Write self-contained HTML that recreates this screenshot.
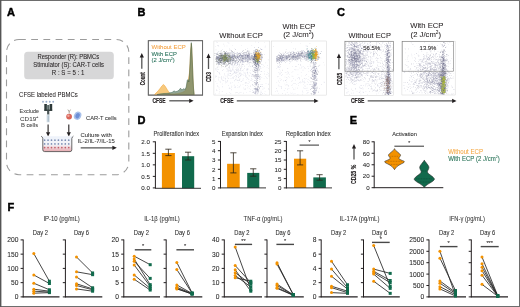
<!DOCTYPE html>
<html><head><meta charset="utf-8"><style>
html,body{margin:0;padding:0;background:#fff;width:520px;height:307px;overflow:hidden}
svg{display:block;filter:blur(0.3px)}
text{font-family:"Liberation Sans", sans-serif}
</style></head><body>
<svg width="520" height="307" viewBox="0 0 520 307" font-family='"Liberation Sans", sans-serif'>
<rect x="0" y="0" width="520" height="307" fill="#fff"/>
<defs><filter id="db" x="-5%" y="-5%" width="110%" height="110%"><feGaussianBlur stdDeviation="0.5"/></filter></defs>
<rect x="0.5" y="0.5" width="519" height="306" fill="none" stroke="#6d6d6d" stroke-width="1"/>
<line x1="0.7" y1="0" x2="0.7" y2="307" stroke="#555" stroke-width="1.4"/>
<text x="7" y="16.2" font-size="11" fill="#000" font-weight="bold" stroke="#000" stroke-width="0.45">A</text>
<text x="137.6" y="16.2" font-size="11" fill="#000" font-weight="bold" stroke="#000" stroke-width="0.45">B</text>
<text x="337" y="16.2" font-size="11" fill="#000" font-weight="bold" stroke="#000" stroke-width="0.45">C</text>
<text x="137.6" y="124.4" font-size="11" fill="#000" font-weight="bold" stroke="#000" stroke-width="0.45">D</text>
<text x="349.8" y="124.4" font-size="11" fill="#000" font-weight="bold" stroke="#000" stroke-width="0.45">E</text>
<text x="7.6" y="210.8" font-size="11" fill="#000" font-weight="bold" stroke="#000" stroke-width="0.45">F</text>
<rect x="6.5" y="39.5" width="122.3" height="135.2" rx="12.5" ry="12.5" fill="none" stroke="#9c9c9c" stroke-width="1.1" stroke-dasharray="6.8 5.4"/>
<rect x="24.2" y="51.8" width="89.6" height="27.4" rx="3.5" fill="#d7d7d8"/>
<text x="68.3" y="59.3" font-size="6.5" text-anchor="middle" fill="#231f20" textLength="61.8" lengthAdjust="spacingAndGlyphs"  stroke="#231f20" stroke-width="0.06">Responder (R): PBMCs</text>
<text x="68.6" y="67.2" font-size="6.5" text-anchor="middle" fill="#231f20" textLength="70.6" lengthAdjust="spacingAndGlyphs"  stroke="#231f20" stroke-width="0.06">Stimulator (S): CAR-T cells</text>
<text x="68.1" y="74.6" font-size="6.5" text-anchor="middle" fill="#231f20" textLength="32.5" lengthAdjust="spacingAndGlyphs"  stroke="#231f20" stroke-width="0.06">R : S = 5 : 1</text>
<text x="19.1" y="96.7" font-size="6.6" fill="#231f20" textLength="58.6" lengthAdjust="spacingAndGlyphs"  stroke="#231f20" stroke-width="0.06">CFSE labeled PBMCs</text>
<text x="29.4" y="113.0" font-size="5.6" text-anchor="middle" fill="#444" textLength="19.6" lengthAdjust="spacingAndGlyphs"  stroke="#444" stroke-width="0.06">Exclude</text>
<text x="29.3" y="120.6" font-size="5.6" text-anchor="middle" fill="#444" textLength="18.4" lengthAdjust="spacingAndGlyphs"  stroke="#444" stroke-width="0.06">CD19<tspan font-size="3.6" dy="-2.3">+</tspan></text>
<text x="29.5" y="127.1" font-size="5.6" text-anchor="middle" fill="#444" textLength="17.2" lengthAdjust="spacingAndGlyphs"  stroke="#444" stroke-width="0.06">B cells</text>
<circle cx="43.0" cy="101.7" r="0.95" fill="#9eb0cc"/>
<circle cx="46.4" cy="101.7" r="0.95" fill="#9eb0cc"/>
<circle cx="49.8" cy="101.7" r="0.95" fill="#9eb0cc"/>
<circle cx="53.2" cy="101.7" r="0.95" fill="#9eb0cc"/>
<rect x="44.3" y="104" width="2.6" height="6.6" fill="#2e3a3a"/>
<rect x="49.6" y="104" width="2.6" height="6.6" fill="#2e3a3a"/>
<rect x="46.9" y="105" width="2.7" height="5.6" fill="#7a8a88"/>
<rect x="47.9" y="105" width="0.6" height="5.6" fill="#3a4646"/>
<rect x="44.3" y="109.6" width="7.9" height="1.3" fill="#2e3a3a"/>
<rect x="47.1" y="110.8" width="2.2" height="3.9" fill="#4a5555"/>
<rect x="46.6" y="114.6" width="3.1" height="7.7" fill="#d3dee6"/>
<rect x="47.8" y="115.5" width="0.7" height="6.2" fill="#8fa4b4"/>
<line x1="48.1" y1="124.6" x2="48.1" y2="132.70000000000002" stroke="#231f20" stroke-width="1.1" />
<path d="M48.1,136.4 L46.0,132.20000000000002 L50.2,132.20000000000002 Z" fill="#231f20"/>
<path d="M69.2,111.8 L69.2,113.5 M69.2,111.8 L67.9,109.6 M69.2,111.8 L70.5,109.6" stroke="#9a8f80" stroke-width="0.8" fill="none"/>
<circle cx="69.1" cy="116.6" r="2.9" fill="#d9655a"/>
<circle cx="68.4" cy="115.8" r="1.2" fill="#f0a79e"/>
<ellipse cx="77.6" cy="115.7" rx="3.6" ry="4.3" fill="#a9c1ea" transform="rotate(25 77.6 115.7)"/>
<ellipse cx="77.6" cy="115.7" rx="2" ry="2.8" fill="#6e8fd6" transform="rotate(25 77.6 115.7)"/>
<line x1="68.8" y1="124.6" x2="68.8" y2="132.70000000000002" stroke="#231f20" stroke-width="1.1" />
<path d="M68.8,136.4 L66.7,132.20000000000002 L70.89999999999999,132.20000000000002 Z" fill="#231f20"/>
<text x="86" y="119.7" font-size="6.1" fill="#333" textLength="30.6" lengthAdjust="spacingAndGlyphs"  stroke="#333" stroke-width="0.06">CAR-T cells</text>
<defs><linearGradient id="wg" x1="0" y1="0" x2="0" y2="1"><stop offset="0" stop-color="#eef3fb"/><stop offset="0.55" stop-color="#f4f4f8"/><stop offset="1" stop-color="#e7a7ad"/></linearGradient></defs>
<path d="M41.2,136.2 Q42.6,137 42.8,138.5 L42.8,149.8 Q42.8,151.6 44.6,151.6 L70.0,151.6 Q71.8,151.6 71.8,149.8 L71.8,138.5 Q72.0,137 73.4,136.2" fill="url(#wg)" stroke="#444" stroke-width="0.8"/>
<circle cx="44.60" cy="140.2" r="0.85" fill="#7d8fb5"/>
<circle cx="48.05" cy="140.2" r="0.85" fill="#7d8fb5"/>
<circle cx="51.50" cy="140.2" r="0.85" fill="#7d8fb5"/>
<circle cx="54.95" cy="140.2" r="0.85" fill="#7d8fb5"/>
<circle cx="58.40" cy="140.2" r="0.85" fill="#7d8fb5"/>
<circle cx="61.85" cy="140.2" r="0.85" fill="#7d8fb5"/>
<circle cx="65.30" cy="140.2" r="0.85" fill="#7d8fb5"/>
<circle cx="68.75" cy="140.2" r="0.85" fill="#7d8fb5"/>
<circle cx="44.60" cy="143.9" r="0.85" fill="#7d8fb5"/>
<circle cx="48.05" cy="143.9" r="0.85" fill="#7d8fb5"/>
<circle cx="51.50" cy="143.9" r="0.85" fill="#7d8fb5"/>
<circle cx="54.95" cy="143.9" r="0.85" fill="#7d8fb5"/>
<circle cx="58.40" cy="143.9" r="0.85" fill="#7d8fb5"/>
<circle cx="61.85" cy="143.9" r="0.85" fill="#7d8fb5"/>
<circle cx="65.30" cy="143.9" r="0.85" fill="#7d8fb5"/>
<circle cx="68.75" cy="143.9" r="0.85" fill="#7d8fb5"/>
<circle cx="44.60" cy="147.6" r="0.85" fill="#c0606a"/>
<circle cx="48.05" cy="147.6" r="0.85" fill="#c0606a"/>
<circle cx="51.50" cy="147.6" r="0.85" fill="#c0606a"/>
<circle cx="54.95" cy="147.6" r="0.85" fill="#c0606a"/>
<circle cx="58.40" cy="147.6" r="0.85" fill="#c0606a"/>
<circle cx="61.85" cy="147.6" r="0.85" fill="#c0606a"/>
<circle cx="65.30" cy="147.6" r="0.85" fill="#c0606a"/>
<circle cx="68.75" cy="147.6" r="0.85" fill="#c0606a"/>
<text x="96.2" y="136.8" font-size="6.1" text-anchor="middle" fill="#333" textLength="31.4" lengthAdjust="spacingAndGlyphs"  stroke="#333" stroke-width="0.06">Culture with</text>
<text x="96.2" y="143.3" font-size="6.1" text-anchor="middle" fill="#333" textLength="37" lengthAdjust="spacingAndGlyphs"  stroke="#333" stroke-width="0.06">IL-2/IL-7/IL-15</text>
<line x1="80.7" y1="147.8" x2="112.89999999999999" y2="147.8" stroke="#555" stroke-width="1.3" />
<path d="M116.8,147.8 L112.39999999999999,145.70000000000002 L112.39999999999999,149.9 Z" fill="#231f20"/>
<rect x="148.3" y="40.7" width="54.3" height="54.4" fill="none" stroke="#666" stroke-width="0.85"/>
<text x="151.5" y="48.7" font-size="6.1" fill="#f4a040" textLength="34.2" lengthAdjust="spacingAndGlyphs"  stroke="#f4a040" stroke-width="0.06">Without ECP</text>
<text x="151.5" y="56.4" font-size="6.1" fill="#1c6a52" textLength="25.4" lengthAdjust="spacingAndGlyphs"  stroke="#1c6a52" stroke-width="0.06">With ECP</text>
<text x="151.5" y="62.4" font-size="6.1" fill="#1c6a52" textLength="23.3" lengthAdjust="spacingAndGlyphs"  stroke="#1c6a52" stroke-width="0.06">(2 J/cm<tspan font-size="3.7" dy="-2.2">2</tspan><tspan dy="2.2">)</tspan></text>
<text x="0" y="0" font-size="6.8" text-anchor="middle" font-weight="bold" fill="#231f20" stroke="#231f20" stroke-width="0.2" textLength="13.2" lengthAdjust="spacingAndGlyphs" transform="translate(144.7,78.7) rotate(-90)">Count</text>
<line x1="141.8" y1="68.8" x2="141.8" y2="56.9" stroke="#555" stroke-width="1.3" />
<path d="M141.8,53 L139.70000000000002,57.4 L143.9,57.4 Z" fill="#231f20"/>
<text x="152.4" y="103.2" font-size="7.4" fill="#231f20" font-weight="bold" textLength="13.2" lengthAdjust="spacingAndGlyphs" stroke="#231f20" stroke-width="0.2">CFSE</text>
<line x1="169.3" y1="100.8" x2="189.7" y2="100.8" stroke="#555" stroke-width="1.3" />
<path d="M193.6,100.8 L189.2,98.7 L189.2,102.89999999999999 Z" fill="#231f20"/>
<text x="241" y="38.1" font-size="7.8" text-anchor="middle" fill="#231f20" textLength="43.6" lengthAdjust="spacingAndGlyphs"  stroke="#231f20" stroke-width="0.06">Without ECP</text>
<text x="298.9" y="28.6" font-size="7.6" text-anchor="middle" fill="#231f20" textLength="32.6" lengthAdjust="spacingAndGlyphs"  stroke="#231f20" stroke-width="0.06">With ECP</text>
<text x="298.6" y="37.2" font-size="7.6" text-anchor="middle" fill="#231f20" textLength="30.6" lengthAdjust="spacingAndGlyphs"  stroke="#231f20" stroke-width="0.06">(2 J/cm<tspan font-size="4.7" dy="-2.9">2</tspan><tspan dy="2.9">)</tspan></text>
<text x="0" y="0" font-size="7.2" text-anchor="middle" font-weight="bold" fill="#231f20" stroke="#231f20" stroke-width="0.2" textLength="10" lengthAdjust="spacingAndGlyphs" transform="translate(211,77) rotate(-90)">CD3</text>
<line x1="208.5" y1="69" x2="208.5" y2="57.5" stroke="#555" stroke-width="1.3" />
<path d="M208.5,53.6 L206.4,58.0 L210.6,58.0 Z" fill="#231f20"/>
<text x="220.2" y="103.2" font-size="7.4" fill="#231f20" font-weight="bold" textLength="13.4" lengthAdjust="spacingAndGlyphs" stroke="#231f20" stroke-width="0.2">CFSE</text>
<line x1="236.8" y1="100.9" x2="314.6" y2="100.9" stroke="#555" stroke-width="1.3" />
<path d="M318.5,100.9 L314.1,98.80000000000001 L314.1,103.0 Z" fill="#231f20"/>
<text x="369.7" y="38.0" font-size="7.8" text-anchor="middle" fill="#231f20" textLength="42.4" lengthAdjust="spacingAndGlyphs"  stroke="#231f20" stroke-width="0.06">Without ECP</text>
<text x="426.8" y="28.0" font-size="7.6" text-anchor="middle" fill="#231f20" textLength="33.2" lengthAdjust="spacingAndGlyphs"  stroke="#231f20" stroke-width="0.06">With ECP</text>
<text x="425.8" y="37.2" font-size="7.6" text-anchor="middle" fill="#231f20" textLength="30.4" lengthAdjust="spacingAndGlyphs"  stroke="#231f20" stroke-width="0.06">(2 J/cm<tspan font-size="4.7" dy="-2.9">2</tspan><tspan dy="2.9">)</tspan></text>
<text x="0" y="0" font-size="7.2" text-anchor="middle" font-weight="bold" fill="#231f20" stroke="#231f20" stroke-width="0.2" textLength="12" lengthAdjust="spacingAndGlyphs" transform="translate(341.5,78.9) rotate(-90)">CD25</text>
<line x1="338.9" y1="69.2" x2="338.9" y2="57.5" stroke="#555" stroke-width="1.3" />
<path d="M338.9,53.6 L336.79999999999995,58.0 L341.0,58.0 Z" fill="#231f20"/>
<text x="350.9" y="103.2" font-size="7.4" fill="#231f20" font-weight="bold" textLength="13.6" lengthAdjust="spacingAndGlyphs" stroke="#231f20" stroke-width="0.2">CFSE</text>
<line x1="367.7" y1="100.9" x2="452.6" y2="100.9" stroke="#555" stroke-width="1.3" />
<path d="M456.5,100.9 L452.1,98.80000000000001 L452.1,103.0 Z" fill="#231f20"/>
<g filter="url(#db)">
<path fill="#a2a4c6" fill-opacity="0.45" d="M231.8 67.0h0.6v0.6h-0.6zM216.1 76.3h0.6v0.6h-0.6zM227.2 80.2h0.6v0.6h-0.6zM248.7 81.2h0.6v0.6h-0.6zM234.5 80.1h0.6v0.6h-0.6zM265.3 75.9h0.6v0.6h-0.6zM245.9 77.1h0.6v0.6h-0.6zM266.0 77.6h0.6v0.6h-0.6zM222.3 83.7h0.6v0.6h-0.6zM235.6 75.2h0.6v0.6h-0.6zM220.0 81.8h0.6v0.6h-0.6zM219.6 74.0h0.6v0.6h-0.6zM247.1 77.6h0.6v0.6h-0.6zM239.6 78.0h0.6v0.6h-0.6zM233.9 84.8h0.6v0.6h-0.6zM255.7 71.8h0.6v0.6h-0.6zM225.0 78.3h0.6v0.6h-0.6zM258.0 64.8h0.6v0.6h-0.6zM239.5 86.5h0.6v0.6h-0.6zM222.6 80.1h0.6v0.6h-0.6zM214.8 94.0h0.6v0.6h-0.6zM243.9 89.5h0.6v0.6h-0.6zM223.5 77.6h0.6v0.6h-0.6zM243.2 77.9h0.6v0.6h-0.6zM238.9 62.9h0.6v0.6h-0.6zM260.2 66.5h0.6v0.6h-0.6zM231.5 85.8h0.6v0.6h-0.6zM232.6 77.1h0.6v0.6h-0.6zM245.4 85.1h0.6v0.6h-0.6zM237.4 64.4h0.6v0.6h-0.6zM248.9 88.5h0.6v0.6h-0.6zM236.3 73.5h0.6v0.6h-0.6zM246.9 84.9h0.6v0.6h-0.6zM250.1 70.2h0.6v0.6h-0.6zM236.0 63.4h0.6v0.6h-0.6zM230.5 82.8h0.6v0.6h-0.6zM245.3 88.8h0.6v0.6h-0.6zM251.4 78.1h0.6v0.6h-0.6zM264.1 71.5h0.6v0.6h-0.6zM247.9 83.2h0.6v0.6h-0.6zM217.3 70.9h0.6v0.6h-0.6zM259.1 78.8h0.6v0.6h-0.6zM236.9 74.4h0.6v0.6h-0.6zM261.0 71.3h0.6v0.6h-0.6zM219.0 73.3h0.6v0.6h-0.6zM234.7 73.2h0.6v0.6h-0.6zM260.7 90.8h0.6v0.6h-0.6zM267.3 78.2h0.6v0.6h-0.6zM218.7 87.6h0.6v0.6h-0.6zM257.0 69.7h0.6v0.6h-0.6zM252.4 65.7h0.6v0.6h-0.6zM264.9 45.8h0.6v0.6h-0.6zM229.4 48.4h0.6v0.6h-0.6zM216.2 41.7h0.6v0.6h-0.6zM264.4 54.3h0.6v0.6h-0.6zM221.3 51.4h0.6v0.6h-0.6zM227.6 42.4h0.6v0.6h-0.6zM267.9 59.6h0.6v0.6h-0.6zM228.6 42.8h0.6v0.6h-0.6zM260.6 55.0h0.6v0.6h-0.6zM247.7 68.4h0.6v0.6h-0.6zM223.6 62.7h0.6v0.6h-0.6zM232.9 69.2h0.6v0.6h-0.6zM231.4 63.7h0.6v0.6h-0.6zM223.5 58.1h0.6v0.6h-0.6zM215.7 67.9h0.6v0.6h-0.6zM230.5 82.6h0.6v0.6h-0.6zM246.2 68.8h0.6v0.6h-0.6zM226.0 63.8h0.6v0.6h-0.6zM247.2 72.3h0.6v0.6h-0.6zM230.4 69.9h0.6v0.6h-0.6zM227.0 60.0h0.6v0.6h-0.6zM254.7 51.8h0.6v0.6h-0.6zM224.8 66.9h0.6v0.6h-0.6zM242.6 80.3h0.6v0.6h-0.6zM253.2 63.5h0.6v0.6h-0.6zM237.9 80.1h0.6v0.6h-0.6zM233.4 62.6h0.6v0.6h-0.6zM230.2 73.2h0.6v0.6h-0.6zM236.1 70.2h0.6v0.6h-0.6zM246.7 83.0h0.6v0.6h-0.6zM219.1 72.6h0.6v0.6h-0.6zM240.3 67.9h0.6v0.6h-0.6zM233.2 73.2h0.6v0.6h-0.6zM240.8 70.7h0.6v0.6h-0.6zM231.2 59.2h0.6v0.6h-0.6zM242.9 58.2h0.6v0.6h-0.6zM240.8 73.0h0.6v0.6h-0.6zM257.5 73.6h0.6v0.6h-0.6zM243.4 62.2h0.6v0.6h-0.6zM237.2 63.6h0.6v0.6h-0.6zM229.9 68.8h0.6v0.6h-0.6zM242.0 70.0h0.6v0.6h-0.6zM231.7 70.0h0.6v0.6h-0.6zM236.4 58.3h0.6v0.6h-0.6zM234.8 87.4h0.6v0.6h-0.6zM238.4 76.7h0.6v0.6h-0.6zM244.1 61.6h0.6v0.6h-0.6zM228.5 71.7h0.6v0.6h-0.6zM242.0 63.5h0.6v0.6h-0.6zM242.3 66.2h0.6v0.6h-0.6zM228.0 75.2h0.6v0.6h-0.6zM233.6 71.7h0.6v0.6h-0.6zM230.8 71.0h0.6v0.6h-0.6zM226.6 70.9h0.6v0.6h-0.6zM237.4 70.1h0.6v0.6h-0.6zM232.2 65.6h0.6v0.6h-0.6zM229.8 70.2h0.6v0.6h-0.6zM235.5 62.5h0.6v0.6h-0.6zM218.6 66.6h0.6v0.6h-0.6zM229.4 75.2h0.6v0.6h-0.6zM239.6 76.0h0.6v0.6h-0.6zM216.9 71.4h0.6v0.6h-0.6zM232.3 74.5h0.6v0.6h-0.6z"/>
<path fill="#9698be" fill-opacity="0.45" d="M218.0 79.7h0.6v0.6h-0.6zM216.6 90.3h0.6v0.6h-0.6zM251.4 76.1h0.6v0.6h-0.6zM239.6 92.5h0.6v0.6h-0.6zM262.1 86.1h0.6v0.6h-0.6zM256.1 80.9h0.6v0.6h-0.6zM268.6 89.1h0.6v0.6h-0.6zM253.4 91.3h0.6v0.6h-0.6zM240.7 81.4h0.6v0.6h-0.6zM222.2 70.3h0.6v0.6h-0.6zM221.9 86.7h0.6v0.6h-0.6zM252.3 70.6h0.6v0.6h-0.6zM243.3 87.7h0.6v0.6h-0.6zM228.3 84.9h0.6v0.6h-0.6zM238.6 92.9h0.6v0.6h-0.6zM219.6 77.5h0.6v0.6h-0.6zM260.2 77.8h0.6v0.6h-0.6zM240.3 67.9h0.6v0.6h-0.6zM267.9 83.7h0.6v0.6h-0.6zM227.2 81.4h0.6v0.6h-0.6zM247.3 68.6h0.6v0.6h-0.6zM262.2 93.1h0.6v0.6h-0.6zM237.6 69.0h0.6v0.6h-0.6zM265.7 83.2h0.6v0.6h-0.6zM236.2 75.9h0.6v0.6h-0.6zM235.1 79.1h0.6v0.6h-0.6zM267.4 65.5h0.6v0.6h-0.6zM260.7 84.3h0.6v0.6h-0.6zM247.4 69.3h0.6v0.6h-0.6zM261.5 77.0h0.6v0.6h-0.6zM268.7 75.8h0.6v0.6h-0.6zM265.6 94.0h0.6v0.6h-0.6zM216.8 68.7h0.6v0.6h-0.6zM228.9 88.5h0.6v0.6h-0.6zM260.0 62.5h0.6v0.6h-0.6zM261.9 84.1h0.6v0.6h-0.6zM231.8 63.1h0.6v0.6h-0.6zM226.0 68.0h0.6v0.6h-0.6zM218.7 63.4h0.6v0.6h-0.6zM217.6 86.3h0.6v0.6h-0.6zM247.0 72.9h0.6v0.6h-0.6zM252.1 84.3h0.6v0.6h-0.6zM260.2 62.1h0.6v0.6h-0.6zM253.2 91.8h0.6v0.6h-0.6zM233.8 76.1h0.6v0.6h-0.6zM238.8 86.8h0.6v0.6h-0.6zM221.0 77.6h0.6v0.6h-0.6zM229.5 70.4h0.6v0.6h-0.6zM241.4 81.0h0.6v0.6h-0.6zM236.0 76.7h0.6v0.6h-0.6zM215.6 75.6h0.6v0.6h-0.6zM252.3 56.1h0.6v0.6h-0.6zM251.5 45.2h0.6v0.6h-0.6zM226.7 45.7h0.6v0.6h-0.6zM238.7 56.0h0.6v0.6h-0.6zM255.1 59.9h0.6v0.6h-0.6zM216.4 56.7h0.6v0.6h-0.6zM247.4 47.9h0.6v0.6h-0.6zM237.4 64.3h0.6v0.6h-0.6zM228.1 67.2h0.6v0.6h-0.6zM237.2 72.4h0.6v0.6h-0.6zM238.2 69.0h0.6v0.6h-0.6zM234.5 71.6h0.6v0.6h-0.6zM239.8 73.7h0.6v0.6h-0.6zM233.5 66.0h0.6v0.6h-0.6zM230.3 73.3h0.6v0.6h-0.6zM231.6 78.4h0.6v0.6h-0.6zM234.5 70.7h0.6v0.6h-0.6zM240.9 68.5h0.6v0.6h-0.6zM226.8 64.8h0.6v0.6h-0.6zM243.7 72.6h0.6v0.6h-0.6zM246.4 82.5h0.6v0.6h-0.6zM244.2 65.7h0.6v0.6h-0.6zM225.5 75.7h0.6v0.6h-0.6zM247.8 69.5h0.6v0.6h-0.6zM232.9 78.1h0.6v0.6h-0.6zM235.9 65.0h0.6v0.6h-0.6zM247.0 73.0h0.6v0.6h-0.6zM224.2 59.2h0.6v0.6h-0.6zM251.7 74.5h0.6v0.6h-0.6zM238.2 66.0h0.6v0.6h-0.6zM249.7 91.1h0.6v0.6h-0.6zM236.3 72.0h0.6v0.6h-0.6zM251.9 59.9h0.6v0.6h-0.6zM250.0 66.1h0.6v0.6h-0.6zM241.8 61.2h0.6v0.6h-0.6zM233.8 76.1h0.6v0.6h-0.6zM242.9 70.7h0.6v0.6h-0.6zM250.5 73.5h0.6v0.6h-0.6zM234.6 86.8h0.6v0.6h-0.6zM232.1 68.8h0.6v0.6h-0.6zM233.9 60.6h0.6v0.6h-0.6zM216.7 83.4h0.6v0.6h-0.6zM251.3 79.8h0.6v0.6h-0.6zM232.3 62.3h0.6v0.6h-0.6zM233.1 60.4h0.6v0.6h-0.6zM223.2 69.2h0.6v0.6h-0.6zM234.1 71.9h0.6v0.6h-0.6zM227.8 73.6h0.6v0.6h-0.6zM232.2 68.4h0.6v0.6h-0.6zM225.3 80.8h0.6v0.6h-0.6zM231.5 62.8h0.6v0.6h-0.6zM227.8 77.9h0.6v0.6h-0.6zM231.4 64.4h0.6v0.6h-0.6zM238.7 70.3h0.6v0.6h-0.6zM226.5 81.8h0.6v0.6h-0.6zM227.2 74.7h0.6v0.6h-0.6z"/>
<path fill="#b0b2d0" fill-opacity="0.45" d="M246.1 92.0h0.6v0.6h-0.6zM259.5 66.1h0.6v0.6h-0.6zM245.7 75.1h0.6v0.6h-0.6zM231.0 88.9h0.6v0.6h-0.6zM219.7 80.8h0.6v0.6h-0.6zM230.5 88.2h0.6v0.6h-0.6zM237.0 87.0h0.6v0.6h-0.6zM215.2 77.2h0.6v0.6h-0.6zM247.6 78.3h0.6v0.6h-0.6zM256.3 66.3h0.6v0.6h-0.6zM266.7 67.0h0.6v0.6h-0.6zM234.3 80.7h0.6v0.6h-0.6zM240.5 75.2h0.6v0.6h-0.6zM217.7 68.9h0.6v0.6h-0.6zM264.0 73.7h0.6v0.6h-0.6zM249.0 82.2h0.6v0.6h-0.6zM258.3 89.0h0.6v0.6h-0.6zM266.5 74.0h0.6v0.6h-0.6zM264.0 87.8h0.6v0.6h-0.6zM253.9 67.6h0.6v0.6h-0.6zM268.3 68.4h0.6v0.6h-0.6zM215.0 76.5h0.6v0.6h-0.6zM247.5 87.6h0.6v0.6h-0.6zM262.6 63.9h0.6v0.6h-0.6zM264.8 91.5h0.6v0.6h-0.6zM235.6 72.4h0.6v0.6h-0.6zM257.1 91.6h0.6v0.6h-0.6zM262.7 67.4h0.6v0.6h-0.6zM242.2 64.1h0.6v0.6h-0.6zM229.0 91.9h0.6v0.6h-0.6zM229.3 88.4h0.6v0.6h-0.6zM248.2 63.4h0.6v0.6h-0.6zM248.6 79.5h0.6v0.6h-0.6zM229.9 78.5h0.6v0.6h-0.6zM267.4 72.2h0.6v0.6h-0.6zM268.0 73.3h0.6v0.6h-0.6zM219.0 89.0h0.6v0.6h-0.6zM246.2 79.5h0.6v0.6h-0.6zM222.2 85.9h0.6v0.6h-0.6zM259.5 81.3h0.6v0.6h-0.6zM258.5 89.9h0.6v0.6h-0.6zM268.7 74.8h0.6v0.6h-0.6zM251.5 75.4h0.6v0.6h-0.6zM260.2 66.0h0.6v0.6h-0.6zM259.9 71.4h0.6v0.6h-0.6zM244.7 75.0h0.6v0.6h-0.6zM263.8 78.4h0.6v0.6h-0.6zM237.5 80.1h0.6v0.6h-0.6zM235.1 86.6h0.6v0.6h-0.6zM220.9 78.6h0.6v0.6h-0.6zM261.1 94.1h0.6v0.6h-0.6zM257.1 69.4h0.6v0.6h-0.6zM249.5 72.0h0.6v0.6h-0.6zM230.5 93.1h0.6v0.6h-0.6zM231.4 89.7h0.6v0.6h-0.6zM240.1 69.7h0.6v0.6h-0.6zM254.7 51.6h0.6v0.6h-0.6zM241.3 45.2h0.6v0.6h-0.6zM222.1 49.3h0.6v0.6h-0.6zM254.3 61.9h0.6v0.6h-0.6zM218.8 55.8h0.6v0.6h-0.6zM234.5 60.3h0.6v0.6h-0.6zM258.2 42.3h0.6v0.6h-0.6zM258.1 56.5h0.6v0.6h-0.6zM218.3 45.1h0.6v0.6h-0.6zM240.5 52.4h0.6v0.6h-0.6zM238.1 75.0h0.6v0.6h-0.6zM246.7 69.6h0.6v0.6h-0.6zM250.2 72.7h0.6v0.6h-0.6zM239.8 60.1h0.6v0.6h-0.6zM233.5 67.7h0.6v0.6h-0.6zM236.3 70.7h0.6v0.6h-0.6zM228.4 66.9h0.6v0.6h-0.6zM238.0 71.7h0.6v0.6h-0.6zM239.9 75.7h0.6v0.6h-0.6zM224.8 77.8h0.6v0.6h-0.6zM246.3 64.5h0.6v0.6h-0.6zM240.9 73.7h0.6v0.6h-0.6zM231.4 65.2h0.6v0.6h-0.6zM228.3 64.5h0.6v0.6h-0.6zM233.4 69.9h0.6v0.6h-0.6zM232.1 82.4h0.6v0.6h-0.6zM230.4 59.7h0.6v0.6h-0.6zM215.8 69.8h0.6v0.6h-0.6zM225.6 64.7h0.6v0.6h-0.6zM235.0 71.7h0.6v0.6h-0.6zM227.8 56.6h0.6v0.6h-0.6zM234.2 72.5h0.6v0.6h-0.6zM242.6 74.1h0.6v0.6h-0.6zM229.5 73.1h0.6v0.6h-0.6zM236.8 71.0h0.6v0.6h-0.6zM249.5 65.6h0.6v0.6h-0.6zM227.0 68.6h0.6v0.6h-0.6zM247.4 70.7h0.6v0.6h-0.6zM243.4 69.0h0.6v0.6h-0.6zM245.2 74.3h0.6v0.6h-0.6zM235.6 75.1h0.6v0.6h-0.6zM242.0 64.1h0.6v0.6h-0.6zM229.0 67.4h0.6v0.6h-0.6zM245.6 76.3h0.6v0.6h-0.6zM245.5 60.7h0.6v0.6h-0.6zM231.2 70.5h0.6v0.6h-0.6zM244.5 54.8h0.6v0.6h-0.6zM237.6 69.0h0.6v0.6h-0.6zM227.2 69.9h0.6v0.6h-0.6zM231.4 75.1h0.6v0.6h-0.6zM233.4 65.0h0.6v0.6h-0.6zM243.0 75.5h0.6v0.6h-0.6zM239.0 73.4h0.6v0.6h-0.6zM240.3 75.3h0.6v0.6h-0.6zM242.7 78.8h0.6v0.6h-0.6zM235.0 62.6h0.6v0.6h-0.6zM235.9 69.3h0.6v0.6h-0.6zM224.9 64.7h0.6v0.6h-0.6zM229.3 65.0h0.6v0.6h-0.6zM246.9 72.1h0.6v0.6h-0.6zM231.3 53.2h0.6v0.6h-0.6zM227.0 61.3h0.6v0.6h-0.6zM249.1 63.2h0.6v0.6h-0.6zM220.4 63.5h0.6v0.6h-0.6zM237.4 63.6h0.6v0.6h-0.6zM240.1 57.0h0.6v0.6h-0.6zM229.4 68.1h0.6v0.6h-0.6zM245.4 72.8h0.6v0.6h-0.6zM233.9 65.0h0.6v0.6h-0.6zM238.1 77.1h0.6v0.6h-0.6z"/>
<path fill="#b8b8c8" fill-opacity="0.45" d="M237.1 79.8h0.6v0.6h-0.6zM247.5 64.4h0.6v0.6h-0.6zM217.3 85.1h0.6v0.6h-0.6zM218.4 76.8h0.6v0.6h-0.6zM229.5 66.8h0.6v0.6h-0.6zM252.0 79.0h0.6v0.6h-0.6zM263.5 87.7h0.6v0.6h-0.6zM240.3 84.8h0.6v0.6h-0.6zM215.3 93.4h0.6v0.6h-0.6zM225.2 82.6h0.6v0.6h-0.6zM258.4 66.8h0.6v0.6h-0.6zM215.5 69.0h0.6v0.6h-0.6zM250.4 88.9h0.6v0.6h-0.6zM237.1 92.3h0.6v0.6h-0.6zM221.2 67.0h0.6v0.6h-0.6zM244.6 72.8h0.6v0.6h-0.6zM229.2 87.5h0.6v0.6h-0.6zM238.4 82.2h0.6v0.6h-0.6zM241.9 70.2h0.6v0.6h-0.6zM222.9 76.2h0.6v0.6h-0.6zM236.3 79.7h0.6v0.6h-0.6zM216.0 62.6h0.6v0.6h-0.6zM235.0 77.7h0.6v0.6h-0.6zM250.2 85.6h0.6v0.6h-0.6zM216.4 89.6h0.6v0.6h-0.6zM248.5 86.2h0.6v0.6h-0.6zM221.7 79.3h0.6v0.6h-0.6zM244.7 82.7h0.6v0.6h-0.6zM239.1 64.3h0.6v0.6h-0.6zM263.4 65.0h0.6v0.6h-0.6zM239.6 65.9h0.6v0.6h-0.6zM218.1 65.0h0.6v0.6h-0.6zM228.4 73.9h0.6v0.6h-0.6zM227.7 70.8h0.6v0.6h-0.6zM264.2 93.0h0.6v0.6h-0.6zM240.7 92.1h0.6v0.6h-0.6zM249.4 64.5h0.6v0.6h-0.6zM231.6 74.2h0.6v0.6h-0.6zM235.5 92.6h0.6v0.6h-0.6zM235.3 69.4h0.6v0.6h-0.6zM220.0 54.1h0.6v0.6h-0.6zM264.1 42.2h0.6v0.6h-0.6zM232.1 44.9h0.6v0.6h-0.6zM234.0 48.0h0.6v0.6h-0.6zM264.8 47.2h0.6v0.6h-0.6zM239.3 57.5h0.6v0.6h-0.6zM248.1 55.2h0.6v0.6h-0.6zM236.7 75.7h0.6v0.6h-0.6zM236.3 72.2h0.6v0.6h-0.6zM245.5 75.8h0.6v0.6h-0.6zM217.5 62.9h0.6v0.6h-0.6zM224.7 59.4h0.6v0.6h-0.6zM225.3 79.4h0.6v0.6h-0.6zM248.7 75.6h0.6v0.6h-0.6zM237.8 64.7h0.6v0.6h-0.6zM219.4 54.5h0.6v0.6h-0.6zM228.9 65.0h0.6v0.6h-0.6zM226.2 64.8h0.6v0.6h-0.6zM239.8 73.6h0.6v0.6h-0.6zM234.3 64.7h0.6v0.6h-0.6zM230.1 60.4h0.6v0.6h-0.6zM239.2 76.5h0.6v0.6h-0.6zM237.3 85.2h0.6v0.6h-0.6zM226.7 75.8h0.6v0.6h-0.6zM236.6 68.3h0.6v0.6h-0.6zM217.1 60.3h0.6v0.6h-0.6zM232.9 77.0h0.6v0.6h-0.6zM240.4 68.7h0.6v0.6h-0.6zM242.6 64.4h0.6v0.6h-0.6zM228.9 69.7h0.6v0.6h-0.6zM231.2 70.9h0.6v0.6h-0.6zM244.0 65.9h0.6v0.6h-0.6zM229.5 61.1h0.6v0.6h-0.6zM231.9 69.6h0.6v0.6h-0.6zM215.2 68.6h0.6v0.6h-0.6zM234.9 53.4h0.6v0.6h-0.6zM228.6 71.2h0.6v0.6h-0.6zM237.9 68.1h0.6v0.6h-0.6zM227.9 68.8h0.6v0.6h-0.6zM238.4 76.9h0.6v0.6h-0.6zM245.3 82.8h0.6v0.6h-0.6zM239.9 69.6h0.6v0.6h-0.6zM240.7 63.0h0.6v0.6h-0.6zM240.2 75.2h0.6v0.6h-0.6zM227.5 80.2h0.6v0.6h-0.6z"/>
<path fill="#a9a9bb" fill-opacity="0.45" d="M245.0 82.4h0.6v0.6h-0.6zM218.5 71.9h0.6v0.6h-0.6zM232.7 73.6h0.6v0.6h-0.6zM235.9 92.3h0.6v0.6h-0.6zM229.3 66.5h0.6v0.6h-0.6zM261.5 71.2h0.6v0.6h-0.6zM268.3 84.5h0.6v0.6h-0.6zM250.0 86.4h0.6v0.6h-0.6zM217.9 68.9h0.6v0.6h-0.6zM268.4 88.1h0.6v0.6h-0.6zM218.8 93.2h0.6v0.6h-0.6zM215.5 81.5h0.6v0.6h-0.6zM243.0 92.8h0.6v0.6h-0.6zM264.1 73.7h0.6v0.6h-0.6zM238.9 79.6h0.6v0.6h-0.6zM221.9 91.1h0.6v0.6h-0.6zM226.1 93.4h0.6v0.6h-0.6zM228.9 66.3h0.6v0.6h-0.6zM244.3 68.3h0.6v0.6h-0.6zM227.5 76.8h0.6v0.6h-0.6zM250.1 80.0h0.6v0.6h-0.6zM237.7 63.8h0.6v0.6h-0.6zM239.3 67.2h0.6v0.6h-0.6zM235.4 72.8h0.6v0.6h-0.6zM266.8 74.4h0.6v0.6h-0.6zM254.1 68.8h0.6v0.6h-0.6zM241.2 74.6h0.6v0.6h-0.6zM248.2 66.4h0.6v0.6h-0.6zM253.0 71.4h0.6v0.6h-0.6zM265.5 62.6h0.6v0.6h-0.6zM218.2 78.7h0.6v0.6h-0.6zM252.7 69.6h0.6v0.6h-0.6zM235.7 67.2h0.6v0.6h-0.6zM227.9 64.1h0.6v0.6h-0.6zM231.4 87.5h0.6v0.6h-0.6zM262.6 88.8h0.6v0.6h-0.6zM225.2 64.7h0.6v0.6h-0.6zM236.3 69.9h0.6v0.6h-0.6zM238.9 73.0h0.6v0.6h-0.6zM225.1 62.7h0.6v0.6h-0.6zM219.1 91.6h0.6v0.6h-0.6zM221.0 76.0h0.6v0.6h-0.6zM242.7 84.5h0.6v0.6h-0.6zM248.5 79.4h0.6v0.6h-0.6zM217.0 45.1h0.6v0.6h-0.6zM218.5 45.8h0.6v0.6h-0.6zM224.3 45.7h0.6v0.6h-0.6zM215.3 53.5h0.6v0.6h-0.6zM216.9 42.3h0.6v0.6h-0.6zM255.0 41.7h0.6v0.6h-0.6zM260.2 61.7h0.6v0.6h-0.6zM244.9 56.9h0.6v0.6h-0.6zM233.6 58.3h0.6v0.6h-0.6zM231.8 56.5h0.6v0.6h-0.6zM215.7 49.6h0.6v0.6h-0.6zM215.3 45.9h0.6v0.6h-0.6zM253.4 50.8h0.6v0.6h-0.6zM257.4 60.2h0.6v0.6h-0.6zM237.2 61.8h0.6v0.6h-0.6zM223.5 43.8h0.6v0.6h-0.6zM233.6 67.4h0.6v0.6h-0.6zM240.2 69.8h0.6v0.6h-0.6zM240.8 66.6h0.6v0.6h-0.6zM223.5 80.1h0.6v0.6h-0.6zM242.6 58.1h0.6v0.6h-0.6zM238.0 70.8h0.6v0.6h-0.6zM230.5 64.5h0.6v0.6h-0.6zM221.2 76.0h0.6v0.6h-0.6zM221.6 77.7h0.6v0.6h-0.6zM238.6 74.5h0.6v0.6h-0.6zM232.1 64.6h0.6v0.6h-0.6zM224.2 74.6h0.6v0.6h-0.6zM224.2 73.2h0.6v0.6h-0.6zM244.5 59.1h0.6v0.6h-0.6zM239.7 72.3h0.6v0.6h-0.6zM249.2 75.6h0.6v0.6h-0.6zM244.8 88.6h0.6v0.6h-0.6zM253.0 74.2h0.6v0.6h-0.6zM235.9 78.7h0.6v0.6h-0.6zM235.3 63.3h0.6v0.6h-0.6zM234.1 71.7h0.6v0.6h-0.6zM239.6 79.4h0.6v0.6h-0.6zM227.9 62.1h0.6v0.6h-0.6zM247.6 73.8h0.6v0.6h-0.6zM235.8 69.2h0.6v0.6h-0.6zM235.7 62.2h0.6v0.6h-0.6zM247.0 61.9h0.6v0.6h-0.6zM237.5 60.6h0.6v0.6h-0.6zM229.4 67.4h0.6v0.6h-0.6zM246.5 70.2h0.6v0.6h-0.6zM230.3 57.7h0.6v0.6h-0.6zM230.4 75.6h0.6v0.6h-0.6zM247.6 62.7h0.6v0.6h-0.6zM235.7 65.7h0.6v0.6h-0.6zM253.6 71.1h0.6v0.6h-0.6zM241.3 66.8h0.6v0.6h-0.6zM230.1 71.3h0.6v0.6h-0.6zM226.8 69.0h0.6v0.6h-0.6zM239.4 80.3h0.6v0.6h-0.6zM264.4 66.0h0.6v0.6h-0.6zM240.7 60.8h0.6v0.6h-0.6zM228.2 78.0h0.6v0.6h-0.6zM226.8 60.2h0.6v0.6h-0.6zM232.1 59.8h0.6v0.6h-0.6zM228.4 70.1h0.6v0.6h-0.6zM237.4 67.1h0.6v0.6h-0.6zM236.8 65.2h0.6v0.6h-0.6zM239.5 64.8h0.6v0.6h-0.6z"/>
<path fill="#8a8cae" fill-opacity="0.6" d="M256.2 55.7h0.6v0.6h-0.6zM221.0 63.3h0.6v0.6h-0.6zM218.8 54.9h0.6v0.6h-0.6zM248.0 60.6h0.6v0.6h-0.6zM219.8 58.8h0.6v0.6h-0.6zM223.5 59.2h0.6v0.6h-0.6zM242.9 59.4h0.6v0.6h-0.6zM240.8 56.1h0.6v0.6h-0.6zM233.1 57.7h0.6v0.6h-0.6zM256.1 56.9h0.6v0.6h-0.6zM233.1 55.7h0.6v0.6h-0.6zM253.1 62.0h0.6v0.6h-0.6zM258.6 59.0h0.6v0.6h-0.6zM228.3 57.5h0.6v0.6h-0.6zM228.0 60.4h0.6v0.6h-0.6zM221.5 58.5h0.6v0.6h-0.6zM261.0 59.0h0.6v0.6h-0.6zM231.4 60.9h0.6v0.6h-0.6zM220.2 53.6h0.6v0.6h-0.6zM245.3 55.2h0.6v0.6h-0.6zM249.0 58.4h0.6v0.6h-0.6zM240.2 59.3h0.6v0.6h-0.6zM260.6 59.1h0.6v0.6h-0.6zM227.5 57.2h0.6v0.6h-0.6zM219.2 58.5h0.6v0.6h-0.6zM225.2 57.1h0.6v0.6h-0.6zM260.6 54.8h0.6v0.6h-0.6zM244.6 57.2h0.6v0.6h-0.6zM245.9 58.5h0.6v0.6h-0.6zM255.6 57.0h0.6v0.6h-0.6zM236.2 60.2h0.6v0.6h-0.6zM220.4 62.2h0.6v0.6h-0.6zM256.1 54.6h0.6v0.6h-0.6zM230.8 59.1h0.6v0.6h-0.6zM240.8 57.5h0.6v0.6h-0.6zM239.8 53.2h0.6v0.6h-0.6zM256.5 59.9h0.6v0.6h-0.6zM247.7 60.8h0.6v0.6h-0.6zM259.6 57.4h0.6v0.6h-0.6zM236.7 56.9h0.6v0.6h-0.6zM255.3 54.4h0.6v0.6h-0.6zM227.2 52.9h0.6v0.6h-0.6zM247.0 54.7h0.6v0.6h-0.6zM256.3 55.3h0.6v0.6h-0.6zM223.3 55.5h0.6v0.6h-0.6zM222.0 57.7h0.6v0.6h-0.6zM251.5 59.9h0.6v0.6h-0.6zM247.8 59.5h0.6v0.6h-0.6zM217.2 57.6h0.6v0.6h-0.6zM247.2 54.0h0.6v0.6h-0.6zM227.7 61.2h0.6v0.6h-0.6zM240.3 53.5h0.6v0.6h-0.6zM247.1 61.5h0.6v0.6h-0.6zM223.4 59.7h0.6v0.6h-0.6zM218.1 59.7h0.6v0.6h-0.6zM241.9 59.9h0.6v0.6h-0.6zM260.6 57.2h0.6v0.6h-0.6zM255.8 58.6h0.6v0.6h-0.6zM242.0 56.4h0.6v0.6h-0.6zM249.8 60.1h0.6v0.6h-0.6zM247.3 55.2h0.6v0.6h-0.6zM239.6 54.9h0.6v0.6h-0.6zM217.1 61.7h0.6v0.6h-0.6zM234.1 54.9h0.6v0.6h-0.6zM235.7 58.4h0.6v0.6h-0.6zM247.2 56.6h0.6v0.6h-0.6zM234.4 60.5h0.6v0.6h-0.6zM253.4 55.9h0.6v0.6h-0.6zM216.4 58.1h0.6v0.6h-0.6zM251.8 57.3h0.6v0.6h-0.6zM226.5 53.7h0.6v0.6h-0.6zM229.7 60.5h0.6v0.6h-0.6zM253.9 56.3h0.6v0.6h-0.6zM223.4 56.6h0.6v0.6h-0.6zM218.1 64.0h0.6v0.6h-0.6zM232.2 57.8h0.6v0.6h-0.6zM239.4 64.7h0.6v0.6h-0.6zM236.9 57.1h0.6v0.6h-0.6zM249.0 55.1h0.6v0.6h-0.6zM248.8 51.6h0.6v0.6h-0.6zM257.8 54.5h0.6v0.6h-0.6zM227.0 60.5h0.6v0.6h-0.6zM255.9 59.4h0.6v0.6h-0.6zM260.6 57.1h0.6v0.6h-0.6zM245.8 58.2h0.6v0.6h-0.6zM246.6 56.7h0.6v0.6h-0.6zM237.3 52.4h0.6v0.6h-0.6zM230.0 55.1h0.6v0.6h-0.6zM240.7 55.2h0.6v0.6h-0.6zM239.7 62.4h0.6v0.6h-0.6zM220.4 59.8h0.6v0.6h-0.6zM223.0 60.6h0.6v0.6h-0.6zM219.4 57.8h0.6v0.6h-0.6zM246.2 59.6h0.6v0.6h-0.6zM243.4 59.3h0.6v0.6h-0.6zM217.7 62.0h0.6v0.6h-0.6zM254.7 55.8h0.6v0.6h-0.6zM221.4 59.6h0.6v0.6h-0.6zM261.9 57.4h0.6v0.6h-0.6zM253.3 59.0h0.6v0.6h-0.6zM243.2 58.3h0.6v0.6h-0.6zM261.9 57.3h0.6v0.6h-0.6zM227.0 55.0h0.6v0.6h-0.6zM256.9 60.7h0.6v0.6h-0.6zM254.5 54.8h0.6v0.6h-0.6zM229.8 52.4h0.6v0.6h-0.6zM232.3 60.6h0.6v0.6h-0.6zM224.6 59.3h0.6v0.6h-0.6zM223.7 55.1h0.6v0.6h-0.6zM259.5 56.9h0.6v0.6h-0.6zM246.7 60.6h0.6v0.6h-0.6zM232.6 55.7h0.6v0.6h-0.6zM256.3 57.8h0.6v0.6h-0.6zM259.6 52.0h0.6v0.6h-0.6zM235.4 62.5h0.6v0.6h-0.6zM245.8 58.6h0.6v0.6h-0.6zM257.0 52.9h0.6v0.6h-0.6zM228.0 55.8h0.6v0.6h-0.6zM258.6 54.3h0.6v0.6h-0.6zM253.3 57.7h0.6v0.6h-0.6zM260.5 53.7h0.6v0.6h-0.6zM248.8 59.9h0.6v0.6h-0.6zM222.1 57.7h0.6v0.6h-0.6zM255.2 55.0h0.6v0.6h-0.6z"/>
<path fill="#62648a" fill-opacity="0.6" d="M252.4 58.5h0.6v0.6h-0.6zM218.3 57.4h0.6v0.6h-0.6zM252.2 54.9h0.6v0.6h-0.6zM258.9 55.5h0.6v0.6h-0.6zM247.6 55.1h0.6v0.6h-0.6zM260.1 58.5h0.6v0.6h-0.6zM243.7 52.5h0.6v0.6h-0.6zM216.1 61.5h0.6v0.6h-0.6zM253.3 59.3h0.6v0.6h-0.6zM247.2 55.3h0.6v0.6h-0.6zM252.4 55.8h0.6v0.6h-0.6zM253.1 58.6h0.6v0.6h-0.6zM252.2 59.0h0.6v0.6h-0.6zM233.4 58.5h0.6v0.6h-0.6zM239.3 59.7h0.6v0.6h-0.6zM226.2 60.1h0.6v0.6h-0.6zM251.0 55.7h0.6v0.6h-0.6zM220.8 61.9h0.6v0.6h-0.6zM259.0 61.0h0.6v0.6h-0.6zM254.7 54.7h0.6v0.6h-0.6zM227.4 61.6h0.6v0.6h-0.6zM241.8 54.8h0.6v0.6h-0.6zM253.1 60.0h0.6v0.6h-0.6zM229.2 59.7h0.6v0.6h-0.6zM246.8 55.9h0.6v0.6h-0.6zM239.8 56.8h0.6v0.6h-0.6zM257.9 51.1h0.6v0.6h-0.6zM254.3 55.7h0.6v0.6h-0.6zM216.9 62.6h0.6v0.6h-0.6zM243.0 57.7h0.6v0.6h-0.6zM227.1 58.9h0.6v0.6h-0.6zM248.9 59.1h0.6v0.6h-0.6zM218.5 51.4h0.6v0.6h-0.6zM222.0 57.5h0.6v0.6h-0.6zM257.0 60.9h0.6v0.6h-0.6zM243.9 55.7h0.6v0.6h-0.6zM232.2 56.0h0.6v0.6h-0.6zM222.9 58.3h0.6v0.6h-0.6zM247.9 55.4h0.6v0.6h-0.6zM233.5 52.4h0.6v0.6h-0.6zM254.6 55.6h0.6v0.6h-0.6zM217.2 61.2h0.6v0.6h-0.6zM242.0 51.1h0.6v0.6h-0.6zM232.7 56.8h0.6v0.6h-0.6zM246.2 54.2h0.6v0.6h-0.6zM251.4 55.0h0.6v0.6h-0.6zM216.4 60.6h0.6v0.6h-0.6zM235.4 61.1h0.6v0.6h-0.6zM241.5 55.0h0.6v0.6h-0.6zM243.0 55.2h0.6v0.6h-0.6zM219.1 62.7h0.6v0.6h-0.6zM234.4 59.1h0.6v0.6h-0.6zM225.1 60.3h0.6v0.6h-0.6zM247.3 59.5h0.6v0.6h-0.6zM254.1 46.9h0.6v0.6h-0.6zM218.0 56.9h0.6v0.6h-0.6zM232.5 56.2h0.6v0.6h-0.6zM236.5 60.0h0.6v0.6h-0.6zM218.8 58.6h0.6v0.6h-0.6zM230.8 57.1h0.6v0.6h-0.6zM244.4 54.3h0.6v0.6h-0.6zM230.7 60.6h0.6v0.6h-0.6zM222.3 62.9h0.6v0.6h-0.6zM235.6 57.7h0.6v0.6h-0.6zM219.3 62.5h0.6v0.6h-0.6zM249.2 53.6h0.6v0.6h-0.6zM244.0 56.2h0.6v0.6h-0.6zM246.4 52.9h0.6v0.6h-0.6zM240.4 54.0h0.6v0.6h-0.6zM232.9 55.0h0.6v0.6h-0.6zM253.0 56.9h0.6v0.6h-0.6zM221.6 57.8h0.6v0.6h-0.6zM243.1 57.3h0.6v0.6h-0.6zM239.8 55.3h0.6v0.6h-0.6zM237.5 59.8h0.6v0.6h-0.6zM242.6 56.4h0.6v0.6h-0.6zM239.0 59.7h0.6v0.6h-0.6zM227.3 61.1h0.6v0.6h-0.6zM218.8 55.2h0.6v0.6h-0.6zM236.8 54.2h0.6v0.6h-0.6zM224.2 50.9h0.6v0.6h-0.6zM257.1 59.5h0.6v0.6h-0.6zM225.7 52.8h0.6v0.6h-0.6zM236.8 62.1h0.6v0.6h-0.6zM232.6 55.6h0.6v0.6h-0.6zM241.0 58.8h0.6v0.6h-0.6zM259.2 61.3h0.6v0.6h-0.6zM240.3 54.2h0.6v0.6h-0.6zM225.8 66.0h0.6v0.6h-0.6zM232.3 56.4h0.6v0.6h-0.6zM226.0 56.6h0.6v0.6h-0.6zM256.6 58.2h0.6v0.6h-0.6zM224.4 64.1h0.6v0.6h-0.6zM223.0 59.5h0.6v0.6h-0.6zM220.2 55.2h0.6v0.6h-0.6zM245.5 55.8h0.6v0.6h-0.6zM216.9 56.5h0.6v0.6h-0.6zM252.3 59.0h0.6v0.6h-0.6zM216.2 53.5h0.6v0.6h-0.6zM253.9 58.3h0.6v0.6h-0.6zM260.9 56.1h0.6v0.6h-0.6zM246.6 61.4h0.6v0.6h-0.6zM240.3 54.8h0.6v0.6h-0.6zM229.9 56.7h0.6v0.6h-0.6zM226.9 60.4h0.6v0.6h-0.6zM228.6 56.7h0.6v0.6h-0.6zM249.0 56.5h0.6v0.6h-0.6zM258.6 53.8h0.6v0.6h-0.6zM261.5 63.9h0.6v0.6h-0.6zM234.2 60.9h0.6v0.6h-0.6zM238.9 55.6h0.6v0.6h-0.6zM226.3 51.3h0.6v0.6h-0.6zM256.2 54.7h0.6v0.6h-0.6zM248.5 56.6h0.6v0.6h-0.6zM260.8 49.1h0.6v0.6h-0.6zM242.6 58.2h0.6v0.6h-0.6zM217.5 52.5h0.6v0.6h-0.6zM238.1 58.3h0.6v0.6h-0.6zM250.1 59.1h0.6v0.6h-0.6zM217.9 58.1h0.6v0.6h-0.6zM250.2 58.5h0.6v0.6h-0.6zM223.7 62.7h0.6v0.6h-0.6zM240.2 54.4h0.6v0.6h-0.6zM238.8 56.6h0.6v0.6h-0.6zM240.5 58.7h0.6v0.6h-0.6zM244.5 56.9h0.6v0.6h-0.6zM233.3 60.0h0.6v0.6h-0.6zM260.1 54.9h0.6v0.6h-0.6zM230.2 62.0h0.6v0.6h-0.6zM258.7 52.5h0.6v0.6h-0.6zM228.3 59.8h0.6v0.6h-0.6zM245.5 57.2h0.6v0.6h-0.6zM223.5 58.1h0.6v0.6h-0.6zM224.6 63.0h0.6v0.6h-0.6zM245.3 54.9h0.6v0.6h-0.6zM259.2 54.4h0.6v0.6h-0.6zM254.1 59.1h0.6v0.6h-0.6zM254.6 54.2h0.6v0.6h-0.6zM246.8 60.7h0.6v0.6h-0.6z"/>
<path fill="#6a6a80" fill-opacity="0.6" d="M224.8 57.8h0.6v0.6h-0.6zM244.0 58.8h0.6v0.6h-0.6zM244.4 57.2h0.6v0.6h-0.6zM225.8 52.8h0.6v0.6h-0.6zM245.1 56.0h0.6v0.6h-0.6zM261.7 56.8h0.6v0.6h-0.6zM216.4 58.9h0.6v0.6h-0.6zM228.7 55.2h0.6v0.6h-0.6zM229.5 54.8h0.6v0.6h-0.6zM216.7 58.7h0.6v0.6h-0.6zM232.7 58.1h0.6v0.6h-0.6zM231.4 57.1h0.6v0.6h-0.6zM251.5 57.3h0.6v0.6h-0.6zM245.5 58.5h0.6v0.6h-0.6zM260.4 61.5h0.6v0.6h-0.6zM248.6 56.3h0.6v0.6h-0.6zM247.1 56.0h0.6v0.6h-0.6zM218.6 59.7h0.6v0.6h-0.6zM221.6 55.2h0.6v0.6h-0.6zM227.3 61.0h0.6v0.6h-0.6zM250.6 62.3h0.6v0.6h-0.6zM217.6 53.0h0.6v0.6h-0.6zM244.6 60.7h0.6v0.6h-0.6zM228.6 60.7h0.6v0.6h-0.6zM235.2 57.4h0.6v0.6h-0.6zM228.4 53.0h0.6v0.6h-0.6zM243.4 60.0h0.6v0.6h-0.6zM243.4 53.3h0.6v0.6h-0.6zM245.0 55.2h0.6v0.6h-0.6zM247.8 57.3h0.6v0.6h-0.6zM224.1 58.6h0.6v0.6h-0.6zM245.9 53.9h0.6v0.6h-0.6zM255.5 55.8h0.6v0.6h-0.6zM247.2 61.7h0.6v0.6h-0.6zM224.9 55.5h0.6v0.6h-0.6zM230.3 58.1h0.6v0.6h-0.6zM234.6 61.8h0.6v0.6h-0.6zM259.1 57.8h0.6v0.6h-0.6zM232.2 54.8h0.6v0.6h-0.6zM249.8 59.2h0.6v0.6h-0.6zM223.2 57.9h0.6v0.6h-0.6zM254.4 53.8h0.6v0.6h-0.6zM258.8 62.2h0.6v0.6h-0.6zM239.1 55.5h0.6v0.6h-0.6zM222.3 59.2h0.6v0.6h-0.6zM216.3 56.7h0.6v0.6h-0.6zM222.1 57.2h0.6v0.6h-0.6zM261.6 56.5h0.6v0.6h-0.6zM231.3 56.7h0.6v0.6h-0.6zM244.9 58.2h0.6v0.6h-0.6zM254.9 58.3h0.6v0.6h-0.6zM254.2 56.1h0.6v0.6h-0.6zM220.9 60.3h0.6v0.6h-0.6zM222.4 60.3h0.6v0.6h-0.6zM230.9 50.6h0.6v0.6h-0.6zM238.1 61.0h0.6v0.6h-0.6zM222.3 60.5h0.6v0.6h-0.6zM244.8 57.2h0.6v0.6h-0.6zM221.2 60.2h0.6v0.6h-0.6zM222.9 63.4h0.6v0.6h-0.6zM244.7 58.5h0.6v0.6h-0.6zM251.6 56.2h0.6v0.6h-0.6zM247.3 55.6h0.6v0.6h-0.6zM232.7 62.3h0.6v0.6h-0.6zM216.3 58.5h0.6v0.6h-0.6zM219.1 57.6h0.6v0.6h-0.6zM242.3 59.6h0.6v0.6h-0.6zM260.6 52.5h0.6v0.6h-0.6zM255.7 55.7h0.6v0.6h-0.6zM225.8 55.9h0.6v0.6h-0.6zM256.2 59.2h0.6v0.6h-0.6zM242.4 57.8h0.6v0.6h-0.6zM251.7 55.2h0.6v0.6h-0.6zM221.0 59.5h0.6v0.6h-0.6zM216.7 60.6h0.6v0.6h-0.6zM259.5 60.9h0.6v0.6h-0.6zM255.6 57.3h0.6v0.6h-0.6zM222.9 57.4h0.6v0.6h-0.6zM243.4 53.4h0.6v0.6h-0.6zM224.2 57.5h0.6v0.6h-0.6zM247.7 56.5h0.6v0.6h-0.6zM261.2 59.0h0.6v0.6h-0.6zM257.3 58.6h0.6v0.6h-0.6zM247.9 53.1h0.6v0.6h-0.6zM252.1 57.7h0.6v0.6h-0.6zM241.7 56.9h0.6v0.6h-0.6zM216.0 57.8h0.6v0.6h-0.6zM224.2 62.7h0.6v0.6h-0.6zM248.3 55.2h0.6v0.6h-0.6zM261.9 54.6h0.6v0.6h-0.6zM216.3 60.7h0.6v0.6h-0.6zM258.5 59.3h0.6v0.6h-0.6zM241.3 59.8h0.6v0.6h-0.6zM239.9 59.8h0.6v0.6h-0.6zM232.8 58.4h0.6v0.6h-0.6zM228.6 58.6h0.6v0.6h-0.6zM253.5 56.4h0.6v0.6h-0.6zM237.4 57.2h0.6v0.6h-0.6zM254.1 61.4h0.6v0.6h-0.6zM253.2 61.3h0.6v0.6h-0.6zM235.1 58.3h0.6v0.6h-0.6zM216.7 61.5h0.6v0.6h-0.6zM242.2 56.2h0.6v0.6h-0.6zM220.1 58.5h0.6v0.6h-0.6zM251.4 58.8h0.6v0.6h-0.6zM254.9 57.1h0.6v0.6h-0.6zM223.5 62.3h0.6v0.6h-0.6zM254.1 62.4h0.6v0.6h-0.6zM237.4 55.2h0.6v0.6h-0.6zM242.5 55.5h0.6v0.6h-0.6zM252.5 58.2h0.6v0.6h-0.6zM226.5 60.3h0.6v0.6h-0.6zM242.0 54.9h0.6v0.6h-0.6zM259.1 53.3h0.6v0.6h-0.6zM218.7 56.5h0.6v0.6h-0.6zM238.7 53.6h0.6v0.6h-0.6zM229.7 52.5h0.6v0.6h-0.6zM234.5 58.3h0.6v0.6h-0.6zM218.0 57.8h0.6v0.6h-0.6zM241.7 60.8h0.6v0.6h-0.6zM234.9 60.2h0.6v0.6h-0.6zM250.7 53.2h0.6v0.6h-0.6zM234.1 54.5h0.6v0.6h-0.6zM225.8 54.9h0.6v0.6h-0.6z"/>
<path fill="#707290" fill-opacity="0.6" d="M220.0 56.9h0.6v0.6h-0.6zM247.0 55.0h0.6v0.6h-0.6zM224.3 56.9h0.6v0.6h-0.6zM235.4 62.9h0.6v0.6h-0.6zM224.5 57.3h0.6v0.6h-0.6zM230.6 54.2h0.6v0.6h-0.6zM261.1 53.7h0.6v0.6h-0.6zM225.8 58.4h0.6v0.6h-0.6zM221.6 59.4h0.6v0.6h-0.6zM221.9 58.0h0.6v0.6h-0.6zM224.6 56.8h0.6v0.6h-0.6zM249.6 52.7h0.6v0.6h-0.6zM258.0 57.3h0.6v0.6h-0.6zM249.5 55.4h0.6v0.6h-0.6zM228.3 61.4h0.6v0.6h-0.6zM247.5 59.3h0.6v0.6h-0.6zM230.2 62.3h0.6v0.6h-0.6zM243.0 57.7h0.6v0.6h-0.6zM218.1 61.1h0.6v0.6h-0.6zM225.8 60.1h0.6v0.6h-0.6zM253.7 58.9h0.6v0.6h-0.6zM245.4 52.3h0.6v0.6h-0.6zM252.7 59.8h0.6v0.6h-0.6zM256.9 58.7h0.6v0.6h-0.6zM219.6 60.1h0.6v0.6h-0.6zM225.3 56.8h0.6v0.6h-0.6zM247.8 51.8h0.6v0.6h-0.6zM242.4 58.6h0.6v0.6h-0.6zM232.4 64.5h0.6v0.6h-0.6zM253.6 59.0h0.6v0.6h-0.6zM220.7 58.8h0.6v0.6h-0.6zM259.6 54.6h0.6v0.6h-0.6zM245.1 59.3h0.6v0.6h-0.6zM240.9 55.5h0.6v0.6h-0.6zM226.9 61.4h0.6v0.6h-0.6zM229.2 56.5h0.6v0.6h-0.6zM239.6 54.7h0.6v0.6h-0.6zM229.6 58.1h0.6v0.6h-0.6zM232.3 58.8h0.6v0.6h-0.6zM248.6 58.3h0.6v0.6h-0.6zM225.4 52.6h0.6v0.6h-0.6zM237.4 57.1h0.6v0.6h-0.6zM261.0 58.1h0.6v0.6h-0.6zM235.0 57.4h0.6v0.6h-0.6zM245.3 55.6h0.6v0.6h-0.6zM247.8 57.1h0.6v0.6h-0.6zM258.2 55.6h0.6v0.6h-0.6zM261.9 53.9h0.6v0.6h-0.6zM253.9 53.0h0.6v0.6h-0.6zM228.7 61.9h0.6v0.6h-0.6zM242.8 58.0h0.6v0.6h-0.6zM236.2 56.1h0.6v0.6h-0.6zM227.6 63.9h0.6v0.6h-0.6zM256.1 54.7h0.6v0.6h-0.6zM226.9 60.1h0.6v0.6h-0.6zM248.5 57.9h0.6v0.6h-0.6zM256.1 58.7h0.6v0.6h-0.6zM217.3 58.1h0.6v0.6h-0.6zM233.9 56.2h0.6v0.6h-0.6zM246.5 55.2h0.6v0.6h-0.6zM246.8 51.3h0.6v0.6h-0.6zM250.5 57.6h0.6v0.6h-0.6zM236.8 52.6h0.6v0.6h-0.6zM222.5 55.9h0.6v0.6h-0.6zM254.2 63.3h0.6v0.6h-0.6zM247.7 60.3h0.6v0.6h-0.6zM230.0 59.7h0.6v0.6h-0.6zM237.6 56.5h0.6v0.6h-0.6zM250.4 59.1h0.6v0.6h-0.6zM227.0 55.4h0.6v0.6h-0.6zM234.5 51.7h0.6v0.6h-0.6zM218.9 59.9h0.6v0.6h-0.6zM233.4 52.4h0.6v0.6h-0.6zM260.2 52.8h0.6v0.6h-0.6zM241.2 64.7h0.6v0.6h-0.6zM242.3 60.4h0.6v0.6h-0.6zM222.2 54.9h0.6v0.6h-0.6zM237.1 58.7h0.6v0.6h-0.6zM227.2 55.4h0.6v0.6h-0.6zM236.2 58.4h0.6v0.6h-0.6zM259.6 66.2h0.6v0.6h-0.6zM256.2 56.6h0.6v0.6h-0.6zM249.4 58.8h0.6v0.6h-0.6zM261.6 54.9h0.6v0.6h-0.6zM216.2 58.0h0.6v0.6h-0.6zM245.4 61.2h0.6v0.6h-0.6zM252.6 57.7h0.6v0.6h-0.6zM261.4 56.9h0.6v0.6h-0.6zM238.0 61.4h0.6v0.6h-0.6zM222.2 57.4h0.6v0.6h-0.6zM257.4 55.2h0.6v0.6h-0.6zM255.7 51.0h0.6v0.6h-0.6zM225.8 54.6h0.6v0.6h-0.6zM247.5 50.3h0.6v0.6h-0.6zM261.1 54.1h0.6v0.6h-0.6zM242.9 58.5h0.6v0.6h-0.6zM240.2 61.9h0.6v0.6h-0.6zM241.1 56.0h0.6v0.6h-0.6zM240.4 61.2h0.6v0.6h-0.6zM255.2 58.8h0.6v0.6h-0.6zM233.3 57.9h0.6v0.6h-0.6zM245.3 60.2h0.6v0.6h-0.6zM251.9 59.2h0.6v0.6h-0.6zM242.7 64.3h0.6v0.6h-0.6zM235.1 61.4h0.6v0.6h-0.6zM250.6 58.2h0.6v0.6h-0.6zM246.8 57.0h0.6v0.6h-0.6zM241.5 58.0h0.6v0.6h-0.6zM220.1 53.6h0.6v0.6h-0.6zM242.0 57.7h0.6v0.6h-0.6zM253.9 57.6h0.6v0.6h-0.6zM235.2 49.1h0.6v0.6h-0.6zM241.6 55.6h0.6v0.6h-0.6zM253.9 56.9h0.6v0.6h-0.6zM256.4 59.3h0.6v0.6h-0.6zM255.7 55.7h0.6v0.6h-0.6zM248.5 54.3h0.6v0.6h-0.6zM234.5 54.8h0.6v0.6h-0.6zM256.9 56.8h0.6v0.6h-0.6zM240.9 59.8h0.6v0.6h-0.6zM232.5 57.1h0.6v0.6h-0.6zM239.1 55.0h0.6v0.6h-0.6zM234.1 55.4h0.6v0.6h-0.6zM248.7 61.9h0.6v0.6h-0.6zM253.8 59.1h0.6v0.6h-0.6zM251.6 58.0h0.6v0.6h-0.6zM252.2 59.2h0.6v0.6h-0.6zM231.2 63.9h0.6v0.6h-0.6zM255.9 52.8h0.6v0.6h-0.6zM251.6 55.4h0.6v0.6h-0.6zM252.5 60.1h0.6v0.6h-0.6zM229.8 60.0h0.6v0.6h-0.6zM247.4 56.6h0.6v0.6h-0.6zM234.0 63.2h0.6v0.6h-0.6zM260.9 53.9h0.6v0.6h-0.6zM257.0 56.1h0.6v0.6h-0.6zM244.9 57.5h0.6v0.6h-0.6zM238.8 56.1h0.6v0.6h-0.6zM253.1 58.1h0.6v0.6h-0.6zM251.5 55.8h0.6v0.6h-0.6zM261.1 60.8h0.6v0.6h-0.6zM219.1 59.2h0.6v0.6h-0.6z"/>
<path fill="#76768c" fill-opacity="0.6" d="M234.3 55.0h0.6v0.6h-0.6zM238.9 59.2h0.6v0.6h-0.6zM217.8 62.2h0.6v0.6h-0.6zM236.5 60.4h0.6v0.6h-0.6zM232.9 54.5h0.6v0.6h-0.6zM259.5 53.6h0.6v0.6h-0.6zM248.4 60.9h0.6v0.6h-0.6zM247.5 56.8h0.6v0.6h-0.6zM260.9 53.8h0.6v0.6h-0.6zM234.3 55.6h0.6v0.6h-0.6zM230.8 57.6h0.6v0.6h-0.6zM232.7 55.2h0.6v0.6h-0.6zM228.9 61.1h0.6v0.6h-0.6zM216.9 66.8h0.6v0.6h-0.6zM238.4 59.3h0.6v0.6h-0.6zM259.5 55.6h0.6v0.6h-0.6zM238.4 60.9h0.6v0.6h-0.6zM218.7 58.9h0.6v0.6h-0.6zM257.6 57.1h0.6v0.6h-0.6zM221.3 60.2h0.6v0.6h-0.6zM239.5 52.8h0.6v0.6h-0.6zM236.0 59.3h0.6v0.6h-0.6zM240.0 57.7h0.6v0.6h-0.6zM225.5 53.4h0.6v0.6h-0.6zM227.4 58.8h0.6v0.6h-0.6zM255.9 51.3h0.6v0.6h-0.6zM238.8 59.6h0.6v0.6h-0.6zM244.5 58.5h0.6v0.6h-0.6zM216.8 56.4h0.6v0.6h-0.6zM221.1 62.5h0.6v0.6h-0.6zM259.1 54.4h0.6v0.6h-0.6zM253.5 53.9h0.6v0.6h-0.6zM218.8 62.2h0.6v0.6h-0.6zM236.2 59.5h0.6v0.6h-0.6zM220.0 53.2h0.6v0.6h-0.6zM253.8 53.4h0.6v0.6h-0.6zM216.2 57.7h0.6v0.6h-0.6zM242.9 50.1h0.6v0.6h-0.6zM249.3 56.3h0.6v0.6h-0.6zM224.5 57.6h0.6v0.6h-0.6zM220.0 60.5h0.6v0.6h-0.6zM220.6 56.3h0.6v0.6h-0.6zM251.3 56.2h0.6v0.6h-0.6zM245.0 49.5h0.6v0.6h-0.6zM257.2 53.1h0.6v0.6h-0.6zM222.7 56.9h0.6v0.6h-0.6zM228.3 62.9h0.6v0.6h-0.6zM223.3 56.7h0.6v0.6h-0.6zM230.0 63.4h0.6v0.6h-0.6zM221.3 56.4h0.6v0.6h-0.6zM225.0 53.4h0.6v0.6h-0.6zM244.9 60.8h0.6v0.6h-0.6zM220.5 57.7h0.6v0.6h-0.6zM242.0 57.8h0.6v0.6h-0.6zM229.2 63.2h0.6v0.6h-0.6zM235.2 57.3h0.6v0.6h-0.6zM238.5 59.6h0.6v0.6h-0.6zM260.3 54.6h0.6v0.6h-0.6zM261.8 56.6h0.6v0.6h-0.6zM249.3 62.4h0.6v0.6h-0.6zM237.6 56.6h0.6v0.6h-0.6zM248.6 57.5h0.6v0.6h-0.6zM239.7 53.3h0.6v0.6h-0.6zM241.9 57.6h0.6v0.6h-0.6zM248.5 51.8h0.6v0.6h-0.6zM218.0 58.0h0.6v0.6h-0.6zM232.3 56.3h0.6v0.6h-0.6zM254.6 60.2h0.6v0.6h-0.6zM219.4 55.4h0.6v0.6h-0.6zM256.2 53.9h0.6v0.6h-0.6zM257.1 59.3h0.6v0.6h-0.6zM237.5 62.6h0.6v0.6h-0.6zM226.4 58.1h0.6v0.6h-0.6zM246.9 60.8h0.6v0.6h-0.6zM258.8 57.9h0.6v0.6h-0.6zM259.1 53.2h0.6v0.6h-0.6zM258.5 62.0h0.6v0.6h-0.6zM243.6 61.8h0.6v0.6h-0.6zM238.4 61.7h0.6v0.6h-0.6zM244.8 55.6h0.6v0.6h-0.6zM246.2 52.1h0.6v0.6h-0.6zM234.4 64.2h0.6v0.6h-0.6zM217.7 62.2h0.6v0.6h-0.6zM220.0 60.2h0.6v0.6h-0.6zM245.7 54.9h0.6v0.6h-0.6zM245.8 54.7h0.6v0.6h-0.6zM219.3 62.4h0.6v0.6h-0.6zM255.5 54.6h0.6v0.6h-0.6zM252.9 58.8h0.6v0.6h-0.6zM240.1 58.1h0.6v0.6h-0.6zM225.2 56.1h0.6v0.6h-0.6zM227.9 56.0h0.6v0.6h-0.6zM227.8 57.7h0.6v0.6h-0.6zM225.3 53.7h0.6v0.6h-0.6zM233.5 58.7h0.6v0.6h-0.6zM221.0 56.7h0.6v0.6h-0.6zM257.0 53.7h0.6v0.6h-0.6zM255.5 58.2h0.6v0.6h-0.6zM249.5 58.1h0.6v0.6h-0.6zM225.6 55.9h0.6v0.6h-0.6zM252.9 53.2h0.6v0.6h-0.6zM233.5 56.5h0.6v0.6h-0.6zM259.2 61.0h0.6v0.6h-0.6zM225.2 57.7h0.6v0.6h-0.6zM223.5 57.5h0.6v0.6h-0.6zM261.4 60.3h0.6v0.6h-0.6zM219.9 58.1h0.6v0.6h-0.6zM226.0 58.3h0.6v0.6h-0.6zM217.9 59.5h0.6v0.6h-0.6zM260.7 55.4h0.6v0.6h-0.6zM243.2 52.5h0.6v0.6h-0.6zM229.8 60.0h0.6v0.6h-0.6zM235.3 53.5h0.6v0.6h-0.6zM220.6 54.5h0.6v0.6h-0.6zM236.6 56.7h0.6v0.6h-0.6zM224.6 56.4h0.6v0.6h-0.6zM239.4 59.2h0.6v0.6h-0.6zM232.6 59.8h0.6v0.6h-0.6zM252.5 56.0h0.6v0.6h-0.6zM257.7 55.0h0.6v0.6h-0.6zM258.2 58.0h0.6v0.6h-0.6zM240.5 56.7h0.6v0.6h-0.6z"/>
<path fill="#7c7ea6" fill-opacity="0.6" d="M233.0 61.6h0.6v0.6h-0.6zM232.8 57.7h0.6v0.6h-0.6zM249.6 55.2h0.6v0.6h-0.6zM231.3 51.8h0.6v0.6h-0.6zM229.3 63.2h0.6v0.6h-0.6zM252.7 58.3h0.6v0.6h-0.6zM251.5 57.3h0.6v0.6h-0.6zM243.1 58.0h0.6v0.6h-0.6zM255.4 55.7h0.6v0.6h-0.6zM231.6 57.3h0.6v0.6h-0.6zM248.5 59.2h0.6v0.6h-0.6zM250.7 57.1h0.6v0.6h-0.6zM223.8 59.9h0.6v0.6h-0.6zM249.0 54.0h0.6v0.6h-0.6zM230.8 55.6h0.6v0.6h-0.6zM238.0 56.5h0.6v0.6h-0.6zM249.9 55.9h0.6v0.6h-0.6zM248.8 55.6h0.6v0.6h-0.6zM231.4 58.4h0.6v0.6h-0.6zM218.6 61.7h0.6v0.6h-0.6zM261.6 49.1h0.6v0.6h-0.6zM258.6 58.5h0.6v0.6h-0.6zM224.3 57.1h0.6v0.6h-0.6zM256.9 56.2h0.6v0.6h-0.6zM217.2 59.0h0.6v0.6h-0.6zM260.5 55.1h0.6v0.6h-0.6zM243.2 61.3h0.6v0.6h-0.6zM222.8 54.0h0.6v0.6h-0.6zM246.5 58.5h0.6v0.6h-0.6zM257.5 59.9h0.6v0.6h-0.6zM248.0 55.6h0.6v0.6h-0.6zM244.2 54.9h0.6v0.6h-0.6zM231.3 58.3h0.6v0.6h-0.6zM258.5 59.1h0.6v0.6h-0.6zM228.4 61.5h0.6v0.6h-0.6zM240.0 61.7h0.6v0.6h-0.6zM233.3 59.2h0.6v0.6h-0.6zM219.1 63.8h0.6v0.6h-0.6zM258.7 58.7h0.6v0.6h-0.6zM231.8 52.8h0.6v0.6h-0.6zM229.3 54.6h0.6v0.6h-0.6zM246.7 57.9h0.6v0.6h-0.6zM250.9 58.0h0.6v0.6h-0.6zM218.9 61.9h0.6v0.6h-0.6zM217.0 59.3h0.6v0.6h-0.6zM232.5 56.9h0.6v0.6h-0.6zM228.8 62.9h0.6v0.6h-0.6zM236.4 56.2h0.6v0.6h-0.6zM225.6 61.2h0.6v0.6h-0.6zM240.6 54.7h0.6v0.6h-0.6zM248.0 57.4h0.6v0.6h-0.6zM255.6 54.2h0.6v0.6h-0.6zM245.4 53.7h0.6v0.6h-0.6zM248.0 58.6h0.6v0.6h-0.6zM247.1 58.3h0.6v0.6h-0.6zM238.5 61.5h0.6v0.6h-0.6zM224.0 53.3h0.6v0.6h-0.6zM260.6 54.3h0.6v0.6h-0.6zM260.3 53.9h0.6v0.6h-0.6zM248.5 56.1h0.6v0.6h-0.6zM241.2 56.4h0.6v0.6h-0.6zM246.0 57.2h0.6v0.6h-0.6zM251.6 58.2h0.6v0.6h-0.6zM259.5 53.3h0.6v0.6h-0.6zM242.7 61.1h0.6v0.6h-0.6zM238.1 58.0h0.6v0.6h-0.6zM246.6 60.0h0.6v0.6h-0.6zM236.4 55.2h0.6v0.6h-0.6zM217.3 55.9h0.6v0.6h-0.6zM226.2 57.8h0.6v0.6h-0.6zM241.5 59.9h0.6v0.6h-0.6zM228.0 59.0h0.6v0.6h-0.6zM226.2 60.2h0.6v0.6h-0.6zM223.9 59.2h0.6v0.6h-0.6zM218.6 56.9h0.6v0.6h-0.6zM218.2 62.6h0.6v0.6h-0.6zM261.5 59.2h0.6v0.6h-0.6zM241.9 62.3h0.6v0.6h-0.6zM252.8 53.8h0.6v0.6h-0.6zM233.5 55.3h0.6v0.6h-0.6zM260.5 55.5h0.6v0.6h-0.6zM218.1 64.1h0.6v0.6h-0.6zM232.4 54.5h0.6v0.6h-0.6zM258.1 57.7h0.6v0.6h-0.6zM242.3 61.4h0.6v0.6h-0.6zM256.1 59.6h0.6v0.6h-0.6zM232.9 54.5h0.6v0.6h-0.6zM253.2 58.5h0.6v0.6h-0.6zM230.7 57.1h0.6v0.6h-0.6zM228.7 57.9h0.6v0.6h-0.6zM244.8 57.9h0.6v0.6h-0.6zM248.4 57.7h0.6v0.6h-0.6zM218.6 56.9h0.6v0.6h-0.6zM231.7 60.3h0.6v0.6h-0.6zM235.1 56.4h0.6v0.6h-0.6zM220.3 53.2h0.6v0.6h-0.6zM231.8 55.4h0.6v0.6h-0.6zM220.6 61.1h0.6v0.6h-0.6zM261.5 49.4h0.6v0.6h-0.6zM249.9 61.7h0.6v0.6h-0.6zM236.0 57.7h0.6v0.6h-0.6zM259.9 55.9h0.6v0.6h-0.6zM256.1 59.2h0.6v0.6h-0.6zM219.0 63.8h0.6v0.6h-0.6zM232.1 51.9h0.6v0.6h-0.6zM228.6 57.6h0.6v0.6h-0.6zM216.7 57.6h0.6v0.6h-0.6zM233.6 59.2h0.6v0.6h-0.6zM233.8 55.6h0.6v0.6h-0.6zM261.8 57.0h0.6v0.6h-0.6zM226.2 61.1h0.6v0.6h-0.6zM219.0 58.5h0.6v0.6h-0.6zM221.7 59.0h0.6v0.6h-0.6zM221.1 55.3h0.6v0.6h-0.6zM250.9 53.6h0.6v0.6h-0.6zM255.1 54.4h0.6v0.6h-0.6zM261.8 57.8h0.6v0.6h-0.6zM242.3 60.6h0.6v0.6h-0.6zM256.1 51.8h0.6v0.6h-0.6zM230.7 60.8h0.6v0.6h-0.6zM252.9 58.2h0.6v0.6h-0.6zM222.1 56.5h0.6v0.6h-0.6zM248.7 59.3h0.6v0.6h-0.6zM244.1 53.5h0.6v0.6h-0.6zM224.3 59.0h0.6v0.6h-0.6zM241.8 57.4h0.6v0.6h-0.6zM254.6 60.6h0.6v0.6h-0.6zM258.5 57.7h0.6v0.6h-0.6zM217.9 59.6h0.6v0.6h-0.6zM230.9 55.5h0.6v0.6h-0.6zM247.9 55.6h0.6v0.6h-0.6zM225.3 53.4h0.6v0.6h-0.6zM224.9 53.9h0.6v0.6h-0.6zM241.7 60.3h0.6v0.6h-0.6zM245.8 58.1h0.6v0.6h-0.6zM246.5 56.2h0.6v0.6h-0.6zM230.0 57.8h0.6v0.6h-0.6zM228.4 55.6h0.6v0.6h-0.6zM234.6 64.5h0.6v0.6h-0.6zM257.8 56.7h0.6v0.6h-0.6zM250.5 56.5h0.6v0.6h-0.6zM234.7 55.7h0.6v0.6h-0.6zM260.0 48.2h0.6v0.6h-0.6zM255.4 56.4h0.6v0.6h-0.6zM249.8 57.1h0.6v0.6h-0.6zM222.3 63.9h0.6v0.6h-0.6zM228.3 59.7h0.6v0.6h-0.6zM223.6 54.4h0.6v0.6h-0.6zM232.1 59.7h0.6v0.6h-0.6z"/>
<path fill="#7c7ea6" fill-opacity="0.55" d="M225.3 58.2h0.6v0.6h-0.6zM236.6 53.2h0.6v0.6h-0.6zM231.6 54.5h0.6v0.6h-0.6zM217.3 56.9h0.6v0.6h-0.6zM243.0 55.4h0.6v0.6h-0.6zM217.0 56.0h0.6v0.6h-0.6zM249.0 57.6h0.6v0.6h-0.6zM227.6 54.3h0.6v0.6h-0.6zM232.2 56.9h0.6v0.6h-0.6zM219.3 55.3h0.6v0.6h-0.6zM218.1 58.0h0.6v0.6h-0.6zM242.8 55.6h0.6v0.6h-0.6zM246.9 55.0h0.6v0.6h-0.6zM243.3 56.3h0.6v0.6h-0.6zM248.0 55.7h0.6v0.6h-0.6zM249.3 57.8h0.6v0.6h-0.6zM242.1 56.2h0.6v0.6h-0.6zM235.5 56.5h0.6v0.6h-0.6zM244.8 57.6h0.6v0.6h-0.6zM225.3 56.7h0.6v0.6h-0.6zM218.2 58.0h0.6v0.6h-0.6zM236.9 55.8h0.6v0.6h-0.6zM239.5 55.7h0.6v0.6h-0.6zM228.3 53.7h0.6v0.6h-0.6zM227.6 56.4h0.6v0.6h-0.6zM219.6 56.0h0.6v0.6h-0.6zM216.5 56.1h0.6v0.6h-0.6zM247.8 54.0h0.6v0.6h-0.6zM245.7 57.4h0.6v0.6h-0.6zM225.7 53.7h0.6v0.6h-0.6zM238.1 58.2h0.6v0.6h-0.6zM217.7 54.5h0.6v0.6h-0.6zM220.0 55.2h0.6v0.6h-0.6zM234.3 53.6h0.6v0.6h-0.6zM222.2 54.8h0.6v0.6h-0.6zM222.8 56.7h0.6v0.6h-0.6zM232.7 56.4h0.6v0.6h-0.6zM237.1 56.7h0.6v0.6h-0.6zM230.0 55.4h0.6v0.6h-0.6zM255.2 70.1h0.6v0.6h-0.6zM254.2 82.0h0.6v0.6h-0.6zM255.7 84.4h0.6v0.6h-0.6zM254.0 92.5h0.6v0.6h-0.6zM257.5 89.1h0.6v0.6h-0.6zM254.7 66.8h0.6v0.6h-0.6zM257.2 88.9h0.6v0.6h-0.6zM255.9 68.3h0.6v0.6h-0.6zM258.4 75.2h0.6v0.6h-0.6zM255.4 68.2h0.6v0.6h-0.6zM256.2 78.6h0.6v0.6h-0.6zM256.3 65.4h0.6v0.6h-0.6zM254.9 67.5h0.6v0.6h-0.6zM258.4 92.0h0.6v0.6h-0.6zM256.8 79.5h0.6v0.6h-0.6zM255.0 74.5h0.6v0.6h-0.6zM258.5 88.9h0.6v0.6h-0.6zM255.0 73.8h0.6v0.6h-0.6zM258.0 64.6h0.6v0.6h-0.6zM255.4 78.1h0.6v0.6h-0.6zM252.7 75.2h0.6v0.6h-0.6zM255.3 90.6h0.6v0.6h-0.6zM253.8 67.0h0.6v0.6h-0.6zM256.5 68.9h0.6v0.6h-0.6zM255.3 65.1h0.6v0.6h-0.6zM254.0 93.3h0.6v0.6h-0.6zM258.0 67.8h0.6v0.6h-0.6zM258.7 64.7h0.6v0.6h-0.6zM255.2 74.7h0.6v0.6h-0.6zM257.9 76.2h0.6v0.6h-0.6zM253.7 64.8h0.6v0.6h-0.6zM255.4 63.7h0.6v0.6h-0.6zM255.9 85.4h0.6v0.6h-0.6z"/>
<path fill="#6a6a80" fill-opacity="0.55" d="M221.1 53.4h0.6v0.6h-0.6zM246.6 56.6h0.6v0.6h-0.6zM220.5 55.5h0.6v0.6h-0.6zM245.8 52.4h0.6v0.6h-0.6zM225.6 58.8h0.6v0.6h-0.6zM216.6 57.1h0.6v0.6h-0.6zM216.4 58.6h0.6v0.6h-0.6zM227.5 54.1h0.6v0.6h-0.6zM248.1 53.1h0.6v0.6h-0.6zM221.7 55.0h0.6v0.6h-0.6zM238.9 55.5h0.6v0.6h-0.6zM241.8 56.2h0.6v0.6h-0.6zM231.5 56.9h0.6v0.6h-0.6zM223.1 55.4h0.6v0.6h-0.6zM236.8 58.0h0.6v0.6h-0.6zM219.2 57.7h0.6v0.6h-0.6zM216.2 57.4h0.6v0.6h-0.6zM244.5 52.1h0.6v0.6h-0.6zM222.1 58.3h0.6v0.6h-0.6zM231.1 56.4h0.6v0.6h-0.6zM234.1 57.5h0.6v0.6h-0.6zM239.5 60.3h0.6v0.6h-0.6zM248.8 53.4h0.6v0.6h-0.6zM229.0 56.8h0.6v0.6h-0.6zM220.7 58.3h0.6v0.6h-0.6zM230.9 57.7h0.6v0.6h-0.6zM234.9 57.2h0.6v0.6h-0.6zM232.2 51.3h0.6v0.6h-0.6zM218.3 57.4h0.6v0.6h-0.6zM241.2 57.0h0.6v0.6h-0.6zM223.9 53.9h0.6v0.6h-0.6zM255.6 87.2h0.6v0.6h-0.6zM256.9 90.5h0.6v0.6h-0.6zM256.4 79.6h0.6v0.6h-0.6zM255.9 73.9h0.6v0.6h-0.6zM257.5 85.9h0.6v0.6h-0.6zM253.0 62.4h0.6v0.6h-0.6zM255.8 68.5h0.6v0.6h-0.6zM258.6 64.9h0.6v0.6h-0.6zM260.3 62.8h0.6v0.6h-0.6zM258.3 91.3h0.6v0.6h-0.6zM255.6 77.4h0.6v0.6h-0.6zM256.9 78.1h0.6v0.6h-0.6zM254.4 68.9h0.6v0.6h-0.6zM257.5 89.6h0.6v0.6h-0.6zM258.1 67.6h0.6v0.6h-0.6zM255.7 65.1h0.6v0.6h-0.6zM260.1 74.5h0.6v0.6h-0.6zM256.7 89.0h0.6v0.6h-0.6zM254.8 75.4h0.6v0.6h-0.6zM254.1 87.9h0.6v0.6h-0.6zM257.2 87.2h0.6v0.6h-0.6zM257.1 72.7h0.6v0.6h-0.6zM257.2 91.4h0.6v0.6h-0.6zM254.1 69.9h0.6v0.6h-0.6zM254.3 83.7h0.6v0.6h-0.6zM258.5 87.4h0.6v0.6h-0.6zM257.1 90.3h0.6v0.6h-0.6zM257.4 74.6h0.6v0.6h-0.6zM255.3 65.3h0.6v0.6h-0.6zM259.0 77.3h0.6v0.6h-0.6zM252.3 84.7h0.6v0.6h-0.6zM259.5 63.0h0.6v0.6h-0.6zM256.6 69.2h0.6v0.6h-0.6zM257.9 83.9h0.6v0.6h-0.6zM255.8 66.6h0.6v0.6h-0.6zM258.9 69.8h0.6v0.6h-0.6zM259.7 79.0h0.6v0.6h-0.6zM253.5 71.0h0.6v0.6h-0.6zM257.8 89.6h0.6v0.6h-0.6zM256.1 73.9h0.6v0.6h-0.6zM255.6 94.0h0.6v0.6h-0.6zM256.9 83.4h0.6v0.6h-0.6z"/>
<path fill="#62648a" fill-opacity="0.55" d="M244.9 55.7h0.6v0.6h-0.6zM249.0 57.3h0.6v0.6h-0.6zM226.5 56.0h0.6v0.6h-0.6zM239.0 59.4h0.6v0.6h-0.6zM226.0 55.3h0.6v0.6h-0.6zM248.5 55.5h0.6v0.6h-0.6zM223.7 60.7h0.6v0.6h-0.6zM248.7 50.7h0.6v0.6h-0.6zM222.7 52.8h0.6v0.6h-0.6zM222.8 56.4h0.6v0.6h-0.6zM228.1 57.6h0.6v0.6h-0.6zM242.3 53.5h0.6v0.6h-0.6zM232.5 57.6h0.6v0.6h-0.6zM223.1 56.0h0.6v0.6h-0.6zM238.3 57.1h0.6v0.6h-0.6zM247.1 56.7h0.6v0.6h-0.6zM247.3 56.3h0.6v0.6h-0.6zM218.6 58.8h0.6v0.6h-0.6zM228.5 52.2h0.6v0.6h-0.6zM220.6 55.6h0.6v0.6h-0.6zM238.3 53.1h0.6v0.6h-0.6zM246.1 55.2h0.6v0.6h-0.6zM216.1 56.7h0.6v0.6h-0.6zM237.3 56.7h0.6v0.6h-0.6zM239.6 56.4h0.6v0.6h-0.6zM239.4 53.0h0.6v0.6h-0.6zM247.3 51.5h0.6v0.6h-0.6zM226.6 58.6h0.6v0.6h-0.6zM219.0 55.8h0.6v0.6h-0.6zM224.1 57.0h0.6v0.6h-0.6zM233.8 56.1h0.6v0.6h-0.6zM237.5 57.2h0.6v0.6h-0.6zM242.3 55.2h0.6v0.6h-0.6zM220.9 55.4h0.6v0.6h-0.6zM225.7 60.0h0.6v0.6h-0.6zM229.8 55.6h0.6v0.6h-0.6zM256.4 65.9h0.6v0.6h-0.6zM257.4 87.8h0.6v0.6h-0.6zM254.5 69.0h0.6v0.6h-0.6zM256.8 82.7h0.6v0.6h-0.6zM257.5 71.8h0.6v0.6h-0.6zM256.3 76.1h0.6v0.6h-0.6zM256.0 83.5h0.6v0.6h-0.6zM257.3 63.4h0.6v0.6h-0.6zM260.6 86.4h0.6v0.6h-0.6zM256.7 76.2h0.6v0.6h-0.6zM254.2 64.3h0.6v0.6h-0.6zM255.3 76.0h0.6v0.6h-0.6zM256.5 76.6h0.6v0.6h-0.6zM256.5 88.6h0.6v0.6h-0.6zM260.8 92.2h0.6v0.6h-0.6zM257.9 84.5h0.6v0.6h-0.6zM253.7 75.6h0.6v0.6h-0.6zM255.3 93.2h0.6v0.6h-0.6zM257.6 92.9h0.6v0.6h-0.6zM255.6 88.7h0.6v0.6h-0.6zM257.2 68.8h0.6v0.6h-0.6zM254.9 69.2h0.6v0.6h-0.6zM256.6 76.8h0.6v0.6h-0.6zM254.8 91.5h0.6v0.6h-0.6zM254.7 80.1h0.6v0.6h-0.6zM256.3 70.3h0.6v0.6h-0.6zM254.6 86.3h0.6v0.6h-0.6zM257.2 77.8h0.6v0.6h-0.6zM257.2 68.0h0.6v0.6h-0.6zM256.3 68.5h0.6v0.6h-0.6zM252.1 74.1h0.6v0.6h-0.6zM255.3 62.4h0.6v0.6h-0.6zM257.7 67.3h0.6v0.6h-0.6zM257.0 62.0h0.6v0.6h-0.6zM256.9 88.6h0.6v0.6h-0.6zM257.0 62.2h0.6v0.6h-0.6zM258.0 65.1h0.6v0.6h-0.6zM254.7 88.9h0.6v0.6h-0.6zM255.5 83.1h0.6v0.6h-0.6zM251.9 66.4h0.6v0.6h-0.6zM259.4 88.2h0.6v0.6h-0.6zM256.0 63.8h0.6v0.6h-0.6zM257.3 69.6h0.6v0.6h-0.6z"/>
<path fill="#76768c" fill-opacity="0.55" d="M218.3 59.3h0.6v0.6h-0.6zM216.8 55.9h0.6v0.6h-0.6zM231.2 50.6h0.6v0.6h-0.6zM248.8 54.1h0.6v0.6h-0.6zM240.6 54.0h0.6v0.6h-0.6zM238.4 55.8h0.6v0.6h-0.6zM241.0 58.7h0.6v0.6h-0.6zM234.3 53.5h0.6v0.6h-0.6zM248.1 55.1h0.6v0.6h-0.6zM231.8 60.1h0.6v0.6h-0.6zM243.2 55.9h0.6v0.6h-0.6zM242.4 58.2h0.6v0.6h-0.6zM219.3 57.9h0.6v0.6h-0.6zM234.9 57.0h0.6v0.6h-0.6zM236.8 53.8h0.6v0.6h-0.6zM216.3 56.5h0.6v0.6h-0.6zM226.5 55.5h0.6v0.6h-0.6zM233.7 54.0h0.6v0.6h-0.6zM216.4 54.7h0.6v0.6h-0.6zM243.0 54.2h0.6v0.6h-0.6zM238.6 56.0h0.6v0.6h-0.6zM219.1 58.3h0.6v0.6h-0.6zM234.9 55.4h0.6v0.6h-0.6zM246.8 57.2h0.6v0.6h-0.6zM223.3 56.9h0.6v0.6h-0.6zM237.3 56.0h0.6v0.6h-0.6zM241.5 55.2h0.6v0.6h-0.6zM258.2 74.1h0.6v0.6h-0.6zM255.7 67.9h0.6v0.6h-0.6zM254.3 76.1h0.6v0.6h-0.6zM255.5 82.2h0.6v0.6h-0.6zM256.5 75.2h0.6v0.6h-0.6zM255.3 64.3h0.6v0.6h-0.6zM260.2 93.8h0.6v0.6h-0.6zM254.2 88.7h0.6v0.6h-0.6zM256.7 64.6h0.6v0.6h-0.6zM257.9 65.0h0.6v0.6h-0.6zM255.2 65.7h0.6v0.6h-0.6zM256.2 75.2h0.6v0.6h-0.6zM254.8 70.8h0.6v0.6h-0.6zM253.1 92.3h0.6v0.6h-0.6zM255.6 87.9h0.6v0.6h-0.6zM256.6 70.3h0.6v0.6h-0.6zM256.9 82.5h0.6v0.6h-0.6zM254.5 74.9h0.6v0.6h-0.6zM256.8 90.5h0.6v0.6h-0.6zM257.9 66.6h0.6v0.6h-0.6zM255.3 63.9h0.6v0.6h-0.6zM256.7 82.1h0.6v0.6h-0.6zM255.5 74.8h0.6v0.6h-0.6zM255.6 84.7h0.6v0.6h-0.6zM252.2 92.0h0.6v0.6h-0.6zM258.8 87.0h0.6v0.6h-0.6zM255.0 88.8h0.6v0.6h-0.6zM258.3 70.4h0.6v0.6h-0.6zM258.1 86.4h0.6v0.6h-0.6zM258.0 69.5h0.6v0.6h-0.6zM257.0 74.8h0.6v0.6h-0.6zM257.3 75.8h0.6v0.6h-0.6zM254.0 82.3h0.6v0.6h-0.6zM258.3 85.0h0.6v0.6h-0.6zM254.0 69.9h0.6v0.6h-0.6zM253.6 67.6h0.6v0.6h-0.6zM257.9 73.9h0.6v0.6h-0.6zM256.8 74.7h0.6v0.6h-0.6zM255.2 70.1h0.6v0.6h-0.6zM255.9 67.9h0.6v0.6h-0.6zM258.9 87.8h0.6v0.6h-0.6zM256.8 82.5h0.6v0.6h-0.6zM257.0 71.2h0.6v0.6h-0.6zM251.8 62.8h0.6v0.6h-0.6zM255.5 83.2h0.6v0.6h-0.6zM255.5 92.1h0.6v0.6h-0.6zM252.8 76.1h0.6v0.6h-0.6z"/>
<path fill="#707290" fill-opacity="0.55" d="M218.5 57.4h0.6v0.6h-0.6zM234.9 55.8h0.6v0.6h-0.6zM217.0 54.4h0.6v0.6h-0.6zM219.8 58.1h0.6v0.6h-0.6zM241.4 51.9h0.6v0.6h-0.6zM247.3 55.0h0.6v0.6h-0.6zM226.4 58.6h0.6v0.6h-0.6zM241.1 55.0h0.6v0.6h-0.6zM220.6 54.4h0.6v0.6h-0.6zM219.8 56.0h0.6v0.6h-0.6zM216.3 54.1h0.6v0.6h-0.6zM246.7 54.8h0.6v0.6h-0.6zM224.3 57.9h0.6v0.6h-0.6zM237.6 55.8h0.6v0.6h-0.6zM217.4 54.2h0.6v0.6h-0.6zM233.4 57.9h0.6v0.6h-0.6zM233.3 57.9h0.6v0.6h-0.6zM218.5 55.9h0.6v0.6h-0.6zM230.6 52.9h0.6v0.6h-0.6zM224.1 60.5h0.6v0.6h-0.6zM247.2 55.2h0.6v0.6h-0.6zM243.2 54.8h0.6v0.6h-0.6zM219.0 56.8h0.6v0.6h-0.6zM227.6 52.8h0.6v0.6h-0.6zM241.2 56.2h0.6v0.6h-0.6zM218.7 56.1h0.6v0.6h-0.6zM239.7 58.6h0.6v0.6h-0.6zM243.3 54.9h0.6v0.6h-0.6zM244.8 54.2h0.6v0.6h-0.6zM222.1 56.9h0.6v0.6h-0.6zM224.6 54.6h0.6v0.6h-0.6zM224.9 55.1h0.6v0.6h-0.6zM230.5 56.2h0.6v0.6h-0.6zM245.6 59.5h0.6v0.6h-0.6zM223.2 57.5h0.6v0.6h-0.6zM249.5 54.3h0.6v0.6h-0.6zM246.7 53.7h0.6v0.6h-0.6zM223.4 57.1h0.6v0.6h-0.6zM225.2 59.5h0.6v0.6h-0.6zM224.1 53.8h0.6v0.6h-0.6zM256.8 77.6h0.6v0.6h-0.6zM260.6 68.4h0.6v0.6h-0.6zM258.8 65.3h0.6v0.6h-0.6zM256.7 80.3h0.6v0.6h-0.6zM257.2 67.8h0.6v0.6h-0.6zM255.8 84.3h0.6v0.6h-0.6zM259.3 68.8h0.6v0.6h-0.6zM255.4 89.7h0.6v0.6h-0.6zM255.0 75.8h0.6v0.6h-0.6zM253.7 74.6h0.6v0.6h-0.6zM255.7 87.9h0.6v0.6h-0.6zM258.1 90.6h0.6v0.6h-0.6zM258.1 86.4h0.6v0.6h-0.6zM255.5 91.6h0.6v0.6h-0.6zM256.7 64.6h0.6v0.6h-0.6zM254.3 72.0h0.6v0.6h-0.6zM257.4 80.0h0.6v0.6h-0.6zM254.0 71.8h0.6v0.6h-0.6zM255.8 89.6h0.6v0.6h-0.6zM256.1 82.6h0.6v0.6h-0.6zM255.4 84.0h0.6v0.6h-0.6zM256.4 83.9h0.6v0.6h-0.6zM256.2 74.6h0.6v0.6h-0.6zM255.7 70.1h0.6v0.6h-0.6zM256.9 93.7h0.6v0.6h-0.6zM258.5 78.2h0.6v0.6h-0.6zM256.5 88.8h0.6v0.6h-0.6zM256.8 76.5h0.6v0.6h-0.6zM256.1 81.1h0.6v0.6h-0.6zM260.1 86.3h0.6v0.6h-0.6zM256.0 90.9h0.6v0.6h-0.6zM256.8 66.5h0.6v0.6h-0.6zM257.4 88.8h0.6v0.6h-0.6zM255.3 72.4h0.6v0.6h-0.6zM258.5 63.3h0.6v0.6h-0.6zM255.5 88.3h0.6v0.6h-0.6zM253.6 62.7h0.6v0.6h-0.6zM255.2 67.1h0.6v0.6h-0.6zM257.5 64.3h0.6v0.6h-0.6zM258.0 76.5h0.6v0.6h-0.6zM257.8 76.4h0.6v0.6h-0.6zM256.9 81.9h0.6v0.6h-0.6zM257.2 70.3h0.6v0.6h-0.6zM259.3 75.8h0.6v0.6h-0.6zM256.7 74.0h0.6v0.6h-0.6zM257.1 82.5h0.6v0.6h-0.6zM259.1 75.7h0.6v0.6h-0.6zM256.1 83.8h0.6v0.6h-0.6zM255.4 65.4h0.6v0.6h-0.6zM255.2 71.9h0.6v0.6h-0.6z"/>
<path fill="#8a8cae" fill-opacity="0.55" d="M248.5 54.5h0.6v0.6h-0.6zM220.5 59.2h0.6v0.6h-0.6zM228.0 53.0h0.6v0.6h-0.6zM243.4 53.7h0.6v0.6h-0.6zM242.4 59.0h0.6v0.6h-0.6zM244.9 54.2h0.6v0.6h-0.6zM230.8 55.8h0.6v0.6h-0.6zM239.3 56.8h0.6v0.6h-0.6zM241.9 52.9h0.6v0.6h-0.6zM232.0 54.6h0.6v0.6h-0.6zM236.6 57.6h0.6v0.6h-0.6zM243.6 55.2h0.6v0.6h-0.6zM240.8 55.3h0.6v0.6h-0.6zM221.5 60.1h0.6v0.6h-0.6zM240.3 57.4h0.6v0.6h-0.6zM240.3 57.0h0.6v0.6h-0.6zM226.3 57.5h0.6v0.6h-0.6zM245.3 61.0h0.6v0.6h-0.6zM241.9 56.6h0.6v0.6h-0.6zM225.6 53.0h0.6v0.6h-0.6zM232.7 57.5h0.6v0.6h-0.6zM220.0 58.1h0.6v0.6h-0.6zM218.0 55.5h0.6v0.6h-0.6zM220.5 57.3h0.6v0.6h-0.6zM216.5 53.4h0.6v0.6h-0.6zM216.4 56.7h0.6v0.6h-0.6zM226.5 59.9h0.6v0.6h-0.6zM260.0 75.9h0.6v0.6h-0.6zM257.6 82.6h0.6v0.6h-0.6zM257.7 64.8h0.6v0.6h-0.6zM257.1 86.0h0.6v0.6h-0.6zM257.7 63.2h0.6v0.6h-0.6zM253.7 88.6h0.6v0.6h-0.6zM257.7 70.8h0.6v0.6h-0.6zM254.6 79.9h0.6v0.6h-0.6zM256.6 90.0h0.6v0.6h-0.6zM257.3 78.0h0.6v0.6h-0.6zM255.0 93.0h0.6v0.6h-0.6zM257.3 88.6h0.6v0.6h-0.6zM256.2 63.4h0.6v0.6h-0.6zM256.2 66.9h0.6v0.6h-0.6zM254.7 88.2h0.6v0.6h-0.6zM257.7 73.7h0.6v0.6h-0.6zM255.7 88.3h0.6v0.6h-0.6zM252.4 90.5h0.6v0.6h-0.6zM257.7 76.9h0.6v0.6h-0.6zM256.1 89.6h0.6v0.6h-0.6zM256.7 92.3h0.6v0.6h-0.6zM255.1 82.2h0.6v0.6h-0.6zM256.7 63.2h0.6v0.6h-0.6zM256.9 89.0h0.6v0.6h-0.6zM256.5 89.5h0.6v0.6h-0.6zM256.6 92.7h0.6v0.6h-0.6zM254.8 77.7h0.6v0.6h-0.6zM256.0 83.1h0.6v0.6h-0.6zM253.3 85.4h0.6v0.6h-0.6zM252.7 81.4h0.6v0.6h-0.6zM255.8 91.4h0.6v0.6h-0.6zM259.8 66.9h0.6v0.6h-0.6zM256.1 70.7h0.6v0.6h-0.6zM255.6 89.3h0.6v0.6h-0.6zM256.7 84.9h0.6v0.6h-0.6zM258.7 64.1h0.6v0.6h-0.6zM255.0 92.1h0.6v0.6h-0.6zM258.3 75.7h0.6v0.6h-0.6zM253.8 64.7h0.6v0.6h-0.6zM255.7 72.4h0.6v0.6h-0.6zM253.9 77.0h0.6v0.6h-0.6zM257.6 90.5h0.6v0.6h-0.6zM254.8 93.4h0.6v0.6h-0.6zM257.0 78.2h0.6v0.6h-0.6zM258.1 76.3h0.6v0.6h-0.6z"/>
<path fill="#666a70" fill-opacity="0.7" d="M228.3 62.5h0.6v0.6h-0.6zM224.8 55.8h0.6v0.6h-0.6zM226.1 53.9h0.6v0.6h-0.6zM221.3 55.6h0.6v0.6h-0.6zM225.5 57.0h0.6v0.6h-0.6zM229.0 53.0h0.6v0.6h-0.6zM232.6 59.8h0.6v0.6h-0.6zM225.0 59.1h0.6v0.6h-0.6zM221.7 58.0h0.6v0.6h-0.6zM225.8 59.5h0.6v0.6h-0.6zM235.5 60.0h0.6v0.6h-0.6zM227.2 60.4h0.6v0.6h-0.6zM224.3 57.3h0.6v0.6h-0.6zM227.6 52.6h0.6v0.6h-0.6zM227.4 57.2h0.6v0.6h-0.6zM224.3 52.9h0.6v0.6h-0.6zM225.7 56.9h0.6v0.6h-0.6zM223.2 57.2h0.6v0.6h-0.6zM221.8 61.9h0.6v0.6h-0.6zM222.3 58.6h0.6v0.6h-0.6zM230.0 61.2h0.6v0.6h-0.6zM227.8 64.0h0.6v0.6h-0.6zM225.5 57.0h0.6v0.6h-0.6zM225.5 55.0h0.6v0.6h-0.6zM222.9 63.7h0.6v0.6h-0.6zM229.8 53.6h0.6v0.6h-0.6zM225.4 59.8h0.6v0.6h-0.6zM227.8 53.7h0.6v0.6h-0.6zM221.3 58.4h0.6v0.6h-0.6zM221.1 55.3h0.6v0.6h-0.6zM224.8 56.3h0.6v0.6h-0.6zM223.8 62.1h0.6v0.6h-0.6zM224.5 56.9h0.6v0.6h-0.6zM225.1 54.3h0.6v0.6h-0.6zM223.9 57.7h0.6v0.6h-0.6zM218.6 60.3h0.6v0.6h-0.6zM234.1 56.1h0.6v0.6h-0.6zM222.9 64.4h0.6v0.6h-0.6zM225.2 55.4h0.6v0.6h-0.6zM223.9 57.7h0.6v0.6h-0.6zM224.6 56.0h0.6v0.6h-0.6zM235.8 61.0h0.6v0.6h-0.6zM223.5 55.3h0.6v0.6h-0.6zM224.5 61.3h0.6v0.6h-0.6zM222.2 62.5h0.6v0.6h-0.6zM224.5 58.2h0.6v0.6h-0.6zM227.6 57.5h0.6v0.6h-0.6zM227.0 57.0h0.6v0.6h-0.6zM226.7 61.0h0.6v0.6h-0.6zM225.2 52.4h0.6v0.6h-0.6zM225.7 57.3h0.6v0.6h-0.6zM227.1 59.3h0.6v0.6h-0.6zM220.2 64.0h0.6v0.6h-0.6zM227.7 55.0h0.6v0.6h-0.6zM219.6 57.9h0.6v0.6h-0.6zM221.6 52.2h0.6v0.6h-0.6z"/>
<path fill="#707a66" fill-opacity="0.7" d="M218.8 59.1h0.6v0.6h-0.6zM222.5 58.6h0.6v0.6h-0.6zM220.0 56.4h0.6v0.6h-0.6zM224.2 57.6h0.6v0.6h-0.6zM226.8 60.3h0.6v0.6h-0.6zM221.1 55.3h0.6v0.6h-0.6zM220.7 53.3h0.6v0.6h-0.6zM224.8 58.9h0.6v0.6h-0.6zM224.1 52.3h0.6v0.6h-0.6zM223.4 59.1h0.6v0.6h-0.6zM225.3 54.8h0.6v0.6h-0.6zM226.2 55.0h0.6v0.6h-0.6zM225.7 63.6h0.6v0.6h-0.6zM224.2 60.3h0.6v0.6h-0.6zM221.1 57.8h0.6v0.6h-0.6zM225.0 58.8h0.6v0.6h-0.6zM216.2 59.8h0.6v0.6h-0.6zM224.5 55.1h0.6v0.6h-0.6zM222.5 57.0h0.6v0.6h-0.6zM222.4 58.5h0.6v0.6h-0.6zM226.7 61.2h0.6v0.6h-0.6zM225.3 59.6h0.6v0.6h-0.6zM223.6 62.9h0.6v0.6h-0.6zM221.2 56.5h0.6v0.6h-0.6zM223.9 51.3h0.6v0.6h-0.6zM224.6 57.8h0.6v0.6h-0.6zM234.1 57.1h0.6v0.6h-0.6zM225.5 61.2h0.6v0.6h-0.6zM222.2 61.2h0.6v0.6h-0.6zM225.3 57.3h0.6v0.6h-0.6zM220.9 54.8h0.6v0.6h-0.6zM224.9 56.0h0.6v0.6h-0.6zM222.9 56.5h0.6v0.6h-0.6zM221.8 57.4h0.6v0.6h-0.6zM219.6 59.7h0.6v0.6h-0.6zM233.5 60.3h0.6v0.6h-0.6zM223.0 56.5h0.6v0.6h-0.6zM227.0 58.0h0.6v0.6h-0.6zM221.3 57.9h0.6v0.6h-0.6zM220.8 59.6h0.6v0.6h-0.6zM220.6 62.0h0.6v0.6h-0.6zM222.8 57.7h0.6v0.6h-0.6zM220.4 61.4h0.6v0.6h-0.6zM218.3 54.4h0.6v0.6h-0.6zM225.1 56.4h0.6v0.6h-0.6zM228.8 58.9h0.6v0.6h-0.6zM216.5 64.4h0.6v0.6h-0.6zM222.0 60.7h0.6v0.6h-0.6zM219.7 54.9h0.6v0.6h-0.6zM220.9 56.4h0.6v0.6h-0.6zM231.9 51.0h0.6v0.6h-0.6zM222.4 58.5h0.6v0.6h-0.6zM228.7 55.8h0.6v0.6h-0.6zM228.1 55.1h0.6v0.6h-0.6zM237.8 54.3h0.6v0.6h-0.6zM215.9 59.6h0.6v0.6h-0.6zM223.7 61.6h0.6v0.6h-0.6zM220.5 55.3h0.6v0.6h-0.6zM225.0 61.0h0.6v0.6h-0.6zM226.2 53.7h0.6v0.6h-0.6zM222.2 57.5h0.6v0.6h-0.6zM223.0 59.1h0.6v0.6h-0.6zM224.5 55.4h0.6v0.6h-0.6zM230.1 56.8h0.6v0.6h-0.6zM218.7 55.4h0.6v0.6h-0.6zM236.9 55.2h0.6v0.6h-0.6zM228.1 60.0h0.6v0.6h-0.6zM230.5 60.3h0.6v0.6h-0.6zM223.0 56.8h0.6v0.6h-0.6zM224.7 61.0h0.6v0.6h-0.6zM221.6 54.9h0.6v0.6h-0.6zM221.4 64.8h0.6v0.6h-0.6zM225.1 58.8h0.6v0.6h-0.6zM227.6 60.8h0.6v0.6h-0.6zM228.3 60.9h0.6v0.6h-0.6zM221.5 59.8h0.6v0.6h-0.6z"/>
<path fill="#5d6470" fill-opacity="0.7" d="M226.0 59.7h0.6v0.6h-0.6zM230.5 57.0h0.6v0.6h-0.6zM232.8 60.1h0.6v0.6h-0.6zM232.9 56.7h0.6v0.6h-0.6zM223.6 63.6h0.6v0.6h-0.6zM226.2 61.1h0.6v0.6h-0.6zM226.1 58.2h0.6v0.6h-0.6zM228.9 56.3h0.6v0.6h-0.6zM224.8 55.9h0.6v0.6h-0.6zM220.3 57.6h0.6v0.6h-0.6zM229.4 59.4h0.6v0.6h-0.6zM221.3 58.5h0.6v0.6h-0.6zM224.3 56.6h0.6v0.6h-0.6zM220.8 55.7h0.6v0.6h-0.6zM221.8 53.5h0.6v0.6h-0.6zM218.9 59.0h0.6v0.6h-0.6zM221.5 54.0h0.6v0.6h-0.6zM221.5 60.3h0.6v0.6h-0.6zM224.1 55.8h0.6v0.6h-0.6zM224.4 62.7h0.6v0.6h-0.6zM223.5 55.2h0.6v0.6h-0.6zM227.0 59.6h0.6v0.6h-0.6zM225.4 58.5h0.6v0.6h-0.6zM223.7 55.2h0.6v0.6h-0.6zM229.5 56.1h0.6v0.6h-0.6zM227.3 61.6h0.6v0.6h-0.6zM217.0 58.3h0.6v0.6h-0.6zM230.6 57.3h0.6v0.6h-0.6zM225.6 59.8h0.6v0.6h-0.6zM227.5 61.1h0.6v0.6h-0.6zM229.8 60.1h0.6v0.6h-0.6zM218.2 56.5h0.6v0.6h-0.6zM221.8 59.1h0.6v0.6h-0.6zM230.0 62.9h0.6v0.6h-0.6zM220.0 58.1h0.6v0.6h-0.6zM226.7 58.3h0.6v0.6h-0.6zM232.1 63.5h0.6v0.6h-0.6zM229.0 56.8h0.6v0.6h-0.6zM214.6 53.3h0.6v0.6h-0.6zM226.1 58.9h0.6v0.6h-0.6zM217.8 57.1h0.6v0.6h-0.6zM228.5 58.3h0.6v0.6h-0.6zM221.6 57.9h0.6v0.6h-0.6zM221.4 53.8h0.6v0.6h-0.6zM222.2 58.2h0.6v0.6h-0.6zM225.2 62.0h0.6v0.6h-0.6zM224.9 59.5h0.6v0.6h-0.6zM228.8 55.7h0.6v0.6h-0.6zM228.6 59.6h0.6v0.6h-0.6zM224.1 55.8h0.6v0.6h-0.6zM221.1 53.7h0.6v0.6h-0.6zM222.8 66.1h0.6v0.6h-0.6zM218.6 60.6h0.6v0.6h-0.6zM219.6 57.7h0.6v0.6h-0.6zM227.3 61.2h0.6v0.6h-0.6zM223.3 57.9h0.6v0.6h-0.6zM224.2 59.6h0.6v0.6h-0.6zM221.1 59.8h0.6v0.6h-0.6zM225.1 62.4h0.6v0.6h-0.6zM219.3 59.0h0.6v0.6h-0.6zM221.9 56.8h0.6v0.6h-0.6zM223.6 63.2h0.6v0.6h-0.6zM215.1 60.9h0.6v0.6h-0.6zM220.2 57.9h0.6v0.6h-0.6zM218.4 59.8h0.6v0.6h-0.6zM225.6 58.5h0.6v0.6h-0.6zM222.6 55.9h0.6v0.6h-0.6zM230.4 59.3h0.6v0.6h-0.6zM226.8 59.7h0.6v0.6h-0.6zM228.5 57.6h0.6v0.6h-0.6zM222.2 56.0h0.6v0.6h-0.6z"/>
<path fill="#6a7068" fill-opacity="0.7" d="M223.3 61.1h0.6v0.6h-0.6zM225.1 57.3h0.6v0.6h-0.6zM221.3 65.6h0.6v0.6h-0.6zM232.7 53.4h0.6v0.6h-0.6zM220.2 62.3h0.6v0.6h-0.6zM220.4 58.6h0.6v0.6h-0.6zM225.8 57.8h0.6v0.6h-0.6zM219.9 57.2h0.6v0.6h-0.6zM226.1 59.5h0.6v0.6h-0.6zM227.1 54.3h0.6v0.6h-0.6zM220.9 50.5h0.6v0.6h-0.6zM231.4 59.0h0.6v0.6h-0.6zM226.7 59.2h0.6v0.6h-0.6zM224.4 60.3h0.6v0.6h-0.6zM234.7 60.6h0.6v0.6h-0.6zM219.0 61.1h0.6v0.6h-0.6zM228.6 60.2h0.6v0.6h-0.6zM230.6 58.9h0.6v0.6h-0.6zM217.2 53.7h0.6v0.6h-0.6zM223.0 60.6h0.6v0.6h-0.6zM229.7 63.7h0.6v0.6h-0.6zM223.9 62.5h0.6v0.6h-0.6zM232.1 61.6h0.6v0.6h-0.6zM233.0 59.3h0.6v0.6h-0.6zM223.0 55.3h0.6v0.6h-0.6zM221.8 59.3h0.6v0.6h-0.6zM230.8 57.7h0.6v0.6h-0.6zM218.1 61.9h0.6v0.6h-0.6zM225.5 52.9h0.6v0.6h-0.6zM216.5 61.1h0.6v0.6h-0.6zM220.2 56.3h0.6v0.6h-0.6zM229.0 57.8h0.6v0.6h-0.6zM229.4 58.0h0.6v0.6h-0.6zM217.8 63.2h0.6v0.6h-0.6zM215.0 57.8h0.6v0.6h-0.6zM221.8 54.2h0.6v0.6h-0.6zM226.1 57.0h0.6v0.6h-0.6zM221.0 57.5h0.6v0.6h-0.6zM224.3 59.8h0.6v0.6h-0.6zM224.0 53.3h0.6v0.6h-0.6zM220.3 62.4h0.6v0.6h-0.6zM219.1 57.8h0.6v0.6h-0.6zM229.6 56.8h0.6v0.6h-0.6zM224.3 56.3h0.6v0.6h-0.6zM218.8 60.0h0.6v0.6h-0.6zM230.5 58.6h0.6v0.6h-0.6zM225.9 59.2h0.6v0.6h-0.6zM225.3 60.7h0.6v0.6h-0.6zM225.2 66.1h0.6v0.6h-0.6zM228.6 56.0h0.6v0.6h-0.6zM217.6 58.1h0.6v0.6h-0.6zM228.7 63.4h0.6v0.6h-0.6zM230.4 55.9h0.6v0.6h-0.6zM221.3 55.8h0.6v0.6h-0.6zM222.7 59.5h0.6v0.6h-0.6zM223.9 59.1h0.6v0.6h-0.6zM233.2 56.4h0.6v0.6h-0.6zM221.9 59.0h0.6v0.6h-0.6zM224.4 54.0h0.6v0.6h-0.6zM235.5 55.9h0.6v0.6h-0.6zM227.4 65.2h0.6v0.6h-0.6zM220.1 51.7h0.6v0.6h-0.6zM228.6 55.7h0.6v0.6h-0.6zM226.8 58.2h0.6v0.6h-0.6zM226.5 56.8h0.6v0.6h-0.6zM219.6 54.9h0.6v0.6h-0.6zM221.2 60.1h0.6v0.6h-0.6zM221.6 57.5h0.6v0.6h-0.6zM224.4 63.6h0.6v0.6h-0.6zM222.8 54.9h0.6v0.6h-0.6zM219.8 56.2h0.6v0.6h-0.6zM217.1 57.3h0.6v0.6h-0.6zM221.5 57.9h0.6v0.6h-0.6zM224.3 61.4h0.6v0.6h-0.6zM228.5 61.3h0.6v0.6h-0.6zM217.4 61.1h0.6v0.6h-0.6zM227.9 54.8h0.6v0.6h-0.6zM227.1 59.9h0.6v0.6h-0.6zM220.5 57.5h0.6v0.6h-0.6zM220.7 61.0h0.6v0.6h-0.6zM219.5 55.0h0.6v0.6h-0.6zM225.0 54.4h0.6v0.6h-0.6z"/>
<path fill="#58606e" fill-opacity="0.7" d="M226.3 58.0h0.6v0.6h-0.6zM219.6 52.9h0.6v0.6h-0.6zM219.5 59.8h0.6v0.6h-0.6zM221.0 54.7h0.6v0.6h-0.6zM218.8 59.6h0.6v0.6h-0.6zM221.6 57.2h0.6v0.6h-0.6zM220.6 55.6h0.6v0.6h-0.6zM226.5 56.7h0.6v0.6h-0.6zM220.4 60.4h0.6v0.6h-0.6zM229.2 56.6h0.6v0.6h-0.6zM220.0 62.2h0.6v0.6h-0.6zM216.6 63.6h0.6v0.6h-0.6zM218.4 62.3h0.6v0.6h-0.6zM217.4 57.0h0.6v0.6h-0.6zM226.3 57.7h0.6v0.6h-0.6zM227.5 59.2h0.6v0.6h-0.6zM219.8 59.7h0.6v0.6h-0.6zM219.2 64.0h0.6v0.6h-0.6zM225.8 53.3h0.6v0.6h-0.6zM237.7 57.2h0.6v0.6h-0.6zM225.1 52.4h0.6v0.6h-0.6zM219.9 60.2h0.6v0.6h-0.6zM225.5 53.3h0.6v0.6h-0.6zM222.1 54.9h0.6v0.6h-0.6zM225.3 53.3h0.6v0.6h-0.6zM230.0 59.0h0.6v0.6h-0.6zM217.6 57.1h0.6v0.6h-0.6zM230.0 61.4h0.6v0.6h-0.6zM228.9 62.7h0.6v0.6h-0.6zM221.4 62.5h0.6v0.6h-0.6zM219.9 62.4h0.6v0.6h-0.6zM216.9 54.0h0.6v0.6h-0.6zM224.5 60.6h0.6v0.6h-0.6zM225.2 55.9h0.6v0.6h-0.6zM219.4 62.8h0.6v0.6h-0.6zM224.8 57.6h0.6v0.6h-0.6zM215.1 59.2h0.6v0.6h-0.6zM225.0 60.7h0.6v0.6h-0.6zM222.7 61.5h0.6v0.6h-0.6zM226.5 57.1h0.6v0.6h-0.6zM230.8 59.7h0.6v0.6h-0.6zM221.2 60.5h0.6v0.6h-0.6zM226.2 57.5h0.6v0.6h-0.6zM222.1 55.3h0.6v0.6h-0.6zM218.7 55.6h0.6v0.6h-0.6zM221.0 61.0h0.6v0.6h-0.6zM220.9 55.4h0.6v0.6h-0.6zM224.7 55.7h0.6v0.6h-0.6zM232.8 58.5h0.6v0.6h-0.6zM223.8 56.4h0.6v0.6h-0.6zM224.2 59.0h0.6v0.6h-0.6zM228.5 63.5h0.6v0.6h-0.6zM231.5 55.8h0.6v0.6h-0.6zM219.5 61.0h0.6v0.6h-0.6zM229.6 49.7h0.6v0.6h-0.6zM221.1 62.6h0.6v0.6h-0.6zM227.0 55.3h0.6v0.6h-0.6zM224.3 56.6h0.6v0.6h-0.6zM217.7 59.7h0.6v0.6h-0.6zM228.0 59.6h0.6v0.6h-0.6zM228.0 60.0h0.6v0.6h-0.6zM225.4 62.3h0.6v0.6h-0.6zM224.8 53.4h0.6v0.6h-0.6zM231.7 59.6h0.6v0.6h-0.6zM223.2 51.0h0.6v0.6h-0.6zM219.1 53.5h0.6v0.6h-0.6zM216.7 58.9h0.6v0.6h-0.6zM221.9 57.8h0.6v0.6h-0.6zM227.8 56.0h0.6v0.6h-0.6zM220.6 58.0h0.6v0.6h-0.6zM220.0 60.5h0.6v0.6h-0.6zM226.4 59.7h0.6v0.6h-0.6zM214.6 55.2h0.6v0.6h-0.6zM220.3 61.1h0.6v0.6h-0.6zM222.2 54.6h0.6v0.6h-0.6zM229.3 61.2h0.6v0.6h-0.6zM218.3 63.0h0.6v0.6h-0.6zM223.1 59.0h0.6v0.6h-0.6zM224.1 59.7h0.6v0.6h-0.6zM227.1 53.2h0.6v0.6h-0.6zM229.5 60.4h0.6v0.6h-0.6zM222.3 60.0h0.6v0.6h-0.6zM225.9 65.2h0.6v0.6h-0.6zM220.3 61.8h0.6v0.6h-0.6zM225.2 58.0h0.6v0.6h-0.6zM220.2 58.3h0.6v0.6h-0.6zM226.0 61.4h0.6v0.6h-0.6z"/>
<path fill="#8a9450" fill-opacity="0.8" d="M225.2 57.1h0.6v0.6h-0.6zM224.5 54.3h0.6v0.6h-0.6zM224.2 57.7h0.6v0.6h-0.6zM227.1 57.3h0.6v0.6h-0.6zM223.0 55.7h0.6v0.6h-0.6zM230.0 58.3h0.6v0.6h-0.6zM225.5 56.4h0.6v0.6h-0.6zM223.1 57.6h0.6v0.6h-0.6zM223.8 58.0h0.6v0.6h-0.6zM224.0 57.5h0.6v0.6h-0.6zM223.1 58.1h0.6v0.6h-0.6zM224.8 57.7h0.6v0.6h-0.6zM225.3 59.6h0.6v0.6h-0.6zM219.1 59.3h0.6v0.6h-0.6zM226.4 57.6h0.6v0.6h-0.6zM223.4 56.1h0.6v0.6h-0.6zM227.7 60.9h0.6v0.6h-0.6zM224.2 59.9h0.6v0.6h-0.6zM225.4 59.1h0.6v0.6h-0.6zM222.9 56.3h0.6v0.6h-0.6zM224.8 58.2h0.6v0.6h-0.6zM226.1 56.2h0.6v0.6h-0.6zM223.9 58.9h0.6v0.6h-0.6zM226.4 57.7h0.6v0.6h-0.6zM224.0 54.9h0.6v0.6h-0.6zM224.9 56.7h0.6v0.6h-0.6zM223.4 55.2h0.6v0.6h-0.6zM221.9 56.4h0.6v0.6h-0.6zM225.9 58.6h0.6v0.6h-0.6zM226.3 57.1h0.6v0.6h-0.6zM225.2 58.6h0.6v0.6h-0.6zM228.3 57.9h0.6v0.6h-0.6z"/>
<path fill="#6c8058" fill-opacity="0.8" d="M221.8 57.8h0.6v0.6h-0.6zM224.9 56.4h0.6v0.6h-0.6zM221.9 57.9h0.6v0.6h-0.6zM225.5 57.2h0.6v0.6h-0.6zM224.7 58.4h0.6v0.6h-0.6zM226.3 57.3h0.6v0.6h-0.6zM224.6 58.0h0.6v0.6h-0.6zM227.0 57.4h0.6v0.6h-0.6zM226.3 58.4h0.6v0.6h-0.6zM223.8 55.5h0.6v0.6h-0.6zM225.7 59.5h0.6v0.6h-0.6zM224.6 58.5h0.6v0.6h-0.6zM224.0 57.4h0.6v0.6h-0.6zM222.4 58.0h0.6v0.6h-0.6zM229.0 58.9h0.6v0.6h-0.6zM226.2 58.4h0.6v0.6h-0.6zM225.0 57.6h0.6v0.6h-0.6zM221.6 56.7h0.6v0.6h-0.6zM226.1 57.9h0.6v0.6h-0.6zM224.8 59.8h0.6v0.6h-0.6zM223.9 59.7h0.6v0.6h-0.6zM222.5 57.6h0.6v0.6h-0.6zM227.4 58.6h0.6v0.6h-0.6zM224.6 60.6h0.6v0.6h-0.6zM221.1 56.8h0.6v0.6h-0.6zM226.2 55.1h0.6v0.6h-0.6zM222.0 55.4h0.6v0.6h-0.6zM225.5 55.8h0.6v0.6h-0.6zM224.9 54.5h0.6v0.6h-0.6zM227.0 56.6h0.6v0.6h-0.6zM225.3 56.5h0.6v0.6h-0.6z"/>
<path fill="#8a9a48" fill-opacity="0.8" d="M223.3 57.1h0.6v0.6h-0.6zM228.1 55.6h0.6v0.6h-0.6zM226.5 57.4h0.6v0.6h-0.6zM225.1 59.6h0.6v0.6h-0.6zM224.6 60.2h0.6v0.6h-0.6zM224.7 57.6h0.6v0.6h-0.6zM225.7 54.5h0.6v0.6h-0.6zM223.6 58.7h0.6v0.6h-0.6zM226.2 57.4h0.6v0.6h-0.6zM223.9 56.0h0.6v0.6h-0.6zM224.9 58.5h0.6v0.6h-0.6zM223.8 55.3h0.6v0.6h-0.6zM224.4 59.4h0.6v0.6h-0.6zM229.2 57.8h0.6v0.6h-0.6zM228.2 59.1h0.6v0.6h-0.6zM229.1 54.0h0.6v0.6h-0.6zM223.3 61.1h0.6v0.6h-0.6zM223.2 58.9h0.6v0.6h-0.6zM223.2 57.9h0.6v0.6h-0.6zM224.0 58.0h0.6v0.6h-0.6zM224.7 55.2h0.6v0.6h-0.6zM226.9 59.8h0.6v0.6h-0.6z"/>
<path fill="#7a8a58" fill-opacity="0.8" d="M223.1 60.2h0.6v0.6h-0.6zM226.9 58.9h0.6v0.6h-0.6zM225.2 54.8h0.6v0.6h-0.6zM223.5 60.5h0.6v0.6h-0.6zM226.9 59.3h0.6v0.6h-0.6zM227.3 60.6h0.6v0.6h-0.6zM226.3 55.4h0.6v0.6h-0.6zM229.1 55.3h0.6v0.6h-0.6zM223.9 59.6h0.6v0.6h-0.6zM226.3 58.6h0.6v0.6h-0.6zM228.2 57.9h0.6v0.6h-0.6zM224.0 60.0h0.6v0.6h-0.6zM220.8 54.9h0.6v0.6h-0.6zM226.1 58.5h0.6v0.6h-0.6zM222.8 59.8h0.6v0.6h-0.6z"/>
<path fill="#5a5a6a" fill-opacity="0.8" d="M257.1 58.2h0.6v0.6h-0.6zM255.6 58.6h0.6v0.6h-0.6zM256.3 55.6h0.6v0.6h-0.6zM255.7 55.7h0.6v0.6h-0.6zM254.3 60.5h0.6v0.6h-0.6zM256.8 51.1h0.6v0.6h-0.6zM255.3 62.8h0.6v0.6h-0.6zM254.3 55.4h0.6v0.6h-0.6zM253.9 53.9h0.6v0.6h-0.6zM254.8 62.8h0.6v0.6h-0.6zM256.0 54.5h0.6v0.6h-0.6zM255.9 57.5h0.6v0.6h-0.6zM255.7 64.8h0.6v0.6h-0.6zM256.5 51.3h0.6v0.6h-0.6zM256.6 54.2h0.6v0.6h-0.6zM259.6 58.1h0.6v0.6h-0.6zM255.8 61.5h0.6v0.6h-0.6zM257.3 59.8h0.6v0.6h-0.6zM254.0 64.1h0.6v0.6h-0.6zM254.3 55.4h0.6v0.6h-0.6zM257.3 55.5h0.6v0.6h-0.6zM256.1 55.9h0.6v0.6h-0.6zM258.7 61.0h0.6v0.6h-0.6zM256.9 53.0h0.6v0.6h-0.6zM254.0 58.9h0.6v0.6h-0.6zM256.1 57.9h0.6v0.6h-0.6zM256.2 57.9h0.6v0.6h-0.6zM256.4 54.7h0.6v0.6h-0.6zM255.0 56.1h0.6v0.6h-0.6zM255.4 57.7h0.6v0.6h-0.6zM258.5 54.4h0.6v0.6h-0.6zM257.0 59.4h0.6v0.6h-0.6zM253.9 58.6h0.6v0.6h-0.6zM259.2 50.6h0.6v0.6h-0.6zM257.3 49.8h0.6v0.6h-0.6zM253.5 52.3h0.6v0.6h-0.6zM258.0 54.3h0.6v0.6h-0.6zM256.4 54.8h0.6v0.6h-0.6zM256.0 54.7h0.6v0.6h-0.6zM252.6 60.9h0.6v0.6h-0.6zM258.0 64.6h0.6v0.6h-0.6zM255.5 53.6h0.6v0.6h-0.6zM256.6 55.2h0.6v0.6h-0.6zM257.9 61.2h0.6v0.6h-0.6zM255.6 59.5h0.6v0.6h-0.6zM255.9 56.6h0.6v0.6h-0.6zM256.9 61.1h0.6v0.6h-0.6zM252.8 59.1h0.6v0.6h-0.6zM253.7 61.0h0.6v0.6h-0.6zM255.4 50.9h0.6v0.6h-0.6zM255.3 54.1h0.6v0.6h-0.6zM256.2 59.3h0.6v0.6h-0.6zM255.8 56.7h0.6v0.6h-0.6zM255.7 58.2h0.6v0.6h-0.6zM256.4 55.0h0.6v0.6h-0.6zM254.9 53.2h0.6v0.6h-0.6zM255.1 57.8h0.6v0.6h-0.6zM255.3 50.5h0.6v0.6h-0.6zM255.8 58.9h0.6v0.6h-0.6zM255.6 53.6h0.6v0.6h-0.6zM253.0 58.7h0.6v0.6h-0.6zM256.1 49.1h0.6v0.6h-0.6zM255.7 52.5h0.6v0.6h-0.6zM256.3 52.2h0.6v0.6h-0.6zM259.4 58.7h0.6v0.6h-0.6zM259.2 55.4h0.6v0.6h-0.6zM257.9 60.7h0.6v0.6h-0.6zM254.3 54.7h0.6v0.6h-0.6z"/>
<path fill="#505a78" fill-opacity="0.8" d="M255.5 54.8h0.6v0.6h-0.6zM259.3 60.8h0.6v0.6h-0.6zM257.6 62.5h0.6v0.6h-0.6zM254.5 60.6h0.6v0.6h-0.6zM256.1 66.3h0.6v0.6h-0.6zM254.5 57.0h0.6v0.6h-0.6zM255.0 60.6h0.6v0.6h-0.6zM254.2 56.5h0.6v0.6h-0.6zM254.8 55.3h0.6v0.6h-0.6zM257.0 63.3h0.6v0.6h-0.6zM256.9 61.3h0.6v0.6h-0.6zM255.7 58.2h0.6v0.6h-0.6zM256.8 54.0h0.6v0.6h-0.6zM257.3 62.7h0.6v0.6h-0.6zM256.9 56.6h0.6v0.6h-0.6zM257.5 59.9h0.6v0.6h-0.6zM253.6 59.3h0.6v0.6h-0.6zM253.8 57.1h0.6v0.6h-0.6zM256.1 58.6h0.6v0.6h-0.6zM253.7 58.4h0.6v0.6h-0.6zM257.5 56.8h0.6v0.6h-0.6zM257.5 59.8h0.6v0.6h-0.6zM257.0 56.7h0.6v0.6h-0.6zM258.0 52.9h0.6v0.6h-0.6zM254.4 59.4h0.6v0.6h-0.6zM259.0 55.7h0.6v0.6h-0.6zM255.1 61.6h0.6v0.6h-0.6zM255.1 54.3h0.6v0.6h-0.6zM257.2 60.0h0.6v0.6h-0.6zM258.0 66.0h0.6v0.6h-0.6zM257.6 51.0h0.6v0.6h-0.6zM255.0 49.5h0.6v0.6h-0.6zM256.1 64.4h0.6v0.6h-0.6zM255.9 60.0h0.6v0.6h-0.6zM256.5 63.6h0.6v0.6h-0.6zM257.8 64.0h0.6v0.6h-0.6zM257.8 54.4h0.6v0.6h-0.6zM256.4 56.3h0.6v0.6h-0.6zM257.7 50.1h0.6v0.6h-0.6zM253.5 60.9h0.6v0.6h-0.6zM258.9 50.6h0.6v0.6h-0.6zM255.3 62.6h0.6v0.6h-0.6zM255.3 57.6h0.6v0.6h-0.6zM256.7 53.9h0.6v0.6h-0.6zM258.1 55.8h0.6v0.6h-0.6zM256.7 56.5h0.6v0.6h-0.6zM259.4 55.6h0.6v0.6h-0.6zM254.0 55.5h0.6v0.6h-0.6zM257.1 57.5h0.6v0.6h-0.6zM256.1 61.1h0.6v0.6h-0.6zM256.5 55.7h0.6v0.6h-0.6z"/>
<path fill="#4a5070" fill-opacity="0.8" d="M257.6 58.6h0.6v0.6h-0.6zM255.2 54.8h0.6v0.6h-0.6zM257.6 56.7h0.6v0.6h-0.6zM257.6 63.3h0.6v0.6h-0.6zM254.0 53.9h0.6v0.6h-0.6zM258.1 57.3h0.6v0.6h-0.6zM258.3 46.9h0.6v0.6h-0.6zM255.2 63.1h0.6v0.6h-0.6zM255.0 60.8h0.6v0.6h-0.6zM256.2 62.0h0.6v0.6h-0.6zM258.1 61.2h0.6v0.6h-0.6zM257.1 62.0h0.6v0.6h-0.6zM257.7 55.6h0.6v0.6h-0.6zM256.2 55.9h0.6v0.6h-0.6zM257.9 52.6h0.6v0.6h-0.6zM255.9 56.6h0.6v0.6h-0.6zM254.8 56.5h0.6v0.6h-0.6zM255.4 58.2h0.6v0.6h-0.6zM257.6 62.9h0.6v0.6h-0.6zM256.5 55.1h0.6v0.6h-0.6zM257.9 61.5h0.6v0.6h-0.6zM254.4 54.7h0.6v0.6h-0.6zM255.4 56.1h0.6v0.6h-0.6zM254.6 55.7h0.6v0.6h-0.6zM255.8 58.7h0.6v0.6h-0.6zM253.0 59.3h0.6v0.6h-0.6zM258.0 60.4h0.6v0.6h-0.6zM260.3 51.9h0.6v0.6h-0.6zM256.1 55.6h0.6v0.6h-0.6zM258.1 60.0h0.6v0.6h-0.6zM254.8 55.5h0.6v0.6h-0.6zM258.5 54.0h0.6v0.6h-0.6zM254.5 59.5h0.6v0.6h-0.6zM259.0 57.1h0.6v0.6h-0.6zM257.0 63.9h0.6v0.6h-0.6zM256.7 55.9h0.6v0.6h-0.6zM254.2 56.6h0.6v0.6h-0.6zM255.1 56.9h0.6v0.6h-0.6zM253.8 56.1h0.6v0.6h-0.6zM257.3 54.6h0.6v0.6h-0.6zM253.8 50.0h0.6v0.6h-0.6zM255.3 51.8h0.6v0.6h-0.6zM254.1 55.4h0.6v0.6h-0.6zM257.4 60.9h0.6v0.6h-0.6zM255.2 62.8h0.6v0.6h-0.6zM256.6 56.5h0.6v0.6h-0.6zM258.2 53.1h0.6v0.6h-0.6zM256.4 56.9h0.6v0.6h-0.6zM254.7 62.1h0.6v0.6h-0.6zM252.2 65.7h0.6v0.6h-0.6zM254.1 58.6h0.6v0.6h-0.6zM253.4 56.6h0.6v0.6h-0.6z"/>
<path fill="#5e6270" fill-opacity="0.8" d="M259.8 54.3h0.6v0.6h-0.6zM258.9 56.1h0.6v0.6h-0.6zM253.9 57.0h0.6v0.6h-0.6zM254.3 57.1h0.6v0.6h-0.6zM255.7 57.1h0.6v0.6h-0.6zM255.5 62.6h0.6v0.6h-0.6zM254.9 53.9h0.6v0.6h-0.6zM255.7 61.3h0.6v0.6h-0.6zM254.5 62.0h0.6v0.6h-0.6zM256.4 59.7h0.6v0.6h-0.6zM255.6 55.9h0.6v0.6h-0.6zM256.6 56.4h0.6v0.6h-0.6zM255.0 60.6h0.6v0.6h-0.6zM258.6 55.5h0.6v0.6h-0.6zM256.8 55.5h0.6v0.6h-0.6zM259.9 55.3h0.6v0.6h-0.6zM255.5 53.1h0.6v0.6h-0.6zM255.5 56.0h0.6v0.6h-0.6zM256.6 59.2h0.6v0.6h-0.6zM259.2 56.8h0.6v0.6h-0.6zM257.9 54.1h0.6v0.6h-0.6zM257.3 58.5h0.6v0.6h-0.6zM257.9 59.4h0.6v0.6h-0.6zM256.3 53.8h0.6v0.6h-0.6zM257.1 56.7h0.6v0.6h-0.6zM254.3 51.7h0.6v0.6h-0.6zM255.7 56.0h0.6v0.6h-0.6zM258.5 58.1h0.6v0.6h-0.6zM257.3 55.5h0.6v0.6h-0.6zM255.4 57.6h0.6v0.6h-0.6zM255.2 53.3h0.6v0.6h-0.6zM254.5 54.9h0.6v0.6h-0.6zM256.2 65.9h0.6v0.6h-0.6zM254.7 58.1h0.6v0.6h-0.6zM256.9 59.9h0.6v0.6h-0.6zM255.8 54.5h0.6v0.6h-0.6zM254.5 54.8h0.6v0.6h-0.6zM259.5 56.9h0.6v0.6h-0.6zM254.9 54.7h0.6v0.6h-0.6zM255.8 58.8h0.6v0.6h-0.6zM254.5 60.2h0.6v0.6h-0.6zM253.9 54.9h0.6v0.6h-0.6zM257.0 57.2h0.6v0.6h-0.6zM258.1 54.6h0.6v0.6h-0.6zM256.9 56.1h0.6v0.6h-0.6zM255.7 50.7h0.6v0.6h-0.6zM253.5 62.4h0.6v0.6h-0.6zM257.7 59.0h0.6v0.6h-0.6zM252.7 57.6h0.6v0.6h-0.6z"/>
<path fill="#d89018" fill-opacity="1" d="M259.2 54.4h0.6v0.6h-0.6zM258.6 55.6h0.6v0.6h-0.6zM257.0 56.5h0.6v0.6h-0.6zM256.7 54.0h0.6v0.6h-0.6zM256.4 55.3h0.6v0.6h-0.6zM258.4 53.5h0.6v0.6h-0.6zM257.7 60.0h0.6v0.6h-0.6zM258.6 56.6h0.6v0.6h-0.6zM255.2 52.8h0.6v0.6h-0.6zM259.2 54.7h0.6v0.6h-0.6zM257.3 58.3h0.6v0.6h-0.6zM258.1 53.6h0.6v0.6h-0.6zM256.9 59.5h0.6v0.6h-0.6zM256.6 56.4h0.6v0.6h-0.6zM256.9 54.5h0.6v0.6h-0.6zM256.6 53.4h0.6v0.6h-0.6zM256.5 52.4h0.6v0.6h-0.6zM258.5 60.5h0.6v0.6h-0.6zM258.4 53.7h0.6v0.6h-0.6zM259.4 57.8h0.6v0.6h-0.6zM258.1 58.3h0.6v0.6h-0.6zM258.1 56.1h0.6v0.6h-0.6zM258.5 53.3h0.6v0.6h-0.6zM257.0 54.4h0.6v0.6h-0.6zM256.1 52.2h0.6v0.6h-0.6zM259.6 55.8h0.6v0.6h-0.6z"/>
<path fill="#c89030" fill-opacity="1" d="M257.2 57.9h0.6v0.6h-0.6zM259.1 56.9h0.6v0.6h-0.6zM258.3 54.8h0.6v0.6h-0.6zM257.1 58.6h0.6v0.6h-0.6zM256.4 58.4h0.6v0.6h-0.6zM257.0 59.1h0.6v0.6h-0.6zM254.7 57.5h0.6v0.6h-0.6zM255.1 54.8h0.6v0.6h-0.6zM257.7 58.8h0.6v0.6h-0.6zM257.7 56.4h0.6v0.6h-0.6zM257.5 55.2h0.6v0.6h-0.6zM259.3 57.5h0.6v0.6h-0.6zM259.0 54.8h0.6v0.6h-0.6zM258.4 52.1h0.6v0.6h-0.6zM258.5 56.7h0.6v0.6h-0.6zM258.1 60.1h0.6v0.6h-0.6zM258.3 55.6h0.6v0.6h-0.6zM255.4 58.9h0.6v0.6h-0.6zM257.4 54.8h0.6v0.6h-0.6zM258.7 52.9h0.6v0.6h-0.6zM256.9 56.4h0.6v0.6h-0.6zM257.2 56.9h0.6v0.6h-0.6zM257.7 57.2h0.6v0.6h-0.6z"/>
<path fill="#eaa828" fill-opacity="1" d="M259.5 54.1h0.6v0.6h-0.6zM257.2 52.8h0.6v0.6h-0.6zM255.7 57.2h0.6v0.6h-0.6zM259.4 53.0h0.6v0.6h-0.6zM258.6 56.0h0.6v0.6h-0.6zM259.1 57.2h0.6v0.6h-0.6zM260.1 59.2h0.6v0.6h-0.6zM258.7 55.2h0.6v0.6h-0.6zM256.8 52.3h0.6v0.6h-0.6zM258.4 57.0h0.6v0.6h-0.6zM257.3 55.5h0.6v0.6h-0.6zM258.1 55.3h0.6v0.6h-0.6zM255.9 57.4h0.6v0.6h-0.6zM258.7 56.7h0.6v0.6h-0.6zM258.3 58.2h0.6v0.6h-0.6zM258.9 59.5h0.6v0.6h-0.6zM255.7 55.3h0.6v0.6h-0.6zM259.6 62.8h0.6v0.6h-0.6zM258.2 55.9h0.6v0.6h-0.6zM257.1 53.8h0.6v0.6h-0.6zM257.9 54.0h0.6v0.6h-0.6zM257.0 60.0h0.6v0.6h-0.6zM255.1 57.8h0.6v0.6h-0.6z"/>
<path fill="#f0a818" fill-opacity="1" d="M257.0 54.9h0.6v0.6h-0.6zM259.0 56.6h0.6v0.6h-0.6zM257.1 58.8h0.6v0.6h-0.6zM257.4 55.8h0.6v0.6h-0.6zM257.8 58.1h0.6v0.6h-0.6zM259.1 57.0h0.6v0.6h-0.6zM260.4 59.1h0.6v0.6h-0.6zM258.2 58.1h0.6v0.6h-0.6zM260.6 51.7h0.6v0.6h-0.6zM258.4 57.8h0.6v0.6h-0.6zM256.5 55.9h0.6v0.6h-0.6zM257.1 55.8h0.6v0.6h-0.6zM259.5 55.0h0.6v0.6h-0.6zM260.6 56.9h0.6v0.6h-0.6zM260.3 55.7h0.6v0.6h-0.6zM257.5 57.6h0.6v0.6h-0.6zM257.7 58.2h0.6v0.6h-0.6zM256.5 53.9h0.6v0.6h-0.6zM256.2 57.9h0.6v0.6h-0.6zM256.8 55.0h0.6v0.6h-0.6zM258.1 55.3h0.6v0.6h-0.6zM258.7 56.7h0.6v0.6h-0.6zM257.9 57.8h0.6v0.6h-0.6zM257.1 53.5h0.6v0.6h-0.6zM257.8 56.1h0.6v0.6h-0.6z"/>
<path fill="#e0a020" fill-opacity="1" d="M257.6 49.7h0.6v0.6h-0.6zM259.0 59.0h0.6v0.6h-0.6zM256.1 53.8h0.6v0.6h-0.6zM260.4 55.5h0.6v0.6h-0.6zM258.4 54.8h0.6v0.6h-0.6zM257.6 57.4h0.6v0.6h-0.6zM257.1 49.8h0.6v0.6h-0.6zM256.9 54.8h0.6v0.6h-0.6zM256.2 55.3h0.6v0.6h-0.6zM255.4 57.4h0.6v0.6h-0.6zM258.6 55.2h0.6v0.6h-0.6zM258.2 56.0h0.6v0.6h-0.6zM259.3 57.2h0.6v0.6h-0.6zM256.3 53.5h0.6v0.6h-0.6zM257.6 54.8h0.6v0.6h-0.6zM259.7 56.4h0.6v0.6h-0.6zM259.5 53.7h0.6v0.6h-0.6zM258.5 52.4h0.6v0.6h-0.6zM255.0 52.8h0.6v0.6h-0.6zM258.1 57.8h0.6v0.6h-0.6zM257.4 56.6h0.6v0.6h-0.6zM257.6 57.0h0.6v0.6h-0.6zM258.0 54.9h0.6v0.6h-0.6z"/>
<path fill="#6a8a50" fill-opacity="0.9" d="M257.5 59.7h0.6v0.6h-0.6zM256.4 57.6h0.6v0.6h-0.6zM257.1 58.6h0.6v0.6h-0.6zM257.7 62.3h0.6v0.6h-0.6zM255.8 60.1h0.6v0.6h-0.6zM258.7 61.8h0.6v0.6h-0.6zM255.9 59.4h0.6v0.6h-0.6zM257.4 59.5h0.6v0.6h-0.6zM257.6 59.8h0.6v0.6h-0.6zM255.3 60.0h0.6v0.6h-0.6zM254.7 60.7h0.6v0.6h-0.6zM257.2 61.4h0.6v0.6h-0.6z"/>
<path fill="#8a9a40" fill-opacity="0.9" d="M258.0 60.5h0.6v0.6h-0.6zM257.7 58.8h0.6v0.6h-0.6zM256.4 61.3h0.6v0.6h-0.6zM257.9 62.0h0.6v0.6h-0.6zM257.0 60.0h0.6v0.6h-0.6zM256.5 60.8h0.6v0.6h-0.6zM257.6 60.0h0.6v0.6h-0.6zM256.7 60.2h0.6v0.6h-0.6zM256.2 58.9h0.6v0.6h-0.6zM258.2 57.8h0.6v0.6h-0.6zM256.7 60.8h0.6v0.6h-0.6zM257.1 61.5h0.6v0.6h-0.6zM257.2 62.1h0.6v0.6h-0.6z"/>
</g>
<g filter="url(#db)">
<path fill="#9698be" fill-opacity="0.45" d="M297.3 78.5h0.6v0.6h-0.6zM294.7 93.0h0.6v0.6h-0.6zM298.4 64.1h0.6v0.6h-0.6zM280.8 86.0h0.6v0.6h-0.6zM319.6 64.7h0.6v0.6h-0.6zM297.8 56.0h0.6v0.6h-0.6zM305.8 45.6h0.6v0.6h-0.6zM287.2 60.0h0.6v0.6h-0.6zM279.2 52.1h0.6v0.6h-0.6zM304.1 85.7h0.6v0.6h-0.6zM299.3 78.3h0.6v0.6h-0.6zM276.2 88.3h0.6v0.6h-0.6zM302.7 69.8h0.6v0.6h-0.6zM304.4 66.9h0.6v0.6h-0.6zM297.6 94.0h0.6v0.6h-0.6zM278.7 67.3h0.6v0.6h-0.6zM302.0 79.5h0.6v0.6h-0.6zM287.2 68.2h0.6v0.6h-0.6zM276.8 90.5h0.6v0.6h-0.6zM287.5 77.7h0.6v0.6h-0.6zM291.9 80.0h0.6v0.6h-0.6zM295.6 69.6h0.6v0.6h-0.6zM285.1 87.9h0.6v0.6h-0.6zM309.5 84.3h0.6v0.6h-0.6zM284.7 76.7h0.6v0.6h-0.6zM307.9 92.0h0.6v0.6h-0.6zM288.6 88.4h0.6v0.6h-0.6zM278.5 66.4h0.6v0.6h-0.6zM281.4 87.6h0.6v0.6h-0.6zM304.1 88.5h0.6v0.6h-0.6zM282.1 74.5h0.6v0.6h-0.6zM278.0 65.9h0.6v0.6h-0.6zM287.1 88.8h0.6v0.6h-0.6zM300.5 65.2h0.6v0.6h-0.6zM286.1 78.9h0.6v0.6h-0.6zM282.3 69.7h0.6v0.6h-0.6zM304.9 78.7h0.6v0.6h-0.6zM302.3 90.8h0.6v0.6h-0.6z"/>
<path fill="#b0b2d0" fill-opacity="0.45" d="M307.4 45.7h0.6v0.6h-0.6zM324.4 82.0h0.6v0.6h-0.6zM280.9 62.5h0.6v0.6h-0.6zM284.1 58.9h0.6v0.6h-0.6zM309.3 79.9h0.6v0.6h-0.6zM291.9 55.9h0.6v0.6h-0.6zM312.1 70.6h0.6v0.6h-0.6zM278.8 85.8h0.6v0.6h-0.6zM303.0 87.6h0.6v0.6h-0.6zM279.7 72.2h0.6v0.6h-0.6zM284.5 83.7h0.6v0.6h-0.6zM280.7 79.7h0.6v0.6h-0.6zM290.4 92.7h0.6v0.6h-0.6zM301.2 67.2h0.6v0.6h-0.6zM280.0 70.7h0.6v0.6h-0.6zM308.6 66.4h0.6v0.6h-0.6zM279.2 74.4h0.6v0.6h-0.6zM306.7 93.1h0.6v0.6h-0.6zM289.4 74.0h0.6v0.6h-0.6zM292.2 92.7h0.6v0.6h-0.6zM306.5 90.3h0.6v0.6h-0.6zM287.1 84.5h0.6v0.6h-0.6zM286.4 80.7h0.6v0.6h-0.6zM279.6 66.9h0.6v0.6h-0.6zM306.9 84.3h0.6v0.6h-0.6zM304.4 80.8h0.6v0.6h-0.6zM278.1 84.8h0.6v0.6h-0.6zM293.1 93.7h0.6v0.6h-0.6zM300.5 82.6h0.6v0.6h-0.6zM278.3 93.5h0.6v0.6h-0.6zM276.5 81.9h0.6v0.6h-0.6zM292.4 87.0h0.6v0.6h-0.6zM300.8 81.9h0.6v0.6h-0.6zM277.5 76.6h0.6v0.6h-0.6zM278.1 79.9h0.6v0.6h-0.6zM302.6 92.6h0.6v0.6h-0.6zM297.6 74.2h0.6v0.6h-0.6zM283.9 90.1h0.6v0.6h-0.6zM309.7 64.6h0.6v0.6h-0.6z"/>
<path fill="#a2a4c6" fill-opacity="0.45" d="M275.4 91.2h0.6v0.6h-0.6zM323.8 81.8h0.6v0.6h-0.6zM321.1 84.3h0.6v0.6h-0.6zM295.3 66.3h0.6v0.6h-0.6zM277.7 67.1h0.6v0.6h-0.6zM293.0 48.2h0.6v0.6h-0.6zM300.9 72.4h0.6v0.6h-0.6zM314.8 47.3h0.6v0.6h-0.6zM284.1 55.4h0.6v0.6h-0.6zM293.3 82.9h0.6v0.6h-0.6zM308.4 82.4h0.6v0.6h-0.6zM308.4 68.1h0.6v0.6h-0.6zM287.7 72.8h0.6v0.6h-0.6zM281.3 88.2h0.6v0.6h-0.6zM306.2 78.0h0.6v0.6h-0.6zM292.4 66.0h0.6v0.6h-0.6zM277.6 66.7h0.6v0.6h-0.6zM288.1 86.2h0.6v0.6h-0.6zM299.5 67.7h0.6v0.6h-0.6zM276.2 68.2h0.6v0.6h-0.6zM284.9 72.2h0.6v0.6h-0.6zM295.1 82.9h0.6v0.6h-0.6zM302.2 80.0h0.6v0.6h-0.6zM279.4 69.5h0.6v0.6h-0.6zM304.6 82.1h0.6v0.6h-0.6zM303.9 78.5h0.6v0.6h-0.6zM281.4 75.3h0.6v0.6h-0.6zM299.1 82.1h0.6v0.6h-0.6zM280.0 80.0h0.6v0.6h-0.6zM304.4 82.7h0.6v0.6h-0.6zM287.7 85.0h0.6v0.6h-0.6zM294.5 69.1h0.6v0.6h-0.6zM300.0 64.2h0.6v0.6h-0.6zM307.1 91.9h0.6v0.6h-0.6zM306.8 87.8h0.6v0.6h-0.6zM307.8 79.3h0.6v0.6h-0.6zM278.3 72.4h0.6v0.6h-0.6zM305.6 88.1h0.6v0.6h-0.6zM280.4 73.6h0.6v0.6h-0.6zM293.4 77.9h0.6v0.6h-0.6zM303.3 65.9h0.6v0.6h-0.6zM285.4 79.9h0.6v0.6h-0.6zM288.4 72.6h0.6v0.6h-0.6zM306.4 74.1h0.6v0.6h-0.6zM288.2 76.0h0.6v0.6h-0.6zM283.3 80.6h0.6v0.6h-0.6zM298.2 77.3h0.6v0.6h-0.6zM301.7 66.6h0.6v0.6h-0.6zM302.0 80.9h0.6v0.6h-0.6z"/>
<path fill="#b8b8c8" fill-opacity="0.45" d="M273.4 46.1h0.6v0.6h-0.6zM313.7 54.0h0.6v0.6h-0.6zM309.4 49.8h0.6v0.6h-0.6zM289.3 63.3h0.6v0.6h-0.6zM324.1 64.7h0.6v0.6h-0.6zM300.0 43.2h0.6v0.6h-0.6zM306.7 56.3h0.6v0.6h-0.6zM297.9 83.1h0.6v0.6h-0.6zM280.8 86.3h0.6v0.6h-0.6zM308.5 76.5h0.6v0.6h-0.6zM302.3 93.9h0.6v0.6h-0.6zM303.9 67.9h0.6v0.6h-0.6zM287.5 71.3h0.6v0.6h-0.6zM288.1 93.9h0.6v0.6h-0.6zM291.8 75.8h0.6v0.6h-0.6zM297.7 69.6h0.6v0.6h-0.6zM300.2 64.6h0.6v0.6h-0.6zM285.8 71.9h0.6v0.6h-0.6zM286.5 82.2h0.6v0.6h-0.6zM278.9 64.6h0.6v0.6h-0.6zM296.3 84.2h0.6v0.6h-0.6zM277.5 75.9h0.6v0.6h-0.6zM287.6 68.5h0.6v0.6h-0.6zM307.8 90.2h0.6v0.6h-0.6zM291.0 93.2h0.6v0.6h-0.6zM286.9 92.1h0.6v0.6h-0.6zM300.8 68.4h0.6v0.6h-0.6zM292.4 84.6h0.6v0.6h-0.6zM292.7 75.9h0.6v0.6h-0.6zM303.4 84.2h0.6v0.6h-0.6zM294.9 87.7h0.6v0.6h-0.6zM299.3 79.2h0.6v0.6h-0.6zM288.2 85.3h0.6v0.6h-0.6zM279.4 73.0h0.6v0.6h-0.6zM289.2 77.2h0.6v0.6h-0.6zM302.8 81.3h0.6v0.6h-0.6zM278.1 81.4h0.6v0.6h-0.6zM300.4 81.0h0.6v0.6h-0.6zM294.6 89.4h0.6v0.6h-0.6zM310.0 70.4h0.6v0.6h-0.6zM305.1 85.8h0.6v0.6h-0.6zM291.5 81.3h0.6v0.6h-0.6zM304.4 78.4h0.6v0.6h-0.6zM299.0 77.3h0.6v0.6h-0.6z"/>
<path fill="#a9a9bb" fill-opacity="0.45" d="M323.1 62.4h0.6v0.6h-0.6zM286.2 77.1h0.6v0.6h-0.6zM309.6 43.3h0.6v0.6h-0.6zM291.3 42.4h0.6v0.6h-0.6zM320.6 57.7h0.6v0.6h-0.6zM284.0 55.6h0.6v0.6h-0.6zM297.3 87.8h0.6v0.6h-0.6zM291.3 85.0h0.6v0.6h-0.6zM285.9 49.1h0.6v0.6h-0.6zM278.3 76.0h0.6v0.6h-0.6zM286.7 74.0h0.6v0.6h-0.6zM279.3 82.0h0.6v0.6h-0.6zM305.4 67.9h0.6v0.6h-0.6zM308.5 71.5h0.6v0.6h-0.6zM282.2 70.1h0.6v0.6h-0.6zM300.9 75.7h0.6v0.6h-0.6zM307.0 66.2h0.6v0.6h-0.6zM305.1 75.4h0.6v0.6h-0.6zM284.9 80.5h0.6v0.6h-0.6zM277.0 90.9h0.6v0.6h-0.6zM286.3 84.0h0.6v0.6h-0.6zM307.4 81.2h0.6v0.6h-0.6zM277.1 65.7h0.6v0.6h-0.6zM279.0 64.9h0.6v0.6h-0.6zM285.1 93.8h0.6v0.6h-0.6zM302.7 82.0h0.6v0.6h-0.6zM291.6 72.5h0.6v0.6h-0.6zM281.4 79.0h0.6v0.6h-0.6zM310.0 93.5h0.6v0.6h-0.6zM295.9 66.3h0.6v0.6h-0.6zM295.3 79.8h0.6v0.6h-0.6zM298.3 84.9h0.6v0.6h-0.6zM292.6 71.5h0.6v0.6h-0.6zM294.1 83.5h0.6v0.6h-0.6zM285.4 80.3h0.6v0.6h-0.6zM293.2 88.8h0.6v0.6h-0.6zM281.0 72.1h0.6v0.6h-0.6zM279.7 78.4h0.6v0.6h-0.6zM282.2 93.1h0.6v0.6h-0.6zM285.6 84.8h0.6v0.6h-0.6zM280.0 66.3h0.6v0.6h-0.6z"/>
<path fill="#62648a" fill-opacity="0.6" d="M278.1 59.5h0.6v0.6h-0.6zM282.3 57.3h0.6v0.6h-0.6zM292.9 59.3h0.6v0.6h-0.6zM294.2 53.6h0.6v0.6h-0.6zM307.3 59.7h0.6v0.6h-0.6zM306.5 54.9h0.6v0.6h-0.6zM293.9 57.5h0.6v0.6h-0.6zM290.8 52.6h0.6v0.6h-0.6zM283.1 55.3h0.6v0.6h-0.6zM301.2 55.1h0.6v0.6h-0.6zM282.4 58.6h0.6v0.6h-0.6zM283.2 60.3h0.6v0.6h-0.6zM296.3 58.6h0.6v0.6h-0.6zM278.2 54.6h0.6v0.6h-0.6zM278.9 62.1h0.6v0.6h-0.6zM299.8 54.5h0.6v0.6h-0.6zM305.5 55.0h0.6v0.6h-0.6zM300.7 61.5h0.6v0.6h-0.6zM281.6 56.6h0.6v0.6h-0.6zM298.7 50.9h0.6v0.6h-0.6zM307.4 53.3h0.6v0.6h-0.6zM278.6 59.0h0.6v0.6h-0.6zM302.0 52.3h0.6v0.6h-0.6zM283.5 55.9h0.6v0.6h-0.6zM280.2 58.0h0.6v0.6h-0.6zM284.6 55.9h0.6v0.6h-0.6zM285.5 54.7h0.6v0.6h-0.6zM279.5 54.7h0.6v0.6h-0.6zM304.0 56.1h0.6v0.6h-0.6zM290.0 57.8h0.6v0.6h-0.6zM292.2 56.6h0.6v0.6h-0.6zM292.2 57.5h0.6v0.6h-0.6zM299.1 57.7h0.6v0.6h-0.6zM289.7 58.0h0.6v0.6h-0.6zM306.2 52.5h0.6v0.6h-0.6zM300.9 55.6h0.6v0.6h-0.6zM281.3 59.3h0.6v0.6h-0.6zM276.8 58.3h0.6v0.6h-0.6zM277.0 59.5h0.6v0.6h-0.6zM281.8 58.7h0.6v0.6h-0.6zM289.4 59.1h0.6v0.6h-0.6zM279.7 56.0h0.6v0.6h-0.6zM279.3 57.6h0.6v0.6h-0.6zM277.1 59.0h0.6v0.6h-0.6zM287.5 57.4h0.6v0.6h-0.6zM289.2 56.1h0.6v0.6h-0.6zM287.0 57.2h0.6v0.6h-0.6zM294.4 59.5h0.6v0.6h-0.6zM296.3 58.3h0.6v0.6h-0.6zM280.6 57.5h0.6v0.6h-0.6zM295.8 60.2h0.6v0.6h-0.6zM276.6 58.6h0.6v0.6h-0.6zM281.9 58.6h0.6v0.6h-0.6zM306.9 46.4h0.6v0.6h-0.6zM287.4 57.5h0.6v0.6h-0.6zM290.4 54.4h0.6v0.6h-0.6zM299.7 53.6h0.6v0.6h-0.6zM293.4 53.7h0.6v0.6h-0.6zM297.1 53.0h0.6v0.6h-0.6zM303.0 55.6h0.6v0.6h-0.6zM286.6 56.7h0.6v0.6h-0.6zM289.8 56.1h0.6v0.6h-0.6zM306.9 52.0h0.6v0.6h-0.6zM290.7 54.1h0.6v0.6h-0.6zM298.8 55.2h0.6v0.6h-0.6zM285.3 56.6h0.6v0.6h-0.6zM292.6 57.7h0.6v0.6h-0.6zM291.6 56.9h0.6v0.6h-0.6zM300.4 55.5h0.6v0.6h-0.6zM276.8 58.1h0.6v0.6h-0.6zM286.5 53.2h0.6v0.6h-0.6zM300.2 58.8h0.6v0.6h-0.6zM302.5 56.3h0.6v0.6h-0.6zM286.1 57.6h0.6v0.6h-0.6zM283.1 57.1h0.6v0.6h-0.6zM285.5 56.7h0.6v0.6h-0.6zM295.0 57.3h0.6v0.6h-0.6zM286.0 57.9h0.6v0.6h-0.6zM293.5 57.7h0.6v0.6h-0.6zM286.6 56.0h0.6v0.6h-0.6zM308.7 57.0h0.6v0.6h-0.6zM305.4 52.3h0.6v0.6h-0.6zM286.0 55.0h0.6v0.6h-0.6zM292.5 54.8h0.6v0.6h-0.6zM284.2 61.2h0.6v0.6h-0.6zM279.3 62.0h0.6v0.6h-0.6zM292.7 58.9h0.6v0.6h-0.6zM280.6 59.7h0.6v0.6h-0.6zM298.8 54.7h0.6v0.6h-0.6zM296.8 55.7h0.6v0.6h-0.6zM278.5 58.9h0.6v0.6h-0.6zM282.0 55.0h0.6v0.6h-0.6zM305.4 56.3h0.6v0.6h-0.6zM291.8 56.8h0.6v0.6h-0.6zM297.5 58.3h0.6v0.6h-0.6zM308.4 53.7h0.6v0.6h-0.6zM284.6 59.4h0.6v0.6h-0.6zM293.2 56.5h0.6v0.6h-0.6zM300.3 55.6h0.6v0.6h-0.6zM298.9 56.8h0.6v0.6h-0.6zM281.8 60.1h0.6v0.6h-0.6zM308.0 57.8h0.6v0.6h-0.6zM281.0 60.7h0.6v0.6h-0.6zM314.4 88.3h0.6v0.6h-0.6zM316.5 67.8h0.6v0.6h-0.6zM313.6 84.9h0.6v0.6h-0.6zM311.7 74.6h0.6v0.6h-0.6zM314.0 73.2h0.6v0.6h-0.6zM310.3 77.2h0.6v0.6h-0.6zM315.6 88.3h0.6v0.6h-0.6zM316.5 73.7h0.6v0.6h-0.6zM313.1 77.6h0.6v0.6h-0.6zM315.7 90.4h0.6v0.6h-0.6zM315.8 83.2h0.6v0.6h-0.6zM315.4 73.1h0.6v0.6h-0.6zM313.6 85.7h0.6v0.6h-0.6zM315.3 93.0h0.6v0.6h-0.6zM313.5 92.1h0.6v0.6h-0.6zM315.4 90.7h0.6v0.6h-0.6zM314.4 73.4h0.6v0.6h-0.6zM314.3 70.2h0.6v0.6h-0.6zM314.0 88.2h0.6v0.6h-0.6zM316.8 86.8h0.6v0.6h-0.6zM315.6 75.8h0.6v0.6h-0.6zM317.3 74.1h0.6v0.6h-0.6zM315.3 70.2h0.6v0.6h-0.6zM313.9 78.7h0.6v0.6h-0.6zM315.5 62.1h0.6v0.6h-0.6zM312.3 68.3h0.6v0.6h-0.6zM314.2 65.9h0.6v0.6h-0.6zM315.8 66.7h0.6v0.6h-0.6zM314.0 72.4h0.6v0.6h-0.6zM316.7 78.2h0.6v0.6h-0.6zM313.7 93.7h0.6v0.6h-0.6zM313.1 90.1h0.6v0.6h-0.6zM315.9 73.6h0.6v0.6h-0.6zM313.9 83.5h0.6v0.6h-0.6zM314.6 85.7h0.6v0.6h-0.6zM312.7 86.7h0.6v0.6h-0.6zM314.1 80.5h0.6v0.6h-0.6zM315.2 75.4h0.6v0.6h-0.6zM315.5 81.7h0.6v0.6h-0.6zM313.8 76.3h0.6v0.6h-0.6zM314.0 75.4h0.6v0.6h-0.6zM313.6 82.2h0.6v0.6h-0.6zM314.9 69.1h0.6v0.6h-0.6zM312.8 85.5h0.6v0.6h-0.6zM314.5 92.3h0.6v0.6h-0.6zM314.2 67.2h0.6v0.6h-0.6zM314.3 87.2h0.6v0.6h-0.6z"/>
<path fill="#8a8cae" fill-opacity="0.6" d="M307.8 53.5h0.6v0.6h-0.6zM304.8 52.6h0.6v0.6h-0.6zM285.3 56.8h0.6v0.6h-0.6zM279.7 57.7h0.6v0.6h-0.6zM289.5 54.5h0.6v0.6h-0.6zM304.7 56.6h0.6v0.6h-0.6zM277.4 59.7h0.6v0.6h-0.6zM302.5 55.5h0.6v0.6h-0.6zM303.4 54.8h0.6v0.6h-0.6zM283.4 57.6h0.6v0.6h-0.6zM286.1 56.3h0.6v0.6h-0.6zM282.0 58.3h0.6v0.6h-0.6zM285.3 59.7h0.6v0.6h-0.6zM286.9 55.5h0.6v0.6h-0.6zM299.1 54.3h0.6v0.6h-0.6zM293.1 52.1h0.6v0.6h-0.6zM299.5 55.7h0.6v0.6h-0.6zM276.2 57.4h0.6v0.6h-0.6zM284.5 59.5h0.6v0.6h-0.6zM283.9 58.1h0.6v0.6h-0.6zM292.6 58.2h0.6v0.6h-0.6zM292.8 53.8h0.6v0.6h-0.6zM281.3 53.9h0.6v0.6h-0.6zM288.0 57.2h0.6v0.6h-0.6zM276.7 58.5h0.6v0.6h-0.6zM280.3 55.2h0.6v0.6h-0.6zM306.5 53.2h0.6v0.6h-0.6zM294.1 54.5h0.6v0.6h-0.6zM278.8 58.4h0.6v0.6h-0.6zM284.4 53.6h0.6v0.6h-0.6zM307.7 56.1h0.6v0.6h-0.6zM276.4 56.2h0.6v0.6h-0.6zM294.8 57.3h0.6v0.6h-0.6zM288.0 51.9h0.6v0.6h-0.6zM304.6 52.1h0.6v0.6h-0.6zM307.4 54.2h0.6v0.6h-0.6zM282.0 56.0h0.6v0.6h-0.6zM306.7 57.0h0.6v0.6h-0.6zM301.1 53.7h0.6v0.6h-0.6zM280.3 57.8h0.6v0.6h-0.6zM286.0 59.0h0.6v0.6h-0.6zM279.7 58.4h0.6v0.6h-0.6zM297.4 54.9h0.6v0.6h-0.6zM306.1 49.2h0.6v0.6h-0.6zM279.1 55.2h0.6v0.6h-0.6zM302.0 51.1h0.6v0.6h-0.6zM279.8 58.9h0.6v0.6h-0.6zM287.1 56.3h0.6v0.6h-0.6zM279.7 58.8h0.6v0.6h-0.6zM281.0 58.6h0.6v0.6h-0.6zM293.5 52.2h0.6v0.6h-0.6zM301.1 52.5h0.6v0.6h-0.6zM292.3 56.9h0.6v0.6h-0.6zM294.8 54.1h0.6v0.6h-0.6zM299.9 54.9h0.6v0.6h-0.6zM296.0 53.5h0.6v0.6h-0.6zM293.0 54.7h0.6v0.6h-0.6zM290.2 58.8h0.6v0.6h-0.6zM298.4 53.0h0.6v0.6h-0.6zM283.4 58.0h0.6v0.6h-0.6zM308.6 51.2h0.6v0.6h-0.6zM290.7 58.3h0.6v0.6h-0.6zM304.8 53.1h0.6v0.6h-0.6zM298.3 53.3h0.6v0.6h-0.6zM296.3 57.3h0.6v0.6h-0.6zM285.6 60.1h0.6v0.6h-0.6zM291.0 55.6h0.6v0.6h-0.6zM287.4 56.0h0.6v0.6h-0.6zM282.2 57.2h0.6v0.6h-0.6zM279.8 60.0h0.6v0.6h-0.6zM289.0 61.2h0.6v0.6h-0.6zM299.8 55.2h0.6v0.6h-0.6zM279.0 54.9h0.6v0.6h-0.6zM307.8 58.3h0.6v0.6h-0.6zM291.0 51.7h0.6v0.6h-0.6zM276.2 61.7h0.6v0.6h-0.6zM305.9 58.4h0.6v0.6h-0.6zM277.1 55.7h0.6v0.6h-0.6zM288.0 54.0h0.6v0.6h-0.6zM306.7 56.5h0.6v0.6h-0.6zM303.9 56.8h0.6v0.6h-0.6zM285.2 56.6h0.6v0.6h-0.6zM303.2 57.3h0.6v0.6h-0.6zM300.2 55.1h0.6v0.6h-0.6zM294.1 55.2h0.6v0.6h-0.6zM296.4 56.1h0.6v0.6h-0.6zM299.5 53.5h0.6v0.6h-0.6zM278.7 59.7h0.6v0.6h-0.6zM302.2 52.3h0.6v0.6h-0.6zM286.0 58.2h0.6v0.6h-0.6zM298.8 54.0h0.6v0.6h-0.6zM290.1 53.6h0.6v0.6h-0.6zM288.2 53.7h0.6v0.6h-0.6zM304.0 57.1h0.6v0.6h-0.6zM287.4 59.5h0.6v0.6h-0.6zM289.2 51.7h0.6v0.6h-0.6zM312.6 88.4h0.6v0.6h-0.6zM317.3 80.4h0.6v0.6h-0.6zM313.3 91.1h0.6v0.6h-0.6zM314.1 91.4h0.6v0.6h-0.6zM314.1 93.4h0.6v0.6h-0.6zM315.8 75.9h0.6v0.6h-0.6zM314.9 70.2h0.6v0.6h-0.6zM315.1 75.4h0.6v0.6h-0.6zM312.1 76.0h0.6v0.6h-0.6zM314.1 71.0h0.6v0.6h-0.6zM313.6 63.6h0.6v0.6h-0.6zM310.6 84.1h0.6v0.6h-0.6zM316.3 68.5h0.6v0.6h-0.6zM315.8 71.8h0.6v0.6h-0.6zM314.6 78.7h0.6v0.6h-0.6zM314.8 64.9h0.6v0.6h-0.6zM316.1 89.1h0.6v0.6h-0.6zM315.3 63.1h0.6v0.6h-0.6zM319.1 88.5h0.6v0.6h-0.6zM315.2 87.8h0.6v0.6h-0.6zM312.9 62.3h0.6v0.6h-0.6zM315.8 80.2h0.6v0.6h-0.6zM316.5 67.9h0.6v0.6h-0.6zM315.4 69.7h0.6v0.6h-0.6zM314.5 93.4h0.6v0.6h-0.6zM313.5 68.2h0.6v0.6h-0.6zM313.7 84.0h0.6v0.6h-0.6zM315.2 83.7h0.6v0.6h-0.6zM312.5 71.4h0.6v0.6h-0.6zM316.7 71.2h0.6v0.6h-0.6zM314.0 66.9h0.6v0.6h-0.6zM313.6 64.5h0.6v0.6h-0.6zM316.6 70.7h0.6v0.6h-0.6zM316.3 84.7h0.6v0.6h-0.6zM314.3 92.2h0.6v0.6h-0.6zM314.6 73.2h0.6v0.6h-0.6zM312.1 87.6h0.6v0.6h-0.6zM314.9 77.9h0.6v0.6h-0.6zM314.2 72.7h0.6v0.6h-0.6zM315.5 74.7h0.6v0.6h-0.6zM315.6 77.1h0.6v0.6h-0.6zM315.3 71.1h0.6v0.6h-0.6zM314.9 84.8h0.6v0.6h-0.6zM314.7 68.0h0.6v0.6h-0.6zM313.8 82.7h0.6v0.6h-0.6zM313.1 82.1h0.6v0.6h-0.6zM313.9 62.4h0.6v0.6h-0.6zM312.8 93.7h0.6v0.6h-0.6zM313.6 69.4h0.6v0.6h-0.6zM316.5 87.4h0.6v0.6h-0.6zM315.7 82.3h0.6v0.6h-0.6zM315.1 84.2h0.6v0.6h-0.6z"/>
<path fill="#7c7ea6" fill-opacity="0.6" d="M307.2 55.0h0.6v0.6h-0.6zM282.7 57.9h0.6v0.6h-0.6zM292.9 56.7h0.6v0.6h-0.6zM277.5 60.7h0.6v0.6h-0.6zM282.6 61.4h0.6v0.6h-0.6zM289.4 59.6h0.6v0.6h-0.6zM296.5 58.4h0.6v0.6h-0.6zM293.5 56.6h0.6v0.6h-0.6zM278.9 59.4h0.6v0.6h-0.6zM279.7 56.8h0.6v0.6h-0.6zM304.6 53.2h0.6v0.6h-0.6zM288.0 55.5h0.6v0.6h-0.6zM304.3 55.4h0.6v0.6h-0.6zM282.8 52.8h0.6v0.6h-0.6zM307.6 58.0h0.6v0.6h-0.6zM302.6 59.5h0.6v0.6h-0.6zM282.6 61.5h0.6v0.6h-0.6zM292.7 58.0h0.6v0.6h-0.6zM303.8 52.5h0.6v0.6h-0.6zM293.4 57.1h0.6v0.6h-0.6zM305.1 58.9h0.6v0.6h-0.6zM292.8 55.8h0.6v0.6h-0.6zM302.3 56.9h0.6v0.6h-0.6zM298.4 53.0h0.6v0.6h-0.6zM294.9 58.2h0.6v0.6h-0.6zM298.6 54.0h0.6v0.6h-0.6zM303.9 55.0h0.6v0.6h-0.6zM294.6 56.4h0.6v0.6h-0.6zM303.2 50.0h0.6v0.6h-0.6zM302.5 53.3h0.6v0.6h-0.6zM298.2 52.1h0.6v0.6h-0.6zM283.2 54.8h0.6v0.6h-0.6zM300.6 53.9h0.6v0.6h-0.6zM281.8 57.6h0.6v0.6h-0.6zM286.4 57.4h0.6v0.6h-0.6zM289.6 57.0h0.6v0.6h-0.6zM286.5 59.1h0.6v0.6h-0.6zM280.8 57.1h0.6v0.6h-0.6zM299.9 56.5h0.6v0.6h-0.6zM299.9 51.7h0.6v0.6h-0.6zM283.0 59.8h0.6v0.6h-0.6zM307.8 52.4h0.6v0.6h-0.6zM302.3 56.1h0.6v0.6h-0.6zM303.9 58.5h0.6v0.6h-0.6zM277.0 56.6h0.6v0.6h-0.6zM282.9 54.8h0.6v0.6h-0.6zM282.3 57.6h0.6v0.6h-0.6zM282.4 59.4h0.6v0.6h-0.6zM307.5 51.8h0.6v0.6h-0.6zM303.9 59.5h0.6v0.6h-0.6zM293.1 58.0h0.6v0.6h-0.6zM291.7 55.6h0.6v0.6h-0.6zM276.8 59.2h0.6v0.6h-0.6zM308.3 55.1h0.6v0.6h-0.6zM296.0 56.0h0.6v0.6h-0.6zM305.2 53.9h0.6v0.6h-0.6zM282.6 61.2h0.6v0.6h-0.6zM308.3 52.6h0.6v0.6h-0.6zM284.9 57.7h0.6v0.6h-0.6zM287.0 58.6h0.6v0.6h-0.6zM279.1 63.4h0.6v0.6h-0.6zM276.2 58.8h0.6v0.6h-0.6zM295.4 59.1h0.6v0.6h-0.6zM308.4 55.7h0.6v0.6h-0.6zM290.4 55.5h0.6v0.6h-0.6zM297.2 55.1h0.6v0.6h-0.6zM280.6 58.3h0.6v0.6h-0.6zM295.4 56.1h0.6v0.6h-0.6zM302.8 57.4h0.6v0.6h-0.6zM287.0 52.8h0.6v0.6h-0.6zM296.4 52.3h0.6v0.6h-0.6zM304.2 57.7h0.6v0.6h-0.6zM296.7 61.0h0.6v0.6h-0.6zM281.1 58.8h0.6v0.6h-0.6zM292.8 51.3h0.6v0.6h-0.6zM297.2 58.8h0.6v0.6h-0.6zM287.6 57.3h0.6v0.6h-0.6zM281.3 61.9h0.6v0.6h-0.6zM291.8 56.5h0.6v0.6h-0.6zM297.1 53.9h0.6v0.6h-0.6zM278.2 61.4h0.6v0.6h-0.6zM283.3 60.0h0.6v0.6h-0.6zM297.2 56.1h0.6v0.6h-0.6zM304.1 55.3h0.6v0.6h-0.6zM280.6 59.7h0.6v0.6h-0.6zM297.7 55.0h0.6v0.6h-0.6zM285.4 57.8h0.6v0.6h-0.6zM297.4 55.6h0.6v0.6h-0.6zM298.7 53.6h0.6v0.6h-0.6zM288.3 56.4h0.6v0.6h-0.6zM297.7 53.8h0.6v0.6h-0.6zM279.5 55.8h0.6v0.6h-0.6zM296.1 56.2h0.6v0.6h-0.6zM300.9 55.0h0.6v0.6h-0.6zM286.9 56.8h0.6v0.6h-0.6zM305.7 60.0h0.6v0.6h-0.6zM289.9 61.6h0.6v0.6h-0.6zM304.8 57.9h0.6v0.6h-0.6zM314.1 92.6h0.6v0.6h-0.6zM313.1 76.4h0.6v0.6h-0.6zM315.1 84.3h0.6v0.6h-0.6zM315.2 86.6h0.6v0.6h-0.6zM315.6 70.3h0.6v0.6h-0.6zM314.4 91.4h0.6v0.6h-0.6zM315.6 70.7h0.6v0.6h-0.6zM312.5 75.0h0.6v0.6h-0.6zM312.4 74.8h0.6v0.6h-0.6zM311.5 86.3h0.6v0.6h-0.6zM314.3 77.0h0.6v0.6h-0.6zM312.3 81.4h0.6v0.6h-0.6zM311.5 68.8h0.6v0.6h-0.6zM313.5 93.9h0.6v0.6h-0.6zM314.5 75.4h0.6v0.6h-0.6zM315.2 76.1h0.6v0.6h-0.6zM314.3 75.4h0.6v0.6h-0.6zM314.3 71.9h0.6v0.6h-0.6zM314.0 67.0h0.6v0.6h-0.6zM313.9 81.7h0.6v0.6h-0.6zM312.6 76.3h0.6v0.6h-0.6zM314.8 70.0h0.6v0.6h-0.6zM314.2 90.4h0.6v0.6h-0.6zM314.8 84.6h0.6v0.6h-0.6zM312.8 79.4h0.6v0.6h-0.6zM314.5 84.0h0.6v0.6h-0.6zM313.9 71.9h0.6v0.6h-0.6zM313.0 91.9h0.6v0.6h-0.6zM314.6 64.1h0.6v0.6h-0.6zM311.8 71.6h0.6v0.6h-0.6zM314.7 64.2h0.6v0.6h-0.6zM314.7 78.0h0.6v0.6h-0.6zM314.5 75.7h0.6v0.6h-0.6zM315.9 90.3h0.6v0.6h-0.6zM314.7 90.1h0.6v0.6h-0.6zM312.1 74.8h0.6v0.6h-0.6zM316.5 83.2h0.6v0.6h-0.6zM313.1 87.9h0.6v0.6h-0.6zM313.0 87.5h0.6v0.6h-0.6zM314.6 92.6h0.6v0.6h-0.6zM318.4 66.0h0.6v0.6h-0.6zM313.0 70.4h0.6v0.6h-0.6zM313.1 64.9h0.6v0.6h-0.6zM314.3 85.8h0.6v0.6h-0.6zM311.2 69.3h0.6v0.6h-0.6zM315.1 83.4h0.6v0.6h-0.6zM313.6 76.6h0.6v0.6h-0.6zM315.7 90.9h0.6v0.6h-0.6zM316.2 78.9h0.6v0.6h-0.6zM312.3 86.6h0.6v0.6h-0.6zM316.6 79.4h0.6v0.6h-0.6zM315.7 68.8h0.6v0.6h-0.6z"/>
<path fill="#76768c" fill-opacity="0.6" d="M280.5 55.8h0.6v0.6h-0.6zM295.0 57.6h0.6v0.6h-0.6zM303.4 56.0h0.6v0.6h-0.6zM289.9 56.4h0.6v0.6h-0.6zM301.5 53.3h0.6v0.6h-0.6zM308.6 55.3h0.6v0.6h-0.6zM290.1 53.8h0.6v0.6h-0.6zM285.7 56.4h0.6v0.6h-0.6zM303.2 53.1h0.6v0.6h-0.6zM293.5 59.0h0.6v0.6h-0.6zM306.7 54.1h0.6v0.6h-0.6zM307.3 54.2h0.6v0.6h-0.6zM295.8 56.9h0.6v0.6h-0.6zM300.6 53.2h0.6v0.6h-0.6zM287.4 56.9h0.6v0.6h-0.6zM307.0 53.5h0.6v0.6h-0.6zM293.0 52.7h0.6v0.6h-0.6zM281.1 56.5h0.6v0.6h-0.6zM291.5 56.8h0.6v0.6h-0.6zM277.0 60.2h0.6v0.6h-0.6zM293.4 59.5h0.6v0.6h-0.6zM278.6 57.3h0.6v0.6h-0.6zM291.0 57.8h0.6v0.6h-0.6zM297.9 54.9h0.6v0.6h-0.6zM300.8 51.4h0.6v0.6h-0.6zM308.7 52.8h0.6v0.6h-0.6zM293.8 55.8h0.6v0.6h-0.6zM297.0 56.6h0.6v0.6h-0.6zM276.5 57.9h0.6v0.6h-0.6zM304.8 57.4h0.6v0.6h-0.6zM297.5 55.4h0.6v0.6h-0.6zM281.7 56.2h0.6v0.6h-0.6zM282.9 60.4h0.6v0.6h-0.6zM281.0 60.0h0.6v0.6h-0.6zM291.3 56.7h0.6v0.6h-0.6zM302.5 54.7h0.6v0.6h-0.6zM281.2 57.9h0.6v0.6h-0.6zM277.2 56.4h0.6v0.6h-0.6zM295.5 56.0h0.6v0.6h-0.6zM281.4 58.7h0.6v0.6h-0.6zM289.4 59.5h0.6v0.6h-0.6zM294.8 54.1h0.6v0.6h-0.6zM280.4 61.0h0.6v0.6h-0.6zM284.8 58.1h0.6v0.6h-0.6zM298.0 56.4h0.6v0.6h-0.6zM297.0 56.0h0.6v0.6h-0.6zM306.9 53.8h0.6v0.6h-0.6zM308.7 57.6h0.6v0.6h-0.6zM295.9 58.8h0.6v0.6h-0.6zM299.3 55.1h0.6v0.6h-0.6zM291.5 56.1h0.6v0.6h-0.6zM288.5 55.1h0.6v0.6h-0.6zM289.2 55.8h0.6v0.6h-0.6zM300.1 55.6h0.6v0.6h-0.6zM307.3 51.4h0.6v0.6h-0.6zM281.9 59.5h0.6v0.6h-0.6zM305.7 60.2h0.6v0.6h-0.6zM284.6 57.3h0.6v0.6h-0.6zM287.8 55.8h0.6v0.6h-0.6zM298.9 53.3h0.6v0.6h-0.6zM299.6 57.0h0.6v0.6h-0.6zM284.5 55.7h0.6v0.6h-0.6zM294.0 52.3h0.6v0.6h-0.6zM287.6 55.0h0.6v0.6h-0.6zM298.4 58.2h0.6v0.6h-0.6zM304.0 56.3h0.6v0.6h-0.6zM295.6 52.2h0.6v0.6h-0.6zM307.7 54.8h0.6v0.6h-0.6zM297.8 57.9h0.6v0.6h-0.6zM281.0 54.8h0.6v0.6h-0.6zM300.5 54.4h0.6v0.6h-0.6zM300.9 53.2h0.6v0.6h-0.6zM276.6 58.7h0.6v0.6h-0.6zM292.0 56.5h0.6v0.6h-0.6zM305.2 58.0h0.6v0.6h-0.6zM277.9 60.0h0.6v0.6h-0.6zM300.0 60.1h0.6v0.6h-0.6zM288.2 60.4h0.6v0.6h-0.6zM289.0 59.6h0.6v0.6h-0.6zM297.5 59.5h0.6v0.6h-0.6zM289.6 59.1h0.6v0.6h-0.6zM280.5 56.8h0.6v0.6h-0.6zM297.2 58.6h0.6v0.6h-0.6zM288.9 56.4h0.6v0.6h-0.6zM281.1 55.5h0.6v0.6h-0.6zM288.6 55.5h0.6v0.6h-0.6zM294.8 58.2h0.6v0.6h-0.6zM285.4 52.1h0.6v0.6h-0.6zM286.8 55.5h0.6v0.6h-0.6zM308.6 57.8h0.6v0.6h-0.6zM299.8 58.3h0.6v0.6h-0.6zM277.0 60.0h0.6v0.6h-0.6zM289.7 54.4h0.6v0.6h-0.6zM276.3 60.8h0.6v0.6h-0.6zM292.0 59.8h0.6v0.6h-0.6zM293.4 56.7h0.6v0.6h-0.6zM304.8 53.8h0.6v0.6h-0.6zM293.9 54.2h0.6v0.6h-0.6zM294.4 56.0h0.6v0.6h-0.6zM299.6 51.9h0.6v0.6h-0.6zM295.8 53.1h0.6v0.6h-0.6zM284.4 58.7h0.6v0.6h-0.6zM286.4 57.9h0.6v0.6h-0.6zM297.5 51.0h0.6v0.6h-0.6zM301.2 53.0h0.6v0.6h-0.6zM289.1 55.9h0.6v0.6h-0.6zM295.5 54.0h0.6v0.6h-0.6zM308.9 51.8h0.6v0.6h-0.6zM294.3 54.4h0.6v0.6h-0.6zM280.0 63.9h0.6v0.6h-0.6zM298.2 53.3h0.6v0.6h-0.6zM302.3 53.0h0.6v0.6h-0.6zM301.6 53.5h0.6v0.6h-0.6zM312.9 70.2h0.6v0.6h-0.6zM314.2 88.7h0.6v0.6h-0.6zM315.4 71.1h0.6v0.6h-0.6zM313.1 83.0h0.6v0.6h-0.6zM313.2 91.2h0.6v0.6h-0.6zM314.3 66.5h0.6v0.6h-0.6zM316.7 88.3h0.6v0.6h-0.6zM312.0 69.9h0.6v0.6h-0.6zM312.9 79.4h0.6v0.6h-0.6zM313.7 68.6h0.6v0.6h-0.6zM313.9 87.5h0.6v0.6h-0.6zM313.9 68.3h0.6v0.6h-0.6zM313.9 77.6h0.6v0.6h-0.6zM312.4 91.3h0.6v0.6h-0.6zM316.1 63.2h0.6v0.6h-0.6zM313.7 82.2h0.6v0.6h-0.6zM312.7 83.9h0.6v0.6h-0.6zM314.7 90.7h0.6v0.6h-0.6zM313.5 92.0h0.6v0.6h-0.6zM312.8 84.7h0.6v0.6h-0.6zM314.9 71.5h0.6v0.6h-0.6zM313.5 83.0h0.6v0.6h-0.6zM311.1 77.0h0.6v0.6h-0.6zM314.6 93.9h0.6v0.6h-0.6zM313.8 63.3h0.6v0.6h-0.6zM312.3 73.9h0.6v0.6h-0.6zM314.2 76.4h0.6v0.6h-0.6zM316.2 80.3h0.6v0.6h-0.6zM313.4 86.0h0.6v0.6h-0.6zM314.5 73.6h0.6v0.6h-0.6zM311.3 78.3h0.6v0.6h-0.6zM315.5 64.5h0.6v0.6h-0.6zM313.5 81.1h0.6v0.6h-0.6zM313.8 72.5h0.6v0.6h-0.6zM314.5 85.3h0.6v0.6h-0.6zM312.8 63.1h0.6v0.6h-0.6zM315.3 80.3h0.6v0.6h-0.6zM313.8 63.6h0.6v0.6h-0.6zM310.0 70.2h0.6v0.6h-0.6zM316.5 74.3h0.6v0.6h-0.6zM312.7 65.8h0.6v0.6h-0.6zM315.7 82.8h0.6v0.6h-0.6zM313.0 93.8h0.6v0.6h-0.6zM313.9 77.8h0.6v0.6h-0.6zM314.2 75.2h0.6v0.6h-0.6z"/>
<path fill="#707290" fill-opacity="0.6" d="M280.8 56.2h0.6v0.6h-0.6zM297.5 54.5h0.6v0.6h-0.6zM301.4 58.6h0.6v0.6h-0.6zM296.9 56.6h0.6v0.6h-0.6zM286.6 60.8h0.6v0.6h-0.6zM307.9 54.8h0.6v0.6h-0.6zM308.7 53.0h0.6v0.6h-0.6zM278.7 58.0h0.6v0.6h-0.6zM295.8 55.7h0.6v0.6h-0.6zM277.0 60.9h0.6v0.6h-0.6zM298.8 56.5h0.6v0.6h-0.6zM301.7 52.4h0.6v0.6h-0.6zM292.3 57.4h0.6v0.6h-0.6zM306.7 56.6h0.6v0.6h-0.6zM293.1 57.6h0.6v0.6h-0.6zM300.5 57.2h0.6v0.6h-0.6zM301.2 50.6h0.6v0.6h-0.6zM278.3 58.9h0.6v0.6h-0.6zM281.0 53.8h0.6v0.6h-0.6zM308.5 50.8h0.6v0.6h-0.6zM276.2 60.0h0.6v0.6h-0.6zM302.9 54.6h0.6v0.6h-0.6zM280.9 58.6h0.6v0.6h-0.6zM294.3 56.4h0.6v0.6h-0.6zM296.5 53.3h0.6v0.6h-0.6zM285.8 55.3h0.6v0.6h-0.6zM284.7 57.5h0.6v0.6h-0.6zM300.9 54.4h0.6v0.6h-0.6zM300.0 51.4h0.6v0.6h-0.6zM302.6 53.9h0.6v0.6h-0.6zM308.7 54.1h0.6v0.6h-0.6zM301.9 55.9h0.6v0.6h-0.6zM308.3 56.5h0.6v0.6h-0.6zM280.0 57.7h0.6v0.6h-0.6zM297.5 54.6h0.6v0.6h-0.6zM291.6 60.7h0.6v0.6h-0.6zM277.5 63.3h0.6v0.6h-0.6zM291.1 57.0h0.6v0.6h-0.6zM298.4 55.8h0.6v0.6h-0.6zM293.2 52.2h0.6v0.6h-0.6zM305.7 54.9h0.6v0.6h-0.6zM282.2 60.1h0.6v0.6h-0.6zM285.4 62.0h0.6v0.6h-0.6zM279.3 59.8h0.6v0.6h-0.6zM294.0 56.9h0.6v0.6h-0.6zM280.1 55.1h0.6v0.6h-0.6zM298.9 58.3h0.6v0.6h-0.6zM296.1 54.9h0.6v0.6h-0.6zM280.4 57.9h0.6v0.6h-0.6zM309.0 53.7h0.6v0.6h-0.6zM285.8 59.5h0.6v0.6h-0.6zM276.4 56.4h0.6v0.6h-0.6zM295.5 55.5h0.6v0.6h-0.6zM282.0 55.0h0.6v0.6h-0.6zM278.6 60.7h0.6v0.6h-0.6zM276.8 61.2h0.6v0.6h-0.6zM293.4 55.8h0.6v0.6h-0.6zM302.3 56.7h0.6v0.6h-0.6zM289.0 57.5h0.6v0.6h-0.6zM295.0 55.8h0.6v0.6h-0.6zM286.2 58.3h0.6v0.6h-0.6zM290.8 53.8h0.6v0.6h-0.6zM280.9 54.6h0.6v0.6h-0.6zM280.1 56.2h0.6v0.6h-0.6zM284.0 55.7h0.6v0.6h-0.6zM283.0 54.8h0.6v0.6h-0.6zM283.2 54.2h0.6v0.6h-0.6zM302.2 52.6h0.6v0.6h-0.6zM289.8 57.0h0.6v0.6h-0.6zM294.9 56.4h0.6v0.6h-0.6zM307.2 59.5h0.6v0.6h-0.6zM306.4 59.6h0.6v0.6h-0.6zM287.1 57.9h0.6v0.6h-0.6zM298.6 56.1h0.6v0.6h-0.6zM283.5 57.4h0.6v0.6h-0.6zM286.5 56.1h0.6v0.6h-0.6zM308.3 52.4h0.6v0.6h-0.6zM296.6 57.2h0.6v0.6h-0.6zM276.9 57.1h0.6v0.6h-0.6zM281.0 58.6h0.6v0.6h-0.6zM282.0 56.7h0.6v0.6h-0.6zM281.1 59.5h0.6v0.6h-0.6zM302.1 55.2h0.6v0.6h-0.6zM298.2 54.6h0.6v0.6h-0.6zM307.0 52.8h0.6v0.6h-0.6zM283.9 56.8h0.6v0.6h-0.6zM308.9 54.5h0.6v0.6h-0.6zM305.8 55.8h0.6v0.6h-0.6zM292.5 56.1h0.6v0.6h-0.6zM286.2 57.3h0.6v0.6h-0.6zM278.1 57.7h0.6v0.6h-0.6zM295.1 56.0h0.6v0.6h-0.6zM277.8 60.1h0.6v0.6h-0.6zM292.1 53.0h0.6v0.6h-0.6zM306.2 59.3h0.6v0.6h-0.6zM279.9 56.5h0.6v0.6h-0.6zM289.6 55.8h0.6v0.6h-0.6zM279.4 56.7h0.6v0.6h-0.6zM279.0 59.6h0.6v0.6h-0.6zM288.6 58.2h0.6v0.6h-0.6zM279.0 55.2h0.6v0.6h-0.6zM302.6 50.6h0.6v0.6h-0.6zM300.3 57.0h0.6v0.6h-0.6zM306.5 53.4h0.6v0.6h-0.6zM304.0 53.8h0.6v0.6h-0.6zM289.9 58.6h0.6v0.6h-0.6zM279.9 57.2h0.6v0.6h-0.6zM294.3 58.1h0.6v0.6h-0.6zM301.1 55.8h0.6v0.6h-0.6zM286.1 58.2h0.6v0.6h-0.6zM304.5 56.1h0.6v0.6h-0.6zM277.5 60.2h0.6v0.6h-0.6zM298.0 54.8h0.6v0.6h-0.6zM305.2 55.0h0.6v0.6h-0.6zM306.4 51.9h0.6v0.6h-0.6zM281.2 60.1h0.6v0.6h-0.6zM292.7 53.3h0.6v0.6h-0.6zM308.5 57.4h0.6v0.6h-0.6zM294.6 54.8h0.6v0.6h-0.6zM294.1 54.3h0.6v0.6h-0.6zM298.4 56.6h0.6v0.6h-0.6zM292.9 56.3h0.6v0.6h-0.6zM301.1 56.1h0.6v0.6h-0.6zM280.3 56.1h0.6v0.6h-0.6zM298.5 57.5h0.6v0.6h-0.6zM285.6 51.4h0.6v0.6h-0.6zM298.6 57.5h0.6v0.6h-0.6zM317.0 69.8h0.6v0.6h-0.6zM310.1 89.1h0.6v0.6h-0.6zM315.3 70.0h0.6v0.6h-0.6zM313.7 75.0h0.6v0.6h-0.6zM315.7 76.2h0.6v0.6h-0.6zM315.6 76.9h0.6v0.6h-0.6zM310.8 78.3h0.6v0.6h-0.6zM315.0 77.8h0.6v0.6h-0.6zM312.1 90.9h0.6v0.6h-0.6zM312.0 76.1h0.6v0.6h-0.6zM313.2 87.4h0.6v0.6h-0.6zM314.3 83.6h0.6v0.6h-0.6zM315.1 71.3h0.6v0.6h-0.6zM315.9 84.7h0.6v0.6h-0.6zM314.5 74.9h0.6v0.6h-0.6zM315.0 70.3h0.6v0.6h-0.6zM313.8 66.6h0.6v0.6h-0.6zM314.6 85.5h0.6v0.6h-0.6zM310.5 65.8h0.6v0.6h-0.6zM313.2 71.8h0.6v0.6h-0.6zM316.7 73.3h0.6v0.6h-0.6zM312.8 72.9h0.6v0.6h-0.6zM314.3 64.9h0.6v0.6h-0.6zM318.0 91.8h0.6v0.6h-0.6zM314.1 93.6h0.6v0.6h-0.6zM313.2 66.8h0.6v0.6h-0.6zM312.0 72.6h0.6v0.6h-0.6zM314.1 84.6h0.6v0.6h-0.6zM315.1 72.2h0.6v0.6h-0.6zM314.2 72.0h0.6v0.6h-0.6zM313.5 87.9h0.6v0.6h-0.6zM313.0 70.5h0.6v0.6h-0.6zM315.0 77.4h0.6v0.6h-0.6zM313.0 70.1h0.6v0.6h-0.6zM315.7 90.2h0.6v0.6h-0.6zM316.1 82.8h0.6v0.6h-0.6zM314.3 75.0h0.6v0.6h-0.6zM314.4 84.2h0.6v0.6h-0.6zM314.0 70.2h0.6v0.6h-0.6zM313.7 90.4h0.6v0.6h-0.6zM312.4 71.9h0.6v0.6h-0.6zM313.6 92.5h0.6v0.6h-0.6zM314.9 71.1h0.6v0.6h-0.6zM314.4 69.5h0.6v0.6h-0.6zM313.9 77.5h0.6v0.6h-0.6zM311.4 93.7h0.6v0.6h-0.6zM313.0 67.1h0.6v0.6h-0.6zM315.8 72.1h0.6v0.6h-0.6zM315.3 66.3h0.6v0.6h-0.6zM316.4 84.2h0.6v0.6h-0.6zM314.2 78.6h0.6v0.6h-0.6z"/>
<path fill="#6a6a80" fill-opacity="0.6" d="M278.6 55.4h0.6v0.6h-0.6zM277.8 55.0h0.6v0.6h-0.6zM276.6 59.8h0.6v0.6h-0.6zM281.7 56.6h0.6v0.6h-0.6zM288.3 55.9h0.6v0.6h-0.6zM288.3 54.8h0.6v0.6h-0.6zM290.4 52.3h0.6v0.6h-0.6zM298.0 57.6h0.6v0.6h-0.6zM294.4 56.8h0.6v0.6h-0.6zM293.2 55.5h0.6v0.6h-0.6zM282.1 55.0h0.6v0.6h-0.6zM293.5 54.7h0.6v0.6h-0.6zM286.3 57.8h0.6v0.6h-0.6zM292.3 58.1h0.6v0.6h-0.6zM292.8 55.3h0.6v0.6h-0.6zM308.0 54.1h0.6v0.6h-0.6zM294.9 57.3h0.6v0.6h-0.6zM299.0 55.7h0.6v0.6h-0.6zM287.4 58.1h0.6v0.6h-0.6zM278.6 59.2h0.6v0.6h-0.6zM278.6 57.1h0.6v0.6h-0.6zM280.4 57.6h0.6v0.6h-0.6zM297.7 59.6h0.6v0.6h-0.6zM280.0 53.1h0.6v0.6h-0.6zM307.5 55.6h0.6v0.6h-0.6zM289.2 59.1h0.6v0.6h-0.6zM291.1 54.0h0.6v0.6h-0.6zM305.9 53.4h0.6v0.6h-0.6zM298.0 52.2h0.6v0.6h-0.6zM307.9 57.0h0.6v0.6h-0.6zM296.9 56.9h0.6v0.6h-0.6zM300.7 55.0h0.6v0.6h-0.6zM288.4 56.8h0.6v0.6h-0.6zM299.7 54.3h0.6v0.6h-0.6zM290.9 57.7h0.6v0.6h-0.6zM285.3 55.4h0.6v0.6h-0.6zM288.6 59.2h0.6v0.6h-0.6zM307.7 56.1h0.6v0.6h-0.6zM294.6 60.2h0.6v0.6h-0.6zM279.5 58.2h0.6v0.6h-0.6zM292.2 58.2h0.6v0.6h-0.6zM279.4 60.1h0.6v0.6h-0.6zM283.2 58.9h0.6v0.6h-0.6zM277.7 57.8h0.6v0.6h-0.6zM280.6 58.1h0.6v0.6h-0.6zM284.7 59.7h0.6v0.6h-0.6zM279.4 58.3h0.6v0.6h-0.6zM303.7 51.7h0.6v0.6h-0.6zM302.1 53.5h0.6v0.6h-0.6zM300.9 53.3h0.6v0.6h-0.6zM296.0 57.0h0.6v0.6h-0.6zM278.3 56.9h0.6v0.6h-0.6zM295.3 48.7h0.6v0.6h-0.6zM288.0 57.2h0.6v0.6h-0.6zM299.4 55.3h0.6v0.6h-0.6zM282.6 57.3h0.6v0.6h-0.6zM290.1 54.9h0.6v0.6h-0.6zM283.3 59.1h0.6v0.6h-0.6zM300.9 54.3h0.6v0.6h-0.6zM288.4 56.0h0.6v0.6h-0.6zM288.6 54.6h0.6v0.6h-0.6zM295.3 59.1h0.6v0.6h-0.6zM293.3 56.6h0.6v0.6h-0.6zM304.1 51.3h0.6v0.6h-0.6zM301.0 52.1h0.6v0.6h-0.6zM300.4 53.1h0.6v0.6h-0.6zM289.3 55.3h0.6v0.6h-0.6zM306.0 56.0h0.6v0.6h-0.6zM304.7 55.8h0.6v0.6h-0.6zM282.2 56.2h0.6v0.6h-0.6zM292.4 55.7h0.6v0.6h-0.6zM278.9 60.7h0.6v0.6h-0.6zM277.8 57.6h0.6v0.6h-0.6zM286.4 56.1h0.6v0.6h-0.6zM296.6 56.5h0.6v0.6h-0.6zM295.6 55.4h0.6v0.6h-0.6zM280.6 61.2h0.6v0.6h-0.6zM291.6 59.1h0.6v0.6h-0.6zM283.0 57.1h0.6v0.6h-0.6zM301.2 53.1h0.6v0.6h-0.6zM284.1 60.2h0.6v0.6h-0.6zM278.8 57.9h0.6v0.6h-0.6zM302.5 56.7h0.6v0.6h-0.6zM314.4 73.2h0.6v0.6h-0.6zM313.4 86.8h0.6v0.6h-0.6zM314.1 89.1h0.6v0.6h-0.6zM310.7 63.0h0.6v0.6h-0.6zM315.5 62.1h0.6v0.6h-0.6zM315.2 66.3h0.6v0.6h-0.6zM312.6 78.7h0.6v0.6h-0.6zM315.9 72.3h0.6v0.6h-0.6zM312.5 79.4h0.6v0.6h-0.6zM314.1 73.6h0.6v0.6h-0.6zM314.1 75.4h0.6v0.6h-0.6zM311.8 86.2h0.6v0.6h-0.6zM310.7 81.6h0.6v0.6h-0.6zM312.8 78.6h0.6v0.6h-0.6zM317.4 73.8h0.6v0.6h-0.6zM311.2 88.3h0.6v0.6h-0.6zM315.2 85.3h0.6v0.6h-0.6zM313.4 74.2h0.6v0.6h-0.6zM310.9 71.5h0.6v0.6h-0.6zM311.2 93.6h0.6v0.6h-0.6zM315.0 92.6h0.6v0.6h-0.6zM312.0 70.9h0.6v0.6h-0.6zM312.8 74.9h0.6v0.6h-0.6zM314.9 70.0h0.6v0.6h-0.6zM315.4 66.2h0.6v0.6h-0.6zM313.0 72.6h0.6v0.6h-0.6zM315.7 79.7h0.6v0.6h-0.6zM314.8 89.4h0.6v0.6h-0.6zM315.0 74.4h0.6v0.6h-0.6zM311.6 62.1h0.6v0.6h-0.6zM314.0 79.2h0.6v0.6h-0.6zM314.3 86.2h0.6v0.6h-0.6zM313.3 79.0h0.6v0.6h-0.6zM312.6 67.3h0.6v0.6h-0.6zM312.7 67.1h0.6v0.6h-0.6zM318.8 65.2h0.6v0.6h-0.6zM316.5 66.4h0.6v0.6h-0.6zM313.2 73.0h0.6v0.6h-0.6zM315.6 92.2h0.6v0.6h-0.6zM314.7 82.5h0.6v0.6h-0.6zM318.1 71.6h0.6v0.6h-0.6zM313.4 88.2h0.6v0.6h-0.6zM313.7 64.2h0.6v0.6h-0.6z"/>
<path fill="#5a5a6a" fill-opacity="0.75" d="M313.0 52.6h0.6v0.6h-0.6zM316.4 54.2h0.6v0.6h-0.6zM315.4 54.2h0.6v0.6h-0.6zM316.5 51.6h0.6v0.6h-0.6zM309.3 57.3h0.6v0.6h-0.6zM315.7 52.2h0.6v0.6h-0.6zM314.3 54.1h0.6v0.6h-0.6zM309.5 54.8h0.6v0.6h-0.6zM315.8 55.5h0.6v0.6h-0.6zM309.1 53.1h0.6v0.6h-0.6zM311.1 57.9h0.6v0.6h-0.6zM309.9 56.4h0.6v0.6h-0.6zM311.1 59.8h0.6v0.6h-0.6zM311.3 52.2h0.6v0.6h-0.6zM318.8 56.8h0.6v0.6h-0.6zM315.8 55.4h0.6v0.6h-0.6zM309.0 56.7h0.6v0.6h-0.6zM314.1 54.9h0.6v0.6h-0.6zM313.0 55.7h0.6v0.6h-0.6zM314.8 58.5h0.6v0.6h-0.6zM317.8 56.5h0.6v0.6h-0.6zM314.8 54.6h0.6v0.6h-0.6zM309.1 57.0h0.6v0.6h-0.6zM307.8 61.2h0.6v0.6h-0.6zM316.0 48.6h0.6v0.6h-0.6zM311.2 52.8h0.6v0.6h-0.6zM309.6 56.8h0.6v0.6h-0.6zM313.0 52.8h0.6v0.6h-0.6zM315.4 60.1h0.6v0.6h-0.6zM308.6 57.9h0.6v0.6h-0.6zM311.6 49.8h0.6v0.6h-0.6zM306.5 57.8h0.6v0.6h-0.6zM313.7 56.1h0.6v0.6h-0.6zM317.7 57.3h0.6v0.6h-0.6zM310.6 51.9h0.6v0.6h-0.6zM310.1 53.9h0.6v0.6h-0.6zM314.0 53.6h0.6v0.6h-0.6zM313.4 57.3h0.6v0.6h-0.6zM315.3 59.7h0.6v0.6h-0.6zM311.4 55.8h0.6v0.6h-0.6zM312.1 51.6h0.6v0.6h-0.6zM311.6 49.8h0.6v0.6h-0.6zM312.0 53.3h0.6v0.6h-0.6zM312.2 52.3h0.6v0.6h-0.6zM310.4 51.8h0.6v0.6h-0.6zM311.8 59.5h0.6v0.6h-0.6zM311.4 61.5h0.6v0.6h-0.6zM311.4 50.6h0.6v0.6h-0.6zM311.9 54.0h0.6v0.6h-0.6zM314.9 56.8h0.6v0.6h-0.6zM311.6 48.5h0.6v0.6h-0.6z"/>
<path fill="#505a78" fill-opacity="0.75" d="M317.9 58.7h0.6v0.6h-0.6zM308.4 56.7h0.6v0.6h-0.6zM309.1 56.8h0.6v0.6h-0.6zM315.4 56.0h0.6v0.6h-0.6zM313.1 58.0h0.6v0.6h-0.6zM318.8 57.6h0.6v0.6h-0.6zM313.7 52.5h0.6v0.6h-0.6zM316.8 51.3h0.6v0.6h-0.6zM314.9 58.9h0.6v0.6h-0.6zM315.0 53.4h0.6v0.6h-0.6zM311.5 52.7h0.6v0.6h-0.6zM316.4 59.4h0.6v0.6h-0.6zM310.4 57.6h0.6v0.6h-0.6zM311.0 61.6h0.6v0.6h-0.6zM313.0 54.4h0.6v0.6h-0.6zM313.8 55.8h0.6v0.6h-0.6zM307.5 51.3h0.6v0.6h-0.6zM315.0 51.2h0.6v0.6h-0.6zM312.6 53.6h0.6v0.6h-0.6zM315.2 50.3h0.6v0.6h-0.6zM311.4 50.6h0.6v0.6h-0.6zM313.4 55.7h0.6v0.6h-0.6zM312.5 56.0h0.6v0.6h-0.6zM316.2 54.9h0.6v0.6h-0.6zM314.2 54.8h0.6v0.6h-0.6zM309.4 54.5h0.6v0.6h-0.6zM314.2 55.6h0.6v0.6h-0.6zM313.2 51.7h0.6v0.6h-0.6zM320.9 51.5h0.6v0.6h-0.6zM312.1 58.6h0.6v0.6h-0.6zM312.7 53.1h0.6v0.6h-0.6zM313.1 52.8h0.6v0.6h-0.6zM311.4 58.0h0.6v0.6h-0.6zM310.0 56.5h0.6v0.6h-0.6zM312.4 58.5h0.6v0.6h-0.6zM320.0 53.1h0.6v0.6h-0.6zM311.4 58.8h0.6v0.6h-0.6zM313.6 51.0h0.6v0.6h-0.6zM312.7 54.0h0.6v0.6h-0.6zM310.5 52.5h0.6v0.6h-0.6zM310.1 62.0h0.6v0.6h-0.6zM312.8 59.0h0.6v0.6h-0.6z"/>
<path fill="#4a5070" fill-opacity="0.75" d="M310.2 53.3h0.6v0.6h-0.6zM307.1 49.8h0.6v0.6h-0.6zM314.7 60.2h0.6v0.6h-0.6zM310.5 50.7h0.6v0.6h-0.6zM311.7 55.2h0.6v0.6h-0.6zM313.7 57.2h0.6v0.6h-0.6zM311.2 48.6h0.6v0.6h-0.6zM312.6 59.8h0.6v0.6h-0.6zM311.5 58.6h0.6v0.6h-0.6zM317.8 58.8h0.6v0.6h-0.6zM312.7 49.2h0.6v0.6h-0.6zM313.1 55.0h0.6v0.6h-0.6zM311.7 54.7h0.6v0.6h-0.6zM316.7 51.6h0.6v0.6h-0.6zM314.1 52.1h0.6v0.6h-0.6zM312.2 53.7h0.6v0.6h-0.6zM310.1 54.5h0.6v0.6h-0.6zM310.7 56.7h0.6v0.6h-0.6zM311.0 54.9h0.6v0.6h-0.6zM315.3 51.1h0.6v0.6h-0.6zM312.5 55.5h0.6v0.6h-0.6zM307.8 51.0h0.6v0.6h-0.6zM314.4 55.0h0.6v0.6h-0.6zM314.5 52.1h0.6v0.6h-0.6zM307.8 55.6h0.6v0.6h-0.6zM315.3 51.6h0.6v0.6h-0.6zM310.7 57.8h0.6v0.6h-0.6zM314.2 57.8h0.6v0.6h-0.6zM315.2 57.6h0.6v0.6h-0.6zM311.4 50.6h0.6v0.6h-0.6zM313.7 56.2h0.6v0.6h-0.6zM314.3 56.8h0.6v0.6h-0.6zM306.3 56.9h0.6v0.6h-0.6zM311.7 53.5h0.6v0.6h-0.6zM315.1 54.1h0.6v0.6h-0.6zM312.4 52.6h0.6v0.6h-0.6zM313.2 55.6h0.6v0.6h-0.6zM311.8 52.9h0.6v0.6h-0.6zM313.3 61.8h0.6v0.6h-0.6zM314.0 52.1h0.6v0.6h-0.6zM312.9 53.4h0.6v0.6h-0.6zM307.8 57.7h0.6v0.6h-0.6zM312.2 51.1h0.6v0.6h-0.6zM313.7 57.4h0.6v0.6h-0.6zM312.6 55.5h0.6v0.6h-0.6zM312.4 51.8h0.6v0.6h-0.6zM318.6 53.8h0.6v0.6h-0.6zM312.8 51.4h0.6v0.6h-0.6zM314.9 54.3h0.6v0.6h-0.6zM312.1 53.2h0.6v0.6h-0.6zM316.5 54.3h0.6v0.6h-0.6zM313.9 59.8h0.6v0.6h-0.6zM317.4 55.8h0.6v0.6h-0.6zM310.5 53.0h0.6v0.6h-0.6zM311.1 56.9h0.6v0.6h-0.6zM313.6 57.0h0.6v0.6h-0.6zM312.9 55.7h0.6v0.6h-0.6zM315.0 59.9h0.6v0.6h-0.6zM311.5 55.8h0.6v0.6h-0.6zM311.5 56.9h0.6v0.6h-0.6zM312.9 54.3h0.6v0.6h-0.6zM312.4 53.8h0.6v0.6h-0.6zM312.5 57.2h0.6v0.6h-0.6zM315.9 52.3h0.6v0.6h-0.6zM317.4 59.0h0.6v0.6h-0.6zM314.6 51.7h0.6v0.6h-0.6zM312.4 55.4h0.6v0.6h-0.6zM315.1 52.9h0.6v0.6h-0.6zM315.2 58.2h0.6v0.6h-0.6zM312.1 55.1h0.6v0.6h-0.6zM313.1 54.8h0.6v0.6h-0.6z"/>
<path fill="#5e6270" fill-opacity="0.75" d="M317.6 57.7h0.6v0.6h-0.6zM315.1 58.2h0.6v0.6h-0.6zM311.0 55.4h0.6v0.6h-0.6zM312.2 57.7h0.6v0.6h-0.6zM313.0 52.7h0.6v0.6h-0.6zM311.5 56.4h0.6v0.6h-0.6zM315.4 48.0h0.6v0.6h-0.6zM310.8 56.7h0.6v0.6h-0.6zM311.6 52.5h0.6v0.6h-0.6zM307.2 57.1h0.6v0.6h-0.6zM318.5 57.0h0.6v0.6h-0.6zM315.9 55.3h0.6v0.6h-0.6zM312.6 57.0h0.6v0.6h-0.6zM312.6 53.6h0.6v0.6h-0.6zM308.0 54.3h0.6v0.6h-0.6zM310.7 58.2h0.6v0.6h-0.6zM314.5 51.5h0.6v0.6h-0.6zM310.0 53.1h0.6v0.6h-0.6zM311.3 58.1h0.6v0.6h-0.6zM312.7 52.5h0.6v0.6h-0.6zM312.7 51.8h0.6v0.6h-0.6zM312.0 59.9h0.6v0.6h-0.6zM312.5 55.5h0.6v0.6h-0.6zM312.7 48.9h0.6v0.6h-0.6zM315.2 52.1h0.6v0.6h-0.6zM308.1 56.0h0.6v0.6h-0.6zM312.5 52.2h0.6v0.6h-0.6zM313.0 58.2h0.6v0.6h-0.6zM317.8 52.7h0.6v0.6h-0.6zM316.0 54.7h0.6v0.6h-0.6zM305.7 53.9h0.6v0.6h-0.6zM312.8 52.4h0.6v0.6h-0.6zM310.9 53.6h0.6v0.6h-0.6zM312.1 50.5h0.6v0.6h-0.6zM315.0 55.3h0.6v0.6h-0.6zM310.7 60.2h0.6v0.6h-0.6zM309.5 52.3h0.6v0.6h-0.6zM317.6 58.7h0.6v0.6h-0.6zM309.1 55.2h0.6v0.6h-0.6zM311.1 55.1h0.6v0.6h-0.6zM312.6 58.4h0.6v0.6h-0.6zM310.2 57.7h0.6v0.6h-0.6zM315.6 48.9h0.6v0.6h-0.6zM311.4 55.8h0.6v0.6h-0.6zM313.7 54.5h0.6v0.6h-0.6zM311.2 55.7h0.6v0.6h-0.6zM314.9 58.7h0.6v0.6h-0.6zM311.4 61.3h0.6v0.6h-0.6zM315.2 53.6h0.6v0.6h-0.6zM315.7 54.7h0.6v0.6h-0.6zM310.5 52.9h0.6v0.6h-0.6zM309.6 54.9h0.6v0.6h-0.6zM315.2 57.7h0.6v0.6h-0.6zM307.4 50.9h0.6v0.6h-0.6zM313.7 54.1h0.6v0.6h-0.6zM312.0 60.1h0.6v0.6h-0.6z"/>
<path fill="#5a8aa0" fill-opacity="0.85" d="M312.6 54.8h0.6v0.6h-0.6zM310.4 57.2h0.6v0.6h-0.6zM315.1 53.5h0.6v0.6h-0.6zM307.4 52.7h0.6v0.6h-0.6zM309.9 53.3h0.6v0.6h-0.6zM310.1 56.5h0.6v0.6h-0.6zM310.8 53.4h0.6v0.6h-0.6zM312.9 54.5h0.6v0.6h-0.6zM311.1 53.1h0.6v0.6h-0.6zM312.3 56.0h0.6v0.6h-0.6zM311.3 56.6h0.6v0.6h-0.6zM312.7 55.2h0.6v0.6h-0.6zM310.7 57.7h0.6v0.6h-0.6zM309.2 53.3h0.6v0.6h-0.6zM310.2 53.9h0.6v0.6h-0.6zM310.8 57.0h0.6v0.6h-0.6zM310.5 55.5h0.6v0.6h-0.6zM310.8 56.0h0.6v0.6h-0.6zM312.7 58.2h0.6v0.6h-0.6zM310.1 52.6h0.6v0.6h-0.6zM312.6 53.7h0.6v0.6h-0.6zM312.4 52.4h0.6v0.6h-0.6zM311.6 56.3h0.6v0.6h-0.6zM313.7 58.1h0.6v0.6h-0.6zM308.4 55.1h0.6v0.6h-0.6zM310.7 57.1h0.6v0.6h-0.6zM310.4 56.5h0.6v0.6h-0.6zM313.1 51.1h0.6v0.6h-0.6zM309.7 56.9h0.6v0.6h-0.6zM310.4 51.5h0.6v0.6h-0.6zM309.9 52.6h0.6v0.6h-0.6zM308.0 51.4h0.6v0.6h-0.6zM308.9 53.7h0.6v0.6h-0.6zM308.5 52.8h0.6v0.6h-0.6zM309.6 52.9h0.6v0.6h-0.6zM312.4 56.9h0.6v0.6h-0.6zM309.1 57.1h0.6v0.6h-0.6zM312.1 56.7h0.6v0.6h-0.6z"/>
<path fill="#4a8a90" fill-opacity="0.85" d="M312.3 53.8h0.6v0.6h-0.6zM308.2 54.3h0.6v0.6h-0.6zM312.9 57.1h0.6v0.6h-0.6zM308.1 55.6h0.6v0.6h-0.6zM312.2 50.1h0.6v0.6h-0.6zM309.1 57.1h0.6v0.6h-0.6zM309.5 51.9h0.6v0.6h-0.6zM312.6 56.1h0.6v0.6h-0.6zM308.4 54.5h0.6v0.6h-0.6zM308.8 57.6h0.6v0.6h-0.6zM311.6 56.2h0.6v0.6h-0.6zM312.4 55.7h0.6v0.6h-0.6zM311.8 56.1h0.6v0.6h-0.6zM310.4 51.5h0.6v0.6h-0.6zM308.3 53.3h0.6v0.6h-0.6zM312.1 55.0h0.6v0.6h-0.6zM309.3 55.7h0.6v0.6h-0.6zM307.9 55.6h0.6v0.6h-0.6zM309.4 57.4h0.6v0.6h-0.6zM309.8 51.2h0.6v0.6h-0.6zM311.9 56.0h0.6v0.6h-0.6zM311.2 56.5h0.6v0.6h-0.6zM309.9 56.9h0.6v0.6h-0.6zM316.3 53.6h0.6v0.6h-0.6zM308.5 54.9h0.6v0.6h-0.6zM307.6 54.9h0.6v0.6h-0.6zM311.0 53.4h0.6v0.6h-0.6zM308.5 56.8h0.6v0.6h-0.6zM310.7 55.6h0.6v0.6h-0.6zM311.1 54.9h0.6v0.6h-0.6zM310.8 51.8h0.6v0.6h-0.6zM313.3 54.2h0.6v0.6h-0.6zM313.4 53.7h0.6v0.6h-0.6zM310.1 58.7h0.6v0.6h-0.6zM309.5 54.0h0.6v0.6h-0.6zM313.3 57.6h0.6v0.6h-0.6zM306.8 48.1h0.6v0.6h-0.6zM312.7 52.2h0.6v0.6h-0.6zM309.1 53.7h0.6v0.6h-0.6zM312.4 54.8h0.6v0.6h-0.6zM310.1 54.2h0.6v0.6h-0.6zM310.6 56.0h0.6v0.6h-0.6zM309.4 57.8h0.6v0.6h-0.6zM309.1 53.7h0.6v0.6h-0.6zM308.4 50.0h0.6v0.6h-0.6zM308.7 55.2h0.6v0.6h-0.6zM309.9 54.6h0.6v0.6h-0.6zM311.0 58.6h0.6v0.6h-0.6z"/>
<path fill="#3a8a9a" fill-opacity="0.85" d="M310.3 59.9h0.6v0.6h-0.6zM309.2 54.2h0.6v0.6h-0.6zM307.5 53.9h0.6v0.6h-0.6zM312.2 54.9h0.6v0.6h-0.6zM313.7 54.2h0.6v0.6h-0.6zM310.7 56.0h0.6v0.6h-0.6zM311.8 56.0h0.6v0.6h-0.6zM309.9 54.7h0.6v0.6h-0.6zM312.2 54.7h0.6v0.6h-0.6zM310.0 55.5h0.6v0.6h-0.6zM310.0 50.8h0.6v0.6h-0.6zM311.5 52.1h0.6v0.6h-0.6zM306.6 56.3h0.6v0.6h-0.6zM311.3 55.1h0.6v0.6h-0.6zM311.9 53.7h0.6v0.6h-0.6zM311.1 56.5h0.6v0.6h-0.6zM311.5 55.1h0.6v0.6h-0.6zM311.3 58.9h0.6v0.6h-0.6zM310.9 59.7h0.6v0.6h-0.6zM311.3 59.4h0.6v0.6h-0.6zM312.8 53.8h0.6v0.6h-0.6zM311.2 52.3h0.6v0.6h-0.6zM312.5 57.9h0.6v0.6h-0.6zM309.0 56.0h0.6v0.6h-0.6zM306.5 54.0h0.6v0.6h-0.6zM308.2 59.0h0.6v0.6h-0.6zM310.0 53.1h0.6v0.6h-0.6zM310.7 59.1h0.6v0.6h-0.6z"/>
<path fill="#4a9aa0" fill-opacity="0.85" d="M310.4 56.1h0.6v0.6h-0.6zM311.4 57.2h0.6v0.6h-0.6zM311.3 59.3h0.6v0.6h-0.6zM310.6 54.0h0.6v0.6h-0.6zM308.9 59.8h0.6v0.6h-0.6zM309.5 57.8h0.6v0.6h-0.6zM312.9 57.0h0.6v0.6h-0.6zM311.7 56.7h0.6v0.6h-0.6zM309.5 58.2h0.6v0.6h-0.6zM309.9 54.1h0.6v0.6h-0.6zM314.1 54.9h0.6v0.6h-0.6zM308.7 51.5h0.6v0.6h-0.6zM309.2 54.3h0.6v0.6h-0.6zM308.1 50.8h0.6v0.6h-0.6zM309.9 54.6h0.6v0.6h-0.6zM310.7 54.2h0.6v0.6h-0.6zM309.8 56.8h0.6v0.6h-0.6zM310.7 56.8h0.6v0.6h-0.6zM311.8 55.2h0.6v0.6h-0.6zM309.4 53.5h0.6v0.6h-0.6zM310.5 58.5h0.6v0.6h-0.6zM312.3 54.3h0.6v0.6h-0.6zM306.4 54.6h0.6v0.6h-0.6zM311.7 53.6h0.6v0.6h-0.6zM313.4 53.3h0.6v0.6h-0.6zM310.1 50.2h0.6v0.6h-0.6zM310.9 52.6h0.6v0.6h-0.6zM311.9 51.9h0.6v0.6h-0.6zM309.7 58.6h0.6v0.6h-0.6zM308.4 57.2h0.6v0.6h-0.6zM309.2 57.8h0.6v0.6h-0.6zM308.8 55.6h0.6v0.6h-0.6zM309.7 52.7h0.6v0.6h-0.6zM311.2 58.1h0.6v0.6h-0.6zM308.1 55.5h0.6v0.6h-0.6zM309.3 57.0h0.6v0.6h-0.6z"/>
<path fill="#90b040" fill-opacity="0.95" d="M313.3 57.6h0.6v0.6h-0.6zM315.0 53.8h0.6v0.6h-0.6zM314.8 56.1h0.6v0.6h-0.6zM311.7 48.4h0.6v0.6h-0.6zM310.8 51.7h0.6v0.6h-0.6zM314.2 56.1h0.6v0.6h-0.6zM312.3 50.6h0.6v0.6h-0.6zM312.9 55.8h0.6v0.6h-0.6zM311.1 54.2h0.6v0.6h-0.6zM314.0 54.5h0.6v0.6h-0.6zM314.4 55.5h0.6v0.6h-0.6zM312.4 58.3h0.6v0.6h-0.6zM313.9 54.0h0.6v0.6h-0.6zM314.6 56.1h0.6v0.6h-0.6zM314.4 57.3h0.6v0.6h-0.6zM313.6 58.3h0.6v0.6h-0.6zM314.4 55.6h0.6v0.6h-0.6zM313.2 57.5h0.6v0.6h-0.6zM313.4 54.6h0.6v0.6h-0.6zM315.1 58.1h0.6v0.6h-0.6zM314.1 56.3h0.6v0.6h-0.6zM315.8 56.6h0.6v0.6h-0.6zM314.8 56.0h0.6v0.6h-0.6zM313.1 53.9h0.6v0.6h-0.6zM314.7 57.4h0.6v0.6h-0.6zM315.1 56.5h0.6v0.6h-0.6zM312.2 53.9h0.6v0.6h-0.6zM314.0 54.0h0.6v0.6h-0.6z"/>
<path fill="#c8c030" fill-opacity="0.95" d="M315.1 54.8h0.6v0.6h-0.6zM316.2 54.3h0.6v0.6h-0.6zM315.3 48.8h0.6v0.6h-0.6zM314.6 54.8h0.6v0.6h-0.6zM314.5 55.5h0.6v0.6h-0.6zM313.1 53.0h0.6v0.6h-0.6zM312.1 55.4h0.6v0.6h-0.6zM312.9 57.5h0.6v0.6h-0.6zM313.5 53.7h0.6v0.6h-0.6zM313.2 54.0h0.6v0.6h-0.6zM312.2 51.9h0.6v0.6h-0.6zM312.9 51.5h0.6v0.6h-0.6zM312.8 54.9h0.6v0.6h-0.6zM312.7 57.5h0.6v0.6h-0.6zM313.8 56.0h0.6v0.6h-0.6zM312.9 56.9h0.6v0.6h-0.6zM315.3 54.6h0.6v0.6h-0.6zM313.2 56.9h0.6v0.6h-0.6zM312.7 58.2h0.6v0.6h-0.6zM314.0 55.1h0.6v0.6h-0.6zM314.2 58.0h0.6v0.6h-0.6z"/>
<path fill="#80b040" fill-opacity="0.95" d="M313.0 56.4h0.6v0.6h-0.6zM312.8 55.9h0.6v0.6h-0.6zM314.0 55.5h0.6v0.6h-0.6zM313.3 56.5h0.6v0.6h-0.6zM312.5 58.6h0.6v0.6h-0.6zM310.8 53.0h0.6v0.6h-0.6zM312.3 56.9h0.6v0.6h-0.6zM312.8 57.3h0.6v0.6h-0.6zM314.0 50.0h0.6v0.6h-0.6zM313.7 58.1h0.6v0.6h-0.6zM314.0 56.2h0.6v0.6h-0.6zM314.1 55.0h0.6v0.6h-0.6zM313.5 56.0h0.6v0.6h-0.6zM314.4 58.1h0.6v0.6h-0.6zM314.7 54.1h0.6v0.6h-0.6zM314.0 57.2h0.6v0.6h-0.6zM313.3 52.9h0.6v0.6h-0.6zM312.8 56.9h0.6v0.6h-0.6zM314.2 55.3h0.6v0.6h-0.6zM313.6 55.5h0.6v0.6h-0.6zM314.4 51.3h0.6v0.6h-0.6zM311.7 50.1h0.6v0.6h-0.6zM313.6 54.6h0.6v0.6h-0.6zM313.3 54.0h0.6v0.6h-0.6zM312.9 49.6h0.6v0.6h-0.6zM313.6 51.2h0.6v0.6h-0.6z"/>
<path fill="#a0b838" fill-opacity="0.95" d="M315.0 56.9h0.6v0.6h-0.6zM314.4 55.8h0.6v0.6h-0.6zM310.5 56.6h0.6v0.6h-0.6zM312.6 55.1h0.6v0.6h-0.6zM312.8 56.2h0.6v0.6h-0.6zM314.3 51.2h0.6v0.6h-0.6zM315.3 54.7h0.6v0.6h-0.6zM312.8 57.3h0.6v0.6h-0.6zM313.8 52.9h0.6v0.6h-0.6zM313.8 55.1h0.6v0.6h-0.6zM313.4 56.0h0.6v0.6h-0.6zM315.8 51.3h0.6v0.6h-0.6zM316.3 54.8h0.6v0.6h-0.6zM314.0 54.3h0.6v0.6h-0.6zM314.1 50.8h0.6v0.6h-0.6zM313.6 53.8h0.6v0.6h-0.6zM313.8 53.7h0.6v0.6h-0.6zM313.8 54.2h0.6v0.6h-0.6zM313.0 58.8h0.6v0.6h-0.6zM313.7 57.1h0.6v0.6h-0.6zM313.0 55.9h0.6v0.6h-0.6zM313.9 55.1h0.6v0.6h-0.6zM312.2 53.0h0.6v0.6h-0.6zM314.1 54.3h0.6v0.6h-0.6zM316.2 53.9h0.6v0.6h-0.6zM311.1 53.5h0.6v0.6h-0.6zM314.3 52.0h0.6v0.6h-0.6zM312.4 54.8h0.6v0.6h-0.6zM315.4 53.8h0.6v0.6h-0.6zM312.2 55.3h0.6v0.6h-0.6zM312.8 57.3h0.6v0.6h-0.6zM313.5 55.8h0.6v0.6h-0.6zM312.0 53.5h0.6v0.6h-0.6zM313.4 50.3h0.6v0.6h-0.6zM314.0 47.9h0.6v0.6h-0.6z"/>
<path fill="#e0a020" fill-opacity="1" d="M317.8 55.8h0.6v0.6h-0.6zM316.4 50.8h0.6v0.6h-0.6zM315.6 52.4h0.6v0.6h-0.6zM317.2 54.5h0.6v0.6h-0.6zM315.5 49.5h0.6v0.6h-0.6zM313.7 50.4h0.6v0.6h-0.6zM314.7 56.2h0.6v0.6h-0.6zM315.1 52.6h0.6v0.6h-0.6zM316.3 54.7h0.6v0.6h-0.6zM315.0 53.9h0.6v0.6h-0.6zM315.8 58.1h0.6v0.6h-0.6zM315.7 52.2h0.6v0.6h-0.6zM315.7 52.6h0.6v0.6h-0.6zM316.0 58.3h0.6v0.6h-0.6zM316.8 52.6h0.6v0.6h-0.6zM315.1 54.4h0.6v0.6h-0.6zM315.3 53.5h0.6v0.6h-0.6zM315.4 54.6h0.6v0.6h-0.6zM315.9 55.1h0.6v0.6h-0.6zM314.7 52.5h0.6v0.6h-0.6zM316.0 57.2h0.6v0.6h-0.6zM314.9 54.6h0.6v0.6h-0.6zM315.8 54.4h0.6v0.6h-0.6zM315.7 55.2h0.6v0.6h-0.6zM315.7 60.0h0.6v0.6h-0.6zM315.3 55.2h0.6v0.6h-0.6zM314.6 55.0h0.6v0.6h-0.6zM314.4 56.4h0.6v0.6h-0.6z"/>
<path fill="#f0b030" fill-opacity="1" d="M316.7 55.9h0.6v0.6h-0.6zM315.1 55.0h0.6v0.6h-0.6zM316.5 54.6h0.6v0.6h-0.6zM317.4 53.9h0.6v0.6h-0.6zM315.5 52.6h0.6v0.6h-0.6zM316.1 58.0h0.6v0.6h-0.6zM315.3 55.8h0.6v0.6h-0.6zM315.2 49.3h0.6v0.6h-0.6zM315.7 52.6h0.6v0.6h-0.6zM315.0 53.3h0.6v0.6h-0.6zM316.8 55.7h0.6v0.6h-0.6zM315.0 51.8h0.6v0.6h-0.6zM314.0 56.6h0.6v0.6h-0.6zM315.1 53.7h0.6v0.6h-0.6zM316.1 56.6h0.6v0.6h-0.6zM315.2 53.6h0.6v0.6h-0.6zM316.2 53.9h0.6v0.6h-0.6zM314.9 57.1h0.6v0.6h-0.6zM316.1 54.4h0.6v0.6h-0.6zM315.8 53.4h0.6v0.6h-0.6zM315.0 53.1h0.6v0.6h-0.6zM316.3 55.7h0.6v0.6h-0.6zM316.6 54.1h0.6v0.6h-0.6zM315.4 59.3h0.6v0.6h-0.6zM315.8 57.1h0.6v0.6h-0.6zM316.4 54.8h0.6v0.6h-0.6zM315.6 55.4h0.6v0.6h-0.6zM315.6 53.5h0.6v0.6h-0.6zM316.2 46.2h0.6v0.6h-0.6zM316.7 53.8h0.6v0.6h-0.6z"/>
<path fill="#e89a20" fill-opacity="1" d="M314.8 55.2h0.6v0.6h-0.6zM313.8 55.8h0.6v0.6h-0.6zM316.5 51.2h0.6v0.6h-0.6zM316.1 56.2h0.6v0.6h-0.6zM316.3 53.2h0.6v0.6h-0.6zM315.1 49.8h0.6v0.6h-0.6zM316.5 50.7h0.6v0.6h-0.6zM315.7 52.0h0.6v0.6h-0.6zM317.5 52.0h0.6v0.6h-0.6zM315.5 53.7h0.6v0.6h-0.6zM314.3 50.2h0.6v0.6h-0.6zM315.2 55.3h0.6v0.6h-0.6zM316.2 54.2h0.6v0.6h-0.6zM316.1 54.6h0.6v0.6h-0.6zM315.3 58.4h0.6v0.6h-0.6zM316.7 57.7h0.6v0.6h-0.6zM315.3 56.0h0.6v0.6h-0.6zM317.0 53.9h0.6v0.6h-0.6zM314.8 55.4h0.6v0.6h-0.6zM315.5 53.7h0.6v0.6h-0.6zM314.8 53.5h0.6v0.6h-0.6zM315.8 53.8h0.6v0.6h-0.6zM318.2 56.7h0.6v0.6h-0.6zM315.1 49.1h0.6v0.6h-0.6zM315.7 50.6h0.6v0.6h-0.6zM315.5 50.3h0.6v0.6h-0.6zM315.8 56.7h0.6v0.6h-0.6zM316.8 54.3h0.6v0.6h-0.6zM314.8 49.9h0.6v0.6h-0.6zM316.3 54.0h0.6v0.6h-0.6zM315.0 57.1h0.6v0.6h-0.6zM315.0 51.9h0.6v0.6h-0.6zM316.2 49.7h0.6v0.6h-0.6zM315.0 55.8h0.6v0.6h-0.6zM315.9 55.2h0.6v0.6h-0.6zM316.7 60.3h0.6v0.6h-0.6zM314.0 53.2h0.6v0.6h-0.6zM316.5 52.5h0.6v0.6h-0.6zM316.3 51.4h0.6v0.6h-0.6zM316.0 52.8h0.6v0.6h-0.6zM316.9 52.8h0.6v0.6h-0.6zM315.4 53.1h0.6v0.6h-0.6z"/>
</g>
<rect x="213.9" y="41" width="55.9" height="54.1" fill="none" stroke="#d4d4d4" stroke-width="0.5"/>
<rect x="271.7" y="41" width="54.7" height="54.1" fill="none" stroke="#d4d4d4" stroke-width="0.5"/>
<g filter="url(#db)">
<path fill="#b8b8c8" fill-opacity="0.5" d="M389.1 76.5h0.6v0.6h-0.6zM351.6 79.5h0.6v0.6h-0.6zM354.2 54.2h0.6v0.6h-0.6zM388.9 47.2h0.6v0.6h-0.6zM389.2 56.7h0.6v0.6h-0.6zM371.6 80.6h0.6v0.6h-0.6zM351.3 43.8h0.6v0.6h-0.6zM377.7 76.7h0.6v0.6h-0.6zM376.4 59.9h0.6v0.6h-0.6zM350.8 44.4h0.6v0.6h-0.6zM387.7 46.1h0.6v0.6h-0.6zM387.4 59.0h0.6v0.6h-0.6zM379.3 91.4h0.6v0.6h-0.6zM346.6 93.0h0.6v0.6h-0.6zM388.4 80.2h0.6v0.6h-0.6zM370.7 88.9h0.6v0.6h-0.6zM375.1 45.7h0.6v0.6h-0.6zM360.8 88.0h0.6v0.6h-0.6zM372.0 82.8h0.6v0.6h-0.6zM370.0 64.9h0.6v0.6h-0.6zM352.1 82.5h0.6v0.6h-0.6zM381.1 52.6h0.6v0.6h-0.6zM371.0 62.6h0.6v0.6h-0.6zM383.2 64.3h0.6v0.6h-0.6zM390.1 62.9h0.6v0.6h-0.6zM389.6 43.8h0.6v0.6h-0.6zM374.2 48.9h0.6v0.6h-0.6zM380.7 58.5h0.6v0.6h-0.6zM362.0 63.4h0.6v0.6h-0.6zM360.5 79.5h0.6v0.6h-0.6zM390.7 53.4h0.6v0.6h-0.6zM347.6 88.9h0.6v0.6h-0.6zM357.8 45.3h0.6v0.6h-0.6zM374.8 45.4h0.6v0.6h-0.6zM367.4 49.5h0.6v0.6h-0.6zM369.9 64.3h0.6v0.6h-0.6zM372.4 44.5h0.6v0.6h-0.6zM354.1 64.3h0.6v0.6h-0.6zM375.1 73.2h0.6v0.6h-0.6zM381.6 79.6h0.6v0.6h-0.6zM369.6 51.1h0.6v0.6h-0.6zM373.7 89.0h0.6v0.6h-0.6zM389.4 51.0h0.6v0.6h-0.6zM359.5 52.7h0.6v0.6h-0.6zM354.7 44.7h0.6v0.6h-0.6zM367.8 64.1h0.6v0.6h-0.6zM354.2 53.2h0.6v0.6h-0.6zM351.4 61.2h0.6v0.6h-0.6zM385.2 51.3h0.6v0.6h-0.6zM366.8 70.3h0.6v0.6h-0.6zM376.5 75.6h0.6v0.6h-0.6zM377.4 80.7h0.6v0.6h-0.6zM374.4 72.6h0.6v0.6h-0.6zM347.2 76.4h0.6v0.6h-0.6zM359.8 90.8h0.6v0.6h-0.6zM357.8 76.5h0.6v0.6h-0.6zM361.8 74.1h0.6v0.6h-0.6zM381.2 77.0h0.6v0.6h-0.6zM351.2 77.9h0.6v0.6h-0.6zM349.0 94.1h0.6v0.6h-0.6zM367.1 74.7h0.6v0.6h-0.6zM347.1 77.8h0.6v0.6h-0.6zM347.3 81.7h0.6v0.6h-0.6zM346.3 79.5h0.6v0.6h-0.6z"/>
<path fill="#b0b2d0" fill-opacity="0.5" d="M365.1 55.9h0.6v0.6h-0.6zM381.0 75.4h0.6v0.6h-0.6zM378.5 85.9h0.6v0.6h-0.6zM350.8 78.5h0.6v0.6h-0.6zM390.9 52.7h0.6v0.6h-0.6zM350.4 51.8h0.6v0.6h-0.6zM385.6 60.8h0.6v0.6h-0.6zM367.3 83.0h0.6v0.6h-0.6zM371.1 87.5h0.6v0.6h-0.6zM352.5 58.2h0.6v0.6h-0.6zM356.4 83.2h0.6v0.6h-0.6zM380.7 50.2h0.6v0.6h-0.6zM360.0 46.1h0.6v0.6h-0.6zM390.0 77.3h0.6v0.6h-0.6zM360.4 50.8h0.6v0.6h-0.6zM345.7 85.1h0.6v0.6h-0.6zM349.4 75.1h0.6v0.6h-0.6zM388.1 94.3h0.6v0.6h-0.6zM376.5 68.3h0.6v0.6h-0.6zM380.4 70.7h0.6v0.6h-0.6zM347.6 50.1h0.6v0.6h-0.6zM383.8 80.9h0.6v0.6h-0.6zM379.6 66.4h0.6v0.6h-0.6zM379.7 50.1h0.6v0.6h-0.6zM362.7 91.7h0.6v0.6h-0.6zM352.2 67.5h0.6v0.6h-0.6zM346.9 64.0h0.6v0.6h-0.6zM357.1 75.9h0.6v0.6h-0.6zM373.0 54.7h0.6v0.6h-0.6zM380.9 45.2h0.6v0.6h-0.6zM362.4 65.0h0.6v0.6h-0.6zM346.6 81.7h0.6v0.6h-0.6zM353.9 73.9h0.6v0.6h-0.6zM347.5 92.5h0.6v0.6h-0.6zM351.9 76.3h0.6v0.6h-0.6zM389.1 83.1h0.6v0.6h-0.6zM366.8 48.6h0.6v0.6h-0.6zM350.1 44.3h0.6v0.6h-0.6zM388.9 90.3h0.6v0.6h-0.6zM391.2 91.6h0.6v0.6h-0.6zM354.1 61.7h0.6v0.6h-0.6zM382.2 43.3h0.6v0.6h-0.6zM361.4 74.7h0.6v0.6h-0.6zM385.8 53.2h0.6v0.6h-0.6zM392.7 47.1h0.6v0.6h-0.6zM369.2 43.0h0.6v0.6h-0.6zM358.9 92.1h0.6v0.6h-0.6zM373.7 61.7h0.6v0.6h-0.6zM374.4 68.9h0.6v0.6h-0.6zM356.7 91.4h0.6v0.6h-0.6zM345.1 75.6h0.6v0.6h-0.6zM349.5 83.4h0.6v0.6h-0.6zM357.5 72.6h0.6v0.6h-0.6zM378.4 92.7h0.6v0.6h-0.6zM373.5 80.0h0.6v0.6h-0.6zM363.0 85.1h0.6v0.6h-0.6zM351.5 92.8h0.6v0.6h-0.6zM377.5 85.2h0.6v0.6h-0.6zM370.6 86.4h0.6v0.6h-0.6zM346.2 88.2h0.6v0.6h-0.6zM373.5 80.6h0.6v0.6h-0.6z"/>
<path fill="#a9a9bb" fill-opacity="0.5" d="M371.8 75.5h0.6v0.6h-0.6zM370.2 41.7h0.6v0.6h-0.6zM376.4 59.9h0.6v0.6h-0.6zM383.2 90.1h0.6v0.6h-0.6zM359.3 69.9h0.6v0.6h-0.6zM365.5 85.7h0.6v0.6h-0.6zM374.6 69.1h0.6v0.6h-0.6zM375.6 76.8h0.6v0.6h-0.6zM351.2 88.8h0.6v0.6h-0.6zM361.3 53.5h0.6v0.6h-0.6zM353.9 55.5h0.6v0.6h-0.6zM360.6 76.9h0.6v0.6h-0.6zM367.0 68.7h0.6v0.6h-0.6zM391.9 62.5h0.6v0.6h-0.6zM371.7 58.6h0.6v0.6h-0.6zM367.5 70.6h0.6v0.6h-0.6zM364.9 60.8h0.6v0.6h-0.6zM354.9 65.9h0.6v0.6h-0.6zM369.2 91.3h0.6v0.6h-0.6zM352.3 79.6h0.6v0.6h-0.6zM371.0 88.6h0.6v0.6h-0.6zM383.8 54.5h0.6v0.6h-0.6zM381.7 82.4h0.6v0.6h-0.6zM384.4 88.0h0.6v0.6h-0.6zM365.5 53.2h0.6v0.6h-0.6zM386.6 76.0h0.6v0.6h-0.6zM367.4 85.7h0.6v0.6h-0.6zM390.3 93.2h0.6v0.6h-0.6zM371.8 77.0h0.6v0.6h-0.6zM380.8 60.3h0.6v0.6h-0.6zM371.2 52.3h0.6v0.6h-0.6zM392.4 83.3h0.6v0.6h-0.6zM356.9 74.8h0.6v0.6h-0.6zM379.1 73.2h0.6v0.6h-0.6zM371.3 82.8h0.6v0.6h-0.6zM368.9 45.3h0.6v0.6h-0.6zM350.6 77.1h0.6v0.6h-0.6zM346.0 72.4h0.6v0.6h-0.6zM363.2 44.4h0.6v0.6h-0.6zM350.0 62.9h0.6v0.6h-0.6zM346.2 78.9h0.6v0.6h-0.6zM380.7 44.3h0.6v0.6h-0.6zM389.4 51.9h0.6v0.6h-0.6zM387.9 74.3h0.6v0.6h-0.6zM377.8 66.1h0.6v0.6h-0.6zM348.0 49.8h0.6v0.6h-0.6zM360.9 61.6h0.6v0.6h-0.6zM386.6 48.0h0.6v0.6h-0.6zM356.3 66.1h0.6v0.6h-0.6zM368.3 66.1h0.6v0.6h-0.6zM368.5 83.6h0.6v0.6h-0.6zM362.5 51.2h0.6v0.6h-0.6zM351.1 74.4h0.6v0.6h-0.6zM371.8 79.2h0.6v0.6h-0.6zM380.8 90.0h0.6v0.6h-0.6zM345.5 88.0h0.6v0.6h-0.6zM383.2 85.8h0.6v0.6h-0.6zM370.2 86.5h0.6v0.6h-0.6zM352.6 90.1h0.6v0.6h-0.6zM362.2 87.2h0.6v0.6h-0.6zM381.5 89.7h0.6v0.6h-0.6zM347.3 77.4h0.6v0.6h-0.6zM367.1 93.9h0.6v0.6h-0.6zM356.7 78.9h0.6v0.6h-0.6z"/>
<path fill="#a2a4c6" fill-opacity="0.5" d="M357.8 69.5h0.6v0.6h-0.6zM345.7 87.2h0.6v0.6h-0.6zM389.0 71.6h0.6v0.6h-0.6zM367.9 65.1h0.6v0.6h-0.6zM345.6 64.7h0.6v0.6h-0.6zM372.2 91.4h0.6v0.6h-0.6zM354.4 68.5h0.6v0.6h-0.6zM377.8 42.3h0.6v0.6h-0.6zM360.2 85.4h0.6v0.6h-0.6zM378.8 69.5h0.6v0.6h-0.6zM359.9 87.8h0.6v0.6h-0.6zM349.4 61.9h0.6v0.6h-0.6zM392.5 48.7h0.6v0.6h-0.6zM377.3 58.7h0.6v0.6h-0.6zM369.5 67.7h0.6v0.6h-0.6zM383.3 71.8h0.6v0.6h-0.6zM379.9 85.5h0.6v0.6h-0.6zM378.1 58.2h0.6v0.6h-0.6zM368.9 68.0h0.6v0.6h-0.6zM392.7 44.5h0.6v0.6h-0.6zM353.4 84.4h0.6v0.6h-0.6zM345.7 88.0h0.6v0.6h-0.6zM390.0 42.0h0.6v0.6h-0.6zM365.2 75.0h0.6v0.6h-0.6zM365.3 66.0h0.6v0.6h-0.6zM392.5 88.7h0.6v0.6h-0.6zM379.3 46.3h0.6v0.6h-0.6zM384.0 83.0h0.6v0.6h-0.6zM383.8 74.3h0.6v0.6h-0.6zM376.9 76.4h0.6v0.6h-0.6zM365.3 84.7h0.6v0.6h-0.6zM386.8 67.4h0.6v0.6h-0.6zM361.7 67.3h0.6v0.6h-0.6zM359.5 92.4h0.6v0.6h-0.6zM390.6 85.1h0.6v0.6h-0.6zM368.2 70.7h0.6v0.6h-0.6zM383.2 83.4h0.6v0.6h-0.6zM386.9 80.8h0.6v0.6h-0.6zM382.3 69.1h0.6v0.6h-0.6zM388.8 54.3h0.6v0.6h-0.6zM347.5 69.4h0.6v0.6h-0.6zM379.9 46.8h0.6v0.6h-0.6zM380.1 90.0h0.6v0.6h-0.6zM357.8 65.4h0.6v0.6h-0.6zM373.0 61.8h0.6v0.6h-0.6zM378.9 77.9h0.6v0.6h-0.6zM352.2 46.8h0.6v0.6h-0.6zM375.6 58.1h0.6v0.6h-0.6zM373.1 63.5h0.6v0.6h-0.6zM383.5 69.5h0.6v0.6h-0.6zM385.1 77.1h0.6v0.6h-0.6zM365.6 91.5h0.6v0.6h-0.6zM388.1 91.6h0.6v0.6h-0.6zM357.9 79.9h0.6v0.6h-0.6zM352.9 82.4h0.6v0.6h-0.6zM377.5 85.8h0.6v0.6h-0.6zM345.7 76.4h0.6v0.6h-0.6zM368.4 73.5h0.6v0.6h-0.6zM380.1 78.9h0.6v0.6h-0.6zM355.0 88.5h0.6v0.6h-0.6zM363.8 81.1h0.6v0.6h-0.6zM361.1 85.3h0.6v0.6h-0.6zM373.1 80.4h0.6v0.6h-0.6zM374.3 89.0h0.6v0.6h-0.6zM383.2 81.1h0.6v0.6h-0.6zM376.1 93.7h0.6v0.6h-0.6zM378.0 82.9h0.6v0.6h-0.6zM360.6 93.7h0.6v0.6h-0.6zM354.4 83.7h0.6v0.6h-0.6zM346.2 92.5h0.6v0.6h-0.6zM373.8 85.7h0.6v0.6h-0.6zM382.5 74.1h0.6v0.6h-0.6zM372.0 76.7h0.6v0.6h-0.6z"/>
<path fill="#9698be" fill-opacity="0.5" d="M386.0 53.8h0.6v0.6h-0.6zM359.3 73.3h0.6v0.6h-0.6zM387.6 80.9h0.6v0.6h-0.6zM389.7 92.7h0.6v0.6h-0.6zM366.2 61.5h0.6v0.6h-0.6zM350.9 60.9h0.6v0.6h-0.6zM345.4 67.7h0.6v0.6h-0.6zM370.4 56.8h0.6v0.6h-0.6zM365.8 50.1h0.6v0.6h-0.6zM390.2 71.4h0.6v0.6h-0.6zM348.5 45.7h0.6v0.6h-0.6zM367.2 52.0h0.6v0.6h-0.6zM356.6 77.6h0.6v0.6h-0.6zM370.7 57.2h0.6v0.6h-0.6zM391.2 54.8h0.6v0.6h-0.6zM388.9 83.1h0.6v0.6h-0.6zM361.1 47.5h0.6v0.6h-0.6zM347.8 91.2h0.6v0.6h-0.6zM381.6 67.8h0.6v0.6h-0.6zM375.2 72.2h0.6v0.6h-0.6zM348.0 79.2h0.6v0.6h-0.6zM387.8 51.7h0.6v0.6h-0.6zM368.9 85.0h0.6v0.6h-0.6zM361.4 67.5h0.6v0.6h-0.6zM349.3 60.3h0.6v0.6h-0.6zM368.2 50.6h0.6v0.6h-0.6zM353.1 92.7h0.6v0.6h-0.6zM362.7 88.6h0.6v0.6h-0.6zM389.9 46.9h0.6v0.6h-0.6zM353.6 49.1h0.6v0.6h-0.6zM357.3 79.6h0.6v0.6h-0.6zM364.1 61.4h0.6v0.6h-0.6zM379.1 42.9h0.6v0.6h-0.6zM373.3 54.3h0.6v0.6h-0.6zM381.7 58.4h0.6v0.6h-0.6zM381.2 49.7h0.6v0.6h-0.6zM384.1 46.6h0.6v0.6h-0.6zM359.3 86.8h0.6v0.6h-0.6zM351.7 71.4h0.6v0.6h-0.6zM381.9 72.9h0.6v0.6h-0.6zM372.5 68.3h0.6v0.6h-0.6zM359.6 44.8h0.6v0.6h-0.6zM367.3 63.5h0.6v0.6h-0.6zM359.3 60.1h0.6v0.6h-0.6zM370.2 62.6h0.6v0.6h-0.6zM354.3 46.0h0.6v0.6h-0.6zM377.7 76.5h0.6v0.6h-0.6zM382.6 42.3h0.6v0.6h-0.6zM352.7 75.8h0.6v0.6h-0.6zM374.4 90.4h0.6v0.6h-0.6zM369.8 75.4h0.6v0.6h-0.6zM361.4 88.0h0.6v0.6h-0.6zM356.2 72.6h0.6v0.6h-0.6zM357.6 79.4h0.6v0.6h-0.6zM380.0 82.9h0.6v0.6h-0.6zM349.5 75.1h0.6v0.6h-0.6zM368.2 88.3h0.6v0.6h-0.6zM363.2 92.1h0.6v0.6h-0.6zM376.2 82.7h0.6v0.6h-0.6zM374.0 75.7h0.6v0.6h-0.6z"/>
<path fill="#8a8aa8" fill-opacity="0.55" d="M383.3 78.0h0.6v0.6h-0.6zM346.7 67.8h0.6v0.6h-0.6zM384.9 48.0h0.6v0.6h-0.6zM376.3 43.8h0.6v0.6h-0.6zM373.9 50.7h0.6v0.6h-0.6zM361.1 48.4h0.6v0.6h-0.6zM367.2 43.0h0.6v0.6h-0.6zM367.5 62.3h0.6v0.6h-0.6zM360.2 72.5h0.6v0.6h-0.6zM363.2 50.5h0.6v0.6h-0.6zM349.1 72.6h0.6v0.6h-0.6zM372.4 47.5h0.6v0.6h-0.6zM357.4 45.0h0.6v0.6h-0.6zM364.1 43.0h0.6v0.6h-0.6zM385.8 55.7h0.6v0.6h-0.6zM358.9 72.3h0.6v0.6h-0.6zM370.1 56.0h0.6v0.6h-0.6zM354.6 63.5h0.6v0.6h-0.6zM348.7 61.7h0.6v0.6h-0.6zM349.0 57.0h0.6v0.6h-0.6zM356.0 76.8h0.6v0.6h-0.6zM373.1 53.7h0.6v0.6h-0.6zM346.6 47.5h0.6v0.6h-0.6zM365.6 59.8h0.6v0.6h-0.6zM348.1 53.4h0.6v0.6h-0.6zM364.5 77.6h0.6v0.6h-0.6zM369.3 79.2h0.6v0.6h-0.6zM371.1 63.1h0.6v0.6h-0.6zM381.7 71.3h0.6v0.6h-0.6zM361.5 70.5h0.6v0.6h-0.6zM353.4 64.5h0.6v0.6h-0.6zM361.7 53.8h0.6v0.6h-0.6zM353.9 53.5h0.6v0.6h-0.6zM355.8 74.0h0.6v0.6h-0.6zM356.7 58.5h0.6v0.6h-0.6zM358.9 48.3h0.6v0.6h-0.6zM390.3 54.5h0.6v0.6h-0.6zM363.9 77.2h0.6v0.6h-0.6zM358.4 74.0h0.6v0.6h-0.6zM359.1 53.7h0.6v0.6h-0.6zM373.0 71.3h0.6v0.6h-0.6zM365.9 57.8h0.6v0.6h-0.6zM365.0 64.1h0.6v0.6h-0.6zM377.1 64.8h0.6v0.6h-0.6zM356.4 68.7h0.6v0.6h-0.6zM348.0 53.9h0.6v0.6h-0.6zM368.8 77.9h0.6v0.6h-0.6zM356.2 66.9h0.6v0.6h-0.6zM348.5 64.6h0.6v0.6h-0.6zM384.0 75.3h0.6v0.6h-0.6zM349.7 63.4h0.6v0.6h-0.6zM364.6 60.5h0.6v0.6h-0.6zM346.1 72.8h0.6v0.6h-0.6zM375.7 77.3h0.6v0.6h-0.6zM358.5 46.8h0.6v0.6h-0.6zM366.4 63.7h0.6v0.6h-0.6zM382.0 63.3h0.6v0.6h-0.6zM365.6 68.5h0.6v0.6h-0.6zM382.0 66.2h0.6v0.6h-0.6zM387.5 45.8h0.6v0.6h-0.6zM360.3 76.2h0.6v0.6h-0.6zM374.1 53.2h0.6v0.6h-0.6zM353.6 57.2h0.6v0.6h-0.6zM356.8 66.7h0.6v0.6h-0.6zM353.6 44.3h0.6v0.6h-0.6zM346.1 70.5h0.6v0.6h-0.6zM348.6 75.4h0.6v0.6h-0.6zM361.9 75.8h0.6v0.6h-0.6zM372.2 79.6h0.6v0.6h-0.6zM369.9 52.5h0.6v0.6h-0.6zM368.7 65.7h0.6v0.6h-0.6zM376.0 45.5h0.6v0.6h-0.6zM373.5 75.2h0.6v0.6h-0.6zM369.9 42.3h0.6v0.6h-0.6zM358.6 48.8h0.6v0.6h-0.6zM349.7 70.5h0.6v0.6h-0.6zM352.3 67.4h0.6v0.6h-0.6zM366.6 64.5h0.6v0.6h-0.6zM352.9 73.7h0.6v0.6h-0.6zM377.3 55.0h0.6v0.6h-0.6zM351.3 51.6h0.6v0.6h-0.6zM372.9 69.3h0.6v0.6h-0.6zM373.4 45.4h0.6v0.6h-0.6zM363.3 51.1h0.6v0.6h-0.6zM348.9 71.1h0.6v0.6h-0.6zM350.5 55.4h0.6v0.6h-0.6zM345.5 62.2h0.6v0.6h-0.6zM350.5 56.7h0.6v0.6h-0.6zM370.0 44.2h0.6v0.6h-0.6zM384.3 59.9h0.6v0.6h-0.6zM358.7 74.0h0.6v0.6h-0.6zM350.7 47.8h0.6v0.6h-0.6zM373.5 47.6h0.6v0.6h-0.6zM386.3 50.9h0.6v0.6h-0.6zM346.6 64.5h0.6v0.6h-0.6zM353.1 79.8h0.6v0.6h-0.6zM354.0 53.2h0.6v0.6h-0.6zM389.9 80.3h0.6v0.6h-0.6zM387.1 88.8h0.6v0.6h-0.6zM385.0 51.7h0.6v0.6h-0.6zM387.5 84.8h0.6v0.6h-0.6zM389.8 74.7h0.6v0.6h-0.6zM383.5 67.3h0.6v0.6h-0.6zM386.3 69.6h0.6v0.6h-0.6zM386.0 62.3h0.6v0.6h-0.6zM390.1 75.8h0.6v0.6h-0.6zM384.0 68.1h0.6v0.6h-0.6zM387.3 57.5h0.6v0.6h-0.6zM385.0 69.9h0.6v0.6h-0.6zM388.8 61.1h0.6v0.6h-0.6zM391.9 81.0h0.6v0.6h-0.6zM390.9 78.5h0.6v0.6h-0.6zM389.8 89.1h0.6v0.6h-0.6zM386.0 88.8h0.6v0.6h-0.6zM388.6 48.5h0.6v0.6h-0.6zM389.4 68.5h0.6v0.6h-0.6zM388.3 56.2h0.6v0.6h-0.6zM386.8 53.2h0.6v0.6h-0.6zM383.6 92.3h0.6v0.6h-0.6zM386.6 77.3h0.6v0.6h-0.6zM383.2 63.9h0.6v0.6h-0.6zM388.3 58.7h0.6v0.6h-0.6zM387.7 56.8h0.6v0.6h-0.6zM387.4 79.5h0.6v0.6h-0.6zM385.6 80.1h0.6v0.6h-0.6zM388.1 85.4h0.6v0.6h-0.6zM391.5 88.4h0.6v0.6h-0.6zM389.6 69.7h0.6v0.6h-0.6z"/>
<path fill="#6c6c88" fill-opacity="0.55" d="M376.3 53.3h0.6v0.6h-0.6zM354.2 42.5h0.6v0.6h-0.6zM368.5 56.3h0.6v0.6h-0.6zM363.9 64.7h0.6v0.6h-0.6zM351.7 57.7h0.6v0.6h-0.6zM352.0 50.8h0.6v0.6h-0.6zM363.4 72.5h0.6v0.6h-0.6zM370.9 65.9h0.6v0.6h-0.6zM352.8 73.2h0.6v0.6h-0.6zM345.7 76.7h0.6v0.6h-0.6zM380.5 65.9h0.6v0.6h-0.6zM354.8 43.6h0.6v0.6h-0.6zM367.8 65.4h0.6v0.6h-0.6zM347.6 67.4h0.6v0.6h-0.6zM388.2 50.3h0.6v0.6h-0.6zM349.6 54.1h0.6v0.6h-0.6zM360.3 72.8h0.6v0.6h-0.6zM364.9 65.4h0.6v0.6h-0.6zM354.8 58.2h0.6v0.6h-0.6zM384.7 78.1h0.6v0.6h-0.6zM364.1 64.6h0.6v0.6h-0.6zM372.2 72.5h0.6v0.6h-0.6zM384.2 44.4h0.6v0.6h-0.6zM377.2 50.7h0.6v0.6h-0.6zM346.3 42.7h0.6v0.6h-0.6zM357.1 69.9h0.6v0.6h-0.6zM354.3 45.0h0.6v0.6h-0.6zM346.9 50.3h0.6v0.6h-0.6zM345.0 44.5h0.6v0.6h-0.6zM373.6 79.9h0.6v0.6h-0.6zM357.4 55.5h0.6v0.6h-0.6zM347.0 47.3h0.6v0.6h-0.6zM359.9 74.7h0.6v0.6h-0.6zM376.4 49.0h0.6v0.6h-0.6zM379.1 43.0h0.6v0.6h-0.6zM353.9 70.5h0.6v0.6h-0.6zM351.4 79.7h0.6v0.6h-0.6zM358.5 75.5h0.6v0.6h-0.6zM370.5 45.6h0.6v0.6h-0.6zM377.4 49.9h0.6v0.6h-0.6zM362.9 46.2h0.6v0.6h-0.6zM362.4 42.6h0.6v0.6h-0.6zM348.2 55.7h0.6v0.6h-0.6zM368.1 49.6h0.6v0.6h-0.6zM363.2 54.5h0.6v0.6h-0.6zM356.7 47.5h0.6v0.6h-0.6zM348.6 42.1h0.6v0.6h-0.6zM350.3 53.0h0.6v0.6h-0.6zM367.0 46.8h0.6v0.6h-0.6zM353.7 65.2h0.6v0.6h-0.6zM347.4 72.7h0.6v0.6h-0.6zM358.6 67.1h0.6v0.6h-0.6zM364.6 70.8h0.6v0.6h-0.6zM370.1 76.3h0.6v0.6h-0.6zM349.1 66.6h0.6v0.6h-0.6zM384.3 60.9h0.6v0.6h-0.6zM358.8 61.4h0.6v0.6h-0.6zM364.4 51.5h0.6v0.6h-0.6zM366.1 60.9h0.6v0.6h-0.6zM351.0 59.8h0.6v0.6h-0.6zM373.6 73.2h0.6v0.6h-0.6zM387.6 66.4h0.6v0.6h-0.6zM369.1 47.3h0.6v0.6h-0.6zM380.2 49.1h0.6v0.6h-0.6zM366.0 48.3h0.6v0.6h-0.6zM354.7 57.4h0.6v0.6h-0.6zM367.2 50.0h0.6v0.6h-0.6zM348.3 44.8h0.6v0.6h-0.6zM353.2 55.5h0.6v0.6h-0.6zM374.9 69.7h0.6v0.6h-0.6zM389.3 94.2h0.6v0.6h-0.6zM385.3 57.9h0.6v0.6h-0.6zM389.6 82.7h0.6v0.6h-0.6zM385.2 77.8h0.6v0.6h-0.6zM390.2 88.8h0.6v0.6h-0.6zM388.2 78.0h0.6v0.6h-0.6zM386.8 72.9h0.6v0.6h-0.6zM386.5 79.8h0.6v0.6h-0.6zM387.1 66.5h0.6v0.6h-0.6zM387.7 55.8h0.6v0.6h-0.6zM387.3 90.0h0.6v0.6h-0.6zM384.7 93.6h0.6v0.6h-0.6zM386.0 51.2h0.6v0.6h-0.6zM387.0 77.8h0.6v0.6h-0.6zM388.8 59.7h0.6v0.6h-0.6zM383.9 76.4h0.6v0.6h-0.6zM387.6 56.6h0.6v0.6h-0.6zM387.1 54.7h0.6v0.6h-0.6zM391.9 69.1h0.6v0.6h-0.6zM386.6 67.4h0.6v0.6h-0.6zM386.2 84.2h0.6v0.6h-0.6zM389.7 91.8h0.6v0.6h-0.6zM390.2 65.3h0.6v0.6h-0.6zM388.3 92.8h0.6v0.6h-0.6zM390.6 68.0h0.6v0.6h-0.6zM390.6 82.7h0.6v0.6h-0.6zM387.8 69.7h0.6v0.6h-0.6zM389.3 62.3h0.6v0.6h-0.6zM387.1 66.3h0.6v0.6h-0.6zM390.8 80.8h0.6v0.6h-0.6zM385.3 91.7h0.6v0.6h-0.6zM388.0 70.6h0.6v0.6h-0.6zM384.4 73.0h0.6v0.6h-0.6zM386.1 79.1h0.6v0.6h-0.6z"/>
<path fill="#80809a" fill-opacity="0.55" d="M364.9 45.5h0.6v0.6h-0.6zM385.9 52.6h0.6v0.6h-0.6zM354.3 64.9h0.6v0.6h-0.6zM377.7 62.1h0.6v0.6h-0.6zM363.4 55.4h0.6v0.6h-0.6zM364.6 42.6h0.6v0.6h-0.6zM364.9 50.1h0.6v0.6h-0.6zM387.5 61.6h0.6v0.6h-0.6zM349.5 49.1h0.6v0.6h-0.6zM347.9 67.2h0.6v0.6h-0.6zM358.2 52.5h0.6v0.6h-0.6zM355.2 49.0h0.6v0.6h-0.6zM356.5 76.8h0.6v0.6h-0.6zM376.5 75.8h0.6v0.6h-0.6zM379.8 50.0h0.6v0.6h-0.6zM360.3 49.7h0.6v0.6h-0.6zM345.1 46.2h0.6v0.6h-0.6zM379.4 47.3h0.6v0.6h-0.6zM358.4 54.3h0.6v0.6h-0.6zM353.1 46.9h0.6v0.6h-0.6zM358.9 64.7h0.6v0.6h-0.6zM347.0 73.9h0.6v0.6h-0.6zM373.2 52.6h0.6v0.6h-0.6zM353.7 43.0h0.6v0.6h-0.6zM376.3 57.4h0.6v0.6h-0.6zM348.8 76.9h0.6v0.6h-0.6zM372.8 76.9h0.6v0.6h-0.6zM386.1 46.7h0.6v0.6h-0.6zM349.0 62.0h0.6v0.6h-0.6zM375.6 76.0h0.6v0.6h-0.6zM392.1 61.9h0.6v0.6h-0.6zM368.6 47.5h0.6v0.6h-0.6zM354.4 59.7h0.6v0.6h-0.6zM374.1 49.2h0.6v0.6h-0.6zM350.2 79.6h0.6v0.6h-0.6zM366.0 72.9h0.6v0.6h-0.6zM366.8 59.6h0.6v0.6h-0.6zM375.8 67.5h0.6v0.6h-0.6zM366.0 50.8h0.6v0.6h-0.6zM346.0 75.0h0.6v0.6h-0.6zM380.4 63.4h0.6v0.6h-0.6zM373.0 77.3h0.6v0.6h-0.6zM356.0 60.5h0.6v0.6h-0.6zM350.3 56.4h0.6v0.6h-0.6zM358.0 48.9h0.6v0.6h-0.6zM381.7 46.6h0.6v0.6h-0.6zM357.8 61.5h0.6v0.6h-0.6zM360.2 50.1h0.6v0.6h-0.6zM370.1 53.2h0.6v0.6h-0.6zM353.3 61.4h0.6v0.6h-0.6zM387.5 59.5h0.6v0.6h-0.6zM358.5 60.9h0.6v0.6h-0.6zM377.2 60.7h0.6v0.6h-0.6zM352.9 49.7h0.6v0.6h-0.6zM367.6 44.1h0.6v0.6h-0.6zM358.8 56.2h0.6v0.6h-0.6zM374.0 67.9h0.6v0.6h-0.6zM389.0 45.5h0.6v0.6h-0.6zM351.4 69.2h0.6v0.6h-0.6zM360.3 70.8h0.6v0.6h-0.6zM385.9 73.1h0.6v0.6h-0.6zM360.6 79.3h0.6v0.6h-0.6zM373.6 53.1h0.6v0.6h-0.6zM349.9 47.2h0.6v0.6h-0.6zM362.0 48.1h0.6v0.6h-0.6zM382.4 61.7h0.6v0.6h-0.6zM379.2 55.5h0.6v0.6h-0.6zM353.1 72.3h0.6v0.6h-0.6zM376.0 42.6h0.6v0.6h-0.6zM379.6 74.9h0.6v0.6h-0.6zM363.9 58.9h0.6v0.6h-0.6zM371.6 49.1h0.6v0.6h-0.6zM373.5 55.5h0.6v0.6h-0.6zM368.7 71.5h0.6v0.6h-0.6zM369.5 78.6h0.6v0.6h-0.6zM354.1 47.6h0.6v0.6h-0.6zM364.2 55.6h0.6v0.6h-0.6zM365.4 54.8h0.6v0.6h-0.6zM371.9 65.2h0.6v0.6h-0.6zM385.1 74.2h0.6v0.6h-0.6zM386.6 70.9h0.6v0.6h-0.6zM382.7 51.3h0.6v0.6h-0.6zM389.6 70.8h0.6v0.6h-0.6zM390.3 88.6h0.6v0.6h-0.6zM391.9 92.5h0.6v0.6h-0.6zM386.5 82.1h0.6v0.6h-0.6zM385.0 93.8h0.6v0.6h-0.6zM390.7 79.7h0.6v0.6h-0.6zM388.6 60.5h0.6v0.6h-0.6zM390.5 59.7h0.6v0.6h-0.6zM386.4 79.2h0.6v0.6h-0.6zM387.1 76.8h0.6v0.6h-0.6zM390.3 73.1h0.6v0.6h-0.6zM390.2 78.8h0.6v0.6h-0.6zM385.5 64.3h0.6v0.6h-0.6zM385.2 90.6h0.6v0.6h-0.6zM383.0 50.0h0.6v0.6h-0.6zM386.4 88.0h0.6v0.6h-0.6zM390.8 49.4h0.6v0.6h-0.6zM386.2 84.4h0.6v0.6h-0.6zM389.2 69.4h0.6v0.6h-0.6zM390.1 91.2h0.6v0.6h-0.6zM392.5 82.7h0.6v0.6h-0.6zM387.3 55.6h0.6v0.6h-0.6zM390.3 91.3h0.6v0.6h-0.6zM391.5 91.4h0.6v0.6h-0.6zM381.3 76.0h0.6v0.6h-0.6zM390.8 49.2h0.6v0.6h-0.6zM387.0 72.6h0.6v0.6h-0.6zM385.9 80.9h0.6v0.6h-0.6zM387.0 51.3h0.6v0.6h-0.6zM387.0 90.5h0.6v0.6h-0.6zM387.9 63.5h0.6v0.6h-0.6zM386.9 73.6h0.6v0.6h-0.6zM389.5 88.1h0.6v0.6h-0.6zM385.7 54.5h0.6v0.6h-0.6zM389.0 83.8h0.6v0.6h-0.6zM388.2 69.1h0.6v0.6h-0.6zM389.0 65.5h0.6v0.6h-0.6zM388.6 66.3h0.6v0.6h-0.6zM387.5 90.2h0.6v0.6h-0.6zM389.8 87.7h0.6v0.6h-0.6zM388.5 71.0h0.6v0.6h-0.6z"/>
<path fill="#9494b0" fill-opacity="0.55" d="M376.6 67.6h0.6v0.6h-0.6zM390.6 76.5h0.6v0.6h-0.6zM367.5 51.1h0.6v0.6h-0.6zM351.8 79.3h0.6v0.6h-0.6zM367.7 59.0h0.6v0.6h-0.6zM352.6 69.0h0.6v0.6h-0.6zM354.6 71.8h0.6v0.6h-0.6zM352.6 76.9h0.6v0.6h-0.6zM362.9 50.3h0.6v0.6h-0.6zM382.9 49.2h0.6v0.6h-0.6zM390.0 78.6h0.6v0.6h-0.6zM370.0 42.2h0.6v0.6h-0.6zM351.7 68.7h0.6v0.6h-0.6zM352.4 58.6h0.6v0.6h-0.6zM347.5 54.9h0.6v0.6h-0.6zM357.2 65.6h0.6v0.6h-0.6zM381.7 78.1h0.6v0.6h-0.6zM357.8 53.3h0.6v0.6h-0.6zM350.4 71.5h0.6v0.6h-0.6zM366.4 56.9h0.6v0.6h-0.6zM373.1 73.3h0.6v0.6h-0.6zM350.0 69.4h0.6v0.6h-0.6zM367.3 73.3h0.6v0.6h-0.6zM362.8 69.3h0.6v0.6h-0.6zM357.1 56.1h0.6v0.6h-0.6zM346.0 51.3h0.6v0.6h-0.6zM386.9 66.6h0.6v0.6h-0.6zM353.8 79.3h0.6v0.6h-0.6zM375.6 79.6h0.6v0.6h-0.6zM363.2 78.9h0.6v0.6h-0.6zM346.8 47.9h0.6v0.6h-0.6zM366.4 55.1h0.6v0.6h-0.6zM347.6 47.3h0.6v0.6h-0.6zM354.9 53.1h0.6v0.6h-0.6zM354.4 73.0h0.6v0.6h-0.6zM351.2 56.1h0.6v0.6h-0.6zM357.0 59.1h0.6v0.6h-0.6zM384.8 52.3h0.6v0.6h-0.6zM351.5 44.3h0.6v0.6h-0.6zM357.2 51.8h0.6v0.6h-0.6zM348.2 77.0h0.6v0.6h-0.6zM370.2 58.8h0.6v0.6h-0.6zM370.3 70.6h0.6v0.6h-0.6zM355.8 49.4h0.6v0.6h-0.6zM387.5 73.5h0.6v0.6h-0.6zM355.9 64.4h0.6v0.6h-0.6zM354.6 61.8h0.6v0.6h-0.6zM351.0 58.7h0.6v0.6h-0.6zM362.2 59.5h0.6v0.6h-0.6zM370.4 45.2h0.6v0.6h-0.6zM358.7 62.4h0.6v0.6h-0.6zM345.1 71.1h0.6v0.6h-0.6zM349.7 54.2h0.6v0.6h-0.6zM358.0 46.9h0.6v0.6h-0.6zM365.4 45.7h0.6v0.6h-0.6zM365.3 50.7h0.6v0.6h-0.6zM360.3 44.7h0.6v0.6h-0.6zM367.1 55.3h0.6v0.6h-0.6zM364.8 56.0h0.6v0.6h-0.6zM390.4 43.3h0.6v0.6h-0.6zM359.0 42.5h0.6v0.6h-0.6zM362.2 75.4h0.6v0.6h-0.6zM363.7 73.1h0.6v0.6h-0.6zM371.9 77.2h0.6v0.6h-0.6zM350.5 54.4h0.6v0.6h-0.6zM354.9 72.2h0.6v0.6h-0.6zM373.6 56.5h0.6v0.6h-0.6zM357.3 75.7h0.6v0.6h-0.6zM356.1 77.0h0.6v0.6h-0.6zM352.3 62.7h0.6v0.6h-0.6zM371.7 71.9h0.6v0.6h-0.6zM366.4 66.2h0.6v0.6h-0.6zM353.9 74.9h0.6v0.6h-0.6zM366.1 48.4h0.6v0.6h-0.6zM373.4 51.1h0.6v0.6h-0.6zM379.2 77.8h0.6v0.6h-0.6zM359.3 79.9h0.6v0.6h-0.6zM358.8 51.5h0.6v0.6h-0.6zM351.1 50.5h0.6v0.6h-0.6zM384.8 79.8h0.6v0.6h-0.6zM363.7 71.2h0.6v0.6h-0.6zM378.3 68.6h0.6v0.6h-0.6zM345.6 72.7h0.6v0.6h-0.6zM388.4 70.9h0.6v0.6h-0.6zM382.6 82.4h0.6v0.6h-0.6zM390.5 62.2h0.6v0.6h-0.6zM390.0 60.3h0.6v0.6h-0.6zM386.5 58.2h0.6v0.6h-0.6zM389.9 52.7h0.6v0.6h-0.6zM384.6 88.5h0.6v0.6h-0.6zM385.3 92.7h0.6v0.6h-0.6zM386.9 80.3h0.6v0.6h-0.6zM388.4 71.9h0.6v0.6h-0.6zM385.4 59.8h0.6v0.6h-0.6zM389.1 90.5h0.6v0.6h-0.6zM388.3 78.7h0.6v0.6h-0.6zM390.4 59.1h0.6v0.6h-0.6zM390.3 75.0h0.6v0.6h-0.6zM386.3 71.1h0.6v0.6h-0.6zM391.2 79.9h0.6v0.6h-0.6zM389.1 70.4h0.6v0.6h-0.6zM385.3 54.3h0.6v0.6h-0.6zM387.9 81.3h0.6v0.6h-0.6zM387.6 51.6h0.6v0.6h-0.6zM388.9 79.6h0.6v0.6h-0.6zM387.9 76.8h0.6v0.6h-0.6zM388.7 56.7h0.6v0.6h-0.6zM390.0 90.3h0.6v0.6h-0.6zM386.2 56.6h0.6v0.6h-0.6zM388.6 52.2h0.6v0.6h-0.6zM387.2 59.9h0.6v0.6h-0.6zM385.4 62.9h0.6v0.6h-0.6zM389.8 62.8h0.6v0.6h-0.6zM385.6 60.0h0.6v0.6h-0.6zM384.8 60.8h0.6v0.6h-0.6zM382.6 84.8h0.6v0.6h-0.6zM384.6 54.2h0.6v0.6h-0.6zM386.7 55.4h0.6v0.6h-0.6zM390.4 93.3h0.6v0.6h-0.6zM388.0 75.9h0.6v0.6h-0.6zM391.6 84.4h0.6v0.6h-0.6zM385.6 50.2h0.6v0.6h-0.6zM386.1 53.0h0.6v0.6h-0.6zM388.9 82.8h0.6v0.6h-0.6zM388.6 71.0h0.6v0.6h-0.6zM387.6 49.9h0.6v0.6h-0.6z"/>
<path fill="#7a7a98" fill-opacity="0.55" d="M356.5 45.9h0.6v0.6h-0.6zM377.3 54.4h0.6v0.6h-0.6zM372.5 56.4h0.6v0.6h-0.6zM378.4 73.6h0.6v0.6h-0.6zM355.4 55.8h0.6v0.6h-0.6zM347.6 60.1h0.6v0.6h-0.6zM391.9 70.4h0.6v0.6h-0.6zM382.2 71.3h0.6v0.6h-0.6zM369.1 66.7h0.6v0.6h-0.6zM351.4 58.4h0.6v0.6h-0.6zM353.2 48.7h0.6v0.6h-0.6zM366.4 45.2h0.6v0.6h-0.6zM361.2 47.9h0.6v0.6h-0.6zM351.2 54.1h0.6v0.6h-0.6zM346.8 56.0h0.6v0.6h-0.6zM388.0 73.9h0.6v0.6h-0.6zM348.5 75.3h0.6v0.6h-0.6zM387.3 63.1h0.6v0.6h-0.6zM359.4 44.7h0.6v0.6h-0.6zM366.9 51.9h0.6v0.6h-0.6zM388.4 53.4h0.6v0.6h-0.6zM362.1 58.1h0.6v0.6h-0.6zM375.5 51.8h0.6v0.6h-0.6zM349.1 42.5h0.6v0.6h-0.6zM345.2 68.6h0.6v0.6h-0.6zM368.5 71.0h0.6v0.6h-0.6zM359.1 52.0h0.6v0.6h-0.6zM351.9 56.1h0.6v0.6h-0.6zM352.3 42.4h0.6v0.6h-0.6zM365.3 57.7h0.6v0.6h-0.6zM377.8 68.9h0.6v0.6h-0.6zM354.1 45.8h0.6v0.6h-0.6zM390.4 79.6h0.6v0.6h-0.6zM365.8 53.8h0.6v0.6h-0.6zM348.3 74.4h0.6v0.6h-0.6zM345.6 44.8h0.6v0.6h-0.6zM390.1 59.0h0.6v0.6h-0.6zM367.9 57.0h0.6v0.6h-0.6zM356.7 62.9h0.6v0.6h-0.6zM381.0 78.3h0.6v0.6h-0.6zM370.9 75.1h0.6v0.6h-0.6zM345.3 50.6h0.6v0.6h-0.6zM345.7 73.2h0.6v0.6h-0.6zM346.8 49.9h0.6v0.6h-0.6zM367.2 53.8h0.6v0.6h-0.6zM360.8 59.5h0.6v0.6h-0.6zM390.4 55.9h0.6v0.6h-0.6zM348.1 69.8h0.6v0.6h-0.6zM359.2 73.5h0.6v0.6h-0.6zM386.5 56.7h0.6v0.6h-0.6zM348.0 79.0h0.6v0.6h-0.6zM346.8 70.2h0.6v0.6h-0.6zM357.1 76.8h0.6v0.6h-0.6zM357.4 59.4h0.6v0.6h-0.6zM356.1 77.9h0.6v0.6h-0.6zM345.6 55.3h0.6v0.6h-0.6zM351.1 62.4h0.6v0.6h-0.6zM372.8 61.6h0.6v0.6h-0.6zM365.1 73.3h0.6v0.6h-0.6zM345.9 61.4h0.6v0.6h-0.6zM366.9 68.0h0.6v0.6h-0.6zM368.7 68.3h0.6v0.6h-0.6zM350.2 48.8h0.6v0.6h-0.6zM361.6 72.0h0.6v0.6h-0.6zM361.4 73.7h0.6v0.6h-0.6zM345.7 72.4h0.6v0.6h-0.6zM360.8 43.4h0.6v0.6h-0.6zM346.1 62.6h0.6v0.6h-0.6zM370.8 61.2h0.6v0.6h-0.6zM378.5 68.6h0.6v0.6h-0.6zM373.3 70.4h0.6v0.6h-0.6zM373.7 53.8h0.6v0.6h-0.6zM367.5 75.3h0.6v0.6h-0.6zM360.9 72.5h0.6v0.6h-0.6zM359.4 66.4h0.6v0.6h-0.6zM350.3 44.7h0.6v0.6h-0.6zM354.4 70.9h0.6v0.6h-0.6zM354.7 45.2h0.6v0.6h-0.6zM374.1 45.2h0.6v0.6h-0.6zM361.1 60.8h0.6v0.6h-0.6zM385.3 65.5h0.6v0.6h-0.6zM388.8 76.3h0.6v0.6h-0.6zM385.6 72.2h0.6v0.6h-0.6zM385.3 62.5h0.6v0.6h-0.6zM385.5 66.1h0.6v0.6h-0.6zM383.1 92.0h0.6v0.6h-0.6zM389.1 53.5h0.6v0.6h-0.6zM389.1 63.9h0.6v0.6h-0.6zM384.1 93.9h0.6v0.6h-0.6zM386.9 86.8h0.6v0.6h-0.6zM384.3 87.3h0.6v0.6h-0.6zM384.8 56.3h0.6v0.6h-0.6zM388.4 57.2h0.6v0.6h-0.6zM391.6 87.2h0.6v0.6h-0.6zM388.1 67.8h0.6v0.6h-0.6zM386.9 52.2h0.6v0.6h-0.6zM389.7 87.5h0.6v0.6h-0.6zM386.7 80.8h0.6v0.6h-0.6zM389.5 56.8h0.6v0.6h-0.6zM385.7 67.7h0.6v0.6h-0.6zM389.3 93.5h0.6v0.6h-0.6zM387.5 85.3h0.6v0.6h-0.6zM389.2 85.7h0.6v0.6h-0.6zM389.7 93.0h0.6v0.6h-0.6zM386.5 92.2h0.6v0.6h-0.6zM386.0 59.8h0.6v0.6h-0.6zM385.3 51.3h0.6v0.6h-0.6zM386.1 57.0h0.6v0.6h-0.6zM387.2 61.2h0.6v0.6h-0.6zM382.2 93.7h0.6v0.6h-0.6zM389.7 53.6h0.6v0.6h-0.6zM390.3 55.6h0.6v0.6h-0.6zM386.5 75.5h0.6v0.6h-0.6zM387.1 73.9h0.6v0.6h-0.6zM387.7 74.2h0.6v0.6h-0.6zM384.6 90.0h0.6v0.6h-0.6zM387.9 85.8h0.6v0.6h-0.6zM384.4 84.3h0.6v0.6h-0.6zM388.6 61.5h0.6v0.6h-0.6z"/>
<path fill="#7a7a98" fill-opacity="0.6" d="M357.9 63.7h0.6v0.6h-0.6zM350.4 78.5h0.6v0.6h-0.6zM353.9 64.9h0.6v0.6h-0.6zM357.4 50.6h0.6v0.6h-0.6zM349.5 61.7h0.6v0.6h-0.6zM350.8 69.0h0.6v0.6h-0.6zM353.0 66.0h0.6v0.6h-0.6zM352.8 60.9h0.6v0.6h-0.6zM354.1 50.0h0.6v0.6h-0.6zM361.0 74.5h0.6v0.6h-0.6zM357.3 58.0h0.6v0.6h-0.6zM362.3 62.6h0.6v0.6h-0.6zM357.8 71.6h0.6v0.6h-0.6zM352.6 57.8h0.6v0.6h-0.6zM353.0 67.7h0.6v0.6h-0.6zM351.7 74.0h0.6v0.6h-0.6zM354.2 56.8h0.6v0.6h-0.6zM348.1 59.5h0.6v0.6h-0.6zM352.2 63.2h0.6v0.6h-0.6zM350.3 71.7h0.6v0.6h-0.6zM363.0 64.9h0.6v0.6h-0.6zM360.0 51.1h0.6v0.6h-0.6zM356.7 63.6h0.6v0.6h-0.6zM364.4 65.1h0.6v0.6h-0.6zM350.3 73.5h0.6v0.6h-0.6zM354.0 62.3h0.6v0.6h-0.6zM349.1 54.4h0.6v0.6h-0.6zM358.8 58.2h0.6v0.6h-0.6zM355.4 58.3h0.6v0.6h-0.6zM352.4 80.3h0.6v0.6h-0.6zM352.5 55.6h0.6v0.6h-0.6zM359.0 57.7h0.6v0.6h-0.6zM356.6 63.8h0.6v0.6h-0.6zM350.5 60.9h0.6v0.6h-0.6zM352.0 56.5h0.6v0.6h-0.6zM363.4 58.5h0.6v0.6h-0.6zM351.3 59.1h0.6v0.6h-0.6zM352.6 43.7h0.6v0.6h-0.6zM352.7 54.4h0.6v0.6h-0.6zM356.2 70.1h0.6v0.6h-0.6zM354.9 52.3h0.6v0.6h-0.6zM354.4 72.4h0.6v0.6h-0.6zM351.2 64.4h0.6v0.6h-0.6zM354.3 56.3h0.6v0.6h-0.6zM354.9 57.9h0.6v0.6h-0.6zM352.8 64.4h0.6v0.6h-0.6zM348.3 49.1h0.6v0.6h-0.6zM357.7 65.0h0.6v0.6h-0.6zM356.5 49.8h0.6v0.6h-0.6zM349.5 59.8h0.6v0.6h-0.6zM358.3 67.7h0.6v0.6h-0.6zM352.2 64.8h0.6v0.6h-0.6zM355.8 58.3h0.6v0.6h-0.6zM352.7 57.6h0.6v0.6h-0.6zM351.9 71.3h0.6v0.6h-0.6zM346.4 67.7h0.6v0.6h-0.6zM355.7 57.5h0.6v0.6h-0.6zM362.0 69.8h0.6v0.6h-0.6zM351.1 59.1h0.6v0.6h-0.6zM359.0 56.1h0.6v0.6h-0.6zM354.6 49.5h0.6v0.6h-0.6zM357.7 69.7h0.6v0.6h-0.6zM355.8 57.8h0.6v0.6h-0.6zM358.9 61.2h0.6v0.6h-0.6zM359.0 56.4h0.6v0.6h-0.6zM358.4 65.3h0.6v0.6h-0.6zM354.1 45.3h0.6v0.6h-0.6zM362.8 71.8h0.6v0.6h-0.6zM359.6 56.4h0.6v0.6h-0.6zM356.4 61.5h0.6v0.6h-0.6zM358.3 65.0h0.6v0.6h-0.6zM364.4 60.7h0.6v0.6h-0.6zM354.8 77.3h0.6v0.6h-0.6zM355.8 72.9h0.6v0.6h-0.6zM355.1 45.9h0.6v0.6h-0.6zM354.4 45.9h0.6v0.6h-0.6zM351.1 53.1h0.6v0.6h-0.6zM352.5 64.1h0.6v0.6h-0.6zM362.3 64.9h0.6v0.6h-0.6zM360.8 50.1h0.6v0.6h-0.6zM353.5 56.2h0.6v0.6h-0.6zM356.0 42.8h0.6v0.6h-0.6zM351.3 52.0h0.6v0.6h-0.6zM357.7 59.4h0.6v0.6h-0.6zM352.4 54.6h0.6v0.6h-0.6zM353.0 60.0h0.6v0.6h-0.6zM363.6 57.5h0.6v0.6h-0.6zM357.7 49.7h0.6v0.6h-0.6zM364.7 63.0h0.6v0.6h-0.6zM349.0 58.8h0.6v0.6h-0.6zM346.6 69.1h0.6v0.6h-0.6zM355.9 46.6h0.6v0.6h-0.6zM364.3 59.9h0.6v0.6h-0.6zM354.7 71.0h0.6v0.6h-0.6zM348.2 52.6h0.6v0.6h-0.6zM354.2 46.6h0.6v0.6h-0.6zM357.5 49.6h0.6v0.6h-0.6zM366.2 61.6h0.6v0.6h-0.6zM347.5 55.6h0.6v0.6h-0.6zM352.2 62.7h0.6v0.6h-0.6zM361.4 75.1h0.6v0.6h-0.6zM359.9 60.6h0.6v0.6h-0.6zM361.2 63.4h0.6v0.6h-0.6zM352.1 60.4h0.6v0.6h-0.6zM349.6 75.7h0.6v0.6h-0.6zM352.4 61.0h0.6v0.6h-0.6zM352.4 42.7h0.6v0.6h-0.6zM352.4 45.0h0.6v0.6h-0.6zM351.5 55.5h0.6v0.6h-0.6zM355.8 61.8h0.6v0.6h-0.6zM359.9 58.4h0.6v0.6h-0.6zM351.5 48.5h0.6v0.6h-0.6zM356.9 69.9h0.6v0.6h-0.6zM361.2 59.0h0.6v0.6h-0.6zM364.5 57.8h0.6v0.6h-0.6zM354.2 66.0h0.6v0.6h-0.6zM356.2 51.2h0.6v0.6h-0.6zM349.2 42.9h0.6v0.6h-0.6zM352.7 54.5h0.6v0.6h-0.6zM358.4 61.8h0.6v0.6h-0.6zM356.6 63.5h0.6v0.6h-0.6zM357.3 73.5h0.6v0.6h-0.6zM354.7 55.9h0.6v0.6h-0.6zM356.9 59.9h0.6v0.6h-0.6zM353.1 54.1h0.6v0.6h-0.6zM356.4 56.2h0.6v0.6h-0.6zM353.3 43.9h0.6v0.6h-0.6zM355.5 67.4h0.6v0.6h-0.6zM355.8 80.3h0.6v0.6h-0.6zM351.8 62.3h0.6v0.6h-0.6zM359.9 62.2h0.6v0.6h-0.6zM360.1 60.6h0.6v0.6h-0.6zM354.2 77.8h0.6v0.6h-0.6zM356.0 64.3h0.6v0.6h-0.6zM356.1 59.6h0.6v0.6h-0.6zM349.6 64.1h0.6v0.6h-0.6zM355.0 50.0h0.6v0.6h-0.6zM356.3 58.6h0.6v0.6h-0.6zM354.7 63.9h0.6v0.6h-0.6zM358.2 79.8h0.6v0.6h-0.6zM356.3 65.6h0.6v0.6h-0.6zM362.9 66.3h0.6v0.6h-0.6z"/>
<path fill="#6c6c88" fill-opacity="0.6" d="M353.4 71.4h0.6v0.6h-0.6zM355.4 49.7h0.6v0.6h-0.6zM352.4 83.5h0.6v0.6h-0.6zM356.5 59.8h0.6v0.6h-0.6zM346.5 63.0h0.6v0.6h-0.6zM349.3 54.3h0.6v0.6h-0.6zM356.2 67.5h0.6v0.6h-0.6zM348.5 69.7h0.6v0.6h-0.6zM349.1 67.9h0.6v0.6h-0.6zM349.1 65.2h0.6v0.6h-0.6zM354.2 58.3h0.6v0.6h-0.6zM361.7 60.3h0.6v0.6h-0.6zM355.6 70.4h0.6v0.6h-0.6zM347.4 71.3h0.6v0.6h-0.6zM355.7 74.1h0.6v0.6h-0.6zM355.8 68.7h0.6v0.6h-0.6zM349.0 60.0h0.6v0.6h-0.6zM350.5 59.9h0.6v0.6h-0.6zM360.0 52.5h0.6v0.6h-0.6zM356.9 42.7h0.6v0.6h-0.6zM360.0 60.1h0.6v0.6h-0.6zM357.6 52.9h0.6v0.6h-0.6zM363.8 73.4h0.6v0.6h-0.6zM347.2 45.0h0.6v0.6h-0.6zM356.4 73.1h0.6v0.6h-0.6zM351.0 67.1h0.6v0.6h-0.6zM350.0 59.4h0.6v0.6h-0.6zM350.8 73.6h0.6v0.6h-0.6zM359.0 44.2h0.6v0.6h-0.6zM363.3 51.0h0.6v0.6h-0.6zM347.1 71.4h0.6v0.6h-0.6zM352.9 66.5h0.6v0.6h-0.6zM354.7 68.3h0.6v0.6h-0.6zM351.3 67.9h0.6v0.6h-0.6zM352.7 65.5h0.6v0.6h-0.6zM357.9 58.8h0.6v0.6h-0.6zM366.4 61.2h0.6v0.6h-0.6zM356.3 46.8h0.6v0.6h-0.6zM357.8 55.0h0.6v0.6h-0.6zM355.6 59.8h0.6v0.6h-0.6zM354.2 53.8h0.6v0.6h-0.6zM349.7 59.9h0.6v0.6h-0.6zM349.6 69.7h0.6v0.6h-0.6zM357.9 55.6h0.6v0.6h-0.6zM360.1 67.7h0.6v0.6h-0.6zM352.4 59.6h0.6v0.6h-0.6zM363.8 57.8h0.6v0.6h-0.6zM354.0 53.9h0.6v0.6h-0.6zM352.1 74.8h0.6v0.6h-0.6zM354.8 52.7h0.6v0.6h-0.6zM352.7 56.8h0.6v0.6h-0.6zM370.0 60.2h0.6v0.6h-0.6zM348.1 57.2h0.6v0.6h-0.6zM350.9 54.5h0.6v0.6h-0.6zM353.9 58.9h0.6v0.6h-0.6zM345.0 64.7h0.6v0.6h-0.6zM356.9 46.6h0.6v0.6h-0.6zM356.6 60.4h0.6v0.6h-0.6zM349.2 45.5h0.6v0.6h-0.6zM351.6 51.3h0.6v0.6h-0.6zM354.1 65.1h0.6v0.6h-0.6zM357.5 58.2h0.6v0.6h-0.6zM348.4 52.2h0.6v0.6h-0.6zM352.5 52.2h0.6v0.6h-0.6zM358.5 56.9h0.6v0.6h-0.6zM358.3 69.4h0.6v0.6h-0.6zM356.5 70.6h0.6v0.6h-0.6zM357.9 69.2h0.6v0.6h-0.6zM359.1 61.7h0.6v0.6h-0.6zM362.1 66.5h0.6v0.6h-0.6zM349.6 66.5h0.6v0.6h-0.6zM352.3 48.7h0.6v0.6h-0.6zM352.4 53.2h0.6v0.6h-0.6zM362.6 52.6h0.6v0.6h-0.6zM355.6 46.1h0.6v0.6h-0.6zM347.9 68.4h0.6v0.6h-0.6zM351.7 48.1h0.6v0.6h-0.6zM351.6 48.9h0.6v0.6h-0.6zM348.1 51.4h0.6v0.6h-0.6zM351.0 59.6h0.6v0.6h-0.6zM349.6 54.9h0.6v0.6h-0.6zM347.6 72.5h0.6v0.6h-0.6zM350.6 61.8h0.6v0.6h-0.6zM353.9 69.2h0.6v0.6h-0.6zM357.2 71.9h0.6v0.6h-0.6zM356.1 64.3h0.6v0.6h-0.6zM349.1 53.2h0.6v0.6h-0.6zM355.5 60.8h0.6v0.6h-0.6zM351.6 76.3h0.6v0.6h-0.6zM357.9 50.7h0.6v0.6h-0.6zM352.8 62.5h0.6v0.6h-0.6zM355.4 70.4h0.6v0.6h-0.6zM358.9 55.2h0.6v0.6h-0.6zM348.9 48.7h0.6v0.6h-0.6zM358.7 65.8h0.6v0.6h-0.6zM356.1 76.8h0.6v0.6h-0.6zM364.6 65.6h0.6v0.6h-0.6zM356.5 68.2h0.6v0.6h-0.6zM359.0 57.2h0.6v0.6h-0.6zM352.5 66.5h0.6v0.6h-0.6zM348.7 60.7h0.6v0.6h-0.6zM356.1 42.0h0.6v0.6h-0.6zM351.3 68.6h0.6v0.6h-0.6zM354.2 55.7h0.6v0.6h-0.6zM359.4 70.2h0.6v0.6h-0.6zM357.4 69.5h0.6v0.6h-0.6zM358.7 61.8h0.6v0.6h-0.6zM357.7 61.2h0.6v0.6h-0.6zM347.8 52.8h0.6v0.6h-0.6zM347.5 56.0h0.6v0.6h-0.6zM347.5 57.0h0.6v0.6h-0.6zM360.5 53.6h0.6v0.6h-0.6zM361.0 48.1h0.6v0.6h-0.6zM354.4 59.5h0.6v0.6h-0.6zM352.3 42.9h0.6v0.6h-0.6zM345.8 73.2h0.6v0.6h-0.6zM360.2 43.8h0.6v0.6h-0.6zM359.8 64.5h0.6v0.6h-0.6zM358.3 59.7h0.6v0.6h-0.6zM361.7 66.7h0.6v0.6h-0.6zM345.9 59.3h0.6v0.6h-0.6zM355.4 48.0h0.6v0.6h-0.6zM362.5 53.6h0.6v0.6h-0.6zM355.8 58.5h0.6v0.6h-0.6zM353.0 62.9h0.6v0.6h-0.6zM357.0 47.0h0.6v0.6h-0.6zM362.4 60.0h0.6v0.6h-0.6zM349.1 54.3h0.6v0.6h-0.6zM354.6 71.1h0.6v0.6h-0.6zM360.3 64.3h0.6v0.6h-0.6zM360.3 56.1h0.6v0.6h-0.6zM351.5 69.7h0.6v0.6h-0.6zM352.5 64.0h0.6v0.6h-0.6zM359.1 70.6h0.6v0.6h-0.6zM358.4 71.1h0.6v0.6h-0.6zM354.0 58.6h0.6v0.6h-0.6zM344.9 59.2h0.6v0.6h-0.6zM354.8 55.5h0.6v0.6h-0.6zM354.9 45.9h0.6v0.6h-0.6zM355.5 70.8h0.6v0.6h-0.6zM361.5 63.5h0.6v0.6h-0.6zM354.7 83.9h0.6v0.6h-0.6zM353.1 69.7h0.6v0.6h-0.6zM363.3 48.8h0.6v0.6h-0.6zM353.7 70.8h0.6v0.6h-0.6zM350.8 70.0h0.6v0.6h-0.6zM349.4 70.7h0.6v0.6h-0.6zM357.8 59.3h0.6v0.6h-0.6zM350.9 72.3h0.6v0.6h-0.6zM354.5 51.8h0.6v0.6h-0.6zM355.6 60.7h0.6v0.6h-0.6zM356.6 53.9h0.6v0.6h-0.6zM362.8 60.6h0.6v0.6h-0.6zM350.1 70.5h0.6v0.6h-0.6zM361.7 53.1h0.6v0.6h-0.6zM358.2 53.4h0.6v0.6h-0.6zM352.0 65.9h0.6v0.6h-0.6zM359.3 51.6h0.6v0.6h-0.6zM352.6 58.2h0.6v0.6h-0.6z"/>
<path fill="#8a8aa8" fill-opacity="0.6" d="M349.4 47.4h0.6v0.6h-0.6zM362.3 70.9h0.6v0.6h-0.6zM351.8 63.0h0.6v0.6h-0.6zM361.2 62.9h0.6v0.6h-0.6zM360.0 59.5h0.6v0.6h-0.6zM353.8 54.1h0.6v0.6h-0.6zM355.1 75.1h0.6v0.6h-0.6zM358.3 66.2h0.6v0.6h-0.6zM353.9 56.0h0.6v0.6h-0.6zM347.9 61.4h0.6v0.6h-0.6zM362.2 59.0h0.6v0.6h-0.6zM358.5 58.8h0.6v0.6h-0.6zM362.3 45.2h0.6v0.6h-0.6zM350.5 54.6h0.6v0.6h-0.6zM353.5 66.8h0.6v0.6h-0.6zM352.4 62.3h0.6v0.6h-0.6zM352.4 57.5h0.6v0.6h-0.6zM352.4 60.5h0.6v0.6h-0.6zM360.6 62.9h0.6v0.6h-0.6zM355.2 88.7h0.6v0.6h-0.6zM351.2 56.9h0.6v0.6h-0.6zM354.6 71.3h0.6v0.6h-0.6zM356.1 56.3h0.6v0.6h-0.6zM350.9 66.8h0.6v0.6h-0.6zM361.8 74.0h0.6v0.6h-0.6zM352.2 68.5h0.6v0.6h-0.6zM356.8 65.8h0.6v0.6h-0.6zM353.5 46.5h0.6v0.6h-0.6zM352.5 63.7h0.6v0.6h-0.6zM354.1 56.4h0.6v0.6h-0.6zM357.3 71.9h0.6v0.6h-0.6zM354.4 57.7h0.6v0.6h-0.6zM360.6 59.2h0.6v0.6h-0.6zM350.6 64.7h0.6v0.6h-0.6zM354.9 42.3h0.6v0.6h-0.6zM351.4 81.3h0.6v0.6h-0.6zM358.5 57.2h0.6v0.6h-0.6zM347.7 61.1h0.6v0.6h-0.6zM351.8 65.1h0.6v0.6h-0.6zM350.6 65.2h0.6v0.6h-0.6zM354.3 62.5h0.6v0.6h-0.6zM351.2 69.7h0.6v0.6h-0.6zM351.0 58.3h0.6v0.6h-0.6zM354.0 54.9h0.6v0.6h-0.6zM354.3 80.8h0.6v0.6h-0.6zM362.0 64.2h0.6v0.6h-0.6zM355.4 58.4h0.6v0.6h-0.6zM357.2 50.2h0.6v0.6h-0.6zM348.0 68.4h0.6v0.6h-0.6zM348.9 71.5h0.6v0.6h-0.6zM349.7 76.9h0.6v0.6h-0.6zM355.4 52.1h0.6v0.6h-0.6zM351.8 57.5h0.6v0.6h-0.6zM360.2 80.2h0.6v0.6h-0.6zM358.1 45.1h0.6v0.6h-0.6zM350.3 52.0h0.6v0.6h-0.6zM354.5 59.6h0.6v0.6h-0.6zM355.3 74.2h0.6v0.6h-0.6zM356.2 73.9h0.6v0.6h-0.6zM350.7 82.0h0.6v0.6h-0.6zM353.2 64.4h0.6v0.6h-0.6zM362.1 51.5h0.6v0.6h-0.6zM353.0 62.2h0.6v0.6h-0.6zM353.0 66.9h0.6v0.6h-0.6zM356.1 69.3h0.6v0.6h-0.6zM359.5 80.7h0.6v0.6h-0.6zM352.7 73.6h0.6v0.6h-0.6zM358.5 46.9h0.6v0.6h-0.6zM362.4 63.4h0.6v0.6h-0.6zM358.9 72.8h0.6v0.6h-0.6zM356.3 68.6h0.6v0.6h-0.6zM351.8 61.5h0.6v0.6h-0.6zM364.6 54.9h0.6v0.6h-0.6zM351.1 62.0h0.6v0.6h-0.6zM361.7 60.5h0.6v0.6h-0.6zM359.8 52.7h0.6v0.6h-0.6zM353.0 55.1h0.6v0.6h-0.6zM354.6 56.7h0.6v0.6h-0.6zM353.1 62.1h0.6v0.6h-0.6zM356.1 56.0h0.6v0.6h-0.6zM363.0 46.8h0.6v0.6h-0.6zM359.8 57.9h0.6v0.6h-0.6zM356.7 61.9h0.6v0.6h-0.6zM355.3 58.9h0.6v0.6h-0.6zM347.4 77.1h0.6v0.6h-0.6zM353.1 48.7h0.6v0.6h-0.6zM352.4 48.4h0.6v0.6h-0.6zM349.5 69.1h0.6v0.6h-0.6zM358.5 59.6h0.6v0.6h-0.6zM361.3 58.4h0.6v0.6h-0.6zM354.9 54.6h0.6v0.6h-0.6zM353.1 48.6h0.6v0.6h-0.6zM353.8 81.4h0.6v0.6h-0.6zM366.9 75.2h0.6v0.6h-0.6zM351.6 47.0h0.6v0.6h-0.6zM358.0 58.6h0.6v0.6h-0.6zM350.2 64.9h0.6v0.6h-0.6zM358.8 69.4h0.6v0.6h-0.6zM355.5 52.8h0.6v0.6h-0.6zM356.1 55.0h0.6v0.6h-0.6zM362.2 64.7h0.6v0.6h-0.6zM357.8 65.0h0.6v0.6h-0.6zM345.5 61.1h0.6v0.6h-0.6zM346.8 55.9h0.6v0.6h-0.6zM355.7 51.3h0.6v0.6h-0.6zM355.1 59.1h0.6v0.6h-0.6zM352.1 71.7h0.6v0.6h-0.6zM349.6 56.6h0.6v0.6h-0.6zM351.5 59.3h0.6v0.6h-0.6zM362.9 58.7h0.6v0.6h-0.6zM361.1 53.9h0.6v0.6h-0.6zM361.6 79.9h0.6v0.6h-0.6zM356.9 43.5h0.6v0.6h-0.6zM360.6 62.6h0.6v0.6h-0.6zM357.8 61.2h0.6v0.6h-0.6zM356.5 58.7h0.6v0.6h-0.6zM357.3 64.3h0.6v0.6h-0.6zM356.6 61.1h0.6v0.6h-0.6zM354.2 45.8h0.6v0.6h-0.6zM352.6 57.1h0.6v0.6h-0.6zM355.4 67.8h0.6v0.6h-0.6zM352.2 65.7h0.6v0.6h-0.6zM355.5 70.0h0.6v0.6h-0.6zM345.9 47.8h0.6v0.6h-0.6zM362.3 60.7h0.6v0.6h-0.6zM359.6 55.5h0.6v0.6h-0.6zM365.2 78.6h0.6v0.6h-0.6zM358.9 61.3h0.6v0.6h-0.6zM351.8 54.7h0.6v0.6h-0.6zM357.7 49.1h0.6v0.6h-0.6zM359.8 57.4h0.6v0.6h-0.6zM350.0 43.8h0.6v0.6h-0.6zM359.8 50.8h0.6v0.6h-0.6zM355.2 61.9h0.6v0.6h-0.6zM359.4 61.6h0.6v0.6h-0.6zM353.8 65.2h0.6v0.6h-0.6zM349.4 57.7h0.6v0.6h-0.6zM359.0 51.6h0.6v0.6h-0.6zM354.2 56.3h0.6v0.6h-0.6zM354.3 64.3h0.6v0.6h-0.6zM347.5 66.2h0.6v0.6h-0.6zM359.7 54.2h0.6v0.6h-0.6zM347.4 52.0h0.6v0.6h-0.6zM356.1 46.6h0.6v0.6h-0.6zM354.5 51.0h0.6v0.6h-0.6zM351.5 56.2h0.6v0.6h-0.6zM351.0 44.6h0.6v0.6h-0.6zM352.0 63.8h0.6v0.6h-0.6zM352.8 61.7h0.6v0.6h-0.6zM360.7 67.8h0.6v0.6h-0.6zM358.4 59.0h0.6v0.6h-0.6zM359.7 64.0h0.6v0.6h-0.6zM355.9 70.8h0.6v0.6h-0.6zM353.2 63.9h0.6v0.6h-0.6zM351.3 58.8h0.6v0.6h-0.6zM363.4 59.7h0.6v0.6h-0.6zM359.2 65.7h0.6v0.6h-0.6zM350.2 68.3h0.6v0.6h-0.6zM352.0 58.0h0.6v0.6h-0.6zM350.1 57.3h0.6v0.6h-0.6zM357.0 64.3h0.6v0.6h-0.6zM355.9 66.0h0.6v0.6h-0.6zM358.0 49.4h0.6v0.6h-0.6zM356.8 56.7h0.6v0.6h-0.6zM357.8 59.9h0.6v0.6h-0.6zM349.3 69.5h0.6v0.6h-0.6zM355.9 72.0h0.6v0.6h-0.6zM355.8 66.1h0.6v0.6h-0.6z"/>
<path fill="#9494b0" fill-opacity="0.6" d="M359.0 49.9h0.6v0.6h-0.6zM355.0 75.1h0.6v0.6h-0.6zM349.9 51.5h0.6v0.6h-0.6zM356.8 55.6h0.6v0.6h-0.6zM357.5 58.0h0.6v0.6h-0.6zM345.6 53.5h0.6v0.6h-0.6zM348.5 43.0h0.6v0.6h-0.6zM357.9 72.4h0.6v0.6h-0.6zM357.4 65.6h0.6v0.6h-0.6zM349.5 79.9h0.6v0.6h-0.6zM359.2 52.7h0.6v0.6h-0.6zM354.4 45.1h0.6v0.6h-0.6zM359.8 72.8h0.6v0.6h-0.6zM352.0 71.8h0.6v0.6h-0.6zM350.8 48.4h0.6v0.6h-0.6zM355.5 71.9h0.6v0.6h-0.6zM358.6 53.9h0.6v0.6h-0.6zM356.4 65.0h0.6v0.6h-0.6zM360.5 61.2h0.6v0.6h-0.6zM356.9 61.0h0.6v0.6h-0.6zM358.2 67.6h0.6v0.6h-0.6zM358.8 45.5h0.6v0.6h-0.6zM358.9 53.2h0.6v0.6h-0.6zM353.9 44.2h0.6v0.6h-0.6zM356.1 57.0h0.6v0.6h-0.6zM350.3 52.5h0.6v0.6h-0.6zM356.8 59.6h0.6v0.6h-0.6zM351.6 57.5h0.6v0.6h-0.6zM358.3 52.7h0.6v0.6h-0.6zM355.4 67.1h0.6v0.6h-0.6zM360.7 67.6h0.6v0.6h-0.6zM355.1 80.7h0.6v0.6h-0.6zM355.4 72.8h0.6v0.6h-0.6zM357.7 64.2h0.6v0.6h-0.6zM351.2 60.6h0.6v0.6h-0.6zM354.6 64.8h0.6v0.6h-0.6zM354.8 59.4h0.6v0.6h-0.6zM358.1 59.1h0.6v0.6h-0.6zM348.5 59.7h0.6v0.6h-0.6zM356.2 51.5h0.6v0.6h-0.6zM352.3 62.1h0.6v0.6h-0.6zM356.0 57.6h0.6v0.6h-0.6zM354.6 77.0h0.6v0.6h-0.6zM366.5 72.3h0.6v0.6h-0.6zM360.7 53.3h0.6v0.6h-0.6zM353.7 51.0h0.6v0.6h-0.6zM349.5 48.0h0.6v0.6h-0.6zM347.2 67.7h0.6v0.6h-0.6zM353.8 55.5h0.6v0.6h-0.6zM360.7 57.4h0.6v0.6h-0.6zM355.8 71.9h0.6v0.6h-0.6zM357.0 71.2h0.6v0.6h-0.6zM353.2 69.9h0.6v0.6h-0.6zM349.6 73.7h0.6v0.6h-0.6zM359.9 54.9h0.6v0.6h-0.6zM357.5 48.7h0.6v0.6h-0.6zM349.9 56.5h0.6v0.6h-0.6zM348.8 47.5h0.6v0.6h-0.6zM359.8 61.2h0.6v0.6h-0.6zM356.9 54.4h0.6v0.6h-0.6zM356.1 58.5h0.6v0.6h-0.6zM351.0 54.8h0.6v0.6h-0.6zM353.7 65.1h0.6v0.6h-0.6zM362.0 61.7h0.6v0.6h-0.6zM357.4 56.6h0.6v0.6h-0.6zM353.3 54.3h0.6v0.6h-0.6zM353.7 67.8h0.6v0.6h-0.6zM356.6 54.4h0.6v0.6h-0.6zM357.5 64.3h0.6v0.6h-0.6zM356.2 60.9h0.6v0.6h-0.6zM351.4 42.0h0.6v0.6h-0.6zM352.0 69.9h0.6v0.6h-0.6zM352.8 48.8h0.6v0.6h-0.6zM355.1 64.0h0.6v0.6h-0.6zM352.0 66.9h0.6v0.6h-0.6zM354.3 60.4h0.6v0.6h-0.6zM357.8 51.0h0.6v0.6h-0.6zM361.0 71.4h0.6v0.6h-0.6zM360.7 56.6h0.6v0.6h-0.6zM349.8 60.9h0.6v0.6h-0.6zM352.1 50.4h0.6v0.6h-0.6zM356.8 46.0h0.6v0.6h-0.6zM358.5 69.7h0.6v0.6h-0.6zM353.2 66.7h0.6v0.6h-0.6zM354.4 62.9h0.6v0.6h-0.6zM357.8 59.8h0.6v0.6h-0.6zM350.0 58.2h0.6v0.6h-0.6zM359.2 60.4h0.6v0.6h-0.6zM354.2 53.6h0.6v0.6h-0.6zM359.5 52.7h0.6v0.6h-0.6zM355.5 67.0h0.6v0.6h-0.6zM357.2 44.8h0.6v0.6h-0.6zM350.5 57.5h0.6v0.6h-0.6zM355.9 41.9h0.6v0.6h-0.6zM355.9 68.7h0.6v0.6h-0.6zM353.3 52.1h0.6v0.6h-0.6zM354.1 57.6h0.6v0.6h-0.6zM356.4 64.8h0.6v0.6h-0.6zM353.8 52.3h0.6v0.6h-0.6zM349.8 51.6h0.6v0.6h-0.6zM359.9 57.0h0.6v0.6h-0.6zM354.5 60.0h0.6v0.6h-0.6zM353.2 61.9h0.6v0.6h-0.6zM360.5 60.8h0.6v0.6h-0.6zM351.5 78.7h0.6v0.6h-0.6zM352.2 67.0h0.6v0.6h-0.6zM361.8 55.6h0.6v0.6h-0.6zM351.2 57.2h0.6v0.6h-0.6zM349.8 73.4h0.6v0.6h-0.6zM356.7 47.7h0.6v0.6h-0.6zM355.5 52.9h0.6v0.6h-0.6zM358.8 61.6h0.6v0.6h-0.6zM357.7 50.9h0.6v0.6h-0.6zM350.9 62.5h0.6v0.6h-0.6zM355.2 64.0h0.6v0.6h-0.6zM352.5 74.1h0.6v0.6h-0.6zM358.1 64.9h0.6v0.6h-0.6zM351.0 65.6h0.6v0.6h-0.6zM354.0 54.0h0.6v0.6h-0.6zM360.8 66.3h0.6v0.6h-0.6zM359.1 58.6h0.6v0.6h-0.6zM348.8 53.4h0.6v0.6h-0.6zM359.8 51.1h0.6v0.6h-0.6zM352.3 53.6h0.6v0.6h-0.6zM350.7 73.0h0.6v0.6h-0.6zM350.6 63.2h0.6v0.6h-0.6zM358.8 62.0h0.6v0.6h-0.6zM355.7 65.7h0.6v0.6h-0.6zM344.9 55.7h0.6v0.6h-0.6zM356.1 58.1h0.6v0.6h-0.6zM349.4 56.8h0.6v0.6h-0.6zM350.8 50.0h0.6v0.6h-0.6zM345.6 75.7h0.6v0.6h-0.6zM357.0 50.5h0.6v0.6h-0.6zM351.6 73.6h0.6v0.6h-0.6zM350.9 42.6h0.6v0.6h-0.6zM355.3 70.8h0.6v0.6h-0.6zM356.1 68.9h0.6v0.6h-0.6zM354.2 64.3h0.6v0.6h-0.6z"/>
<path fill="#80809a" fill-opacity="0.6" d="M352.2 64.8h0.6v0.6h-0.6zM358.5 68.9h0.6v0.6h-0.6zM351.7 59.1h0.6v0.6h-0.6zM351.0 74.1h0.6v0.6h-0.6zM358.0 54.6h0.6v0.6h-0.6zM355.5 43.0h0.6v0.6h-0.6zM354.3 49.9h0.6v0.6h-0.6zM354.5 52.2h0.6v0.6h-0.6zM354.6 61.0h0.6v0.6h-0.6zM356.1 54.6h0.6v0.6h-0.6zM349.7 66.7h0.6v0.6h-0.6zM352.9 71.0h0.6v0.6h-0.6zM356.1 65.9h0.6v0.6h-0.6zM351.0 56.9h0.6v0.6h-0.6zM359.1 55.2h0.6v0.6h-0.6zM346.4 73.6h0.6v0.6h-0.6zM355.4 65.7h0.6v0.6h-0.6zM353.8 45.5h0.6v0.6h-0.6zM361.5 62.6h0.6v0.6h-0.6zM354.0 62.7h0.6v0.6h-0.6zM350.9 60.1h0.6v0.6h-0.6zM358.1 72.5h0.6v0.6h-0.6zM359.1 51.3h0.6v0.6h-0.6zM357.9 74.4h0.6v0.6h-0.6zM359.0 68.9h0.6v0.6h-0.6zM352.9 65.0h0.6v0.6h-0.6zM353.6 63.8h0.6v0.6h-0.6zM353.8 43.4h0.6v0.6h-0.6zM357.6 71.6h0.6v0.6h-0.6zM349.4 68.5h0.6v0.6h-0.6zM353.2 54.6h0.6v0.6h-0.6zM348.6 74.1h0.6v0.6h-0.6zM356.5 72.3h0.6v0.6h-0.6zM360.5 57.9h0.6v0.6h-0.6zM352.9 49.6h0.6v0.6h-0.6zM363.6 57.0h0.6v0.6h-0.6zM348.3 58.9h0.6v0.6h-0.6zM347.0 55.1h0.6v0.6h-0.6zM360.1 46.5h0.6v0.6h-0.6zM358.9 57.3h0.6v0.6h-0.6zM351.0 59.2h0.6v0.6h-0.6zM353.7 59.0h0.6v0.6h-0.6zM346.3 59.6h0.6v0.6h-0.6zM356.7 52.4h0.6v0.6h-0.6zM355.5 49.0h0.6v0.6h-0.6zM350.1 62.7h0.6v0.6h-0.6zM351.0 58.8h0.6v0.6h-0.6zM363.0 65.6h0.6v0.6h-0.6zM353.0 71.1h0.6v0.6h-0.6zM360.7 53.6h0.6v0.6h-0.6zM362.5 48.5h0.6v0.6h-0.6zM359.1 55.0h0.6v0.6h-0.6zM355.0 59.5h0.6v0.6h-0.6zM350.4 47.7h0.6v0.6h-0.6zM354.7 68.2h0.6v0.6h-0.6zM357.7 45.7h0.6v0.6h-0.6zM358.3 60.6h0.6v0.6h-0.6zM353.3 69.5h0.6v0.6h-0.6zM359.1 58.8h0.6v0.6h-0.6zM355.2 75.1h0.6v0.6h-0.6zM362.5 68.5h0.6v0.6h-0.6zM350.9 63.2h0.6v0.6h-0.6zM358.8 53.5h0.6v0.6h-0.6zM356.2 44.4h0.6v0.6h-0.6zM355.1 59.6h0.6v0.6h-0.6zM358.8 56.3h0.6v0.6h-0.6zM350.6 56.2h0.6v0.6h-0.6zM353.2 64.0h0.6v0.6h-0.6zM353.9 59.7h0.6v0.6h-0.6zM359.4 63.6h0.6v0.6h-0.6zM357.4 49.1h0.6v0.6h-0.6zM352.7 61.2h0.6v0.6h-0.6zM355.6 59.6h0.6v0.6h-0.6zM348.3 71.1h0.6v0.6h-0.6zM359.0 52.2h0.6v0.6h-0.6zM355.2 60.6h0.6v0.6h-0.6zM359.7 65.2h0.6v0.6h-0.6zM357.4 58.4h0.6v0.6h-0.6zM355.6 52.3h0.6v0.6h-0.6zM358.8 74.5h0.6v0.6h-0.6zM359.4 54.2h0.6v0.6h-0.6zM344.8 54.5h0.6v0.6h-0.6zM349.7 64.6h0.6v0.6h-0.6zM359.1 69.1h0.6v0.6h-0.6zM345.3 70.2h0.6v0.6h-0.6zM353.8 57.3h0.6v0.6h-0.6zM359.3 57.3h0.6v0.6h-0.6zM352.9 49.1h0.6v0.6h-0.6zM355.1 57.9h0.6v0.6h-0.6zM360.5 56.2h0.6v0.6h-0.6zM357.8 67.6h0.6v0.6h-0.6zM349.7 57.0h0.6v0.6h-0.6zM349.6 59.7h0.6v0.6h-0.6zM357.3 57.2h0.6v0.6h-0.6zM357.9 76.3h0.6v0.6h-0.6zM349.2 50.5h0.6v0.6h-0.6zM348.7 60.2h0.6v0.6h-0.6zM350.7 74.2h0.6v0.6h-0.6zM356.7 55.7h0.6v0.6h-0.6zM348.3 57.2h0.6v0.6h-0.6zM358.7 54.7h0.6v0.6h-0.6zM354.8 55.8h0.6v0.6h-0.6zM354.4 47.8h0.6v0.6h-0.6zM357.0 74.2h0.6v0.6h-0.6zM354.3 60.6h0.6v0.6h-0.6zM350.6 63.7h0.6v0.6h-0.6zM351.3 52.0h0.6v0.6h-0.6zM355.6 76.7h0.6v0.6h-0.6zM351.5 69.4h0.6v0.6h-0.6zM355.6 52.0h0.6v0.6h-0.6zM349.9 72.1h0.6v0.6h-0.6zM354.3 66.9h0.6v0.6h-0.6zM353.2 75.3h0.6v0.6h-0.6zM355.8 48.9h0.6v0.6h-0.6zM352.0 55.4h0.6v0.6h-0.6zM348.2 59.3h0.6v0.6h-0.6zM359.4 65.1h0.6v0.6h-0.6zM350.8 52.8h0.6v0.6h-0.6zM355.7 46.1h0.6v0.6h-0.6zM347.8 56.7h0.6v0.6h-0.6zM348.3 62.5h0.6v0.6h-0.6zM355.9 53.1h0.6v0.6h-0.6zM361.5 67.4h0.6v0.6h-0.6zM354.8 63.8h0.6v0.6h-0.6zM357.8 77.3h0.6v0.6h-0.6zM351.9 65.7h0.6v0.6h-0.6zM354.1 67.5h0.6v0.6h-0.6zM356.8 54.2h0.6v0.6h-0.6zM357.8 51.3h0.6v0.6h-0.6zM353.8 67.5h0.6v0.6h-0.6zM345.0 65.0h0.6v0.6h-0.6zM353.7 58.5h0.6v0.6h-0.6zM365.4 63.3h0.6v0.6h-0.6zM348.1 60.4h0.6v0.6h-0.6zM357.6 71.9h0.6v0.6h-0.6zM362.3 54.3h0.6v0.6h-0.6zM350.9 67.0h0.6v0.6h-0.6zM358.2 61.5h0.6v0.6h-0.6zM353.6 50.9h0.6v0.6h-0.6zM362.9 53.6h0.6v0.6h-0.6zM359.0 77.0h0.6v0.6h-0.6zM359.9 73.6h0.6v0.6h-0.6zM355.7 54.7h0.6v0.6h-0.6zM352.3 60.6h0.6v0.6h-0.6zM350.5 64.2h0.6v0.6h-0.6zM364.6 58.5h0.6v0.6h-0.6zM359.5 75.9h0.6v0.6h-0.6zM351.4 45.5h0.6v0.6h-0.6zM355.5 77.7h0.6v0.6h-0.6zM360.0 46.7h0.6v0.6h-0.6zM350.4 72.1h0.6v0.6h-0.6zM352.0 68.0h0.6v0.6h-0.6zM349.8 59.0h0.6v0.6h-0.6zM359.7 61.2h0.6v0.6h-0.6zM348.5 68.6h0.6v0.6h-0.6zM362.3 69.5h0.6v0.6h-0.6zM350.6 56.5h0.6v0.6h-0.6zM366.8 71.5h0.6v0.6h-0.6zM363.1 55.0h0.6v0.6h-0.6zM359.5 50.7h0.6v0.6h-0.6zM350.8 70.7h0.6v0.6h-0.6zM346.3 69.2h0.6v0.6h-0.6zM355.7 80.8h0.6v0.6h-0.6z"/>
<path fill="#6a6a84" fill-opacity="0.6" d="M354.0 44.4h0.6v0.6h-0.6zM360.4 53.5h0.6v0.6h-0.6zM353.8 69.5h0.6v0.6h-0.6zM357.3 55.3h0.6v0.6h-0.6zM354.9 55.9h0.6v0.6h-0.6zM351.5 54.5h0.6v0.6h-0.6zM355.8 57.6h0.6v0.6h-0.6zM355.2 53.4h0.6v0.6h-0.6zM358.5 45.7h0.6v0.6h-0.6zM358.0 58.2h0.6v0.6h-0.6zM357.0 57.4h0.6v0.6h-0.6zM356.5 45.0h0.6v0.6h-0.6zM352.8 57.2h0.6v0.6h-0.6zM355.3 54.8h0.6v0.6h-0.6zM354.2 57.0h0.6v0.6h-0.6zM360.5 52.5h0.6v0.6h-0.6zM353.3 55.2h0.6v0.6h-0.6zM358.5 51.5h0.6v0.6h-0.6zM352.4 54.9h0.6v0.6h-0.6zM357.9 57.4h0.6v0.6h-0.6zM352.5 59.3h0.6v0.6h-0.6zM352.5 58.6h0.6v0.6h-0.6zM357.2 59.4h0.6v0.6h-0.6zM354.1 60.8h0.6v0.6h-0.6zM354.3 48.8h0.6v0.6h-0.6zM357.0 61.3h0.6v0.6h-0.6zM351.0 59.1h0.6v0.6h-0.6zM344.8 48.0h0.6v0.6h-0.6zM357.0 57.9h0.6v0.6h-0.6zM355.0 56.1h0.6v0.6h-0.6zM353.4 53.6h0.6v0.6h-0.6zM352.1 57.1h0.6v0.6h-0.6zM355.7 52.4h0.6v0.6h-0.6zM360.1 63.7h0.6v0.6h-0.6zM350.7 54.8h0.6v0.6h-0.6zM354.3 52.6h0.6v0.6h-0.6zM355.8 52.8h0.6v0.6h-0.6zM354.5 55.1h0.6v0.6h-0.6zM353.4 53.3h0.6v0.6h-0.6zM352.6 46.7h0.6v0.6h-0.6zM355.6 50.6h0.6v0.6h-0.6zM353.2 52.0h0.6v0.6h-0.6zM354.8 52.6h0.6v0.6h-0.6z"/>
<path fill="#66668a" fill-opacity="0.6" d="M356.0 58.1h0.6v0.6h-0.6zM356.4 63.0h0.6v0.6h-0.6zM353.2 67.7h0.6v0.6h-0.6zM355.8 46.8h0.6v0.6h-0.6zM352.8 48.1h0.6v0.6h-0.6zM353.6 58.5h0.6v0.6h-0.6zM356.5 55.5h0.6v0.6h-0.6zM349.6 62.1h0.6v0.6h-0.6zM359.7 56.8h0.6v0.6h-0.6zM358.8 52.7h0.6v0.6h-0.6zM354.7 53.5h0.6v0.6h-0.6zM354.4 68.8h0.6v0.6h-0.6zM351.3 41.7h0.6v0.6h-0.6zM354.4 49.1h0.6v0.6h-0.6zM353.7 52.1h0.6v0.6h-0.6zM350.4 56.5h0.6v0.6h-0.6zM357.3 56.6h0.6v0.6h-0.6zM351.0 62.9h0.6v0.6h-0.6zM350.5 63.5h0.6v0.6h-0.6zM349.1 49.1h0.6v0.6h-0.6zM350.0 51.2h0.6v0.6h-0.6zM356.1 55.2h0.6v0.6h-0.6zM357.6 64.3h0.6v0.6h-0.6zM353.7 56.7h0.6v0.6h-0.6zM354.3 58.9h0.6v0.6h-0.6zM354.0 59.5h0.6v0.6h-0.6zM356.9 55.2h0.6v0.6h-0.6zM358.9 67.2h0.6v0.6h-0.6zM356.5 56.2h0.6v0.6h-0.6zM350.6 63.0h0.6v0.6h-0.6zM351.7 51.2h0.6v0.6h-0.6zM355.6 53.9h0.6v0.6h-0.6zM356.3 54.5h0.6v0.6h-0.6zM356.8 58.8h0.6v0.6h-0.6zM353.1 54.9h0.6v0.6h-0.6zM360.6 45.2h0.6v0.6h-0.6zM352.6 60.0h0.6v0.6h-0.6zM355.5 61.5h0.6v0.6h-0.6zM350.9 53.0h0.6v0.6h-0.6zM356.2 54.9h0.6v0.6h-0.6zM353.3 57.2h0.6v0.6h-0.6zM360.3 52.4h0.6v0.6h-0.6zM350.8 49.2h0.6v0.6h-0.6zM353.9 59.7h0.6v0.6h-0.6zM354.6 66.3h0.6v0.6h-0.6zM354.5 62.0h0.6v0.6h-0.6zM349.3 60.2h0.6v0.6h-0.6zM361.0 48.1h0.6v0.6h-0.6zM352.7 59.9h0.6v0.6h-0.6z"/>
<path fill="#505070" fill-opacity="0.6" d="M358.0 55.5h0.6v0.6h-0.6zM351.4 54.9h0.6v0.6h-0.6zM358.7 53.2h0.6v0.6h-0.6zM352.6 60.0h0.6v0.6h-0.6zM356.3 61.8h0.6v0.6h-0.6zM356.7 52.7h0.6v0.6h-0.6zM349.0 50.4h0.6v0.6h-0.6zM353.6 58.1h0.6v0.6h-0.6zM354.1 57.6h0.6v0.6h-0.6zM356.6 58.8h0.6v0.6h-0.6zM351.2 61.5h0.6v0.6h-0.6zM356.6 62.5h0.6v0.6h-0.6zM358.9 62.7h0.6v0.6h-0.6zM356.4 55.0h0.6v0.6h-0.6zM356.4 52.7h0.6v0.6h-0.6zM355.4 60.9h0.6v0.6h-0.6zM354.1 53.0h0.6v0.6h-0.6zM353.5 52.8h0.6v0.6h-0.6zM356.9 53.2h0.6v0.6h-0.6zM351.7 56.1h0.6v0.6h-0.6zM351.0 53.7h0.6v0.6h-0.6zM355.8 67.4h0.6v0.6h-0.6zM353.1 60.1h0.6v0.6h-0.6zM354.1 57.7h0.6v0.6h-0.6zM354.3 58.3h0.6v0.6h-0.6zM348.5 63.2h0.6v0.6h-0.6zM354.5 61.7h0.6v0.6h-0.6zM348.8 66.7h0.6v0.6h-0.6zM356.2 61.0h0.6v0.6h-0.6zM355.2 50.8h0.6v0.6h-0.6zM354.8 57.8h0.6v0.6h-0.6zM355.0 58.3h0.6v0.6h-0.6zM350.5 54.9h0.6v0.6h-0.6zM351.3 51.2h0.6v0.6h-0.6zM357.4 56.0h0.6v0.6h-0.6zM349.8 58.9h0.6v0.6h-0.6zM351.3 55.5h0.6v0.6h-0.6zM350.6 67.5h0.6v0.6h-0.6zM353.6 50.3h0.6v0.6h-0.6zM357.9 50.3h0.6v0.6h-0.6zM357.0 56.7h0.6v0.6h-0.6zM354.3 63.3h0.6v0.6h-0.6zM361.9 58.0h0.6v0.6h-0.6zM355.5 59.7h0.6v0.6h-0.6zM352.9 54.8h0.6v0.6h-0.6zM351.7 55.7h0.6v0.6h-0.6zM353.2 66.9h0.6v0.6h-0.6zM356.7 52.7h0.6v0.6h-0.6zM349.0 57.1h0.6v0.6h-0.6zM355.5 64.2h0.6v0.6h-0.6zM353.2 44.0h0.6v0.6h-0.6zM355.7 51.0h0.6v0.6h-0.6zM353.9 49.6h0.6v0.6h-0.6zM351.4 50.9h0.6v0.6h-0.6zM355.2 53.7h0.6v0.6h-0.6z"/>
<path fill="#5a5a78" fill-opacity="0.6" d="M353.9 53.2h0.6v0.6h-0.6zM353.5 57.7h0.6v0.6h-0.6zM355.3 67.4h0.6v0.6h-0.6zM351.5 47.1h0.6v0.6h-0.6zM362.8 56.6h0.6v0.6h-0.6zM351.9 48.1h0.6v0.6h-0.6zM353.5 57.3h0.6v0.6h-0.6zM352.5 60.0h0.6v0.6h-0.6zM352.6 50.8h0.6v0.6h-0.6zM353.1 57.9h0.6v0.6h-0.6zM355.8 53.5h0.6v0.6h-0.6zM354.4 45.7h0.6v0.6h-0.6zM351.3 57.4h0.6v0.6h-0.6zM350.3 60.9h0.6v0.6h-0.6zM351.6 60.4h0.6v0.6h-0.6zM354.5 66.1h0.6v0.6h-0.6zM351.5 51.5h0.6v0.6h-0.6zM357.6 55.9h0.6v0.6h-0.6zM351.7 57.0h0.6v0.6h-0.6zM351.6 45.4h0.6v0.6h-0.6zM358.2 57.7h0.6v0.6h-0.6zM355.0 61.1h0.6v0.6h-0.6zM356.1 60.1h0.6v0.6h-0.6zM354.6 67.8h0.6v0.6h-0.6zM358.4 49.8h0.6v0.6h-0.6zM355.5 52.0h0.6v0.6h-0.6zM354.8 59.0h0.6v0.6h-0.6zM351.0 51.8h0.6v0.6h-0.6zM353.7 50.1h0.6v0.6h-0.6zM355.5 60.7h0.6v0.6h-0.6zM359.3 55.3h0.6v0.6h-0.6zM356.2 53.4h0.6v0.6h-0.6zM351.8 48.9h0.6v0.6h-0.6zM353.2 46.4h0.6v0.6h-0.6zM359.9 59.7h0.6v0.6h-0.6zM356.3 53.4h0.6v0.6h-0.6zM350.7 64.7h0.6v0.6h-0.6zM351.1 54.3h0.6v0.6h-0.6zM360.9 50.0h0.6v0.6h-0.6zM359.9 52.5h0.6v0.6h-0.6zM357.2 65.1h0.6v0.6h-0.6zM352.7 60.8h0.6v0.6h-0.6zM355.8 65.4h0.6v0.6h-0.6zM359.0 57.0h0.6v0.6h-0.6zM353.8 50.3h0.6v0.6h-0.6zM355.8 55.8h0.6v0.6h-0.6zM354.1 56.3h0.6v0.6h-0.6zM356.1 66.2h0.6v0.6h-0.6z"/>
<path fill="#7a7a98" fill-opacity="0.5" d="M374.8 83.2h0.6v0.6h-0.6zM377.6 85.1h0.6v0.6h-0.6zM372.4 79.7h0.6v0.6h-0.6zM375.4 77.2h0.6v0.6h-0.6zM387.1 83.9h0.6v0.6h-0.6zM369.7 84.2h0.6v0.6h-0.6zM384.7 65.5h0.6v0.6h-0.6zM357.5 60.6h0.6v0.6h-0.6zM370.4 66.3h0.6v0.6h-0.6zM374.7 79.6h0.6v0.6h-0.6zM382.2 80.7h0.6v0.6h-0.6zM383.0 70.7h0.6v0.6h-0.6zM376.0 80.7h0.6v0.6h-0.6zM368.8 85.0h0.6v0.6h-0.6zM374.1 81.2h0.6v0.6h-0.6zM380.4 83.5h0.6v0.6h-0.6zM382.8 89.9h0.6v0.6h-0.6zM370.9 88.0h0.6v0.6h-0.6zM373.8 70.7h0.6v0.6h-0.6zM375.9 90.6h0.6v0.6h-0.6zM380.4 77.5h0.6v0.6h-0.6zM372.6 81.3h0.6v0.6h-0.6z"/>
<path fill="#8a8aa8" fill-opacity="0.5" d="M371.6 72.5h0.6v0.6h-0.6zM381.2 74.3h0.6v0.6h-0.6zM370.7 75.8h0.6v0.6h-0.6zM379.0 83.0h0.6v0.6h-0.6zM390.5 76.7h0.6v0.6h-0.6zM368.5 60.8h0.6v0.6h-0.6zM375.5 90.4h0.6v0.6h-0.6zM370.8 69.0h0.6v0.6h-0.6zM384.7 72.5h0.6v0.6h-0.6zM371.2 76.3h0.6v0.6h-0.6zM379.5 76.7h0.6v0.6h-0.6zM370.3 77.1h0.6v0.6h-0.6zM386.7 79.5h0.6v0.6h-0.6zM382.2 83.4h0.6v0.6h-0.6zM366.0 74.0h0.6v0.6h-0.6zM382.6 70.8h0.6v0.6h-0.6zM371.4 66.4h0.6v0.6h-0.6zM360.1 59.9h0.6v0.6h-0.6zM382.6 65.2h0.6v0.6h-0.6zM380.4 86.3h0.6v0.6h-0.6zM361.9 78.4h0.6v0.6h-0.6z"/>
<path fill="#6c6c88" fill-opacity="0.5" d="M377.0 88.9h0.6v0.6h-0.6zM377.1 90.6h0.6v0.6h-0.6zM367.8 81.1h0.6v0.6h-0.6zM380.4 57.2h0.6v0.6h-0.6zM379.0 87.3h0.6v0.6h-0.6zM375.8 90.9h0.6v0.6h-0.6zM378.9 70.7h0.6v0.6h-0.6zM375.1 84.0h0.6v0.6h-0.6zM377.4 84.4h0.6v0.6h-0.6zM377.0 90.0h0.6v0.6h-0.6zM371.9 72.2h0.6v0.6h-0.6zM367.5 72.1h0.6v0.6h-0.6zM368.6 72.0h0.6v0.6h-0.6zM372.9 90.3h0.6v0.6h-0.6z"/>
<path fill="#80809a" fill-opacity="0.5" d="M379.7 62.5h0.6v0.6h-0.6zM375.9 72.4h0.6v0.6h-0.6zM385.3 81.5h0.6v0.6h-0.6zM377.1 57.9h0.6v0.6h-0.6zM381.1 84.3h0.6v0.6h-0.6zM370.5 63.0h0.6v0.6h-0.6zM381.2 71.1h0.6v0.6h-0.6zM377.6 73.0h0.6v0.6h-0.6zM372.4 88.7h0.6v0.6h-0.6zM371.2 77.2h0.6v0.6h-0.6zM375.1 73.8h0.6v0.6h-0.6zM371.9 76.6h0.6v0.6h-0.6zM375.7 77.5h0.6v0.6h-0.6zM369.4 62.8h0.6v0.6h-0.6zM381.4 85.8h0.6v0.6h-0.6zM372.9 76.4h0.6v0.6h-0.6zM379.6 89.2h0.6v0.6h-0.6zM375.1 87.6h0.6v0.6h-0.6zM378.2 74.2h0.6v0.6h-0.6zM375.3 76.0h0.6v0.6h-0.6zM377.6 79.2h0.6v0.6h-0.6zM380.9 82.3h0.6v0.6h-0.6zM374.4 82.7h0.6v0.6h-0.6zM373.9 68.8h0.6v0.6h-0.6zM377.2 58.0h0.6v0.6h-0.6z"/>
<path fill="#9494b0" fill-opacity="0.5" d="M382.1 71.2h0.6v0.6h-0.6zM365.8 83.6h0.6v0.6h-0.6zM371.2 85.8h0.6v0.6h-0.6zM381.2 72.6h0.6v0.6h-0.6zM375.0 79.4h0.6v0.6h-0.6zM380.1 82.6h0.6v0.6h-0.6zM379.4 88.7h0.6v0.6h-0.6zM372.8 80.9h0.6v0.6h-0.6zM382.7 69.7h0.6v0.6h-0.6zM374.7 73.9h0.6v0.6h-0.6zM383.6 86.9h0.6v0.6h-0.6zM388.0 82.6h0.6v0.6h-0.6zM369.5 79.9h0.6v0.6h-0.6zM371.0 61.0h0.6v0.6h-0.6zM390.0 81.6h0.6v0.6h-0.6zM377.8 73.6h0.6v0.6h-0.6zM378.5 70.7h0.6v0.6h-0.6zM383.2 78.1h0.6v0.6h-0.6zM379.3 79.3h0.6v0.6h-0.6zM382.3 78.3h0.6v0.6h-0.6zM381.9 77.2h0.6v0.6h-0.6zM391.3 86.6h0.6v0.6h-0.6zM370.5 72.9h0.6v0.6h-0.6zM381.8 82.1h0.6v0.6h-0.6z"/>
<path fill="#505070" fill-opacity="0.7" d="M387.9 61.7h0.6v0.6h-0.6zM386.9 62.7h0.6v0.6h-0.6zM388.5 60.1h0.6v0.6h-0.6zM389.2 73.6h0.6v0.6h-0.6zM388.8 89.7h0.6v0.6h-0.6zM388.7 77.3h0.6v0.6h-0.6zM389.2 91.1h0.6v0.6h-0.6zM386.9 44.2h0.6v0.6h-0.6zM387.7 79.3h0.6v0.6h-0.6zM387.3 74.4h0.6v0.6h-0.6zM386.3 93.0h0.6v0.6h-0.6zM388.4 84.8h0.6v0.6h-0.6zM386.8 46.0h0.6v0.6h-0.6zM390.7 92.9h0.6v0.6h-0.6zM388.6 69.4h0.6v0.6h-0.6zM386.7 80.8h0.6v0.6h-0.6zM388.7 76.0h0.6v0.6h-0.6zM388.3 73.7h0.6v0.6h-0.6zM388.3 72.2h0.6v0.6h-0.6zM386.7 74.6h0.6v0.6h-0.6zM387.6 69.9h0.6v0.6h-0.6zM386.5 62.5h0.6v0.6h-0.6zM387.1 80.2h0.6v0.6h-0.6zM388.8 83.3h0.6v0.6h-0.6zM387.3 49.9h0.6v0.6h-0.6zM388.0 88.8h0.6v0.6h-0.6zM385.2 45.2h0.6v0.6h-0.6zM388.4 92.4h0.6v0.6h-0.6zM389.6 67.3h0.6v0.6h-0.6zM386.9 45.1h0.6v0.6h-0.6zM386.9 68.6h0.6v0.6h-0.6zM388.2 80.1h0.6v0.6h-0.6zM385.5 75.1h0.6v0.6h-0.6zM387.1 93.5h0.6v0.6h-0.6zM390.2 83.7h0.6v0.6h-0.6zM387.5 45.5h0.6v0.6h-0.6zM388.4 82.0h0.6v0.6h-0.6zM388.7 68.4h0.6v0.6h-0.6zM389.7 45.1h0.6v0.6h-0.6zM387.2 63.6h0.6v0.6h-0.6zM388.4 93.6h0.6v0.6h-0.6zM388.4 74.8h0.6v0.6h-0.6zM388.7 78.1h0.6v0.6h-0.6zM387.1 78.2h0.6v0.6h-0.6zM389.6 47.0h0.6v0.6h-0.6zM387.9 47.3h0.6v0.6h-0.6zM386.7 89.1h0.6v0.6h-0.6zM387.0 88.3h0.6v0.6h-0.6zM387.7 79.9h0.6v0.6h-0.6zM387.7 87.0h0.6v0.6h-0.6zM386.1 80.2h0.6v0.6h-0.6zM386.9 78.6h0.6v0.6h-0.6zM387.9 61.0h0.6v0.6h-0.6zM388.4 94.2h0.6v0.6h-0.6zM386.9 65.2h0.6v0.6h-0.6zM387.6 71.1h0.6v0.6h-0.6zM388.6 79.0h0.6v0.6h-0.6zM388.8 82.6h0.6v0.6h-0.6zM388.3 87.8h0.6v0.6h-0.6zM387.5 87.6h0.6v0.6h-0.6zM387.8 75.3h0.6v0.6h-0.6zM387.3 86.5h0.6v0.6h-0.6zM390.3 92.0h0.6v0.6h-0.6zM386.9 82.8h0.6v0.6h-0.6zM386.5 74.4h0.6v0.6h-0.6zM388.6 52.3h0.6v0.6h-0.6zM387.7 90.0h0.6v0.6h-0.6zM386.3 88.4h0.6v0.6h-0.6zM389.1 86.8h0.6v0.6h-0.6zM389.9 71.4h0.6v0.6h-0.6zM389.9 79.8h0.6v0.6h-0.6zM388.5 43.5h0.6v0.6h-0.6zM387.4 93.3h0.6v0.6h-0.6zM387.8 47.6h0.6v0.6h-0.6zM388.8 80.8h0.6v0.6h-0.6zM389.9 89.3h0.6v0.6h-0.6z"/>
<path fill="#66668a" fill-opacity="0.7" d="M388.9 80.9h0.6v0.6h-0.6zM388.0 65.0h0.6v0.6h-0.6zM389.6 75.6h0.6v0.6h-0.6zM387.1 55.5h0.6v0.6h-0.6zM387.7 82.3h0.6v0.6h-0.6zM386.2 53.9h0.6v0.6h-0.6zM387.0 53.6h0.6v0.6h-0.6zM387.5 77.0h0.6v0.6h-0.6zM388.1 45.8h0.6v0.6h-0.6zM387.5 81.0h0.6v0.6h-0.6zM387.6 87.4h0.6v0.6h-0.6zM389.1 82.8h0.6v0.6h-0.6zM388.4 56.7h0.6v0.6h-0.6zM386.5 77.2h0.6v0.6h-0.6zM389.1 62.3h0.6v0.6h-0.6zM389.4 86.0h0.6v0.6h-0.6zM388.1 70.1h0.6v0.6h-0.6zM387.8 63.2h0.6v0.6h-0.6zM387.2 81.1h0.6v0.6h-0.6zM389.5 83.4h0.6v0.6h-0.6zM388.0 65.0h0.6v0.6h-0.6zM386.6 58.0h0.6v0.6h-0.6zM386.2 58.1h0.6v0.6h-0.6zM388.5 52.1h0.6v0.6h-0.6zM389.5 88.6h0.6v0.6h-0.6zM389.1 55.8h0.6v0.6h-0.6zM387.3 60.4h0.6v0.6h-0.6zM387.0 90.4h0.6v0.6h-0.6zM388.4 72.8h0.6v0.6h-0.6zM389.2 70.5h0.6v0.6h-0.6zM386.3 87.4h0.6v0.6h-0.6zM387.1 79.6h0.6v0.6h-0.6zM387.7 82.4h0.6v0.6h-0.6zM385.9 75.9h0.6v0.6h-0.6zM387.0 76.9h0.6v0.6h-0.6zM389.3 69.3h0.6v0.6h-0.6zM387.8 83.8h0.6v0.6h-0.6zM389.0 92.1h0.6v0.6h-0.6zM387.5 80.7h0.6v0.6h-0.6zM387.7 86.3h0.6v0.6h-0.6zM388.5 67.8h0.6v0.6h-0.6zM388.0 50.5h0.6v0.6h-0.6zM389.1 52.2h0.6v0.6h-0.6zM386.1 85.5h0.6v0.6h-0.6zM387.4 51.5h0.6v0.6h-0.6zM388.4 93.2h0.6v0.6h-0.6zM388.1 81.9h0.6v0.6h-0.6zM388.1 56.5h0.6v0.6h-0.6zM386.8 45.9h0.6v0.6h-0.6zM388.3 77.7h0.6v0.6h-0.6zM387.4 91.8h0.6v0.6h-0.6zM386.3 44.8h0.6v0.6h-0.6zM388.5 79.6h0.6v0.6h-0.6zM388.2 92.2h0.6v0.6h-0.6zM387.9 61.4h0.6v0.6h-0.6zM387.9 76.4h0.6v0.6h-0.6zM386.9 67.0h0.6v0.6h-0.6zM388.3 92.0h0.6v0.6h-0.6zM386.1 49.3h0.6v0.6h-0.6zM387.7 85.8h0.6v0.6h-0.6zM390.5 93.1h0.6v0.6h-0.6zM387.0 46.6h0.6v0.6h-0.6zM385.8 83.2h0.6v0.6h-0.6zM388.2 58.0h0.6v0.6h-0.6zM388.3 88.5h0.6v0.6h-0.6zM388.6 69.2h0.6v0.6h-0.6zM385.9 59.2h0.6v0.6h-0.6zM389.0 77.3h0.6v0.6h-0.6zM387.3 48.5h0.6v0.6h-0.6zM387.0 67.1h0.6v0.6h-0.6zM387.8 79.7h0.6v0.6h-0.6zM388.4 53.7h0.6v0.6h-0.6zM389.5 86.3h0.6v0.6h-0.6zM388.2 57.7h0.6v0.6h-0.6zM388.7 65.2h0.6v0.6h-0.6zM388.4 68.9h0.6v0.6h-0.6zM389.0 52.3h0.6v0.6h-0.6zM388.0 77.0h0.6v0.6h-0.6zM389.4 91.6h0.6v0.6h-0.6zM387.4 53.2h0.6v0.6h-0.6zM387.6 76.8h0.6v0.6h-0.6zM388.5 60.1h0.6v0.6h-0.6zM387.5 92.7h0.6v0.6h-0.6zM386.9 82.5h0.6v0.6h-0.6zM388.8 91.0h0.6v0.6h-0.6zM387.4 66.0h0.6v0.6h-0.6zM388.8 56.4h0.6v0.6h-0.6zM388.6 50.4h0.6v0.6h-0.6zM390.1 45.8h0.6v0.6h-0.6zM389.8 67.2h0.6v0.6h-0.6z"/>
<path fill="#5a5a78" fill-opacity="0.7" d="M387.1 58.5h0.6v0.6h-0.6zM387.2 70.6h0.6v0.6h-0.6zM387.7 89.6h0.6v0.6h-0.6zM388.0 58.8h0.6v0.6h-0.6zM387.1 62.7h0.6v0.6h-0.6zM386.7 59.1h0.6v0.6h-0.6zM389.1 74.2h0.6v0.6h-0.6zM387.6 93.3h0.6v0.6h-0.6zM387.3 90.6h0.6v0.6h-0.6zM388.0 66.6h0.6v0.6h-0.6zM386.4 47.4h0.6v0.6h-0.6zM388.9 61.4h0.6v0.6h-0.6zM387.9 76.0h0.6v0.6h-0.6zM386.6 76.9h0.6v0.6h-0.6zM387.2 91.0h0.6v0.6h-0.6zM387.6 58.4h0.6v0.6h-0.6zM389.1 81.4h0.6v0.6h-0.6zM386.4 57.4h0.6v0.6h-0.6zM387.9 72.5h0.6v0.6h-0.6zM387.5 86.2h0.6v0.6h-0.6zM386.9 53.8h0.6v0.6h-0.6zM387.3 57.5h0.6v0.6h-0.6zM387.8 66.7h0.6v0.6h-0.6zM387.1 69.2h0.6v0.6h-0.6zM387.6 57.0h0.6v0.6h-0.6zM388.3 74.1h0.6v0.6h-0.6zM386.2 89.7h0.6v0.6h-0.6zM388.2 64.9h0.6v0.6h-0.6zM388.2 81.8h0.6v0.6h-0.6zM387.3 76.6h0.6v0.6h-0.6zM388.5 74.1h0.6v0.6h-0.6zM388.0 41.8h0.6v0.6h-0.6zM388.9 58.9h0.6v0.6h-0.6zM386.9 72.1h0.6v0.6h-0.6zM388.2 93.8h0.6v0.6h-0.6zM386.6 67.8h0.6v0.6h-0.6zM386.5 75.7h0.6v0.6h-0.6zM389.3 49.8h0.6v0.6h-0.6zM389.4 74.0h0.6v0.6h-0.6zM388.8 78.1h0.6v0.6h-0.6zM386.4 83.5h0.6v0.6h-0.6zM389.9 50.5h0.6v0.6h-0.6zM389.2 67.8h0.6v0.6h-0.6zM388.4 77.5h0.6v0.6h-0.6zM386.6 59.6h0.6v0.6h-0.6zM388.4 77.0h0.6v0.6h-0.6zM387.5 79.3h0.6v0.6h-0.6zM386.8 66.2h0.6v0.6h-0.6zM390.0 93.4h0.6v0.6h-0.6zM389.3 83.7h0.6v0.6h-0.6zM386.6 87.2h0.6v0.6h-0.6zM386.5 91.4h0.6v0.6h-0.6zM388.2 87.7h0.6v0.6h-0.6zM387.9 88.0h0.6v0.6h-0.6zM386.5 60.5h0.6v0.6h-0.6zM389.2 79.3h0.6v0.6h-0.6zM388.6 89.6h0.6v0.6h-0.6zM389.3 92.3h0.6v0.6h-0.6zM387.1 67.0h0.6v0.6h-0.6zM389.4 81.6h0.6v0.6h-0.6zM388.3 75.1h0.6v0.6h-0.6zM388.4 74.2h0.6v0.6h-0.6zM387.6 85.1h0.6v0.6h-0.6zM388.2 60.4h0.6v0.6h-0.6zM390.1 78.4h0.6v0.6h-0.6zM386.1 88.4h0.6v0.6h-0.6zM387.3 59.5h0.6v0.6h-0.6zM388.4 59.2h0.6v0.6h-0.6zM386.0 64.5h0.6v0.6h-0.6zM387.3 71.3h0.6v0.6h-0.6zM388.2 52.9h0.6v0.6h-0.6zM388.6 81.9h0.6v0.6h-0.6zM388.4 49.3h0.6v0.6h-0.6zM388.0 90.0h0.6v0.6h-0.6zM386.2 43.4h0.6v0.6h-0.6zM387.4 67.4h0.6v0.6h-0.6zM387.1 55.0h0.6v0.6h-0.6zM386.9 52.8h0.6v0.6h-0.6zM388.1 66.8h0.6v0.6h-0.6zM387.1 81.6h0.6v0.6h-0.6zM386.1 92.1h0.6v0.6h-0.6zM386.2 91.4h0.6v0.6h-0.6zM388.0 70.8h0.6v0.6h-0.6zM388.9 81.0h0.6v0.6h-0.6zM388.1 83.7h0.6v0.6h-0.6zM388.4 94.1h0.6v0.6h-0.6zM387.3 67.3h0.6v0.6h-0.6zM388.1 94.0h0.6v0.6h-0.6zM386.6 79.9h0.6v0.6h-0.6zM389.0 82.5h0.6v0.6h-0.6zM386.5 71.9h0.6v0.6h-0.6zM386.4 82.8h0.6v0.6h-0.6zM387.4 50.1h0.6v0.6h-0.6zM385.0 77.2h0.6v0.6h-0.6zM388.8 65.8h0.6v0.6h-0.6zM385.6 94.0h0.6v0.6h-0.6zM388.9 73.9h0.6v0.6h-0.6zM386.3 79.1h0.6v0.6h-0.6zM389.1 72.1h0.6v0.6h-0.6zM387.1 92.3h0.6v0.6h-0.6zM387.0 54.8h0.6v0.6h-0.6zM388.9 77.9h0.6v0.6h-0.6zM388.7 78.2h0.6v0.6h-0.6zM387.5 61.5h0.6v0.6h-0.6zM389.1 84.7h0.6v0.6h-0.6zM387.5 86.0h0.6v0.6h-0.6zM387.4 54.1h0.6v0.6h-0.6zM387.5 72.3h0.6v0.6h-0.6zM386.2 79.3h0.6v0.6h-0.6zM387.5 61.6h0.6v0.6h-0.6zM386.5 89.9h0.6v0.6h-0.6zM387.6 78.9h0.6v0.6h-0.6zM386.9 67.9h0.6v0.6h-0.6zM387.8 90.5h0.6v0.6h-0.6zM388.8 74.4h0.6v0.6h-0.6zM387.4 80.5h0.6v0.6h-0.6zM387.3 85.3h0.6v0.6h-0.6z"/>
<path fill="#6a6a84" fill-opacity="0.7" d="M387.9 59.3h0.6v0.6h-0.6zM387.9 72.0h0.6v0.6h-0.6zM387.0 90.5h0.6v0.6h-0.6zM388.0 51.2h0.6v0.6h-0.6zM388.4 61.1h0.6v0.6h-0.6zM386.9 78.6h0.6v0.6h-0.6zM389.5 89.5h0.6v0.6h-0.6zM387.9 65.9h0.6v0.6h-0.6zM388.6 76.1h0.6v0.6h-0.6zM387.1 78.1h0.6v0.6h-0.6zM388.2 74.3h0.6v0.6h-0.6zM390.6 73.7h0.6v0.6h-0.6zM387.9 49.7h0.6v0.6h-0.6zM389.6 79.9h0.6v0.6h-0.6zM385.3 75.9h0.6v0.6h-0.6zM388.6 77.9h0.6v0.6h-0.6zM388.2 74.6h0.6v0.6h-0.6zM390.0 82.5h0.6v0.6h-0.6zM388.6 62.1h0.6v0.6h-0.6zM386.5 62.8h0.6v0.6h-0.6zM386.8 69.5h0.6v0.6h-0.6zM388.5 64.0h0.6v0.6h-0.6zM387.9 73.5h0.6v0.6h-0.6zM387.3 93.5h0.6v0.6h-0.6zM390.5 86.2h0.6v0.6h-0.6zM387.4 84.9h0.6v0.6h-0.6zM386.3 55.1h0.6v0.6h-0.6zM388.7 66.5h0.6v0.6h-0.6zM385.8 76.3h0.6v0.6h-0.6zM388.5 50.3h0.6v0.6h-0.6zM386.6 49.5h0.6v0.6h-0.6zM387.9 89.2h0.6v0.6h-0.6zM388.0 83.3h0.6v0.6h-0.6zM386.2 60.0h0.6v0.6h-0.6zM387.0 92.2h0.6v0.6h-0.6zM388.2 69.9h0.6v0.6h-0.6zM388.1 64.3h0.6v0.6h-0.6zM387.5 53.6h0.6v0.6h-0.6zM387.7 89.8h0.6v0.6h-0.6zM388.7 83.4h0.6v0.6h-0.6zM387.6 59.3h0.6v0.6h-0.6zM387.4 61.7h0.6v0.6h-0.6zM386.6 65.5h0.6v0.6h-0.6zM387.4 63.9h0.6v0.6h-0.6zM389.2 56.2h0.6v0.6h-0.6zM387.9 56.4h0.6v0.6h-0.6zM387.8 79.0h0.6v0.6h-0.6zM387.3 90.3h0.6v0.6h-0.6zM388.4 72.4h0.6v0.6h-0.6zM387.4 51.4h0.6v0.6h-0.6zM387.4 65.6h0.6v0.6h-0.6zM388.8 77.6h0.6v0.6h-0.6zM387.0 86.2h0.6v0.6h-0.6zM388.9 55.2h0.6v0.6h-0.6zM388.7 73.8h0.6v0.6h-0.6zM387.5 55.1h0.6v0.6h-0.6zM389.1 80.5h0.6v0.6h-0.6zM388.0 67.6h0.6v0.6h-0.6zM387.9 63.9h0.6v0.6h-0.6zM386.4 92.3h0.6v0.6h-0.6zM387.2 91.4h0.6v0.6h-0.6zM387.3 75.9h0.6v0.6h-0.6zM387.3 61.5h0.6v0.6h-0.6zM385.7 78.9h0.6v0.6h-0.6zM389.1 56.8h0.6v0.6h-0.6zM386.9 53.2h0.6v0.6h-0.6zM388.5 86.2h0.6v0.6h-0.6zM386.8 59.8h0.6v0.6h-0.6zM387.2 91.7h0.6v0.6h-0.6zM388.0 67.9h0.6v0.6h-0.6zM389.0 86.6h0.6v0.6h-0.6zM387.8 82.9h0.6v0.6h-0.6zM388.5 92.3h0.6v0.6h-0.6zM386.0 62.4h0.6v0.6h-0.6zM388.0 56.8h0.6v0.6h-0.6zM387.5 62.7h0.6v0.6h-0.6zM389.1 74.4h0.6v0.6h-0.6zM389.0 81.7h0.6v0.6h-0.6zM387.3 84.8h0.6v0.6h-0.6zM389.5 93.0h0.6v0.6h-0.6zM389.5 86.8h0.6v0.6h-0.6zM387.7 86.6h0.6v0.6h-0.6zM386.7 87.2h0.6v0.6h-0.6zM387.0 92.4h0.6v0.6h-0.6zM387.6 76.8h0.6v0.6h-0.6zM387.9 48.5h0.6v0.6h-0.6zM389.1 56.6h0.6v0.6h-0.6zM389.4 73.4h0.6v0.6h-0.6zM387.8 58.9h0.6v0.6h-0.6zM387.4 93.9h0.6v0.6h-0.6z"/>
<path fill="#907868" fill-opacity="0.65" d="M388.7 83.5h0.6v0.6h-0.6zM387.1 87.5h0.6v0.6h-0.6zM386.8 79.9h0.6v0.6h-0.6zM388.3 84.9h0.6v0.6h-0.6zM387.7 82.9h0.6v0.6h-0.6zM388.6 76.9h0.6v0.6h-0.6zM388.0 87.9h0.6v0.6h-0.6zM388.2 87.5h0.6v0.6h-0.6zM389.0 86.8h0.6v0.6h-0.6zM389.1 88.6h0.6v0.6h-0.6zM389.0 86.6h0.6v0.6h-0.6zM387.7 87.7h0.6v0.6h-0.6zM388.4 91.0h0.6v0.6h-0.6zM387.4 79.0h0.6v0.6h-0.6zM387.8 87.1h0.6v0.6h-0.6zM387.9 82.3h0.6v0.6h-0.6zM388.0 81.3h0.6v0.6h-0.6zM386.8 84.6h0.6v0.6h-0.6zM387.1 91.2h0.6v0.6h-0.6zM388.9 83.9h0.6v0.6h-0.6zM387.5 87.7h0.6v0.6h-0.6zM388.1 81.7h0.6v0.6h-0.6zM387.7 76.8h0.6v0.6h-0.6zM390.1 88.2h0.6v0.6h-0.6zM388.0 90.7h0.6v0.6h-0.6zM388.8 89.2h0.6v0.6h-0.6zM386.6 76.5h0.6v0.6h-0.6zM386.7 77.7h0.6v0.6h-0.6zM388.0 86.7h0.6v0.6h-0.6zM387.4 82.7h0.6v0.6h-0.6zM387.0 81.4h0.6v0.6h-0.6zM388.4 79.8h0.6v0.6h-0.6zM385.2 88.3h0.6v0.6h-0.6zM387.3 77.5h0.6v0.6h-0.6zM386.5 85.7h0.6v0.6h-0.6z"/>
<path fill="#9a6a60" fill-opacity="0.65" d="M386.9 92.0h0.6v0.6h-0.6zM387.8 79.4h0.6v0.6h-0.6zM386.3 79.2h0.6v0.6h-0.6zM388.5 90.5h0.6v0.6h-0.6zM384.7 88.7h0.6v0.6h-0.6zM386.4 76.0h0.6v0.6h-0.6zM386.4 85.3h0.6v0.6h-0.6zM388.4 84.7h0.6v0.6h-0.6zM387.6 81.0h0.6v0.6h-0.6zM388.5 83.5h0.6v0.6h-0.6zM387.0 79.7h0.6v0.6h-0.6zM386.6 90.3h0.6v0.6h-0.6zM387.3 77.9h0.6v0.6h-0.6zM387.6 83.4h0.6v0.6h-0.6zM387.6 79.1h0.6v0.6h-0.6zM388.1 77.4h0.6v0.6h-0.6zM386.1 78.2h0.6v0.6h-0.6zM387.8 84.2h0.6v0.6h-0.6zM387.3 89.5h0.6v0.6h-0.6zM387.3 91.0h0.6v0.6h-0.6zM388.1 80.7h0.6v0.6h-0.6z"/>
<path fill="#8a7060" fill-opacity="0.65" d="M389.3 81.2h0.6v0.6h-0.6zM387.2 88.2h0.6v0.6h-0.6zM387.2 91.6h0.6v0.6h-0.6zM387.9 82.6h0.6v0.6h-0.6zM386.2 80.5h0.6v0.6h-0.6zM387.9 87.1h0.6v0.6h-0.6zM386.7 88.1h0.6v0.6h-0.6zM386.4 85.2h0.6v0.6h-0.6zM388.8 92.0h0.6v0.6h-0.6zM387.3 87.0h0.6v0.6h-0.6zM388.7 85.4h0.6v0.6h-0.6zM386.3 81.5h0.6v0.6h-0.6zM388.4 80.4h0.6v0.6h-0.6zM387.5 78.2h0.6v0.6h-0.6zM386.8 83.8h0.6v0.6h-0.6zM386.4 78.3h0.6v0.6h-0.6zM386.3 89.8h0.6v0.6h-0.6zM388.6 87.2h0.6v0.6h-0.6zM389.0 77.3h0.6v0.6h-0.6zM387.0 88.3h0.6v0.6h-0.6zM388.2 80.3h0.6v0.6h-0.6zM387.6 83.4h0.6v0.6h-0.6z"/>
<path fill="#7a6a60" fill-opacity="0.65" d="M386.1 80.9h0.6v0.6h-0.6zM387.1 80.8h0.6v0.6h-0.6zM388.4 86.0h0.6v0.6h-0.6zM387.4 90.2h0.6v0.6h-0.6zM385.9 85.0h0.6v0.6h-0.6zM387.8 88.3h0.6v0.6h-0.6zM386.9 80.9h0.6v0.6h-0.6zM388.5 78.2h0.6v0.6h-0.6zM386.4 80.8h0.6v0.6h-0.6zM387.4 88.1h0.6v0.6h-0.6zM387.2 79.4h0.6v0.6h-0.6zM388.8 87.7h0.6v0.6h-0.6z"/>
<path fill="#9a7068" fill-opacity="0.55" d="M385.0 81.2h0.6v0.6h-0.6zM386.2 73.6h0.6v0.6h-0.6zM382.8 87.9h0.6v0.6h-0.6zM389.6 79.8h0.6v0.6h-0.6zM387.4 78.2h0.6v0.6h-0.6zM384.7 88.4h0.6v0.6h-0.6zM386.6 81.2h0.6v0.6h-0.6zM387.2 83.5h0.6v0.6h-0.6zM389.3 78.7h0.6v0.6h-0.6zM386.7 85.8h0.6v0.6h-0.6zM385.7 82.9h0.6v0.6h-0.6zM385.5 79.5h0.6v0.6h-0.6zM386.7 79.8h0.6v0.6h-0.6zM385.9 85.2h0.6v0.6h-0.6zM387.3 82.5h0.6v0.6h-0.6zM383.9 88.0h0.6v0.6h-0.6zM385.3 92.6h0.6v0.6h-0.6zM392.5 85.7h0.6v0.6h-0.6zM388.0 87.4h0.6v0.6h-0.6zM384.7 83.5h0.6v0.6h-0.6zM385.8 81.0h0.6v0.6h-0.6zM383.9 89.0h0.6v0.6h-0.6zM384.8 85.0h0.6v0.6h-0.6zM388.3 83.5h0.6v0.6h-0.6zM390.3 85.3h0.6v0.6h-0.6zM384.8 79.3h0.6v0.6h-0.6z"/>
<path fill="#7a6a62" fill-opacity="0.55" d="M389.5 80.5h0.6v0.6h-0.6zM383.9 89.8h0.6v0.6h-0.6zM384.2 85.1h0.6v0.6h-0.6zM384.0 85.2h0.6v0.6h-0.6zM387.3 84.5h0.6v0.6h-0.6zM386.0 83.1h0.6v0.6h-0.6zM383.5 81.1h0.6v0.6h-0.6zM381.6 84.6h0.6v0.6h-0.6zM384.9 86.9h0.6v0.6h-0.6zM385.6 82.4h0.6v0.6h-0.6zM385.5 93.9h0.6v0.6h-0.6zM387.8 85.2h0.6v0.6h-0.6zM384.2 82.8h0.6v0.6h-0.6zM386.2 87.2h0.6v0.6h-0.6zM384.4 83.3h0.6v0.6h-0.6zM386.9 76.1h0.6v0.6h-0.6zM383.8 84.8h0.6v0.6h-0.6zM386.2 84.9h0.6v0.6h-0.6zM386.8 80.5h0.6v0.6h-0.6z"/>
<path fill="#8a6a60" fill-opacity="0.55" d="M387.0 87.5h0.6v0.6h-0.6zM387.8 90.4h0.6v0.6h-0.6zM390.1 78.8h0.6v0.6h-0.6zM390.0 82.5h0.6v0.6h-0.6zM385.6 82.1h0.6v0.6h-0.6zM387.2 82.7h0.6v0.6h-0.6zM385.3 83.7h0.6v0.6h-0.6zM388.2 92.4h0.6v0.6h-0.6zM385.4 85.8h0.6v0.6h-0.6zM386.2 83.7h0.6v0.6h-0.6zM387.6 80.9h0.6v0.6h-0.6zM384.5 82.6h0.6v0.6h-0.6zM381.7 85.9h0.6v0.6h-0.6zM388.3 86.9h0.6v0.6h-0.6zM388.0 81.2h0.6v0.6h-0.6z"/>
</g>
<g filter="url(#db)">
<path fill="#b0b2d0" fill-opacity="0.45" d="M427.1 58.8h0.6v0.6h-0.6zM422.7 88.2h0.6v0.6h-0.6zM407.9 55.5h0.6v0.6h-0.6zM436.6 64.7h0.6v0.6h-0.6zM404.8 48.2h0.6v0.6h-0.6zM424.0 42.3h0.6v0.6h-0.6zM419.2 82.4h0.6v0.6h-0.6zM414.5 46.2h0.6v0.6h-0.6zM442.7 74.7h0.6v0.6h-0.6zM405.5 59.0h0.6v0.6h-0.6zM425.5 90.4h0.6v0.6h-0.6zM441.0 80.2h0.6v0.6h-0.6zM414.1 92.4h0.6v0.6h-0.6zM411.3 89.9h0.6v0.6h-0.6zM445.9 46.6h0.6v0.6h-0.6zM405.0 90.6h0.6v0.6h-0.6zM432.7 89.9h0.6v0.6h-0.6zM422.7 67.9h0.6v0.6h-0.6zM411.4 53.8h0.6v0.6h-0.6zM451.1 92.9h0.6v0.6h-0.6zM428.1 59.6h0.6v0.6h-0.6zM403.7 71.6h0.6v0.6h-0.6zM430.8 74.3h0.6v0.6h-0.6zM430.2 83.4h0.6v0.6h-0.6zM417.2 91.1h0.6v0.6h-0.6zM420.4 62.9h0.6v0.6h-0.6zM423.0 68.7h0.6v0.6h-0.6zM405.5 52.6h0.6v0.6h-0.6zM409.2 90.8h0.6v0.6h-0.6zM430.0 60.3h0.6v0.6h-0.6z"/>
<path fill="#9698be" fill-opacity="0.45" d="M449.6 42.1h0.6v0.6h-0.6zM453.3 89.1h0.6v0.6h-0.6zM413.1 63.6h0.6v0.6h-0.6zM415.9 83.1h0.6v0.6h-0.6zM426.6 85.9h0.6v0.6h-0.6zM429.9 48.5h0.6v0.6h-0.6zM429.9 65.8h0.6v0.6h-0.6zM412.3 81.0h0.6v0.6h-0.6zM425.2 83.6h0.6v0.6h-0.6zM403.9 87.8h0.6v0.6h-0.6zM410.9 42.6h0.6v0.6h-0.6zM416.6 71.7h0.6v0.6h-0.6zM433.5 55.8h0.6v0.6h-0.6zM428.7 44.6h0.6v0.6h-0.6zM437.1 45.1h0.6v0.6h-0.6zM420.4 74.7h0.6v0.6h-0.6zM420.9 77.0h0.6v0.6h-0.6zM403.3 85.0h0.6v0.6h-0.6zM445.2 64.6h0.6v0.6h-0.6zM434.6 64.2h0.6v0.6h-0.6zM454.0 89.5h0.6v0.6h-0.6zM446.7 83.8h0.6v0.6h-0.6zM431.2 86.9h0.6v0.6h-0.6zM426.0 56.2h0.6v0.6h-0.6zM431.6 43.0h0.6v0.6h-0.6zM428.3 81.5h0.6v0.6h-0.6zM445.1 82.8h0.6v0.6h-0.6z"/>
<path fill="#a9a9bb" fill-opacity="0.45" d="M421.0 69.7h0.6v0.6h-0.6zM432.9 82.4h0.6v0.6h-0.6zM432.3 56.3h0.6v0.6h-0.6zM404.9 64.3h0.6v0.6h-0.6zM439.6 73.9h0.6v0.6h-0.6zM408.1 49.2h0.6v0.6h-0.6zM406.7 61.4h0.6v0.6h-0.6zM446.8 81.7h0.6v0.6h-0.6zM435.3 46.4h0.6v0.6h-0.6zM419.6 81.3h0.6v0.6h-0.6zM411.7 90.9h0.6v0.6h-0.6zM437.7 51.3h0.6v0.6h-0.6zM439.8 75.8h0.6v0.6h-0.6zM428.3 74.6h0.6v0.6h-0.6zM406.7 86.4h0.6v0.6h-0.6zM423.0 70.7h0.6v0.6h-0.6zM448.4 44.5h0.6v0.6h-0.6zM405.2 48.8h0.6v0.6h-0.6zM429.2 44.8h0.6v0.6h-0.6zM406.9 65.4h0.6v0.6h-0.6zM434.0 62.4h0.6v0.6h-0.6zM415.6 69.2h0.6v0.6h-0.6zM442.8 53.8h0.6v0.6h-0.6zM409.0 77.5h0.6v0.6h-0.6zM428.6 75.7h0.6v0.6h-0.6zM416.0 53.1h0.6v0.6h-0.6zM431.1 50.5h0.6v0.6h-0.6zM414.1 81.7h0.6v0.6h-0.6zM407.8 55.8h0.6v0.6h-0.6zM412.5 57.7h0.6v0.6h-0.6zM411.6 55.6h0.6v0.6h-0.6zM422.7 45.9h0.6v0.6h-0.6zM440.6 66.9h0.6v0.6h-0.6zM439.0 55.4h0.6v0.6h-0.6zM421.3 49.7h0.6v0.6h-0.6zM421.3 80.4h0.6v0.6h-0.6zM430.0 51.4h0.6v0.6h-0.6z"/>
<path fill="#a2a4c6" fill-opacity="0.45" d="M405.9 64.9h0.6v0.6h-0.6zM410.8 77.6h0.6v0.6h-0.6zM408.8 83.2h0.6v0.6h-0.6zM439.0 67.3h0.6v0.6h-0.6zM451.5 58.5h0.6v0.6h-0.6zM432.8 44.7h0.6v0.6h-0.6zM433.7 61.2h0.6v0.6h-0.6zM405.1 81.9h0.6v0.6h-0.6zM450.0 60.6h0.6v0.6h-0.6zM414.1 53.9h0.6v0.6h-0.6zM452.1 44.9h0.6v0.6h-0.6zM450.0 78.3h0.6v0.6h-0.6zM433.4 62.7h0.6v0.6h-0.6zM424.0 55.3h0.6v0.6h-0.6zM426.4 74.8h0.6v0.6h-0.6zM417.4 70.1h0.6v0.6h-0.6zM422.5 67.4h0.6v0.6h-0.6zM442.1 87.0h0.6v0.6h-0.6zM410.2 75.1h0.6v0.6h-0.6zM436.5 76.3h0.6v0.6h-0.6zM447.2 42.7h0.6v0.6h-0.6zM442.5 47.2h0.6v0.6h-0.6zM411.8 74.9h0.6v0.6h-0.6zM415.9 92.1h0.6v0.6h-0.6zM404.8 71.7h0.6v0.6h-0.6z"/>
<path fill="#b8b8c8" fill-opacity="0.45" d="M404.1 85.2h0.6v0.6h-0.6zM405.9 65.0h0.6v0.6h-0.6zM413.9 78.0h0.6v0.6h-0.6zM426.7 83.5h0.6v0.6h-0.6zM443.1 53.8h0.6v0.6h-0.6zM407.4 58.9h0.6v0.6h-0.6zM407.3 57.6h0.6v0.6h-0.6zM404.9 82.0h0.6v0.6h-0.6zM410.5 69.1h0.6v0.6h-0.6zM434.4 51.1h0.6v0.6h-0.6zM446.1 90.7h0.6v0.6h-0.6zM417.5 69.1h0.6v0.6h-0.6zM453.1 73.0h0.6v0.6h-0.6zM440.4 43.6h0.6v0.6h-0.6zM407.6 67.1h0.6v0.6h-0.6zM434.1 89.4h0.6v0.6h-0.6zM448.0 71.3h0.6v0.6h-0.6zM413.8 83.7h0.6v0.6h-0.6zM453.3 76.0h0.6v0.6h-0.6zM433.1 77.6h0.6v0.6h-0.6zM418.5 51.7h0.6v0.6h-0.6zM408.6 69.8h0.6v0.6h-0.6zM425.6 55.0h0.6v0.6h-0.6zM405.0 69.2h0.6v0.6h-0.6zM404.5 88.1h0.6v0.6h-0.6zM441.8 63.8h0.6v0.6h-0.6zM447.3 81.7h0.6v0.6h-0.6zM451.3 85.6h0.6v0.6h-0.6zM439.7 71.6h0.6v0.6h-0.6zM408.4 48.3h0.6v0.6h-0.6z"/>
<path fill="#80809a" fill-opacity="0.58" d="M437.2 83.2h0.6v0.6h-0.6zM435.3 70.8h0.6v0.6h-0.6zM438.2 84.3h0.6v0.6h-0.6zM430.4 70.0h0.6v0.6h-0.6zM425.3 67.4h0.6v0.6h-0.6zM430.6 82.6h0.6v0.6h-0.6zM446.6 69.5h0.6v0.6h-0.6zM435.6 81.3h0.6v0.6h-0.6zM426.3 84.4h0.6v0.6h-0.6zM435.8 78.1h0.6v0.6h-0.6zM442.5 89.4h0.6v0.6h-0.6zM451.4 75.0h0.6v0.6h-0.6zM434.7 76.5h0.6v0.6h-0.6zM432.7 79.4h0.6v0.6h-0.6zM430.5 83.1h0.6v0.6h-0.6zM430.3 92.7h0.6v0.6h-0.6zM420.2 64.7h0.6v0.6h-0.6zM430.8 84.4h0.6v0.6h-0.6zM437.0 87.3h0.6v0.6h-0.6zM433.5 83.4h0.6v0.6h-0.6zM428.0 85.5h0.6v0.6h-0.6zM445.6 82.7h0.6v0.6h-0.6zM445.9 86.3h0.6v0.6h-0.6zM444.1 80.2h0.6v0.6h-0.6zM431.8 87.5h0.6v0.6h-0.6zM442.7 61.8h0.6v0.6h-0.6zM440.7 65.1h0.6v0.6h-0.6zM442.3 78.8h0.6v0.6h-0.6zM437.0 76.8h0.6v0.6h-0.6zM447.0 78.1h0.6v0.6h-0.6zM433.3 91.2h0.6v0.6h-0.6zM420.0 75.8h0.6v0.6h-0.6zM451.7 93.9h0.6v0.6h-0.6zM446.2 89.7h0.6v0.6h-0.6zM444.5 77.8h0.6v0.6h-0.6zM435.1 67.0h0.6v0.6h-0.6zM444.4 77.4h0.6v0.6h-0.6zM435.3 62.0h0.6v0.6h-0.6zM433.9 84.0h0.6v0.6h-0.6zM442.0 94.0h0.6v0.6h-0.6zM442.5 82.5h0.6v0.6h-0.6zM430.9 64.9h0.6v0.6h-0.6zM438.5 76.6h0.6v0.6h-0.6zM439.6 76.7h0.6v0.6h-0.6zM439.3 86.8h0.6v0.6h-0.6zM439.6 77.7h0.6v0.6h-0.6zM439.1 71.1h0.6v0.6h-0.6zM453.0 70.0h0.6v0.6h-0.6zM429.0 83.1h0.6v0.6h-0.6zM436.0 80.6h0.6v0.6h-0.6zM434.4 81.0h0.6v0.6h-0.6zM450.2 77.5h0.6v0.6h-0.6zM432.3 88.2h0.6v0.6h-0.6zM438.6 73.6h0.6v0.6h-0.6zM434.7 80.0h0.6v0.6h-0.6zM442.6 78.8h0.6v0.6h-0.6zM440.6 72.2h0.6v0.6h-0.6zM438.9 73.1h0.6v0.6h-0.6zM418.9 65.8h0.6v0.6h-0.6zM442.0 85.2h0.6v0.6h-0.6zM428.1 75.2h0.6v0.6h-0.6zM434.5 89.1h0.6v0.6h-0.6zM445.1 71.3h0.6v0.6h-0.6zM425.5 70.5h0.6v0.6h-0.6zM416.0 68.4h0.6v0.6h-0.6zM437.3 89.5h0.6v0.6h-0.6zM440.1 85.0h0.6v0.6h-0.6zM446.8 76.2h0.6v0.6h-0.6zM439.7 83.1h0.6v0.6h-0.6zM441.6 78.7h0.6v0.6h-0.6zM443.3 87.3h0.6v0.6h-0.6zM436.1 90.0h0.6v0.6h-0.6zM439.2 79.3h0.6v0.6h-0.6zM440.1 67.3h0.6v0.6h-0.6zM447.2 90.1h0.6v0.6h-0.6zM424.1 90.2h0.6v0.6h-0.6zM429.1 86.9h0.6v0.6h-0.6zM445.0 74.9h0.6v0.6h-0.6zM438.3 90.6h0.6v0.6h-0.6zM431.4 91.8h0.6v0.6h-0.6zM432.2 79.7h0.6v0.6h-0.6zM434.0 82.6h0.6v0.6h-0.6zM427.7 86.8h0.6v0.6h-0.6zM431.4 74.2h0.6v0.6h-0.6zM436.7 78.0h0.6v0.6h-0.6zM440.7 86.8h0.6v0.6h-0.6zM441.4 74.6h0.6v0.6h-0.6zM429.3 59.4h0.6v0.6h-0.6zM440.3 75.3h0.6v0.6h-0.6zM434.2 91.1h0.6v0.6h-0.6zM437.6 92.5h0.6v0.6h-0.6zM433.3 81.4h0.6v0.6h-0.6zM435.3 73.2h0.6v0.6h-0.6zM437.3 76.8h0.6v0.6h-0.6zM431.8 79.8h0.6v0.6h-0.6zM432.6 73.5h0.6v0.6h-0.6zM442.9 86.5h0.6v0.6h-0.6zM438.3 58.8h0.6v0.6h-0.6zM430.4 84.1h0.6v0.6h-0.6zM447.7 70.6h0.6v0.6h-0.6zM447.1 71.4h0.6v0.6h-0.6zM422.9 89.4h0.6v0.6h-0.6zM451.2 78.5h0.6v0.6h-0.6zM441.5 88.0h0.6v0.6h-0.6zM428.3 74.4h0.6v0.6h-0.6zM442.3 67.7h0.6v0.6h-0.6zM448.3 66.0h0.6v0.6h-0.6zM444.5 92.3h0.6v0.6h-0.6zM431.3 87.4h0.6v0.6h-0.6zM429.4 87.6h0.6v0.6h-0.6zM443.7 77.7h0.6v0.6h-0.6zM431.2 86.4h0.6v0.6h-0.6zM428.4 85.8h0.6v0.6h-0.6zM431.9 88.6h0.6v0.6h-0.6zM433.3 76.0h0.6v0.6h-0.6zM436.2 62.5h0.6v0.6h-0.6zM437.1 67.2h0.6v0.6h-0.6zM441.5 86.5h0.6v0.6h-0.6zM427.3 65.0h0.6v0.6h-0.6zM433.1 81.4h0.6v0.6h-0.6zM437.1 72.4h0.6v0.6h-0.6zM431.3 82.3h0.6v0.6h-0.6zM430.4 81.7h0.6v0.6h-0.6zM428.4 63.0h0.6v0.6h-0.6zM429.9 66.3h0.6v0.6h-0.6zM439.5 75.6h0.6v0.6h-0.6zM425.0 70.9h0.6v0.6h-0.6zM432.0 83.9h0.6v0.6h-0.6zM434.9 74.1h0.6v0.6h-0.6zM452.7 77.8h0.6v0.6h-0.6zM434.8 73.8h0.6v0.6h-0.6zM435.0 80.4h0.6v0.6h-0.6zM430.0 87.0h0.6v0.6h-0.6zM431.9 81.3h0.6v0.6h-0.6zM426.0 84.3h0.6v0.6h-0.6zM433.1 78.6h0.6v0.6h-0.6z"/>
<path fill="#9494b0" fill-opacity="0.58" d="M439.2 78.9h0.6v0.6h-0.6zM441.6 78.8h0.6v0.6h-0.6zM431.5 75.5h0.6v0.6h-0.6zM436.6 70.4h0.6v0.6h-0.6zM439.4 84.1h0.6v0.6h-0.6zM424.6 82.2h0.6v0.6h-0.6zM433.5 76.8h0.6v0.6h-0.6zM434.5 79.4h0.6v0.6h-0.6zM429.7 81.4h0.6v0.6h-0.6zM434.1 75.4h0.6v0.6h-0.6zM433.3 73.9h0.6v0.6h-0.6zM452.2 87.5h0.6v0.6h-0.6zM440.8 65.6h0.6v0.6h-0.6zM446.9 89.4h0.6v0.6h-0.6zM428.4 82.5h0.6v0.6h-0.6zM430.6 78.3h0.6v0.6h-0.6zM424.9 82.7h0.6v0.6h-0.6zM434.0 84.3h0.6v0.6h-0.6zM442.9 80.8h0.6v0.6h-0.6zM452.0 68.1h0.6v0.6h-0.6zM442.1 83.3h0.6v0.6h-0.6zM438.1 74.7h0.6v0.6h-0.6zM440.3 77.7h0.6v0.6h-0.6zM430.2 82.4h0.6v0.6h-0.6zM441.2 57.4h0.6v0.6h-0.6zM432.3 81.3h0.6v0.6h-0.6zM435.1 80.5h0.6v0.6h-0.6zM426.6 86.3h0.6v0.6h-0.6zM441.7 90.4h0.6v0.6h-0.6zM442.6 65.1h0.6v0.6h-0.6zM448.8 72.4h0.6v0.6h-0.6zM444.9 77.1h0.6v0.6h-0.6zM438.2 85.3h0.6v0.6h-0.6zM433.2 72.6h0.6v0.6h-0.6zM430.9 70.9h0.6v0.6h-0.6zM434.8 73.3h0.6v0.6h-0.6zM430.4 75.5h0.6v0.6h-0.6zM442.9 65.4h0.6v0.6h-0.6zM431.0 79.9h0.6v0.6h-0.6zM436.5 59.2h0.6v0.6h-0.6zM448.3 83.2h0.6v0.6h-0.6zM434.8 83.6h0.6v0.6h-0.6zM426.1 88.3h0.6v0.6h-0.6zM426.0 81.1h0.6v0.6h-0.6zM431.9 65.1h0.6v0.6h-0.6zM438.5 81.7h0.6v0.6h-0.6zM438.1 83.7h0.6v0.6h-0.6zM436.8 83.4h0.6v0.6h-0.6zM434.9 89.2h0.6v0.6h-0.6zM433.6 81.6h0.6v0.6h-0.6zM438.4 79.5h0.6v0.6h-0.6zM448.4 82.0h0.6v0.6h-0.6zM435.0 77.5h0.6v0.6h-0.6zM441.6 49.8h0.6v0.6h-0.6zM435.4 93.3h0.6v0.6h-0.6zM429.7 73.0h0.6v0.6h-0.6zM427.6 82.3h0.6v0.6h-0.6zM446.0 72.6h0.6v0.6h-0.6zM427.4 82.6h0.6v0.6h-0.6zM440.9 83.7h0.6v0.6h-0.6zM443.0 74.1h0.6v0.6h-0.6zM429.6 87.9h0.6v0.6h-0.6zM433.9 83.5h0.6v0.6h-0.6zM435.9 53.6h0.6v0.6h-0.6zM436.7 80.8h0.6v0.6h-0.6zM447.7 79.7h0.6v0.6h-0.6zM438.7 83.9h0.6v0.6h-0.6zM434.9 84.2h0.6v0.6h-0.6zM419.9 82.2h0.6v0.6h-0.6zM445.8 68.6h0.6v0.6h-0.6zM436.2 89.2h0.6v0.6h-0.6zM452.8 92.9h0.6v0.6h-0.6zM442.5 81.3h0.6v0.6h-0.6zM436.0 82.4h0.6v0.6h-0.6zM451.8 86.7h0.6v0.6h-0.6zM438.9 85.3h0.6v0.6h-0.6zM420.7 83.0h0.6v0.6h-0.6zM441.3 85.0h0.6v0.6h-0.6zM445.1 85.4h0.6v0.6h-0.6zM420.7 63.5h0.6v0.6h-0.6zM437.5 64.7h0.6v0.6h-0.6zM442.8 79.1h0.6v0.6h-0.6zM445.3 66.8h0.6v0.6h-0.6zM422.2 66.1h0.6v0.6h-0.6zM441.2 86.9h0.6v0.6h-0.6zM435.8 69.3h0.6v0.6h-0.6zM433.8 67.1h0.6v0.6h-0.6zM442.1 62.0h0.6v0.6h-0.6zM430.8 57.0h0.6v0.6h-0.6zM438.0 90.8h0.6v0.6h-0.6zM436.3 72.4h0.6v0.6h-0.6zM443.8 81.1h0.6v0.6h-0.6zM433.2 79.6h0.6v0.6h-0.6zM435.1 82.5h0.6v0.6h-0.6zM442.1 93.4h0.6v0.6h-0.6zM437.3 61.6h0.6v0.6h-0.6zM435.3 69.1h0.6v0.6h-0.6zM434.3 74.7h0.6v0.6h-0.6zM440.1 86.3h0.6v0.6h-0.6zM433.3 89.9h0.6v0.6h-0.6zM426.9 88.7h0.6v0.6h-0.6zM430.8 78.7h0.6v0.6h-0.6zM431.4 68.2h0.6v0.6h-0.6zM427.5 84.3h0.6v0.6h-0.6zM444.4 63.3h0.6v0.6h-0.6z"/>
<path fill="#7a7a98" fill-opacity="0.58" d="M439.5 68.6h0.6v0.6h-0.6zM438.4 93.6h0.6v0.6h-0.6zM436.2 83.1h0.6v0.6h-0.6zM428.2 74.6h0.6v0.6h-0.6zM429.0 70.8h0.6v0.6h-0.6zM437.8 74.1h0.6v0.6h-0.6zM439.4 93.6h0.6v0.6h-0.6zM435.5 74.7h0.6v0.6h-0.6zM436.2 75.4h0.6v0.6h-0.6zM432.4 88.0h0.6v0.6h-0.6zM449.5 75.1h0.6v0.6h-0.6zM428.0 75.2h0.6v0.6h-0.6zM432.3 81.6h0.6v0.6h-0.6zM435.7 77.9h0.6v0.6h-0.6zM439.1 76.4h0.6v0.6h-0.6zM439.6 83.6h0.6v0.6h-0.6zM440.0 56.4h0.6v0.6h-0.6zM431.0 72.0h0.6v0.6h-0.6zM422.5 75.8h0.6v0.6h-0.6zM431.6 81.5h0.6v0.6h-0.6zM436.5 69.1h0.6v0.6h-0.6zM440.9 86.6h0.6v0.6h-0.6zM438.8 75.9h0.6v0.6h-0.6zM443.2 89.5h0.6v0.6h-0.6zM443.6 67.8h0.6v0.6h-0.6zM440.0 70.9h0.6v0.6h-0.6zM439.3 83.8h0.6v0.6h-0.6zM429.6 73.6h0.6v0.6h-0.6zM446.6 79.5h0.6v0.6h-0.6zM437.3 75.0h0.6v0.6h-0.6zM435.5 83.6h0.6v0.6h-0.6zM446.6 54.6h0.6v0.6h-0.6zM435.9 75.0h0.6v0.6h-0.6zM435.0 76.9h0.6v0.6h-0.6zM423.2 74.7h0.6v0.6h-0.6zM439.5 86.1h0.6v0.6h-0.6zM432.9 69.6h0.6v0.6h-0.6zM436.5 82.0h0.6v0.6h-0.6zM429.3 83.7h0.6v0.6h-0.6zM435.7 57.4h0.6v0.6h-0.6zM435.0 91.8h0.6v0.6h-0.6zM426.5 63.7h0.6v0.6h-0.6zM430.6 51.6h0.6v0.6h-0.6zM426.2 75.5h0.6v0.6h-0.6zM440.8 75.3h0.6v0.6h-0.6zM429.6 63.5h0.6v0.6h-0.6zM447.3 70.2h0.6v0.6h-0.6zM438.1 73.8h0.6v0.6h-0.6zM432.9 88.7h0.6v0.6h-0.6zM436.0 85.4h0.6v0.6h-0.6zM423.8 73.2h0.6v0.6h-0.6zM434.5 65.2h0.6v0.6h-0.6zM429.8 71.0h0.6v0.6h-0.6zM445.0 84.3h0.6v0.6h-0.6zM431.3 69.3h0.6v0.6h-0.6zM440.7 75.7h0.6v0.6h-0.6zM437.5 78.2h0.6v0.6h-0.6zM434.9 64.9h0.6v0.6h-0.6zM436.1 64.8h0.6v0.6h-0.6zM436.5 76.5h0.6v0.6h-0.6zM443.4 65.4h0.6v0.6h-0.6zM437.1 85.3h0.6v0.6h-0.6zM445.6 65.4h0.6v0.6h-0.6zM428.5 81.9h0.6v0.6h-0.6zM431.9 71.2h0.6v0.6h-0.6zM433.6 74.0h0.6v0.6h-0.6zM443.3 82.6h0.6v0.6h-0.6zM426.0 78.8h0.6v0.6h-0.6zM427.9 81.9h0.6v0.6h-0.6zM437.5 60.0h0.6v0.6h-0.6zM438.5 90.5h0.6v0.6h-0.6zM444.3 71.1h0.6v0.6h-0.6zM438.9 76.8h0.6v0.6h-0.6zM424.0 70.6h0.6v0.6h-0.6zM425.1 91.0h0.6v0.6h-0.6zM442.7 77.3h0.6v0.6h-0.6zM433.5 85.8h0.6v0.6h-0.6zM448.1 82.4h0.6v0.6h-0.6zM431.7 80.3h0.6v0.6h-0.6zM427.0 80.6h0.6v0.6h-0.6zM424.8 79.4h0.6v0.6h-0.6zM426.5 69.2h0.6v0.6h-0.6zM442.9 79.6h0.6v0.6h-0.6zM440.0 86.6h0.6v0.6h-0.6zM435.2 75.0h0.6v0.6h-0.6zM426.2 77.1h0.6v0.6h-0.6zM439.4 88.5h0.6v0.6h-0.6zM432.4 90.0h0.6v0.6h-0.6zM442.8 75.6h0.6v0.6h-0.6zM437.2 79.5h0.6v0.6h-0.6zM445.2 70.9h0.6v0.6h-0.6zM443.2 77.1h0.6v0.6h-0.6zM429.4 81.7h0.6v0.6h-0.6zM437.1 75.7h0.6v0.6h-0.6zM430.6 84.2h0.6v0.6h-0.6zM433.0 69.9h0.6v0.6h-0.6zM432.9 83.1h0.6v0.6h-0.6zM436.6 78.5h0.6v0.6h-0.6zM433.9 80.7h0.6v0.6h-0.6zM432.5 92.3h0.6v0.6h-0.6zM443.0 73.8h0.6v0.6h-0.6zM445.5 77.7h0.6v0.6h-0.6zM441.3 77.1h0.6v0.6h-0.6zM445.0 88.4h0.6v0.6h-0.6zM434.2 78.2h0.6v0.6h-0.6zM435.3 73.1h0.6v0.6h-0.6zM447.4 76.4h0.6v0.6h-0.6zM431.4 89.6h0.6v0.6h-0.6zM435.9 69.9h0.6v0.6h-0.6zM434.4 82.4h0.6v0.6h-0.6zM447.4 78.9h0.6v0.6h-0.6zM427.9 83.5h0.6v0.6h-0.6zM438.3 79.0h0.6v0.6h-0.6zM448.7 81.5h0.6v0.6h-0.6z"/>
<path fill="#8a8aa8" fill-opacity="0.58" d="M437.4 83.4h0.6v0.6h-0.6zM431.5 75.3h0.6v0.6h-0.6zM431.8 88.4h0.6v0.6h-0.6zM438.9 90.0h0.6v0.6h-0.6zM438.1 81.8h0.6v0.6h-0.6zM434.5 68.6h0.6v0.6h-0.6zM439.5 80.7h0.6v0.6h-0.6zM429.8 91.8h0.6v0.6h-0.6zM440.8 84.1h0.6v0.6h-0.6zM438.6 76.0h0.6v0.6h-0.6zM430.0 84.7h0.6v0.6h-0.6zM434.5 68.5h0.6v0.6h-0.6zM437.4 61.0h0.6v0.6h-0.6zM433.3 73.0h0.6v0.6h-0.6zM430.5 88.0h0.6v0.6h-0.6zM425.3 74.8h0.6v0.6h-0.6zM436.0 81.0h0.6v0.6h-0.6zM432.7 92.3h0.6v0.6h-0.6zM445.3 73.8h0.6v0.6h-0.6zM439.6 70.2h0.6v0.6h-0.6zM436.1 73.5h0.6v0.6h-0.6zM440.4 86.1h0.6v0.6h-0.6zM449.3 78.5h0.6v0.6h-0.6zM428.8 81.9h0.6v0.6h-0.6zM428.3 75.4h0.6v0.6h-0.6zM437.6 92.1h0.6v0.6h-0.6zM442.0 86.0h0.6v0.6h-0.6zM432.4 81.9h0.6v0.6h-0.6zM438.1 73.5h0.6v0.6h-0.6zM445.0 69.9h0.6v0.6h-0.6zM423.2 81.9h0.6v0.6h-0.6zM429.0 92.1h0.6v0.6h-0.6zM423.5 89.8h0.6v0.6h-0.6zM444.4 88.8h0.6v0.6h-0.6zM441.7 76.7h0.6v0.6h-0.6zM444.6 78.1h0.6v0.6h-0.6zM431.4 74.1h0.6v0.6h-0.6zM435.8 80.7h0.6v0.6h-0.6zM436.9 80.9h0.6v0.6h-0.6zM426.7 82.6h0.6v0.6h-0.6zM423.8 71.8h0.6v0.6h-0.6zM438.4 74.4h0.6v0.6h-0.6zM427.6 75.2h0.6v0.6h-0.6zM435.8 49.1h0.6v0.6h-0.6zM433.0 87.8h0.6v0.6h-0.6zM428.5 72.9h0.6v0.6h-0.6zM429.3 72.4h0.6v0.6h-0.6zM440.7 73.7h0.6v0.6h-0.6zM442.7 81.7h0.6v0.6h-0.6zM444.0 67.7h0.6v0.6h-0.6zM437.2 80.4h0.6v0.6h-0.6zM443.5 87.5h0.6v0.6h-0.6zM443.4 92.2h0.6v0.6h-0.6zM426.7 85.8h0.6v0.6h-0.6zM434.6 77.9h0.6v0.6h-0.6zM424.5 81.7h0.6v0.6h-0.6zM435.0 88.3h0.6v0.6h-0.6zM448.5 61.6h0.6v0.6h-0.6zM440.9 87.7h0.6v0.6h-0.6zM430.2 93.5h0.6v0.6h-0.6zM435.1 80.3h0.6v0.6h-0.6zM436.9 87.5h0.6v0.6h-0.6zM434.5 66.9h0.6v0.6h-0.6zM432.9 76.6h0.6v0.6h-0.6zM426.1 87.1h0.6v0.6h-0.6zM438.5 86.2h0.6v0.6h-0.6zM432.4 68.6h0.6v0.6h-0.6zM437.0 72.9h0.6v0.6h-0.6zM432.3 81.1h0.6v0.6h-0.6zM440.8 79.3h0.6v0.6h-0.6zM439.9 84.3h0.6v0.6h-0.6zM419.2 92.0h0.6v0.6h-0.6zM435.6 79.6h0.6v0.6h-0.6zM437.9 73.6h0.6v0.6h-0.6zM429.6 69.7h0.6v0.6h-0.6zM432.5 75.0h0.6v0.6h-0.6zM446.2 69.8h0.6v0.6h-0.6zM435.9 83.1h0.6v0.6h-0.6zM444.8 69.5h0.6v0.6h-0.6zM430.0 73.2h0.6v0.6h-0.6zM430.8 68.9h0.6v0.6h-0.6zM434.1 70.5h0.6v0.6h-0.6zM435.6 77.6h0.6v0.6h-0.6zM443.8 77.6h0.6v0.6h-0.6zM430.5 82.7h0.6v0.6h-0.6zM437.0 83.8h0.6v0.6h-0.6zM442.9 76.6h0.6v0.6h-0.6zM433.2 89.3h0.6v0.6h-0.6zM435.1 64.8h0.6v0.6h-0.6zM427.2 87.9h0.6v0.6h-0.6zM433.1 75.1h0.6v0.6h-0.6zM431.3 82.4h0.6v0.6h-0.6zM445.4 80.1h0.6v0.6h-0.6zM435.3 87.4h0.6v0.6h-0.6zM435.3 64.7h0.6v0.6h-0.6zM437.9 74.8h0.6v0.6h-0.6zM442.4 85.9h0.6v0.6h-0.6zM429.9 64.4h0.6v0.6h-0.6zM440.4 69.7h0.6v0.6h-0.6zM443.6 70.0h0.6v0.6h-0.6zM447.7 77.2h0.6v0.6h-0.6zM446.8 73.4h0.6v0.6h-0.6zM448.3 78.7h0.6v0.6h-0.6zM431.4 87.5h0.6v0.6h-0.6zM444.3 78.3h0.6v0.6h-0.6z"/>
<path fill="#6c6c88" fill-opacity="0.58" d="M427.0 80.7h0.6v0.6h-0.6zM434.0 69.8h0.6v0.6h-0.6zM443.8 81.1h0.6v0.6h-0.6zM440.3 93.5h0.6v0.6h-0.6zM425.8 82.8h0.6v0.6h-0.6zM433.4 77.6h0.6v0.6h-0.6zM428.7 87.5h0.6v0.6h-0.6zM439.7 83.2h0.6v0.6h-0.6zM443.6 67.9h0.6v0.6h-0.6zM441.2 74.6h0.6v0.6h-0.6zM441.2 81.1h0.6v0.6h-0.6zM433.9 89.4h0.6v0.6h-0.6zM428.5 59.5h0.6v0.6h-0.6zM433.1 80.8h0.6v0.6h-0.6zM443.0 76.2h0.6v0.6h-0.6zM443.9 67.6h0.6v0.6h-0.6zM429.7 91.4h0.6v0.6h-0.6zM439.4 82.0h0.6v0.6h-0.6zM446.0 80.5h0.6v0.6h-0.6zM433.2 72.6h0.6v0.6h-0.6zM428.4 70.2h0.6v0.6h-0.6zM429.4 80.1h0.6v0.6h-0.6zM438.6 85.5h0.6v0.6h-0.6zM427.2 75.4h0.6v0.6h-0.6zM425.7 75.6h0.6v0.6h-0.6zM434.6 79.1h0.6v0.6h-0.6zM430.2 91.1h0.6v0.6h-0.6zM433.0 78.7h0.6v0.6h-0.6zM430.6 85.9h0.6v0.6h-0.6zM442.6 89.4h0.6v0.6h-0.6zM441.3 81.1h0.6v0.6h-0.6zM433.0 88.0h0.6v0.6h-0.6zM421.1 77.4h0.6v0.6h-0.6zM429.4 71.0h0.6v0.6h-0.6zM430.1 68.6h0.6v0.6h-0.6zM426.7 72.9h0.6v0.6h-0.6zM428.2 73.9h0.6v0.6h-0.6zM428.8 73.0h0.6v0.6h-0.6zM436.7 80.5h0.6v0.6h-0.6zM446.2 80.4h0.6v0.6h-0.6zM437.1 65.8h0.6v0.6h-0.6zM435.1 65.8h0.6v0.6h-0.6zM446.9 84.2h0.6v0.6h-0.6zM438.5 82.5h0.6v0.6h-0.6zM433.5 86.1h0.6v0.6h-0.6zM440.6 72.2h0.6v0.6h-0.6zM434.3 82.3h0.6v0.6h-0.6zM427.4 76.1h0.6v0.6h-0.6zM433.0 69.1h0.6v0.6h-0.6zM438.1 63.8h0.6v0.6h-0.6zM444.8 81.2h0.6v0.6h-0.6zM441.5 86.1h0.6v0.6h-0.6zM426.9 83.8h0.6v0.6h-0.6zM437.1 65.9h0.6v0.6h-0.6zM436.2 78.1h0.6v0.6h-0.6zM447.5 85.9h0.6v0.6h-0.6zM432.1 90.3h0.6v0.6h-0.6zM425.2 69.9h0.6v0.6h-0.6zM441.5 84.7h0.6v0.6h-0.6zM436.8 59.5h0.6v0.6h-0.6zM436.4 72.3h0.6v0.6h-0.6zM429.9 68.9h0.6v0.6h-0.6zM431.3 57.2h0.6v0.6h-0.6zM429.3 79.6h0.6v0.6h-0.6zM426.3 76.0h0.6v0.6h-0.6zM437.9 82.8h0.6v0.6h-0.6zM445.9 76.9h0.6v0.6h-0.6zM431.0 81.5h0.6v0.6h-0.6zM435.9 62.9h0.6v0.6h-0.6zM423.9 88.0h0.6v0.6h-0.6zM440.5 81.2h0.6v0.6h-0.6zM434.5 64.1h0.6v0.6h-0.6zM430.4 78.4h0.6v0.6h-0.6zM435.3 77.2h0.6v0.6h-0.6zM436.8 84.5h0.6v0.6h-0.6zM444.9 87.4h0.6v0.6h-0.6zM435.2 63.9h0.6v0.6h-0.6zM432.4 85.3h0.6v0.6h-0.6zM448.8 72.7h0.6v0.6h-0.6zM443.5 81.1h0.6v0.6h-0.6zM425.9 70.9h0.6v0.6h-0.6zM443.6 91.3h0.6v0.6h-0.6zM438.8 74.1h0.6v0.6h-0.6zM428.1 74.7h0.6v0.6h-0.6zM428.6 74.2h0.6v0.6h-0.6zM443.9 78.1h0.6v0.6h-0.6zM428.3 87.4h0.6v0.6h-0.6zM447.6 79.8h0.6v0.6h-0.6zM444.8 85.9h0.6v0.6h-0.6zM441.6 79.8h0.6v0.6h-0.6zM435.1 72.0h0.6v0.6h-0.6zM429.5 58.8h0.6v0.6h-0.6zM435.8 62.7h0.6v0.6h-0.6zM442.1 84.4h0.6v0.6h-0.6zM438.6 79.0h0.6v0.6h-0.6zM433.7 80.3h0.6v0.6h-0.6zM425.0 68.3h0.6v0.6h-0.6zM441.2 79.3h0.6v0.6h-0.6zM434.1 92.8h0.6v0.6h-0.6zM422.8 78.5h0.6v0.6h-0.6zM435.3 70.7h0.6v0.6h-0.6zM438.8 83.9h0.6v0.6h-0.6zM436.6 65.2h0.6v0.6h-0.6zM426.3 60.0h0.6v0.6h-0.6zM440.8 75.6h0.6v0.6h-0.6zM426.9 68.6h0.6v0.6h-0.6zM429.6 80.9h0.6v0.6h-0.6zM445.2 71.8h0.6v0.6h-0.6zM428.9 62.8h0.6v0.6h-0.6zM432.9 78.5h0.6v0.6h-0.6zM438.8 78.5h0.6v0.6h-0.6zM439.9 92.8h0.6v0.6h-0.6zM436.5 76.6h0.6v0.6h-0.6zM439.5 63.4h0.6v0.6h-0.6zM444.0 87.7h0.6v0.6h-0.6zM427.2 67.8h0.6v0.6h-0.6zM432.2 80.0h0.6v0.6h-0.6zM440.6 68.6h0.6v0.6h-0.6zM433.2 73.0h0.6v0.6h-0.6zM434.6 77.7h0.6v0.6h-0.6zM431.8 76.8h0.6v0.6h-0.6zM443.0 80.8h0.6v0.6h-0.6zM437.5 84.1h0.6v0.6h-0.6zM442.2 79.7h0.6v0.6h-0.6zM441.6 83.5h0.6v0.6h-0.6zM442.1 75.5h0.6v0.6h-0.6zM431.3 79.2h0.6v0.6h-0.6zM438.5 84.5h0.6v0.6h-0.6zM442.5 72.3h0.6v0.6h-0.6zM445.3 79.5h0.6v0.6h-0.6zM434.1 73.3h0.6v0.6h-0.6z"/>
<path fill="#9494b0" fill-opacity="0.55" d="M408.4 61.2h0.6v0.6h-0.6zM439.3 80.9h0.6v0.6h-0.6zM419.7 79.1h0.6v0.6h-0.6zM427.7 72.5h0.6v0.6h-0.6zM420.7 78.5h0.6v0.6h-0.6zM421.8 66.1h0.6v0.6h-0.6zM432.5 82.4h0.6v0.6h-0.6zM416.0 85.3h0.6v0.6h-0.6zM423.4 85.7h0.6v0.6h-0.6zM424.2 88.2h0.6v0.6h-0.6zM421.7 87.2h0.6v0.6h-0.6zM422.8 78.8h0.6v0.6h-0.6zM436.5 91.1h0.6v0.6h-0.6zM425.9 73.1h0.6v0.6h-0.6zM420.4 70.7h0.6v0.6h-0.6zM420.4 70.4h0.6v0.6h-0.6zM427.7 75.6h0.6v0.6h-0.6zM423.0 86.6h0.6v0.6h-0.6zM427.5 70.1h0.6v0.6h-0.6zM431.6 82.5h0.6v0.6h-0.6zM432.4 87.3h0.6v0.6h-0.6zM421.7 92.6h0.6v0.6h-0.6zM413.0 86.7h0.6v0.6h-0.6zM423.9 77.4h0.6v0.6h-0.6zM418.3 83.3h0.6v0.6h-0.6zM420.0 80.0h0.6v0.6h-0.6zM426.7 84.7h0.6v0.6h-0.6zM423.2 77.3h0.6v0.6h-0.6zM424.5 84.3h0.6v0.6h-0.6zM427.7 74.3h0.6v0.6h-0.6zM419.1 68.0h0.6v0.6h-0.6zM416.0 53.5h0.6v0.6h-0.6zM419.4 74.5h0.6v0.6h-0.6zM428.0 67.1h0.6v0.6h-0.6zM425.8 68.5h0.6v0.6h-0.6zM434.6 83.4h0.6v0.6h-0.6zM436.7 75.6h0.6v0.6h-0.6zM425.3 61.6h0.6v0.6h-0.6zM420.3 74.2h0.6v0.6h-0.6zM407.9 66.6h0.6v0.6h-0.6zM420.1 75.5h0.6v0.6h-0.6zM427.0 79.5h0.6v0.6h-0.6zM412.9 92.0h0.6v0.6h-0.6zM413.0 83.1h0.6v0.6h-0.6zM419.7 80.4h0.6v0.6h-0.6zM418.1 86.5h0.6v0.6h-0.6zM438.8 75.5h0.6v0.6h-0.6zM431.0 67.9h0.6v0.6h-0.6zM422.8 73.9h0.6v0.6h-0.6zM420.6 87.0h0.6v0.6h-0.6zM431.8 79.3h0.6v0.6h-0.6zM411.6 87.4h0.6v0.6h-0.6zM434.6 78.3h0.6v0.6h-0.6zM421.3 65.6h0.6v0.6h-0.6zM435.0 75.8h0.6v0.6h-0.6zM429.4 66.5h0.6v0.6h-0.6zM428.8 87.2h0.6v0.6h-0.6zM427.6 92.8h0.6v0.6h-0.6zM420.5 77.3h0.6v0.6h-0.6zM448.2 71.9h0.6v0.6h-0.6zM420.6 75.7h0.6v0.6h-0.6zM420.6 73.4h0.6v0.6h-0.6zM422.2 73.3h0.6v0.6h-0.6zM425.1 81.1h0.6v0.6h-0.6zM420.4 77.5h0.6v0.6h-0.6zM427.3 79.8h0.6v0.6h-0.6zM417.8 76.2h0.6v0.6h-0.6zM426.7 73.8h0.6v0.6h-0.6zM416.0 81.6h0.6v0.6h-0.6zM429.5 81.0h0.6v0.6h-0.6zM420.8 90.6h0.6v0.6h-0.6zM417.7 86.4h0.6v0.6h-0.6zM429.7 56.4h0.6v0.6h-0.6zM414.3 82.3h0.6v0.6h-0.6zM429.4 80.1h0.6v0.6h-0.6zM428.6 71.5h0.6v0.6h-0.6zM420.6 75.3h0.6v0.6h-0.6zM433.1 63.0h0.6v0.6h-0.6zM427.3 71.1h0.6v0.6h-0.6zM437.4 78.3h0.6v0.6h-0.6zM441.6 65.8h0.6v0.6h-0.6zM442.0 60.6h0.6v0.6h-0.6zM445.1 69.8h0.6v0.6h-0.6zM444.5 85.8h0.6v0.6h-0.6zM444.8 71.4h0.6v0.6h-0.6zM443.7 87.3h0.6v0.6h-0.6zM442.7 70.3h0.6v0.6h-0.6zM447.1 90.8h0.6v0.6h-0.6zM440.5 93.9h0.6v0.6h-0.6zM443.3 70.6h0.6v0.6h-0.6zM441.8 78.8h0.6v0.6h-0.6zM444.3 80.7h0.6v0.6h-0.6zM440.3 93.5h0.6v0.6h-0.6zM442.1 66.9h0.6v0.6h-0.6zM443.2 83.3h0.6v0.6h-0.6zM442.7 71.8h0.6v0.6h-0.6zM441.7 71.1h0.6v0.6h-0.6zM446.3 58.6h0.6v0.6h-0.6zM440.5 83.4h0.6v0.6h-0.6zM444.2 83.0h0.6v0.6h-0.6zM444.2 69.1h0.6v0.6h-0.6zM447.0 90.5h0.6v0.6h-0.6zM446.4 58.4h0.6v0.6h-0.6zM440.1 86.7h0.6v0.6h-0.6zM442.1 56.4h0.6v0.6h-0.6zM443.7 66.4h0.6v0.6h-0.6zM446.2 84.6h0.6v0.6h-0.6zM448.8 80.0h0.6v0.6h-0.6zM443.7 56.7h0.6v0.6h-0.6zM440.8 89.6h0.6v0.6h-0.6zM445.6 75.5h0.6v0.6h-0.6zM441.4 87.7h0.6v0.6h-0.6zM445.2 75.2h0.6v0.6h-0.6zM442.1 63.4h0.6v0.6h-0.6zM441.3 80.3h0.6v0.6h-0.6zM445.7 65.9h0.6v0.6h-0.6zM443.9 70.4h0.6v0.6h-0.6zM439.8 59.6h0.6v0.6h-0.6zM446.7 79.3h0.6v0.6h-0.6zM447.7 87.3h0.6v0.6h-0.6zM444.9 71.4h0.6v0.6h-0.6zM439.3 66.4h0.6v0.6h-0.6zM440.7 87.7h0.6v0.6h-0.6zM443.9 80.8h0.6v0.6h-0.6zM437.6 87.0h0.6v0.6h-0.6zM442.3 66.2h0.6v0.6h-0.6z"/>
<path fill="#7a7a98" fill-opacity="0.55" d="M415.4 81.0h0.6v0.6h-0.6zM421.3 76.6h0.6v0.6h-0.6zM422.7 69.4h0.6v0.6h-0.6zM430.4 69.0h0.6v0.6h-0.6zM427.3 80.3h0.6v0.6h-0.6zM418.6 80.8h0.6v0.6h-0.6zM437.5 80.2h0.6v0.6h-0.6zM420.4 73.9h0.6v0.6h-0.6zM424.6 86.7h0.6v0.6h-0.6zM428.1 81.4h0.6v0.6h-0.6zM415.7 79.7h0.6v0.6h-0.6zM420.5 90.5h0.6v0.6h-0.6zM425.0 86.2h0.6v0.6h-0.6zM420.8 77.4h0.6v0.6h-0.6zM430.9 67.4h0.6v0.6h-0.6zM419.7 76.4h0.6v0.6h-0.6zM428.3 63.1h0.6v0.6h-0.6zM429.4 79.8h0.6v0.6h-0.6zM412.8 75.5h0.6v0.6h-0.6zM426.5 73.1h0.6v0.6h-0.6zM428.5 57.1h0.6v0.6h-0.6zM423.7 77.9h0.6v0.6h-0.6zM437.9 74.7h0.6v0.6h-0.6zM427.6 77.7h0.6v0.6h-0.6zM426.2 87.1h0.6v0.6h-0.6zM421.0 85.1h0.6v0.6h-0.6zM447.0 90.5h0.6v0.6h-0.6zM420.6 67.1h0.6v0.6h-0.6zM420.1 84.9h0.6v0.6h-0.6zM423.3 79.2h0.6v0.6h-0.6zM411.4 76.1h0.6v0.6h-0.6zM430.0 71.0h0.6v0.6h-0.6zM422.2 78.4h0.6v0.6h-0.6zM433.1 75.7h0.6v0.6h-0.6zM433.1 70.5h0.6v0.6h-0.6zM430.4 88.6h0.6v0.6h-0.6zM424.6 76.5h0.6v0.6h-0.6zM432.1 73.6h0.6v0.6h-0.6zM410.0 88.0h0.6v0.6h-0.6zM426.9 78.6h0.6v0.6h-0.6zM419.7 47.3h0.6v0.6h-0.6zM421.4 71.3h0.6v0.6h-0.6zM430.4 91.0h0.6v0.6h-0.6zM426.6 91.7h0.6v0.6h-0.6zM418.8 78.4h0.6v0.6h-0.6zM415.5 89.8h0.6v0.6h-0.6zM424.1 80.2h0.6v0.6h-0.6zM431.9 77.1h0.6v0.6h-0.6zM434.1 93.4h0.6v0.6h-0.6zM409.7 86.2h0.6v0.6h-0.6zM420.4 80.5h0.6v0.6h-0.6zM422.1 69.3h0.6v0.6h-0.6zM432.4 69.2h0.6v0.6h-0.6zM438.6 72.4h0.6v0.6h-0.6zM412.4 92.6h0.6v0.6h-0.6zM418.6 83.6h0.6v0.6h-0.6zM415.2 87.2h0.6v0.6h-0.6zM430.7 78.2h0.6v0.6h-0.6zM411.1 63.2h0.6v0.6h-0.6zM418.1 85.5h0.6v0.6h-0.6zM420.0 69.1h0.6v0.6h-0.6zM431.1 66.0h0.6v0.6h-0.6zM428.9 77.1h0.6v0.6h-0.6zM424.0 80.6h0.6v0.6h-0.6zM431.4 86.9h0.6v0.6h-0.6zM434.2 69.6h0.6v0.6h-0.6zM447.9 61.6h0.6v0.6h-0.6zM418.7 65.1h0.6v0.6h-0.6zM419.5 81.2h0.6v0.6h-0.6zM419.9 68.7h0.6v0.6h-0.6zM438.4 61.8h0.6v0.6h-0.6zM424.5 72.4h0.6v0.6h-0.6zM424.1 91.8h0.6v0.6h-0.6zM418.5 56.0h0.6v0.6h-0.6zM423.9 65.2h0.6v0.6h-0.6zM426.8 63.6h0.6v0.6h-0.6zM414.8 66.4h0.6v0.6h-0.6zM429.9 73.6h0.6v0.6h-0.6zM419.3 83.1h0.6v0.6h-0.6zM421.4 74.3h0.6v0.6h-0.6zM404.1 71.8h0.6v0.6h-0.6zM411.1 73.0h0.6v0.6h-0.6zM415.1 82.4h0.6v0.6h-0.6zM427.0 66.4h0.6v0.6h-0.6zM418.3 63.4h0.6v0.6h-0.6zM440.6 93.7h0.6v0.6h-0.6zM450.5 73.1h0.6v0.6h-0.6zM441.7 77.8h0.6v0.6h-0.6zM447.7 93.7h0.6v0.6h-0.6zM446.9 85.1h0.6v0.6h-0.6zM444.7 67.6h0.6v0.6h-0.6zM443.2 56.1h0.6v0.6h-0.6zM446.9 74.1h0.6v0.6h-0.6zM443.5 76.4h0.6v0.6h-0.6zM444.2 59.7h0.6v0.6h-0.6zM444.8 82.2h0.6v0.6h-0.6zM443.2 67.9h0.6v0.6h-0.6zM442.4 57.0h0.6v0.6h-0.6zM439.2 56.2h0.6v0.6h-0.6zM442.7 83.3h0.6v0.6h-0.6zM440.4 92.1h0.6v0.6h-0.6zM443.5 76.3h0.6v0.6h-0.6zM442.3 56.9h0.6v0.6h-0.6zM444.9 88.2h0.6v0.6h-0.6zM440.0 60.5h0.6v0.6h-0.6zM442.7 58.7h0.6v0.6h-0.6zM442.3 84.3h0.6v0.6h-0.6zM443.2 84.2h0.6v0.6h-0.6zM447.2 60.4h0.6v0.6h-0.6zM445.0 75.9h0.6v0.6h-0.6zM438.1 86.1h0.6v0.6h-0.6zM440.2 63.8h0.6v0.6h-0.6zM441.1 89.6h0.6v0.6h-0.6zM437.0 56.3h0.6v0.6h-0.6zM447.1 84.9h0.6v0.6h-0.6zM444.4 72.0h0.6v0.6h-0.6zM439.8 83.2h0.6v0.6h-0.6zM442.8 85.7h0.6v0.6h-0.6zM441.8 74.9h0.6v0.6h-0.6zM441.7 79.2h0.6v0.6h-0.6zM440.7 62.6h0.6v0.6h-0.6zM443.8 75.6h0.6v0.6h-0.6zM444.6 75.0h0.6v0.6h-0.6zM436.7 74.3h0.6v0.6h-0.6zM441.0 86.9h0.6v0.6h-0.6zM443.6 76.6h0.6v0.6h-0.6zM443.4 78.9h0.6v0.6h-0.6zM439.6 56.5h0.6v0.6h-0.6z"/>
<path fill="#80809a" fill-opacity="0.55" d="M430.6 74.6h0.6v0.6h-0.6zM416.0 88.8h0.6v0.6h-0.6zM428.8 80.3h0.6v0.6h-0.6zM421.9 82.1h0.6v0.6h-0.6zM432.3 90.0h0.6v0.6h-0.6zM403.7 81.9h0.6v0.6h-0.6zM424.3 71.1h0.6v0.6h-0.6zM423.7 85.4h0.6v0.6h-0.6zM422.1 68.9h0.6v0.6h-0.6zM432.8 72.6h0.6v0.6h-0.6zM435.2 75.4h0.6v0.6h-0.6zM414.6 57.5h0.6v0.6h-0.6zM434.3 72.5h0.6v0.6h-0.6zM430.4 66.6h0.6v0.6h-0.6zM427.5 67.7h0.6v0.6h-0.6zM438.4 67.9h0.6v0.6h-0.6zM412.6 44.3h0.6v0.6h-0.6zM420.4 71.3h0.6v0.6h-0.6zM423.6 86.0h0.6v0.6h-0.6zM426.8 69.7h0.6v0.6h-0.6zM411.2 64.4h0.6v0.6h-0.6zM432.6 83.4h0.6v0.6h-0.6zM437.9 88.4h0.6v0.6h-0.6zM434.1 76.1h0.6v0.6h-0.6zM427.2 78.2h0.6v0.6h-0.6zM414.4 59.9h0.6v0.6h-0.6zM428.1 61.9h0.6v0.6h-0.6zM424.3 68.2h0.6v0.6h-0.6zM431.3 61.3h0.6v0.6h-0.6zM419.6 75.5h0.6v0.6h-0.6zM428.2 84.9h0.6v0.6h-0.6zM426.4 79.5h0.6v0.6h-0.6zM421.8 69.6h0.6v0.6h-0.6zM433.2 79.3h0.6v0.6h-0.6zM421.3 74.1h0.6v0.6h-0.6zM425.9 81.6h0.6v0.6h-0.6zM441.3 75.7h0.6v0.6h-0.6zM437.8 70.5h0.6v0.6h-0.6zM428.2 72.6h0.6v0.6h-0.6zM413.5 93.1h0.6v0.6h-0.6zM413.9 80.5h0.6v0.6h-0.6zM445.0 60.6h0.6v0.6h-0.6zM427.6 79.5h0.6v0.6h-0.6zM422.8 78.9h0.6v0.6h-0.6zM429.4 75.6h0.6v0.6h-0.6zM433.6 83.3h0.6v0.6h-0.6zM425.2 72.1h0.6v0.6h-0.6zM430.2 75.0h0.6v0.6h-0.6zM439.8 52.5h0.6v0.6h-0.6zM426.7 78.3h0.6v0.6h-0.6zM434.8 89.8h0.6v0.6h-0.6zM407.4 82.1h0.6v0.6h-0.6zM419.4 87.2h0.6v0.6h-0.6zM417.4 78.7h0.6v0.6h-0.6zM425.9 88.9h0.6v0.6h-0.6zM428.9 72.7h0.6v0.6h-0.6zM421.9 75.2h0.6v0.6h-0.6zM421.1 73.9h0.6v0.6h-0.6zM418.6 55.0h0.6v0.6h-0.6zM425.6 90.0h0.6v0.6h-0.6zM440.6 87.0h0.6v0.6h-0.6zM408.3 83.9h0.6v0.6h-0.6zM411.4 71.7h0.6v0.6h-0.6zM423.2 67.1h0.6v0.6h-0.6zM427.9 77.6h0.6v0.6h-0.6zM418.3 87.8h0.6v0.6h-0.6zM424.2 82.2h0.6v0.6h-0.6zM414.6 74.4h0.6v0.6h-0.6zM430.2 92.1h0.6v0.6h-0.6zM425.1 78.6h0.6v0.6h-0.6zM429.7 82.6h0.6v0.6h-0.6zM440.8 62.4h0.6v0.6h-0.6zM442.3 77.9h0.6v0.6h-0.6zM440.0 83.1h0.6v0.6h-0.6zM445.2 69.5h0.6v0.6h-0.6zM438.1 92.9h0.6v0.6h-0.6zM443.9 57.4h0.6v0.6h-0.6zM438.5 60.2h0.6v0.6h-0.6zM437.7 62.6h0.6v0.6h-0.6zM440.5 61.6h0.6v0.6h-0.6zM443.2 84.8h0.6v0.6h-0.6zM438.3 69.0h0.6v0.6h-0.6zM440.4 72.5h0.6v0.6h-0.6zM439.4 90.6h0.6v0.6h-0.6zM445.1 90.8h0.6v0.6h-0.6zM442.8 60.9h0.6v0.6h-0.6zM438.9 74.2h0.6v0.6h-0.6zM446.7 80.9h0.6v0.6h-0.6zM440.7 56.7h0.6v0.6h-0.6zM441.4 89.6h0.6v0.6h-0.6zM444.7 61.6h0.6v0.6h-0.6zM443.0 79.4h0.6v0.6h-0.6zM442.1 69.2h0.6v0.6h-0.6zM442.4 70.9h0.6v0.6h-0.6zM440.5 57.5h0.6v0.6h-0.6zM441.1 78.5h0.6v0.6h-0.6zM447.4 88.5h0.6v0.6h-0.6zM443.5 68.5h0.6v0.6h-0.6zM443.2 74.0h0.6v0.6h-0.6zM448.6 63.6h0.6v0.6h-0.6zM439.1 64.4h0.6v0.6h-0.6zM446.0 83.0h0.6v0.6h-0.6zM445.3 62.0h0.6v0.6h-0.6zM441.7 75.6h0.6v0.6h-0.6zM444.5 91.9h0.6v0.6h-0.6zM440.5 74.7h0.6v0.6h-0.6zM441.5 86.9h0.6v0.6h-0.6zM445.4 85.1h0.6v0.6h-0.6zM446.5 56.2h0.6v0.6h-0.6zM443.4 71.3h0.6v0.6h-0.6zM442.5 63.0h0.6v0.6h-0.6zM442.5 91.3h0.6v0.6h-0.6zM444.6 91.0h0.6v0.6h-0.6zM443.4 92.0h0.6v0.6h-0.6zM442.4 70.2h0.6v0.6h-0.6zM444.0 86.9h0.6v0.6h-0.6zM444.2 65.1h0.6v0.6h-0.6zM446.6 59.7h0.6v0.6h-0.6zM442.1 86.3h0.6v0.6h-0.6zM441.2 80.0h0.6v0.6h-0.6zM442.8 63.1h0.6v0.6h-0.6zM440.4 73.1h0.6v0.6h-0.6zM441.6 69.6h0.6v0.6h-0.6zM441.8 88.0h0.6v0.6h-0.6zM442.1 73.1h0.6v0.6h-0.6z"/>
<path fill="#6c6c88" fill-opacity="0.55" d="M415.4 71.4h0.6v0.6h-0.6zM416.5 79.0h0.6v0.6h-0.6zM415.3 82.1h0.6v0.6h-0.6zM420.4 69.5h0.6v0.6h-0.6zM424.4 87.5h0.6v0.6h-0.6zM420.4 73.2h0.6v0.6h-0.6zM413.2 71.8h0.6v0.6h-0.6zM436.0 87.4h0.6v0.6h-0.6zM412.2 93.3h0.6v0.6h-0.6zM430.3 64.2h0.6v0.6h-0.6zM422.1 76.2h0.6v0.6h-0.6zM435.5 89.3h0.6v0.6h-0.6zM430.1 77.5h0.6v0.6h-0.6zM416.9 64.9h0.6v0.6h-0.6zM428.2 87.5h0.6v0.6h-0.6zM418.1 70.3h0.6v0.6h-0.6zM426.1 70.3h0.6v0.6h-0.6zM421.6 61.7h0.6v0.6h-0.6zM416.2 73.5h0.6v0.6h-0.6zM415.2 61.4h0.6v0.6h-0.6zM417.1 74.8h0.6v0.6h-0.6zM422.5 77.7h0.6v0.6h-0.6zM432.4 62.7h0.6v0.6h-0.6zM417.5 87.1h0.6v0.6h-0.6zM427.3 81.6h0.6v0.6h-0.6zM426.5 76.1h0.6v0.6h-0.6zM424.5 80.5h0.6v0.6h-0.6zM434.0 68.9h0.6v0.6h-0.6zM429.8 91.4h0.6v0.6h-0.6zM431.2 71.7h0.6v0.6h-0.6zM426.6 70.7h0.6v0.6h-0.6zM421.9 60.0h0.6v0.6h-0.6zM424.9 49.2h0.6v0.6h-0.6zM409.0 79.8h0.6v0.6h-0.6zM430.2 63.3h0.6v0.6h-0.6zM426.2 78.1h0.6v0.6h-0.6zM431.7 76.8h0.6v0.6h-0.6zM422.9 81.3h0.6v0.6h-0.6zM419.2 80.0h0.6v0.6h-0.6zM427.0 81.0h0.6v0.6h-0.6zM422.0 83.0h0.6v0.6h-0.6zM434.4 86.3h0.6v0.6h-0.6zM417.9 72.1h0.6v0.6h-0.6zM423.1 65.0h0.6v0.6h-0.6zM423.6 71.9h0.6v0.6h-0.6zM417.2 85.0h0.6v0.6h-0.6zM417.4 74.1h0.6v0.6h-0.6zM426.2 85.4h0.6v0.6h-0.6zM425.4 70.8h0.6v0.6h-0.6zM416.1 67.2h0.6v0.6h-0.6zM426.7 79.8h0.6v0.6h-0.6zM418.4 86.5h0.6v0.6h-0.6zM407.2 88.9h0.6v0.6h-0.6zM429.4 62.8h0.6v0.6h-0.6zM435.1 66.9h0.6v0.6h-0.6zM431.6 83.6h0.6v0.6h-0.6zM432.0 56.2h0.6v0.6h-0.6zM412.8 84.5h0.6v0.6h-0.6zM410.9 81.6h0.6v0.6h-0.6zM419.5 64.3h0.6v0.6h-0.6zM419.1 63.0h0.6v0.6h-0.6zM424.9 67.4h0.6v0.6h-0.6zM410.4 68.0h0.6v0.6h-0.6zM424.3 67.8h0.6v0.6h-0.6zM419.5 75.7h0.6v0.6h-0.6zM444.7 83.1h0.6v0.6h-0.6zM431.9 82.1h0.6v0.6h-0.6zM419.7 86.4h0.6v0.6h-0.6zM444.0 92.4h0.6v0.6h-0.6zM440.6 80.7h0.6v0.6h-0.6zM447.2 59.0h0.6v0.6h-0.6zM438.5 62.0h0.6v0.6h-0.6zM446.4 74.7h0.6v0.6h-0.6zM441.4 74.8h0.6v0.6h-0.6zM445.2 72.4h0.6v0.6h-0.6zM438.9 89.9h0.6v0.6h-0.6zM447.3 79.9h0.6v0.6h-0.6zM443.4 84.7h0.6v0.6h-0.6zM445.7 92.3h0.6v0.6h-0.6zM443.8 88.9h0.6v0.6h-0.6zM439.4 59.0h0.6v0.6h-0.6zM440.8 83.3h0.6v0.6h-0.6zM440.6 75.1h0.6v0.6h-0.6zM439.1 83.8h0.6v0.6h-0.6zM442.4 56.4h0.6v0.6h-0.6zM441.7 62.6h0.6v0.6h-0.6zM446.0 68.8h0.6v0.6h-0.6zM444.5 59.3h0.6v0.6h-0.6zM445.7 66.2h0.6v0.6h-0.6zM445.1 72.9h0.6v0.6h-0.6zM439.2 83.2h0.6v0.6h-0.6zM443.4 58.3h0.6v0.6h-0.6zM448.0 78.0h0.6v0.6h-0.6zM443.8 85.5h0.6v0.6h-0.6zM441.1 71.3h0.6v0.6h-0.6zM446.3 60.3h0.6v0.6h-0.6zM439.9 85.5h0.6v0.6h-0.6zM445.1 59.9h0.6v0.6h-0.6zM444.2 56.8h0.6v0.6h-0.6zM444.7 64.7h0.6v0.6h-0.6zM445.1 92.0h0.6v0.6h-0.6zM446.6 65.6h0.6v0.6h-0.6zM439.0 84.9h0.6v0.6h-0.6zM437.2 72.1h0.6v0.6h-0.6zM445.9 82.6h0.6v0.6h-0.6zM440.6 70.6h0.6v0.6h-0.6zM440.0 63.8h0.6v0.6h-0.6zM442.9 81.8h0.6v0.6h-0.6zM441.1 58.7h0.6v0.6h-0.6zM445.9 90.2h0.6v0.6h-0.6zM439.4 88.8h0.6v0.6h-0.6zM447.8 85.6h0.6v0.6h-0.6zM444.7 66.7h0.6v0.6h-0.6zM443.1 90.4h0.6v0.6h-0.6zM441.2 63.3h0.6v0.6h-0.6zM444.8 71.4h0.6v0.6h-0.6zM445.9 60.6h0.6v0.6h-0.6zM442.2 80.9h0.6v0.6h-0.6zM446.5 65.7h0.6v0.6h-0.6z"/>
<path fill="#8a8aa8" fill-opacity="0.55" d="M434.2 74.4h0.6v0.6h-0.6zM426.1 79.0h0.6v0.6h-0.6zM425.4 58.0h0.6v0.6h-0.6zM429.1 72.6h0.6v0.6h-0.6zM422.6 88.1h0.6v0.6h-0.6zM413.4 85.9h0.6v0.6h-0.6zM431.3 89.7h0.6v0.6h-0.6zM428.8 74.9h0.6v0.6h-0.6zM426.7 82.5h0.6v0.6h-0.6zM417.7 67.3h0.6v0.6h-0.6zM441.3 74.2h0.6v0.6h-0.6zM423.8 87.8h0.6v0.6h-0.6zM421.5 86.1h0.6v0.6h-0.6zM435.5 69.3h0.6v0.6h-0.6zM436.1 78.9h0.6v0.6h-0.6zM414.4 84.4h0.6v0.6h-0.6zM437.9 75.3h0.6v0.6h-0.6zM425.2 63.4h0.6v0.6h-0.6zM422.5 74.6h0.6v0.6h-0.6zM409.6 71.7h0.6v0.6h-0.6zM427.8 64.6h0.6v0.6h-0.6zM423.0 72.8h0.6v0.6h-0.6zM433.4 78.4h0.6v0.6h-0.6zM423.9 79.0h0.6v0.6h-0.6zM407.9 87.1h0.6v0.6h-0.6zM415.2 58.6h0.6v0.6h-0.6zM411.4 91.5h0.6v0.6h-0.6zM433.5 78.3h0.6v0.6h-0.6zM425.9 77.3h0.6v0.6h-0.6zM428.8 78.6h0.6v0.6h-0.6zM416.4 80.4h0.6v0.6h-0.6zM419.9 75.7h0.6v0.6h-0.6zM431.0 82.4h0.6v0.6h-0.6zM413.3 77.1h0.6v0.6h-0.6zM416.7 88.4h0.6v0.6h-0.6zM413.7 83.8h0.6v0.6h-0.6zM427.3 87.9h0.6v0.6h-0.6zM408.6 71.3h0.6v0.6h-0.6zM439.8 81.7h0.6v0.6h-0.6zM433.0 67.4h0.6v0.6h-0.6zM417.4 85.2h0.6v0.6h-0.6zM425.3 86.2h0.6v0.6h-0.6zM430.1 81.0h0.6v0.6h-0.6zM443.1 79.9h0.6v0.6h-0.6zM420.5 65.2h0.6v0.6h-0.6zM424.5 73.5h0.6v0.6h-0.6zM435.9 78.3h0.6v0.6h-0.6zM420.1 70.9h0.6v0.6h-0.6zM427.1 82.4h0.6v0.6h-0.6zM430.2 69.8h0.6v0.6h-0.6zM425.1 86.9h0.6v0.6h-0.6zM412.3 79.4h0.6v0.6h-0.6zM430.3 68.3h0.6v0.6h-0.6zM424.9 81.1h0.6v0.6h-0.6zM421.0 82.6h0.6v0.6h-0.6zM428.9 85.2h0.6v0.6h-0.6zM424.5 84.1h0.6v0.6h-0.6zM419.7 84.9h0.6v0.6h-0.6zM425.0 93.1h0.6v0.6h-0.6zM424.7 72.6h0.6v0.6h-0.6zM439.6 72.0h0.6v0.6h-0.6zM421.1 73.3h0.6v0.6h-0.6zM435.7 83.4h0.6v0.6h-0.6zM409.8 84.2h0.6v0.6h-0.6zM435.7 75.7h0.6v0.6h-0.6zM439.6 70.9h0.6v0.6h-0.6zM426.4 61.5h0.6v0.6h-0.6zM424.2 68.4h0.6v0.6h-0.6zM431.0 70.4h0.6v0.6h-0.6zM409.8 68.9h0.6v0.6h-0.6zM440.4 78.6h0.6v0.6h-0.6zM444.2 91.5h0.6v0.6h-0.6zM443.2 57.5h0.6v0.6h-0.6zM441.8 81.2h0.6v0.6h-0.6zM443.7 77.4h0.6v0.6h-0.6zM443.1 57.8h0.6v0.6h-0.6zM442.9 67.4h0.6v0.6h-0.6zM442.8 74.5h0.6v0.6h-0.6zM442.6 57.2h0.6v0.6h-0.6zM446.6 72.4h0.6v0.6h-0.6zM446.7 70.6h0.6v0.6h-0.6zM441.9 84.1h0.6v0.6h-0.6zM449.4 79.4h0.6v0.6h-0.6zM445.2 87.2h0.6v0.6h-0.6zM439.5 73.6h0.6v0.6h-0.6zM444.5 68.9h0.6v0.6h-0.6zM444.7 90.4h0.6v0.6h-0.6zM441.1 74.0h0.6v0.6h-0.6zM442.0 78.8h0.6v0.6h-0.6zM441.4 57.0h0.6v0.6h-0.6zM445.5 59.8h0.6v0.6h-0.6zM440.0 92.1h0.6v0.6h-0.6zM443.5 69.5h0.6v0.6h-0.6zM434.4 71.6h0.6v0.6h-0.6zM443.2 58.6h0.6v0.6h-0.6zM446.7 83.7h0.6v0.6h-0.6zM441.2 80.9h0.6v0.6h-0.6zM446.2 77.0h0.6v0.6h-0.6zM446.8 63.5h0.6v0.6h-0.6zM439.9 72.0h0.6v0.6h-0.6zM442.1 89.1h0.6v0.6h-0.6zM442.2 71.0h0.6v0.6h-0.6zM444.3 63.6h0.6v0.6h-0.6zM438.0 72.8h0.6v0.6h-0.6zM443.0 68.1h0.6v0.6h-0.6zM442.2 82.8h0.6v0.6h-0.6zM441.2 85.3h0.6v0.6h-0.6zM439.8 79.0h0.6v0.6h-0.6zM444.2 65.7h0.6v0.6h-0.6zM444.6 85.2h0.6v0.6h-0.6zM441.8 91.2h0.6v0.6h-0.6zM442.1 80.7h0.6v0.6h-0.6z"/>
<path fill="#80809a" fill-opacity="0.5" d="M435.0 54.0h0.6v0.6h-0.6zM426.7 52.5h0.6v0.6h-0.6zM420.0 64.2h0.6v0.6h-0.6zM424.5 61.7h0.6v0.6h-0.6zM428.0 56.9h0.6v0.6h-0.6zM422.7 68.1h0.6v0.6h-0.6zM432.5 62.6h0.6v0.6h-0.6zM427.2 57.9h0.6v0.6h-0.6zM431.4 59.1h0.6v0.6h-0.6zM432.6 62.5h0.6v0.6h-0.6zM416.5 63.0h0.6v0.6h-0.6zM430.8 81.9h0.6v0.6h-0.6zM419.9 59.0h0.6v0.6h-0.6zM427.3 63.2h0.6v0.6h-0.6zM420.4 65.8h0.6v0.6h-0.6zM426.3 61.6h0.6v0.6h-0.6zM447.9 55.1h0.6v0.6h-0.6zM437.9 59.7h0.6v0.6h-0.6zM427.8 57.4h0.6v0.6h-0.6zM431.1 61.2h0.6v0.6h-0.6zM417.8 54.7h0.6v0.6h-0.6zM426.5 67.0h0.6v0.6h-0.6zM430.3 68.9h0.6v0.6h-0.6zM431.7 63.3h0.6v0.6h-0.6zM418.2 61.4h0.6v0.6h-0.6zM429.2 72.6h0.6v0.6h-0.6zM429.1 67.2h0.6v0.6h-0.6zM423.9 65.0h0.6v0.6h-0.6zM429.7 50.1h0.6v0.6h-0.6zM422.9 72.1h0.6v0.6h-0.6z"/>
<path fill="#7a7a98" fill-opacity="0.5" d="M431.9 61.0h0.6v0.6h-0.6zM433.8 55.7h0.6v0.6h-0.6zM427.2 61.8h0.6v0.6h-0.6zM443.0 64.1h0.6v0.6h-0.6zM421.8 70.5h0.6v0.6h-0.6zM421.9 61.6h0.6v0.6h-0.6zM423.3 69.1h0.6v0.6h-0.6zM426.1 55.6h0.6v0.6h-0.6zM433.3 57.1h0.6v0.6h-0.6zM439.2 57.1h0.6v0.6h-0.6zM424.7 58.7h0.6v0.6h-0.6zM432.0 68.4h0.6v0.6h-0.6zM429.4 55.8h0.6v0.6h-0.6zM419.6 60.2h0.6v0.6h-0.6zM428.6 72.0h0.6v0.6h-0.6zM438.4 67.2h0.6v0.6h-0.6zM436.0 53.1h0.6v0.6h-0.6zM423.5 64.6h0.6v0.6h-0.6zM433.8 58.7h0.6v0.6h-0.6zM423.9 74.0h0.6v0.6h-0.6zM430.4 66.9h0.6v0.6h-0.6zM435.2 53.7h0.6v0.6h-0.6zM423.4 54.3h0.6v0.6h-0.6zM431.8 56.9h0.6v0.6h-0.6zM432.2 72.6h0.6v0.6h-0.6zM424.6 67.0h0.6v0.6h-0.6zM441.3 70.4h0.6v0.6h-0.6zM432.8 75.0h0.6v0.6h-0.6zM429.3 57.8h0.6v0.6h-0.6zM427.9 53.9h0.6v0.6h-0.6zM442.0 65.7h0.6v0.6h-0.6zM422.7 60.0h0.6v0.6h-0.6zM425.7 64.3h0.6v0.6h-0.6zM430.9 65.8h0.6v0.6h-0.6zM423.9 57.7h0.6v0.6h-0.6zM423.7 56.3h0.6v0.6h-0.6zM426.6 53.8h0.6v0.6h-0.6zM427.6 59.3h0.6v0.6h-0.6zM430.7 58.0h0.6v0.6h-0.6zM428.0 70.5h0.6v0.6h-0.6zM425.6 62.8h0.6v0.6h-0.6zM429.3 58.1h0.6v0.6h-0.6zM425.2 67.5h0.6v0.6h-0.6zM423.4 56.4h0.6v0.6h-0.6z"/>
<path fill="#8a8aa8" fill-opacity="0.5" d="M418.3 69.5h0.6v0.6h-0.6zM429.5 57.9h0.6v0.6h-0.6zM440.5 65.4h0.6v0.6h-0.6zM433.4 59.4h0.6v0.6h-0.6zM418.8 59.5h0.6v0.6h-0.6zM419.5 63.7h0.6v0.6h-0.6zM439.7 63.2h0.6v0.6h-0.6zM422.4 61.2h0.6v0.6h-0.6zM433.2 60.9h0.6v0.6h-0.6zM434.5 63.5h0.6v0.6h-0.6zM423.3 62.3h0.6v0.6h-0.6zM419.3 65.2h0.6v0.6h-0.6zM429.7 57.9h0.6v0.6h-0.6zM436.3 67.8h0.6v0.6h-0.6zM429.6 64.4h0.6v0.6h-0.6zM431.6 53.2h0.6v0.6h-0.6zM442.8 57.9h0.6v0.6h-0.6zM434.6 58.2h0.6v0.6h-0.6zM430.3 54.1h0.6v0.6h-0.6zM426.9 56.4h0.6v0.6h-0.6zM420.9 59.2h0.6v0.6h-0.6zM423.0 58.4h0.6v0.6h-0.6zM423.5 58.6h0.6v0.6h-0.6z"/>
<path fill="#6c6c88" fill-opacity="0.5" d="M438.9 54.4h0.6v0.6h-0.6zM429.7 54.9h0.6v0.6h-0.6zM434.5 75.1h0.6v0.6h-0.6zM428.7 60.4h0.6v0.6h-0.6zM439.5 65.6h0.6v0.6h-0.6zM420.9 61.4h0.6v0.6h-0.6zM440.3 67.3h0.6v0.6h-0.6zM439.9 59.1h0.6v0.6h-0.6zM423.0 67.2h0.6v0.6h-0.6zM443.5 67.8h0.6v0.6h-0.6zM436.4 59.4h0.6v0.6h-0.6zM423.8 57.7h0.6v0.6h-0.6zM426.6 59.4h0.6v0.6h-0.6zM433.4 54.5h0.6v0.6h-0.6zM434.0 50.0h0.6v0.6h-0.6zM434.6 66.4h0.6v0.6h-0.6zM430.1 55.3h0.6v0.6h-0.6zM430.6 62.0h0.6v0.6h-0.6zM423.5 59.1h0.6v0.6h-0.6z"/>
<path fill="#9494b0" fill-opacity="0.5" d="M419.1 64.3h0.6v0.6h-0.6zM433.2 53.8h0.6v0.6h-0.6zM438.6 65.1h0.6v0.6h-0.6zM435.4 56.0h0.6v0.6h-0.6zM422.0 59.5h0.6v0.6h-0.6zM428.8 58.0h0.6v0.6h-0.6zM434.9 55.4h0.6v0.6h-0.6zM429.3 70.7h0.6v0.6h-0.6zM420.0 65.2h0.6v0.6h-0.6zM420.4 59.5h0.6v0.6h-0.6zM426.8 58.3h0.6v0.6h-0.6zM435.1 59.0h0.6v0.6h-0.6zM436.6 68.3h0.6v0.6h-0.6zM426.9 64.6h0.6v0.6h-0.6zM421.5 51.0h0.6v0.6h-0.6zM437.1 64.8h0.6v0.6h-0.6zM435.1 64.1h0.6v0.6h-0.6zM425.2 61.1h0.6v0.6h-0.6zM427.3 59.1h0.6v0.6h-0.6zM430.9 76.3h0.6v0.6h-0.6zM433.5 63.1h0.6v0.6h-0.6zM431.1 61.7h0.6v0.6h-0.6zM440.4 67.6h0.6v0.6h-0.6zM425.0 65.7h0.6v0.6h-0.6zM435.2 59.7h0.6v0.6h-0.6zM428.9 63.8h0.6v0.6h-0.6zM434.4 63.2h0.6v0.6h-0.6zM427.7 58.5h0.6v0.6h-0.6zM414.4 66.1h0.6v0.6h-0.6zM438.5 63.2h0.6v0.6h-0.6zM432.6 68.6h0.6v0.6h-0.6zM426.8 75.1h0.6v0.6h-0.6zM450.3 63.2h0.6v0.6h-0.6zM426.4 56.8h0.6v0.6h-0.6z"/>
<path fill="#5a5a78" fill-opacity="0.7" d="M444.1 71.1h0.6v0.6h-0.6zM441.7 83.8h0.6v0.6h-0.6zM440.9 81.9h0.6v0.6h-0.6zM442.7 88.4h0.6v0.6h-0.6zM442.7 90.1h0.6v0.6h-0.6zM443.8 79.1h0.6v0.6h-0.6zM442.7 67.7h0.6v0.6h-0.6zM444.0 91.0h0.6v0.6h-0.6zM442.2 83.4h0.6v0.6h-0.6zM442.4 92.7h0.6v0.6h-0.6zM444.2 59.4h0.6v0.6h-0.6zM442.2 51.8h0.6v0.6h-0.6zM443.2 91.2h0.6v0.6h-0.6zM442.3 83.0h0.6v0.6h-0.6zM443.9 79.7h0.6v0.6h-0.6zM444.0 87.7h0.6v0.6h-0.6zM443.6 53.0h0.6v0.6h-0.6zM444.0 89.1h0.6v0.6h-0.6zM444.0 82.0h0.6v0.6h-0.6zM442.9 59.0h0.6v0.6h-0.6zM443.1 63.0h0.6v0.6h-0.6zM445.7 84.9h0.6v0.6h-0.6zM443.3 67.7h0.6v0.6h-0.6zM441.8 44.3h0.6v0.6h-0.6zM442.4 57.3h0.6v0.6h-0.6zM441.8 60.7h0.6v0.6h-0.6zM444.2 80.2h0.6v0.6h-0.6zM441.7 90.7h0.6v0.6h-0.6zM443.5 83.2h0.6v0.6h-0.6zM441.8 69.1h0.6v0.6h-0.6zM442.3 86.1h0.6v0.6h-0.6zM445.2 67.8h0.6v0.6h-0.6zM443.4 90.3h0.6v0.6h-0.6zM443.7 89.5h0.6v0.6h-0.6zM445.1 84.0h0.6v0.6h-0.6zM444.7 60.6h0.6v0.6h-0.6zM444.9 87.5h0.6v0.6h-0.6zM441.8 82.4h0.6v0.6h-0.6zM444.8 67.6h0.6v0.6h-0.6zM443.8 64.8h0.6v0.6h-0.6zM441.6 89.2h0.6v0.6h-0.6zM444.3 85.7h0.6v0.6h-0.6zM440.0 87.5h0.6v0.6h-0.6zM445.0 85.4h0.6v0.6h-0.6zM444.2 80.6h0.6v0.6h-0.6zM443.0 63.4h0.6v0.6h-0.6zM443.7 61.6h0.6v0.6h-0.6zM443.6 77.3h0.6v0.6h-0.6zM444.4 81.9h0.6v0.6h-0.6zM444.3 45.5h0.6v0.6h-0.6zM443.0 79.8h0.6v0.6h-0.6zM444.4 71.6h0.6v0.6h-0.6zM441.3 75.6h0.6v0.6h-0.6zM441.5 83.4h0.6v0.6h-0.6zM444.4 57.8h0.6v0.6h-0.6zM443.4 60.3h0.6v0.6h-0.6zM443.1 81.4h0.6v0.6h-0.6zM442.5 81.8h0.6v0.6h-0.6zM443.6 83.4h0.6v0.6h-0.6zM443.5 80.1h0.6v0.6h-0.6zM441.3 55.8h0.6v0.6h-0.6zM444.0 42.6h0.6v0.6h-0.6zM444.0 90.5h0.6v0.6h-0.6zM441.6 56.8h0.6v0.6h-0.6zM442.2 89.0h0.6v0.6h-0.6zM442.6 88.9h0.6v0.6h-0.6zM445.6 59.4h0.6v0.6h-0.6zM442.1 81.5h0.6v0.6h-0.6zM445.7 73.4h0.6v0.6h-0.6zM441.0 84.5h0.6v0.6h-0.6zM443.8 72.5h0.6v0.6h-0.6zM443.7 72.5h0.6v0.6h-0.6zM444.1 78.6h0.6v0.6h-0.6zM443.7 78.3h0.6v0.6h-0.6zM443.1 54.1h0.6v0.6h-0.6zM443.9 62.7h0.6v0.6h-0.6zM441.7 62.9h0.6v0.6h-0.6zM443.7 94.0h0.6v0.6h-0.6zM443.8 86.7h0.6v0.6h-0.6zM441.9 87.4h0.6v0.6h-0.6zM445.2 82.2h0.6v0.6h-0.6zM442.9 90.3h0.6v0.6h-0.6zM442.6 61.5h0.6v0.6h-0.6zM443.4 80.0h0.6v0.6h-0.6zM442.7 65.8h0.6v0.6h-0.6zM442.8 54.9h0.6v0.6h-0.6zM442.4 85.3h0.6v0.6h-0.6zM442.0 81.2h0.6v0.6h-0.6zM444.3 67.4h0.6v0.6h-0.6zM443.9 88.2h0.6v0.6h-0.6zM443.3 58.0h0.6v0.6h-0.6zM444.8 56.0h0.6v0.6h-0.6zM443.6 52.2h0.6v0.6h-0.6zM443.9 60.3h0.6v0.6h-0.6zM443.0 78.9h0.6v0.6h-0.6zM441.8 73.9h0.6v0.6h-0.6zM443.2 89.7h0.6v0.6h-0.6zM443.4 70.2h0.6v0.6h-0.6zM443.1 77.7h0.6v0.6h-0.6zM442.6 71.3h0.6v0.6h-0.6zM441.1 63.2h0.6v0.6h-0.6zM443.2 42.0h0.6v0.6h-0.6zM445.5 82.0h0.6v0.6h-0.6zM440.0 52.1h0.6v0.6h-0.6zM441.8 88.2h0.6v0.6h-0.6zM443.7 73.0h0.6v0.6h-0.6zM444.2 73.5h0.6v0.6h-0.6zM446.5 54.3h0.6v0.6h-0.6zM442.9 85.2h0.6v0.6h-0.6zM443.6 89.7h0.6v0.6h-0.6zM441.9 61.2h0.6v0.6h-0.6zM444.1 71.8h0.6v0.6h-0.6zM445.5 82.0h0.6v0.6h-0.6zM443.4 81.6h0.6v0.6h-0.6zM441.1 76.9h0.6v0.6h-0.6z"/>
<path fill="#66668a" fill-opacity="0.7" d="M442.4 93.0h0.6v0.6h-0.6zM441.7 77.0h0.6v0.6h-0.6zM446.4 81.4h0.6v0.6h-0.6zM442.0 64.1h0.6v0.6h-0.6zM439.4 66.7h0.6v0.6h-0.6zM443.4 72.1h0.6v0.6h-0.6zM440.0 92.3h0.6v0.6h-0.6zM445.3 72.3h0.6v0.6h-0.6zM442.1 45.2h0.6v0.6h-0.6zM442.8 93.0h0.6v0.6h-0.6zM442.4 57.6h0.6v0.6h-0.6zM442.5 78.1h0.6v0.6h-0.6zM443.7 73.9h0.6v0.6h-0.6zM442.3 79.3h0.6v0.6h-0.6zM443.0 46.1h0.6v0.6h-0.6zM443.7 82.6h0.6v0.6h-0.6zM446.3 73.5h0.6v0.6h-0.6zM443.9 91.9h0.6v0.6h-0.6zM445.0 84.1h0.6v0.6h-0.6zM443.6 50.2h0.6v0.6h-0.6zM442.5 93.4h0.6v0.6h-0.6zM443.0 68.6h0.6v0.6h-0.6zM442.9 62.7h0.6v0.6h-0.6zM442.4 70.8h0.6v0.6h-0.6zM443.2 68.3h0.6v0.6h-0.6zM442.8 93.7h0.6v0.6h-0.6zM443.2 42.0h0.6v0.6h-0.6zM441.1 80.6h0.6v0.6h-0.6zM441.3 89.5h0.6v0.6h-0.6zM445.0 73.3h0.6v0.6h-0.6zM442.4 81.7h0.6v0.6h-0.6zM444.7 74.2h0.6v0.6h-0.6zM444.0 93.6h0.6v0.6h-0.6zM442.9 64.7h0.6v0.6h-0.6zM442.1 54.4h0.6v0.6h-0.6zM441.4 83.5h0.6v0.6h-0.6zM443.2 60.5h0.6v0.6h-0.6zM444.0 82.7h0.6v0.6h-0.6zM442.7 75.5h0.6v0.6h-0.6zM442.6 81.7h0.6v0.6h-0.6zM442.7 71.2h0.6v0.6h-0.6zM443.2 60.0h0.6v0.6h-0.6zM443.3 83.3h0.6v0.6h-0.6zM442.2 76.7h0.6v0.6h-0.6zM440.6 62.8h0.6v0.6h-0.6zM441.5 82.6h0.6v0.6h-0.6zM443.9 67.9h0.6v0.6h-0.6zM445.0 65.3h0.6v0.6h-0.6zM441.1 87.5h0.6v0.6h-0.6zM443.0 73.8h0.6v0.6h-0.6zM442.4 83.1h0.6v0.6h-0.6zM441.5 92.5h0.6v0.6h-0.6zM442.6 66.2h0.6v0.6h-0.6zM443.8 60.9h0.6v0.6h-0.6zM442.3 59.6h0.6v0.6h-0.6zM443.3 79.8h0.6v0.6h-0.6zM443.0 59.8h0.6v0.6h-0.6zM444.2 79.9h0.6v0.6h-0.6zM444.0 44.8h0.6v0.6h-0.6zM444.3 79.9h0.6v0.6h-0.6zM443.7 73.2h0.6v0.6h-0.6zM443.9 80.5h0.6v0.6h-0.6zM443.3 91.8h0.6v0.6h-0.6zM443.2 83.2h0.6v0.6h-0.6zM443.0 89.3h0.6v0.6h-0.6zM441.4 74.0h0.6v0.6h-0.6zM440.2 87.8h0.6v0.6h-0.6zM441.8 77.6h0.6v0.6h-0.6zM441.3 92.6h0.6v0.6h-0.6zM442.3 74.7h0.6v0.6h-0.6zM443.5 86.1h0.6v0.6h-0.6zM444.4 75.6h0.6v0.6h-0.6zM440.9 81.3h0.6v0.6h-0.6zM441.7 70.3h0.6v0.6h-0.6zM444.1 55.3h0.6v0.6h-0.6zM444.4 91.4h0.6v0.6h-0.6zM443.0 86.0h0.6v0.6h-0.6zM442.0 69.5h0.6v0.6h-0.6zM445.0 78.7h0.6v0.6h-0.6zM442.4 71.8h0.6v0.6h-0.6zM443.6 72.5h0.6v0.6h-0.6zM441.6 60.7h0.6v0.6h-0.6zM445.6 87.7h0.6v0.6h-0.6zM440.1 58.8h0.6v0.6h-0.6zM440.6 81.7h0.6v0.6h-0.6zM443.5 84.6h0.6v0.6h-0.6zM443.0 87.2h0.6v0.6h-0.6zM442.1 82.9h0.6v0.6h-0.6zM442.4 81.5h0.6v0.6h-0.6zM445.2 50.9h0.6v0.6h-0.6zM442.9 74.0h0.6v0.6h-0.6zM444.7 63.6h0.6v0.6h-0.6zM441.3 79.6h0.6v0.6h-0.6zM442.4 66.2h0.6v0.6h-0.6zM442.3 57.6h0.6v0.6h-0.6zM442.2 70.0h0.6v0.6h-0.6zM446.6 83.6h0.6v0.6h-0.6zM443.8 89.5h0.6v0.6h-0.6zM442.0 74.7h0.6v0.6h-0.6zM443.2 88.8h0.6v0.6h-0.6zM442.4 81.0h0.6v0.6h-0.6zM441.3 59.5h0.6v0.6h-0.6zM443.4 63.4h0.6v0.6h-0.6zM443.7 81.5h0.6v0.6h-0.6zM443.6 87.7h0.6v0.6h-0.6zM442.2 82.5h0.6v0.6h-0.6zM440.2 79.5h0.6v0.6h-0.6zM445.2 77.4h0.6v0.6h-0.6zM443.3 76.6h0.6v0.6h-0.6zM445.5 91.5h0.6v0.6h-0.6zM442.4 73.6h0.6v0.6h-0.6zM440.7 61.2h0.6v0.6h-0.6zM445.0 77.2h0.6v0.6h-0.6zM443.5 90.0h0.6v0.6h-0.6zM444.0 92.3h0.6v0.6h-0.6zM443.5 90.6h0.6v0.6h-0.6zM441.8 89.3h0.6v0.6h-0.6zM443.1 59.3h0.6v0.6h-0.6zM443.3 63.0h0.6v0.6h-0.6zM443.5 87.2h0.6v0.6h-0.6zM443.1 70.8h0.6v0.6h-0.6zM442.3 55.5h0.6v0.6h-0.6z"/>
<path fill="#6a6a84" fill-opacity="0.7" d="M443.7 89.9h0.6v0.6h-0.6zM444.5 76.5h0.6v0.6h-0.6zM442.1 61.8h0.6v0.6h-0.6zM443.5 81.7h0.6v0.6h-0.6zM444.1 70.8h0.6v0.6h-0.6zM440.8 76.8h0.6v0.6h-0.6zM444.2 73.3h0.6v0.6h-0.6zM442.4 53.8h0.6v0.6h-0.6zM442.2 66.9h0.6v0.6h-0.6zM442.4 88.3h0.6v0.6h-0.6zM442.2 92.7h0.6v0.6h-0.6zM443.0 52.2h0.6v0.6h-0.6zM442.7 92.1h0.6v0.6h-0.6zM442.7 79.8h0.6v0.6h-0.6zM440.5 73.8h0.6v0.6h-0.6zM442.6 72.2h0.6v0.6h-0.6zM443.6 86.2h0.6v0.6h-0.6zM444.8 66.3h0.6v0.6h-0.6zM445.2 42.9h0.6v0.6h-0.6zM443.4 45.7h0.6v0.6h-0.6zM442.5 58.6h0.6v0.6h-0.6zM442.2 91.8h0.6v0.6h-0.6zM443.9 65.2h0.6v0.6h-0.6zM443.2 62.9h0.6v0.6h-0.6zM443.5 69.7h0.6v0.6h-0.6zM443.7 72.6h0.6v0.6h-0.6zM443.4 70.4h0.6v0.6h-0.6zM442.1 79.9h0.6v0.6h-0.6zM442.1 85.6h0.6v0.6h-0.6zM443.7 88.5h0.6v0.6h-0.6zM442.6 84.1h0.6v0.6h-0.6zM444.4 80.4h0.6v0.6h-0.6zM442.3 88.3h0.6v0.6h-0.6zM445.0 89.7h0.6v0.6h-0.6zM443.1 56.1h0.6v0.6h-0.6zM443.4 50.7h0.6v0.6h-0.6zM445.0 78.8h0.6v0.6h-0.6zM442.4 88.4h0.6v0.6h-0.6zM443.8 53.0h0.6v0.6h-0.6zM443.3 51.3h0.6v0.6h-0.6zM442.2 93.3h0.6v0.6h-0.6zM442.2 73.4h0.6v0.6h-0.6zM441.4 74.7h0.6v0.6h-0.6zM441.6 87.5h0.6v0.6h-0.6zM444.7 91.5h0.6v0.6h-0.6zM443.8 81.0h0.6v0.6h-0.6zM444.5 88.6h0.6v0.6h-0.6zM442.4 78.1h0.6v0.6h-0.6zM440.7 87.7h0.6v0.6h-0.6zM442.2 71.4h0.6v0.6h-0.6zM443.6 91.3h0.6v0.6h-0.6zM444.5 85.0h0.6v0.6h-0.6zM442.0 83.7h0.6v0.6h-0.6zM443.1 76.6h0.6v0.6h-0.6zM442.4 60.5h0.6v0.6h-0.6zM442.5 84.5h0.6v0.6h-0.6zM442.9 52.5h0.6v0.6h-0.6zM442.0 73.1h0.6v0.6h-0.6zM440.6 60.1h0.6v0.6h-0.6zM444.0 86.5h0.6v0.6h-0.6zM441.7 76.6h0.6v0.6h-0.6zM443.6 64.2h0.6v0.6h-0.6zM439.6 90.9h0.6v0.6h-0.6zM440.7 84.0h0.6v0.6h-0.6zM445.4 84.8h0.6v0.6h-0.6zM443.2 78.9h0.6v0.6h-0.6zM443.3 72.9h0.6v0.6h-0.6zM442.8 78.5h0.6v0.6h-0.6zM440.6 66.2h0.6v0.6h-0.6zM443.7 92.0h0.6v0.6h-0.6zM441.1 93.1h0.6v0.6h-0.6zM442.7 64.3h0.6v0.6h-0.6zM443.7 66.2h0.6v0.6h-0.6zM441.5 90.5h0.6v0.6h-0.6zM443.4 89.8h0.6v0.6h-0.6zM443.5 74.9h0.6v0.6h-0.6zM444.4 89.1h0.6v0.6h-0.6zM443.6 73.8h0.6v0.6h-0.6zM442.7 81.2h0.6v0.6h-0.6zM442.8 82.3h0.6v0.6h-0.6zM440.9 88.3h0.6v0.6h-0.6zM444.3 88.7h0.6v0.6h-0.6zM445.9 82.2h0.6v0.6h-0.6zM442.2 89.8h0.6v0.6h-0.6zM442.8 83.8h0.6v0.6h-0.6zM444.2 81.9h0.6v0.6h-0.6zM443.7 93.7h0.6v0.6h-0.6zM443.8 90.3h0.6v0.6h-0.6zM442.8 84.2h0.6v0.6h-0.6zM444.5 85.5h0.6v0.6h-0.6zM442.3 66.5h0.6v0.6h-0.6zM444.7 88.4h0.6v0.6h-0.6zM444.8 64.5h0.6v0.6h-0.6zM442.8 81.1h0.6v0.6h-0.6zM443.8 90.1h0.6v0.6h-0.6zM443.4 59.9h0.6v0.6h-0.6zM441.4 87.2h0.6v0.6h-0.6zM444.2 90.8h0.6v0.6h-0.6zM442.8 83.1h0.6v0.6h-0.6zM441.7 70.2h0.6v0.6h-0.6zM443.5 93.7h0.6v0.6h-0.6zM443.9 72.9h0.6v0.6h-0.6zM444.1 89.9h0.6v0.6h-0.6zM442.9 93.3h0.6v0.6h-0.6zM443.5 64.0h0.6v0.6h-0.6zM441.4 76.6h0.6v0.6h-0.6zM442.8 78.1h0.6v0.6h-0.6zM442.6 93.4h0.6v0.6h-0.6zM445.0 91.1h0.6v0.6h-0.6zM441.5 89.8h0.6v0.6h-0.6zM442.6 87.6h0.6v0.6h-0.6zM441.4 57.5h0.6v0.6h-0.6zM443.0 86.6h0.6v0.6h-0.6zM443.1 83.7h0.6v0.6h-0.6zM445.1 73.4h0.6v0.6h-0.6zM444.0 90.2h0.6v0.6h-0.6zM440.9 76.7h0.6v0.6h-0.6zM442.6 87.1h0.6v0.6h-0.6zM443.6 85.3h0.6v0.6h-0.6zM442.7 86.8h0.6v0.6h-0.6zM440.3 74.3h0.6v0.6h-0.6zM442.2 67.7h0.6v0.6h-0.6zM443.2 87.0h0.6v0.6h-0.6zM443.2 73.0h0.6v0.6h-0.6zM442.8 75.2h0.6v0.6h-0.6zM443.6 89.1h0.6v0.6h-0.6zM443.3 93.9h0.6v0.6h-0.6zM446.1 92.9h0.6v0.6h-0.6zM442.2 70.2h0.6v0.6h-0.6zM443.1 67.4h0.6v0.6h-0.6zM442.4 78.1h0.6v0.6h-0.6zM442.8 76.4h0.6v0.6h-0.6zM441.9 65.7h0.6v0.6h-0.6z"/>
<path fill="#505070" fill-opacity="0.7" d="M443.8 49.6h0.6v0.6h-0.6zM442.1 89.8h0.6v0.6h-0.6zM445.2 74.7h0.6v0.6h-0.6zM442.7 93.8h0.6v0.6h-0.6zM444.7 64.6h0.6v0.6h-0.6zM441.8 75.0h0.6v0.6h-0.6zM443.2 92.0h0.6v0.6h-0.6zM443.6 63.3h0.6v0.6h-0.6zM442.5 76.3h0.6v0.6h-0.6zM442.8 67.1h0.6v0.6h-0.6zM440.1 66.6h0.6v0.6h-0.6zM442.6 84.6h0.6v0.6h-0.6zM443.3 61.7h0.6v0.6h-0.6zM442.4 92.3h0.6v0.6h-0.6zM443.8 87.6h0.6v0.6h-0.6zM441.6 77.0h0.6v0.6h-0.6zM442.1 78.3h0.6v0.6h-0.6zM443.8 79.6h0.6v0.6h-0.6zM442.2 82.2h0.6v0.6h-0.6zM445.2 73.3h0.6v0.6h-0.6zM442.3 54.0h0.6v0.6h-0.6zM441.9 51.3h0.6v0.6h-0.6zM442.7 82.2h0.6v0.6h-0.6zM441.7 67.8h0.6v0.6h-0.6zM444.0 76.6h0.6v0.6h-0.6zM445.8 86.2h0.6v0.6h-0.6zM444.2 76.0h0.6v0.6h-0.6zM443.0 59.1h0.6v0.6h-0.6zM443.4 83.8h0.6v0.6h-0.6zM443.7 49.3h0.6v0.6h-0.6zM442.0 87.0h0.6v0.6h-0.6zM442.8 75.1h0.6v0.6h-0.6zM441.2 80.8h0.6v0.6h-0.6zM442.8 74.7h0.6v0.6h-0.6zM442.6 92.5h0.6v0.6h-0.6zM443.1 80.0h0.6v0.6h-0.6zM444.1 65.5h0.6v0.6h-0.6zM444.6 85.8h0.6v0.6h-0.6zM443.4 89.2h0.6v0.6h-0.6zM442.2 68.4h0.6v0.6h-0.6zM440.2 85.6h0.6v0.6h-0.6zM441.8 45.7h0.6v0.6h-0.6zM442.6 57.4h0.6v0.6h-0.6zM443.5 75.4h0.6v0.6h-0.6zM442.6 80.1h0.6v0.6h-0.6zM442.1 51.9h0.6v0.6h-0.6zM442.4 91.6h0.6v0.6h-0.6zM442.7 73.7h0.6v0.6h-0.6zM441.0 68.8h0.6v0.6h-0.6zM441.9 91.2h0.6v0.6h-0.6zM442.4 78.6h0.6v0.6h-0.6zM444.4 82.8h0.6v0.6h-0.6zM444.3 87.5h0.6v0.6h-0.6zM443.9 73.4h0.6v0.6h-0.6zM442.9 77.7h0.6v0.6h-0.6zM443.4 67.8h0.6v0.6h-0.6zM442.9 89.6h0.6v0.6h-0.6zM441.1 78.0h0.6v0.6h-0.6zM442.8 81.3h0.6v0.6h-0.6zM442.2 66.0h0.6v0.6h-0.6zM443.7 60.4h0.6v0.6h-0.6zM442.3 65.5h0.6v0.6h-0.6zM440.6 69.3h0.6v0.6h-0.6zM444.1 74.3h0.6v0.6h-0.6zM442.8 68.4h0.6v0.6h-0.6zM443.3 81.7h0.6v0.6h-0.6zM444.5 77.6h0.6v0.6h-0.6zM444.6 77.6h0.6v0.6h-0.6zM442.2 63.4h0.6v0.6h-0.6zM443.8 88.7h0.6v0.6h-0.6zM442.6 88.8h0.6v0.6h-0.6zM441.1 71.8h0.6v0.6h-0.6zM443.9 92.0h0.6v0.6h-0.6zM444.6 69.2h0.6v0.6h-0.6zM442.9 69.0h0.6v0.6h-0.6zM443.3 57.8h0.6v0.6h-0.6zM443.3 89.7h0.6v0.6h-0.6zM444.0 50.6h0.6v0.6h-0.6zM442.6 77.7h0.6v0.6h-0.6zM444.5 79.7h0.6v0.6h-0.6zM442.5 83.2h0.6v0.6h-0.6zM442.0 68.8h0.6v0.6h-0.6zM439.4 84.6h0.6v0.6h-0.6zM444.8 87.6h0.6v0.6h-0.6zM441.7 89.2h0.6v0.6h-0.6zM442.2 80.6h0.6v0.6h-0.6zM442.6 88.1h0.6v0.6h-0.6zM443.1 86.9h0.6v0.6h-0.6zM441.2 91.1h0.6v0.6h-0.6zM443.3 82.2h0.6v0.6h-0.6zM442.5 64.4h0.6v0.6h-0.6zM441.6 87.9h0.6v0.6h-0.6zM441.2 93.5h0.6v0.6h-0.6zM439.1 72.6h0.6v0.6h-0.6zM442.2 82.9h0.6v0.6h-0.6zM441.3 72.4h0.6v0.6h-0.6zM443.0 59.2h0.6v0.6h-0.6zM442.1 93.0h0.6v0.6h-0.6zM443.6 63.7h0.6v0.6h-0.6zM443.4 88.3h0.6v0.6h-0.6zM442.8 84.5h0.6v0.6h-0.6zM442.4 75.5h0.6v0.6h-0.6zM441.4 61.1h0.6v0.6h-0.6zM442.2 79.2h0.6v0.6h-0.6zM441.8 78.0h0.6v0.6h-0.6zM444.4 83.8h0.6v0.6h-0.6zM444.2 88.5h0.6v0.6h-0.6zM442.0 92.9h0.6v0.6h-0.6zM442.7 92.4h0.6v0.6h-0.6zM443.2 77.9h0.6v0.6h-0.6zM445.1 47.3h0.6v0.6h-0.6zM438.4 82.9h0.6v0.6h-0.6zM443.8 90.1h0.6v0.6h-0.6zM446.0 88.4h0.6v0.6h-0.6zM444.6 83.8h0.6v0.6h-0.6zM440.6 50.9h0.6v0.6h-0.6zM441.7 76.9h0.6v0.6h-0.6zM442.9 67.6h0.6v0.6h-0.6zM443.9 82.6h0.6v0.6h-0.6zM445.1 64.6h0.6v0.6h-0.6zM442.6 88.6h0.6v0.6h-0.6zM443.6 80.8h0.6v0.6h-0.6zM442.8 72.1h0.6v0.6h-0.6z"/>
<path fill="#5a5a78" fill-opacity="0.6" d="M441.2 73.6h0.6v0.6h-0.6zM442.2 92.2h0.6v0.6h-0.6zM443.2 92.4h0.6v0.6h-0.6zM440.1 83.0h0.6v0.6h-0.6zM443.1 88.7h0.6v0.6h-0.6zM439.4 87.0h0.6v0.6h-0.6zM442.3 85.9h0.6v0.6h-0.6zM441.7 88.6h0.6v0.6h-0.6zM441.3 79.2h0.6v0.6h-0.6zM441.9 86.2h0.6v0.6h-0.6zM441.0 78.9h0.6v0.6h-0.6zM444.0 78.5h0.6v0.6h-0.6zM442.1 79.5h0.6v0.6h-0.6zM440.9 85.8h0.6v0.6h-0.6zM442.5 84.3h0.6v0.6h-0.6zM444.5 91.4h0.6v0.6h-0.6zM441.2 86.3h0.6v0.6h-0.6zM444.8 87.1h0.6v0.6h-0.6zM443.2 88.0h0.6v0.6h-0.6zM438.9 76.5h0.6v0.6h-0.6zM437.5 83.3h0.6v0.6h-0.6zM442.0 88.4h0.6v0.6h-0.6zM441.4 83.5h0.6v0.6h-0.6zM437.8 82.7h0.6v0.6h-0.6zM442.5 81.8h0.6v0.6h-0.6zM439.3 88.7h0.6v0.6h-0.6zM438.8 85.5h0.6v0.6h-0.6zM440.2 86.7h0.6v0.6h-0.6zM440.9 83.0h0.6v0.6h-0.6zM442.3 74.0h0.6v0.6h-0.6zM440.5 83.0h0.6v0.6h-0.6zM439.9 77.1h0.6v0.6h-0.6zM440.7 86.5h0.6v0.6h-0.6zM440.3 88.3h0.6v0.6h-0.6zM444.5 68.8h0.6v0.6h-0.6zM439.8 82.5h0.6v0.6h-0.6zM438.1 85.7h0.6v0.6h-0.6zM439.2 91.2h0.6v0.6h-0.6zM440.8 73.6h0.6v0.6h-0.6z"/>
<path fill="#6a6a84" fill-opacity="0.6" d="M441.4 89.9h0.6v0.6h-0.6zM442.8 82.1h0.6v0.6h-0.6zM443.1 79.0h0.6v0.6h-0.6zM445.1 79.7h0.6v0.6h-0.6zM443.9 84.1h0.6v0.6h-0.6zM440.5 84.6h0.6v0.6h-0.6zM439.8 74.0h0.6v0.6h-0.6zM442.1 84.9h0.6v0.6h-0.6zM442.2 83.5h0.6v0.6h-0.6zM440.6 90.6h0.6v0.6h-0.6zM439.7 80.1h0.6v0.6h-0.6zM437.4 88.9h0.6v0.6h-0.6zM439.7 75.6h0.6v0.6h-0.6zM441.4 93.2h0.6v0.6h-0.6zM444.9 88.1h0.6v0.6h-0.6zM439.7 79.4h0.6v0.6h-0.6zM440.6 71.7h0.6v0.6h-0.6zM438.1 86.8h0.6v0.6h-0.6zM444.2 88.3h0.6v0.6h-0.6zM438.7 68.1h0.6v0.6h-0.6zM438.7 87.9h0.6v0.6h-0.6zM443.2 81.0h0.6v0.6h-0.6zM437.9 83.1h0.6v0.6h-0.6zM442.8 83.9h0.6v0.6h-0.6zM440.3 88.9h0.6v0.6h-0.6zM441.0 90.5h0.6v0.6h-0.6zM440.1 83.2h0.6v0.6h-0.6zM440.2 90.5h0.6v0.6h-0.6zM440.4 80.2h0.6v0.6h-0.6z"/>
<path fill="#66668a" fill-opacity="0.6" d="M442.1 89.6h0.6v0.6h-0.6zM441.1 91.8h0.6v0.6h-0.6zM443.1 84.5h0.6v0.6h-0.6zM440.9 85.7h0.6v0.6h-0.6zM437.7 80.5h0.6v0.6h-0.6zM446.2 80.6h0.6v0.6h-0.6zM440.4 82.8h0.6v0.6h-0.6zM444.4 78.5h0.6v0.6h-0.6zM443.2 76.4h0.6v0.6h-0.6zM444.2 87.8h0.6v0.6h-0.6zM441.5 88.2h0.6v0.6h-0.6zM439.4 90.7h0.6v0.6h-0.6zM442.6 81.9h0.6v0.6h-0.6zM441.0 72.8h0.6v0.6h-0.6zM441.8 91.1h0.6v0.6h-0.6zM440.8 89.5h0.6v0.6h-0.6zM441.8 81.2h0.6v0.6h-0.6zM441.6 78.0h0.6v0.6h-0.6zM443.6 85.7h0.6v0.6h-0.6zM441.1 83.1h0.6v0.6h-0.6zM441.7 80.0h0.6v0.6h-0.6zM442.7 89.2h0.6v0.6h-0.6zM437.8 90.4h0.6v0.6h-0.6zM436.6 92.9h0.6v0.6h-0.6zM441.0 81.7h0.6v0.6h-0.6zM439.5 77.6h0.6v0.6h-0.6zM441.0 78.4h0.6v0.6h-0.6zM441.0 79.3h0.6v0.6h-0.6zM444.8 88.4h0.6v0.6h-0.6zM441.1 88.7h0.6v0.6h-0.6zM440.6 79.1h0.6v0.6h-0.6zM437.6 89.1h0.6v0.6h-0.6zM439.2 89.4h0.6v0.6h-0.6zM439.1 64.3h0.6v0.6h-0.6zM437.6 81.6h0.6v0.6h-0.6zM441.9 79.5h0.6v0.6h-0.6zM441.0 85.2h0.6v0.6h-0.6zM439.8 77.0h0.6v0.6h-0.6zM443.8 89.7h0.6v0.6h-0.6zM446.4 80.3h0.6v0.6h-0.6zM443.6 74.7h0.6v0.6h-0.6z"/>
<path fill="#505070" fill-opacity="0.6" d="M443.3 90.9h0.6v0.6h-0.6zM442.8 92.4h0.6v0.6h-0.6zM441.2 81.4h0.6v0.6h-0.6zM439.5 80.0h0.6v0.6h-0.6zM438.6 90.8h0.6v0.6h-0.6zM440.5 74.8h0.6v0.6h-0.6zM441.1 89.9h0.6v0.6h-0.6zM438.9 74.9h0.6v0.6h-0.6zM443.8 87.9h0.6v0.6h-0.6zM443.7 80.7h0.6v0.6h-0.6zM437.8 88.2h0.6v0.6h-0.6zM439.6 74.6h0.6v0.6h-0.6zM443.1 82.2h0.6v0.6h-0.6zM441.3 85.9h0.6v0.6h-0.6zM443.4 90.7h0.6v0.6h-0.6zM440.6 85.2h0.6v0.6h-0.6zM441.0 78.3h0.6v0.6h-0.6zM442.7 90.8h0.6v0.6h-0.6zM442.7 76.5h0.6v0.6h-0.6zM441.0 93.8h0.6v0.6h-0.6zM442.6 93.9h0.6v0.6h-0.6zM444.0 82.1h0.6v0.6h-0.6zM443.3 91.0h0.6v0.6h-0.6zM439.1 85.5h0.6v0.6h-0.6zM444.9 89.5h0.6v0.6h-0.6zM442.6 80.6h0.6v0.6h-0.6zM441.7 82.9h0.6v0.6h-0.6zM442.5 70.7h0.6v0.6h-0.6zM437.4 90.0h0.6v0.6h-0.6zM440.6 76.4h0.6v0.6h-0.6zM444.1 76.6h0.6v0.6h-0.6zM439.6 82.3h0.6v0.6h-0.6zM439.9 75.6h0.6v0.6h-0.6zM439.1 84.5h0.6v0.6h-0.6zM440.3 88.2h0.6v0.6h-0.6zM438.2 76.9h0.6v0.6h-0.6z"/>
<path fill="#98b040" fill-opacity="0.9" d="M442.9 77.4h0.6v0.6h-0.6zM442.3 80.1h0.6v0.6h-0.6zM442.9 83.5h0.6v0.6h-0.6zM443.0 81.8h0.6v0.6h-0.6zM443.0 79.6h0.6v0.6h-0.6zM443.5 84.2h0.6v0.6h-0.6zM441.9 89.7h0.6v0.6h-0.6zM443.8 90.4h0.6v0.6h-0.6zM444.9 79.5h0.6v0.6h-0.6zM444.7 89.2h0.6v0.6h-0.6zM443.6 92.2h0.6v0.6h-0.6zM443.7 82.1h0.6v0.6h-0.6zM443.5 80.4h0.6v0.6h-0.6zM444.1 82.2h0.6v0.6h-0.6zM443.7 83.9h0.6v0.6h-0.6zM445.0 90.3h0.6v0.6h-0.6zM443.9 79.1h0.6v0.6h-0.6zM443.4 77.3h0.6v0.6h-0.6zM441.4 80.8h0.6v0.6h-0.6zM442.8 79.0h0.6v0.6h-0.6zM444.0 84.0h0.6v0.6h-0.6zM444.3 76.9h0.6v0.6h-0.6zM443.3 87.1h0.6v0.6h-0.6zM444.9 86.0h0.6v0.6h-0.6zM444.2 87.1h0.6v0.6h-0.6zM443.9 90.8h0.6v0.6h-0.6zM442.6 87.0h0.6v0.6h-0.6zM443.9 82.2h0.6v0.6h-0.6zM442.5 86.6h0.6v0.6h-0.6zM442.0 92.1h0.6v0.6h-0.6zM442.6 81.6h0.6v0.6h-0.6zM442.9 82.5h0.6v0.6h-0.6zM441.9 87.8h0.6v0.6h-0.6zM443.5 76.7h0.6v0.6h-0.6zM444.1 86.0h0.6v0.6h-0.6zM444.9 79.1h0.6v0.6h-0.6zM442.5 88.0h0.6v0.6h-0.6zM443.6 88.0h0.6v0.6h-0.6zM442.7 88.9h0.6v0.6h-0.6zM442.5 86.6h0.6v0.6h-0.6zM442.5 77.8h0.6v0.6h-0.6zM443.2 85.3h0.6v0.6h-0.6zM442.1 79.5h0.6v0.6h-0.6zM441.4 85.8h0.6v0.6h-0.6zM445.4 90.2h0.6v0.6h-0.6zM443.0 88.4h0.6v0.6h-0.6zM442.8 80.2h0.6v0.6h-0.6zM443.2 88.6h0.6v0.6h-0.6zM442.2 85.2h0.6v0.6h-0.6zM443.1 92.4h0.6v0.6h-0.6zM442.8 76.9h0.6v0.6h-0.6zM441.3 78.2h0.6v0.6h-0.6zM444.1 81.3h0.6v0.6h-0.6zM442.8 78.3h0.6v0.6h-0.6zM442.1 79.3h0.6v0.6h-0.6z"/>
<path fill="#b0bc30" fill-opacity="0.9" d="M444.2 77.3h0.6v0.6h-0.6zM443.4 92.4h0.6v0.6h-0.6zM444.3 89.6h0.6v0.6h-0.6zM444.2 86.1h0.6v0.6h-0.6zM441.2 88.4h0.6v0.6h-0.6zM443.6 78.1h0.6v0.6h-0.6zM443.4 81.6h0.6v0.6h-0.6zM443.3 85.6h0.6v0.6h-0.6zM443.4 79.1h0.6v0.6h-0.6zM444.3 82.4h0.6v0.6h-0.6zM443.4 81.5h0.6v0.6h-0.6zM443.7 78.8h0.6v0.6h-0.6zM441.6 89.3h0.6v0.6h-0.6zM443.3 91.4h0.6v0.6h-0.6zM443.6 76.1h0.6v0.6h-0.6zM443.5 92.2h0.6v0.6h-0.6zM440.0 76.8h0.6v0.6h-0.6zM440.2 84.4h0.6v0.6h-0.6zM442.9 83.0h0.6v0.6h-0.6zM443.3 82.2h0.6v0.6h-0.6zM441.3 85.5h0.6v0.6h-0.6zM444.4 90.3h0.6v0.6h-0.6zM444.8 77.5h0.6v0.6h-0.6zM445.1 92.0h0.6v0.6h-0.6zM445.4 92.0h0.6v0.6h-0.6zM441.5 87.4h0.6v0.6h-0.6zM440.7 80.4h0.6v0.6h-0.6zM442.7 86.7h0.6v0.6h-0.6zM444.2 77.3h0.6v0.6h-0.6zM444.1 83.8h0.6v0.6h-0.6zM442.7 78.8h0.6v0.6h-0.6zM444.9 86.5h0.6v0.6h-0.6zM441.7 85.9h0.6v0.6h-0.6zM445.3 76.2h0.6v0.6h-0.6zM444.2 81.1h0.6v0.6h-0.6zM442.1 86.4h0.6v0.6h-0.6zM442.3 86.5h0.6v0.6h-0.6zM444.5 91.8h0.6v0.6h-0.6zM444.3 90.9h0.6v0.6h-0.6zM443.9 82.1h0.6v0.6h-0.6zM443.1 81.5h0.6v0.6h-0.6zM444.7 79.3h0.6v0.6h-0.6zM443.6 92.6h0.6v0.6h-0.6zM444.4 85.4h0.6v0.6h-0.6z"/>
<path fill="#c0c440" fill-opacity="0.9" d="M441.6 84.1h0.6v0.6h-0.6zM443.1 79.6h0.6v0.6h-0.6zM442.5 92.7h0.6v0.6h-0.6zM443.0 92.7h0.6v0.6h-0.6zM443.8 84.4h0.6v0.6h-0.6zM441.9 82.6h0.6v0.6h-0.6zM442.9 78.5h0.6v0.6h-0.6zM444.2 91.1h0.6v0.6h-0.6zM440.8 77.0h0.6v0.6h-0.6zM443.9 92.7h0.6v0.6h-0.6zM442.8 90.7h0.6v0.6h-0.6zM442.4 82.2h0.6v0.6h-0.6zM442.3 80.1h0.6v0.6h-0.6zM442.2 88.1h0.6v0.6h-0.6zM442.6 78.3h0.6v0.6h-0.6zM443.3 91.6h0.6v0.6h-0.6zM442.6 83.3h0.6v0.6h-0.6zM442.3 90.0h0.6v0.6h-0.6zM443.1 79.1h0.6v0.6h-0.6zM444.0 78.5h0.6v0.6h-0.6zM442.1 90.1h0.6v0.6h-0.6zM443.5 89.6h0.6v0.6h-0.6zM443.9 91.5h0.6v0.6h-0.6zM443.2 83.4h0.6v0.6h-0.6zM443.1 82.8h0.6v0.6h-0.6zM442.1 90.9h0.6v0.6h-0.6zM443.1 86.9h0.6v0.6h-0.6zM441.2 76.6h0.6v0.6h-0.6zM444.5 87.2h0.6v0.6h-0.6zM444.9 78.4h0.6v0.6h-0.6zM444.7 84.8h0.6v0.6h-0.6zM444.3 85.5h0.6v0.6h-0.6zM443.1 76.2h0.6v0.6h-0.6zM444.5 79.2h0.6v0.6h-0.6zM441.9 81.4h0.6v0.6h-0.6zM442.4 88.7h0.6v0.6h-0.6zM445.7 82.6h0.6v0.6h-0.6zM444.0 80.0h0.6v0.6h-0.6zM444.3 80.9h0.6v0.6h-0.6zM442.6 79.0h0.6v0.6h-0.6zM442.7 82.5h0.6v0.6h-0.6zM442.1 83.2h0.6v0.6h-0.6zM445.6 89.4h0.6v0.6h-0.6zM444.5 80.3h0.6v0.6h-0.6zM444.5 82.3h0.6v0.6h-0.6zM443.1 88.0h0.6v0.6h-0.6zM444.4 82.9h0.6v0.6h-0.6zM442.9 92.6h0.6v0.6h-0.6zM441.9 88.8h0.6v0.6h-0.6zM442.2 84.2h0.6v0.6h-0.6zM444.3 82.7h0.6v0.6h-0.6zM442.9 81.8h0.6v0.6h-0.6zM442.5 82.8h0.6v0.6h-0.6zM443.4 88.8h0.6v0.6h-0.6zM441.0 91.8h0.6v0.6h-0.6zM443.7 85.6h0.6v0.6h-0.6z"/>
<path fill="#a0b838" fill-opacity="0.9" d="M442.6 83.7h0.6v0.6h-0.6zM443.4 81.0h0.6v0.6h-0.6zM443.8 82.5h0.6v0.6h-0.6zM444.1 81.3h0.6v0.6h-0.6zM443.9 86.5h0.6v0.6h-0.6zM441.0 91.3h0.6v0.6h-0.6zM443.4 85.8h0.6v0.6h-0.6zM443.4 80.2h0.6v0.6h-0.6zM441.8 77.5h0.6v0.6h-0.6zM443.7 90.9h0.6v0.6h-0.6zM443.8 84.1h0.6v0.6h-0.6zM444.6 89.8h0.6v0.6h-0.6zM443.4 87.0h0.6v0.6h-0.6zM444.1 84.5h0.6v0.6h-0.6zM444.2 91.8h0.6v0.6h-0.6zM444.9 89.1h0.6v0.6h-0.6zM445.2 78.6h0.6v0.6h-0.6zM444.3 92.1h0.6v0.6h-0.6zM443.3 81.9h0.6v0.6h-0.6zM441.4 79.7h0.6v0.6h-0.6zM442.5 89.7h0.6v0.6h-0.6zM442.6 89.1h0.6v0.6h-0.6zM444.0 79.5h0.6v0.6h-0.6zM443.4 82.3h0.6v0.6h-0.6zM444.0 89.7h0.6v0.6h-0.6zM444.0 81.6h0.6v0.6h-0.6zM444.0 76.9h0.6v0.6h-0.6zM444.9 84.8h0.6v0.6h-0.6zM442.4 84.8h0.6v0.6h-0.6zM441.9 90.7h0.6v0.6h-0.6zM443.4 78.0h0.6v0.6h-0.6zM442.4 89.1h0.6v0.6h-0.6zM443.0 81.7h0.6v0.6h-0.6zM442.4 84.5h0.6v0.6h-0.6zM443.5 84.1h0.6v0.6h-0.6zM443.5 86.1h0.6v0.6h-0.6zM443.1 87.6h0.6v0.6h-0.6zM444.0 76.7h0.6v0.6h-0.6zM441.5 91.5h0.6v0.6h-0.6zM441.2 87.8h0.6v0.6h-0.6zM443.2 87.8h0.6v0.6h-0.6zM443.4 78.1h0.6v0.6h-0.6zM443.3 76.2h0.6v0.6h-0.6zM445.3 81.6h0.6v0.6h-0.6zM440.9 80.9h0.6v0.6h-0.6z"/>
</g>
<rect x="344.3" y="41.1" width="49.4" height="54.2" fill="none" stroke="#d4d4d4" stroke-width="0.5"/>
<rect x="401.9" y="41.2" width="53.3" height="53.8" fill="none" stroke="#d4d4d4" stroke-width="0.5"/>
<rect x="345" y="41.6" width="48.5" height="29.6" fill="none" stroke="#7a7a7a" stroke-width="0.6"/>
<rect x="402.2" y="41.6" width="51.3" height="29.6" fill="none" stroke="#7a7a7a" stroke-width="0.6"/>
<text x="371.7" y="50.2" font-size="6" text-anchor="middle" fill="#231f20" textLength="16.8" lengthAdjust="spacingAndGlyphs" stroke="#333" stroke-width="0.09">56.5%</text>
<text x="428" y="50.1" font-size="6" text-anchor="middle" fill="#231f20" textLength="16.8" lengthAdjust="spacingAndGlyphs" stroke="#333" stroke-width="0.09">13.9%</text>
<path d="M154.5,94.6 L156,93 L158,91 L160,88.5 L162,85.8 L163.5,84.4 L165,86 L167,89.2 L169,92.4 L170.5,93.8 L174,94 L178,93.5 L182,92.5 L185,91 L186.5,88 L187.5,82 L188.5,79.5 L189.4,73 L190.1,62 L190.7,50 L191.3,43.5 L191.8,49 L192.3,61 L192.9,76 L193.5,89 L194.2,94.6 Z" fill="#f6c066" fill-opacity="0.85" stroke="#f0a030" stroke-width="0.5"/>
<path d="M157,94.6 L160,93.9 L164,93.5 L168,93.3 L170,92.8 L172,92.4 L173.3,91.6 L174.3,90.8 L175.3,91.8 L177,91.4 L179,90.2 L180.5,88.2 L181.7,89.8 L183,89.4 L184,88.6 L185,89.6 L186.2,87 L187.2,80.5 L188,79.5 L188.8,82 L189.5,74 L190.1,62 L190.7,50 L191.3,42.6 L191.8,48 L192.3,60 L192.9,75 L193.5,88 L194.2,94.6 Z" fill="#64806a" fill-opacity="0.7" stroke="#2d5a48" stroke-width="0.45"/>
<rect x="148.3" y="40.7" width="54.3" height="54.4" fill="none" stroke="#666" stroke-width="0.85"/>
<text x="176.3" y="135.7" font-size="6.4" text-anchor="middle" fill="#333" textLength="45.6" lengthAdjust="spacingAndGlyphs" stroke="#333" stroke-width="0.09">Proliferation index</text>
<line x1="155.4" y1="141.4" x2="155.4" y2="188.3" stroke="#231f20" stroke-width="1.0" />
<line x1="152.8" y1="187.9" x2="155.4" y2="187.9" stroke="#231f20" stroke-width="1.0" />
<text x="149.9" y="190.132" font-size="6.2" text-anchor="end" fill="#262626"  stroke="#262626" stroke-width="0.06">0.0</text>
<line x1="152.8" y1="176.375" x2="155.4" y2="176.375" stroke="#231f20" stroke-width="1.0" />
<text x="149.9" y="178.607" font-size="6.2" text-anchor="end" fill="#262626"  stroke="#262626" stroke-width="0.06">0.5</text>
<line x1="152.8" y1="164.85000000000002" x2="155.4" y2="164.85000000000002" stroke="#231f20" stroke-width="1.0" />
<text x="149.9" y="167.08200000000002" font-size="6.2" text-anchor="end" fill="#262626"  stroke="#262626" stroke-width="0.06">1.0</text>
<line x1="152.8" y1="153.32500000000002" x2="155.4" y2="153.32500000000002" stroke="#231f20" stroke-width="1.0" />
<text x="149.9" y="155.55700000000002" font-size="6.2" text-anchor="end" fill="#262626"  stroke="#262626" stroke-width="0.06">1.5</text>
<line x1="152.8" y1="141.8" x2="155.4" y2="141.8" stroke="#231f20" stroke-width="1.0" />
<text x="149.9" y="144.032" font-size="6.2" text-anchor="end" fill="#262626"  stroke="#262626" stroke-width="0.06">2.0</text>
<rect x="161.9" y="153" width="13.0" height="35.30000000000001" fill="#F39200"/>
<line x1="168.4" y1="149.2" x2="168.4" y2="155.6" stroke="#2a2216" stroke-width="0.8" />
<line x1="165.3" y1="149.2" x2="171.5" y2="149.2" stroke="#2a2216" stroke-width="0.8" />
<line x1="165.3" y1="155.6" x2="171.5" y2="155.6" stroke="#2a2216" stroke-width="0.8" />
<rect x="182" y="156.2" width="12.199999999999989" height="32.10000000000002" fill="#116A4C"/>
<line x1="188.1" y1="152.2" x2="188.1" y2="160" stroke="#2a2216" stroke-width="0.8" />
<line x1="185.0" y1="152.2" x2="191.2" y2="152.2" stroke="#2a2216" stroke-width="0.8" />
<line x1="185.0" y1="160" x2="191.2" y2="160" stroke="#2a2216" stroke-width="0.8" />
<line x1="155" y1="188.3" x2="201" y2="188.3" stroke="#231f20" stroke-width="0.9" />
<text x="242.3" y="135.7" font-size="6.4" text-anchor="middle" fill="#333" textLength="41" lengthAdjust="spacingAndGlyphs" stroke="#333" stroke-width="0.09">Expansion index</text>
<line x1="220.5" y1="141.0" x2="220.5" y2="188.3" stroke="#231f20" stroke-width="1.0" />
<line x1="217.9" y1="187.9" x2="220.5" y2="187.9" stroke="#231f20" stroke-width="1.0" />
<text x="215.5" y="190.132" font-size="6.2" text-anchor="end" fill="#262626"  stroke="#262626" stroke-width="0.06">0</text>
<line x1="217.9" y1="178.6" x2="220.5" y2="178.6" stroke="#231f20" stroke-width="1.0" />
<text x="215.5" y="180.832" font-size="6.2" text-anchor="end" fill="#262626"  stroke="#262626" stroke-width="0.06">1</text>
<line x1="217.9" y1="169.3" x2="220.5" y2="169.3" stroke="#231f20" stroke-width="1.0" />
<text x="215.5" y="171.532" font-size="6.2" text-anchor="end" fill="#262626"  stroke="#262626" stroke-width="0.06">2</text>
<line x1="217.9" y1="160.0" x2="220.5" y2="160.0" stroke="#231f20" stroke-width="1.0" />
<text x="215.5" y="162.232" font-size="6.2" text-anchor="end" fill="#262626"  stroke="#262626" stroke-width="0.06">3</text>
<line x1="217.9" y1="150.7" x2="220.5" y2="150.7" stroke="#231f20" stroke-width="1.0" />
<text x="215.5" y="152.932" font-size="6.2" text-anchor="end" fill="#262626"  stroke="#262626" stroke-width="0.06">4</text>
<line x1="217.9" y1="141.4" x2="220.5" y2="141.4" stroke="#231f20" stroke-width="1.0" />
<text x="215.5" y="143.632" font-size="6.2" text-anchor="end" fill="#262626"  stroke="#262626" stroke-width="0.06">5</text>
<rect x="227.1" y="163.8" width="12.599999999999994" height="24.099999999999994" fill="#F39200"/>
<line x1="233.39999999999998" y1="152.8" x2="233.39999999999998" y2="172.9" stroke="#2a2216" stroke-width="0.8" />
<line x1="230.29999999999998" y1="152.8" x2="236.49999999999997" y2="152.8" stroke="#2a2216" stroke-width="0.8" />
<line x1="230.29999999999998" y1="172.9" x2="236.49999999999997" y2="172.9" stroke="#2a2216" stroke-width="0.8" />
<rect x="247.2" y="172.9" width="12.100000000000023" height="15.0" fill="#116A4C"/>
<line x1="253.25" y1="168.8" x2="253.25" y2="176.2" stroke="#2a2216" stroke-width="0.8" />
<line x1="250.15" y1="168.8" x2="256.35" y2="168.8" stroke="#2a2216" stroke-width="0.8" />
<line x1="250.15" y1="176.2" x2="256.35" y2="176.2" stroke="#2a2216" stroke-width="0.8" />
<line x1="220.1" y1="187.9" x2="266" y2="187.9" stroke="#231f20" stroke-width="0.9" />
<text x="308.3" y="135.7" font-size="6.4" text-anchor="middle" fill="#333" textLength="45" lengthAdjust="spacingAndGlyphs" stroke="#333" stroke-width="0.09">Replication index</text>
<line x1="286.4" y1="141.0" x2="286.4" y2="188.3" stroke="#231f20" stroke-width="1.0" />
<line x1="283.79999999999995" y1="187.9" x2="286.4" y2="187.9" stroke="#231f20" stroke-width="1.0" />
<text x="281.5" y="190.132" font-size="6.2" text-anchor="end" fill="#262626"  stroke="#262626" stroke-width="0.06">0</text>
<line x1="283.79999999999995" y1="178.6" x2="286.4" y2="178.6" stroke="#231f20" stroke-width="1.0" />
<text x="281.5" y="180.832" font-size="6.2" text-anchor="end" fill="#262626"  stroke="#262626" stroke-width="0.06">5</text>
<line x1="283.79999999999995" y1="169.3" x2="286.4" y2="169.3" stroke="#231f20" stroke-width="1.0" />
<text x="281.5" y="171.532" font-size="6.2" text-anchor="end" fill="#262626"  stroke="#262626" stroke-width="0.06">10</text>
<line x1="283.79999999999995" y1="160.0" x2="286.4" y2="160.0" stroke="#231f20" stroke-width="1.0" />
<text x="281.5" y="162.232" font-size="6.2" text-anchor="end" fill="#262626"  stroke="#262626" stroke-width="0.06">15</text>
<line x1="283.79999999999995" y1="150.7" x2="286.4" y2="150.7" stroke="#231f20" stroke-width="1.0" />
<text x="281.5" y="152.932" font-size="6.2" text-anchor="end" fill="#262626"  stroke="#262626" stroke-width="0.06">20</text>
<line x1="283.79999999999995" y1="141.4" x2="286.4" y2="141.4" stroke="#231f20" stroke-width="1.0" />
<text x="281.5" y="143.632" font-size="6.2" text-anchor="end" fill="#262626"  stroke="#262626" stroke-width="0.06">25</text>
<rect x="294" y="158.7" width="12.199999999999989" height="29.200000000000017" fill="#F39200"/>
<line x1="300.1" y1="150.8" x2="300.1" y2="164.9" stroke="#2a2216" stroke-width="0.8" />
<line x1="297.0" y1="150.8" x2="303.20000000000005" y2="150.8" stroke="#2a2216" stroke-width="0.8" />
<line x1="297.0" y1="164.9" x2="303.20000000000005" y2="164.9" stroke="#2a2216" stroke-width="0.8" />
<rect x="313.3" y="177.4" width="12.599999999999966" height="10.5" fill="#116A4C"/>
<line x1="319.6" y1="174.7" x2="319.6" y2="180.2" stroke="#2a2216" stroke-width="0.8" />
<line x1="316.5" y1="174.7" x2="322.70000000000005" y2="174.7" stroke="#2a2216" stroke-width="0.8" />
<line x1="316.5" y1="180.2" x2="322.70000000000005" y2="180.2" stroke="#2a2216" stroke-width="0.8" />
<line x1="286" y1="187.9" x2="332" y2="187.9" stroke="#231f20" stroke-width="0.9" />
<line x1="299.6" y1="145.1" x2="319" y2="145.1" stroke="#333" stroke-width="1.0" />
<text x="309.4" y="143.6" font-size="5" text-anchor="middle" fill="#231f20"  stroke="#231f20" stroke-width="0.06">*</text>
<text x="404.6" y="135.5" font-size="6.2" text-anchor="middle" fill="#333" textLength="24.6" lengthAdjust="spacingAndGlyphs" stroke="#333" stroke-width="0.09">Activation</text>
<line x1="374.2" y1="141.4" x2="374.2" y2="188.1" stroke="#231f20" stroke-width="1.0" />
<line x1="371.59999999999997" y1="187.7" x2="374.2" y2="187.7" stroke="#231f20" stroke-width="1.0" />
<text x="369.6" y="189.932" font-size="6.2" text-anchor="end" fill="#262626"  stroke="#262626" stroke-width="0.06">0</text>
<line x1="371.59999999999997" y1="176.225" x2="374.2" y2="176.225" stroke="#231f20" stroke-width="1.0" />
<text x="369.6" y="178.457" font-size="6.2" text-anchor="end" fill="#262626"  stroke="#262626" stroke-width="0.06">20</text>
<line x1="371.59999999999997" y1="164.75" x2="374.2" y2="164.75" stroke="#231f20" stroke-width="1.0" />
<text x="369.6" y="166.982" font-size="6.2" text-anchor="end" fill="#262626"  stroke="#262626" stroke-width="0.06">40</text>
<line x1="371.59999999999997" y1="153.275" x2="374.2" y2="153.275" stroke="#231f20" stroke-width="1.0" />
<text x="369.6" y="155.507" font-size="6.2" text-anchor="end" fill="#262626"  stroke="#262626" stroke-width="0.06">60</text>
<line x1="371.59999999999997" y1="141.8" x2="374.2" y2="141.8" stroke="#231f20" stroke-width="1.0" />
<text x="369.6" y="144.032" font-size="6.2" text-anchor="end" fill="#262626"  stroke="#262626" stroke-width="0.06">80</text>
<line x1="373.8" y1="187.7" x2="443.3" y2="187.7" stroke="#231f20" stroke-width="1.0" />
<text x="0" y="0" font-size="7" text-anchor="middle" font-weight="bold" fill="#231f20" stroke="#231f20" stroke-width="0.2" textLength="19.4" lengthAdjust="spacingAndGlyphs" transform="translate(356.4,174.4) rotate(-90)">CD25 %</text>
<line x1="354" y1="159.6" x2="354" y2="147.9" stroke="#555" stroke-width="1.3" />
<path d="M354,144 L351.9,148.4 L356.1,148.4 Z" fill="#231f20"/>
<line x1="394.4" y1="146.2" x2="424" y2="146.2" stroke="#333" stroke-width="1.0" />
<text x="409.3" y="144.6" font-size="5" text-anchor="middle" fill="#231f20"  stroke="#231f20" stroke-width="0.06">*</text>
<path d="M394.50,148.80 C394.70,149.07 395.10,149.80 395.70,150.40 C396.30,151.00 397.37,151.75 398.10,152.40 C398.83,153.05 399.70,153.77 400.10,154.30 C400.50,154.83 400.60,155.15 400.50,155.60 C400.40,156.05 399.77,156.50 399.50,157.00 C399.23,157.50 398.67,158.12 398.90,158.60 C399.13,159.08 400.03,159.45 400.90,159.90 C401.77,160.35 403.58,160.88 404.10,161.30 C404.62,161.72 404.37,162.02 404.00,162.40 C403.63,162.78 402.72,163.15 401.90,163.60 C401.08,164.05 399.95,164.57 399.10,165.10 C398.25,165.63 397.42,166.25 396.80,166.80 C396.18,167.35 395.78,167.93 395.40,168.40 C395.02,168.87 394.65,169.40 394.50,169.60 C394.35,169.80 394.65,169.80 394.50,169.60 C394.35,169.40 393.98,168.87 393.60,168.40 C393.22,167.93 392.82,167.35 392.20,166.80 C391.58,166.25 390.75,165.63 389.90,165.10 C389.05,164.57 387.92,164.05 387.10,163.60 C386.28,163.15 385.37,162.78 385.00,162.40 C384.63,162.02 384.38,161.72 384.90,161.30 C385.42,160.88 387.23,160.35 388.10,159.90 C388.97,159.45 389.87,159.08 390.10,158.60 C390.33,158.12 389.77,157.50 389.50,157.00 C389.23,156.50 388.60,156.05 388.50,155.60 C388.40,155.15 388.50,154.83 388.90,154.30 C389.30,153.77 390.17,153.05 390.90,152.40 C391.63,151.75 392.70,151.00 393.30,150.40 C393.90,149.80 394.30,149.07 394.50,148.80 C394.70,148.53 394.30,148.53 394.50,148.80 Z" fill="#F39200" stroke="#2b2b2b" stroke-width="0.6"/>
<line x1="390.5" y1="156.3" x2="398.5" y2="156.3" stroke="#8a4a00" stroke-width="0.45" stroke-dasharray="0.9 0.7"/>
<line x1="386.5" y1="161.3" x2="402.5" y2="161.3" stroke="#8a4a00" stroke-width="0.45" stroke-dasharray="0.9 0.7"/>
<line x1="389.5" y1="164.4" x2="399.5" y2="164.4" stroke="#8a4a00" stroke-width="0.45" stroke-dasharray="0.9 0.7"/>
<path d="M424.30,160.20 C424.48,160.47 424.93,161.17 425.40,161.80 C425.87,162.43 426.58,163.30 427.10,164.00 C427.62,164.70 428.20,165.37 428.50,166.00 C428.80,166.63 428.95,167.17 428.90,167.80 C428.85,168.43 428.45,169.13 428.20,169.80 C427.95,170.47 427.33,171.13 427.40,171.80 C427.47,172.47 427.88,173.10 428.60,173.80 C429.32,174.50 430.77,175.22 431.70,176.00 C432.63,176.78 433.82,177.83 434.20,178.50 C434.58,179.17 434.38,179.45 434.00,180.00 C433.62,180.55 432.75,181.20 431.90,181.80 C431.05,182.40 429.85,182.98 428.90,183.60 C427.95,184.22 426.97,184.90 426.20,185.50 C425.43,186.10 424.62,186.92 424.30,187.20 C423.98,187.48 424.62,187.48 424.30,187.20 C423.98,186.92 423.17,186.10 422.40,185.50 C421.63,184.90 420.65,184.22 419.70,183.60 C418.75,182.98 417.55,182.40 416.70,181.80 C415.85,181.20 414.98,180.55 414.60,180.00 C414.22,179.45 414.02,179.17 414.40,178.50 C414.78,177.83 415.97,176.78 416.90,176.00 C417.83,175.22 419.28,174.50 420.00,173.80 C420.72,173.10 421.13,172.47 421.20,171.80 C421.27,171.13 420.65,170.47 420.40,169.80 C420.15,169.13 419.75,168.43 419.70,167.80 C419.65,167.17 419.80,166.63 420.10,166.00 C420.40,165.37 420.98,164.70 421.50,164.00 C422.02,163.30 422.73,162.43 423.20,161.80 C423.67,161.17 424.12,160.47 424.30,160.20 C424.48,159.93 424.12,159.93 424.30,160.20 Z" fill="#116A4C" stroke="#2b2b2b" stroke-width="0.6"/>
<line x1="421.8" y1="171" x2="426.8" y2="171" stroke="#0a3a28" stroke-width="0.45" stroke-dasharray="0.9 0.7"/>
<line x1="416.3" y1="178.8" x2="432.3" y2="178.8" stroke="#0a3a28" stroke-width="0.45" stroke-dasharray="0.9 0.7"/>
<line x1="418.3" y1="182" x2="430.3" y2="182" stroke="#0a3a28" stroke-width="0.45" stroke-dasharray="0.9 0.7"/>
<text x="448.2" y="153.5" font-size="6.6" fill="#f4a843" textLength="34.8" lengthAdjust="spacingAndGlyphs"  stroke="#f4a843" stroke-width="0.06">Without ECP</text>
<text x="448.2" y="160.7" font-size="6.6" fill="#1f6d50" textLength="51.6" lengthAdjust="spacingAndGlyphs"  stroke="#1f6d50" stroke-width="0.06">With ECP (2 J/cm<tspan font-size="4" dy="-2.4">2</tspan><tspan dy="2.4">)</tspan></text>
<text x="61.6" y="221.2" font-size="6.9" text-anchor="middle" fill="#333" textLength="36.4" lengthAdjust="spacingAndGlyphs"  stroke="#333" stroke-width="0.06">IP-10 (pg/mL)</text>
<text x="162" y="221.2" font-size="6.9" text-anchor="middle" fill="#333" textLength="35.6" lengthAdjust="spacingAndGlyphs"  stroke="#333" stroke-width="0.06">IL-1β (pg/mL)</text>
<text x="263" y="221.2" font-size="6.9" text-anchor="middle" fill="#333" textLength="38.8" lengthAdjust="spacingAndGlyphs"  stroke="#333" stroke-width="0.06">TNF-α (pg/mL)</text>
<text x="359.5" y="221.2" font-size="6.9" text-anchor="middle" fill="#333" textLength="39.8" lengthAdjust="spacingAndGlyphs"  stroke="#333" stroke-width="0.06">IL-17A (pg/mL)</text>
<text x="467.1" y="221.2" font-size="6.9" text-anchor="middle" fill="#333" textLength="35.8" lengthAdjust="spacingAndGlyphs"  stroke="#333" stroke-width="0.06">IFN-γ (pg/mL)</text>
<line x1="23.2" y1="239.5" x2="23.2" y2="297.29999999999995" stroke="#231f20" stroke-width="1.0" />
<line x1="20.599999999999998" y1="296.9" x2="23.2" y2="296.9" stroke="#231f20" stroke-width="1.0" />
<text x="18.4" y="299.31199999999995" font-size="6.7" text-anchor="end" fill="#262626"  stroke="#262626" stroke-width="0.06">0</text>
<line x1="20.599999999999998" y1="282.65" x2="23.2" y2="282.65" stroke="#231f20" stroke-width="1.0" />
<text x="18.4" y="285.06199999999995" font-size="6.7" text-anchor="end" fill="#262626"  stroke="#262626" stroke-width="0.06">50</text>
<line x1="20.599999999999998" y1="268.4" x2="23.2" y2="268.4" stroke="#231f20" stroke-width="1.0" />
<text x="18.4" y="270.81199999999995" font-size="6.7" text-anchor="end" fill="#262626"  stroke="#262626" stroke-width="0.06">100</text>
<line x1="20.599999999999998" y1="254.15" x2="23.2" y2="254.15" stroke="#231f20" stroke-width="1.0" />
<text x="18.4" y="256.562" font-size="6.7" text-anchor="end" fill="#262626"  stroke="#262626" stroke-width="0.06">150</text>
<line x1="20.599999999999998" y1="239.9" x2="23.2" y2="239.9" stroke="#231f20" stroke-width="1.0" />
<text x="18.4" y="242.312" font-size="6.7" text-anchor="end" fill="#262626"  stroke="#262626" stroke-width="0.06">200</text>
<line x1="22.7" y1="296.9" x2="59.5" y2="296.9" stroke="#231f20" stroke-width="1.2" />
<text x="40.4" y="235.3" font-size="7" text-anchor="middle" fill="#2a2a2a" textLength="15.2" lengthAdjust="spacingAndGlyphs"  stroke="#2a2a2a" stroke-width="0.06">Day 2</text>
<line x1="33.8" y1="253.57999999999998" x2="49.4" y2="281.22499999999997" stroke="#262626" stroke-width="0.85" />
<line x1="33.8" y1="274.955" x2="49.4" y2="283.505" stroke="#262626" stroke-width="0.85" />
<line x1="33.8" y1="283.21999999999997" x2="49.4" y2="289.775" stroke="#262626" stroke-width="0.85" />
<line x1="33.8" y1="289.205" x2="49.4" y2="291.2" stroke="#262626" stroke-width="0.85" />
<line x1="33.8" y1="291.2" x2="49.4" y2="292.055" stroke="#262626" stroke-width="0.85" />
<line x1="33.8" y1="293.195" x2="49.4" y2="292.625" stroke="#262626" stroke-width="0.85" />
<circle cx="33.8" cy="253.58" r="1.5" fill="#F39200"/>
<circle cx="33.8" cy="274.95" r="1.5" fill="#F39200"/>
<circle cx="33.8" cy="283.22" r="1.5" fill="#F39200"/>
<circle cx="33.8" cy="289.20" r="1.5" fill="#F39200"/>
<circle cx="33.8" cy="291.20" r="1.5" fill="#F39200"/>
<circle cx="33.8" cy="293.19" r="1.5" fill="#F39200"/>
<rect x="47.9" y="279.72" width="3" height="3" fill="#116A4C"/>
<rect x="47.9" y="282.00" width="3" height="3" fill="#116A4C"/>
<rect x="47.9" y="288.27" width="3" height="3" fill="#116A4C"/>
<rect x="47.9" y="289.70" width="3" height="3" fill="#116A4C"/>
<rect x="47.9" y="290.56" width="3" height="3" fill="#116A4C"/>
<rect x="47.9" y="291.12" width="3" height="3" fill="#116A4C"/>
<line x1="65.4" y1="239.5" x2="65.4" y2="297.29999999999995" stroke="#231f20" stroke-width="1.0" />
<line x1="62.800000000000004" y1="296.9" x2="65.4" y2="296.9" stroke="#231f20" stroke-width="1.0" />
<line x1="62.800000000000004" y1="282.65" x2="65.4" y2="282.65" stroke="#231f20" stroke-width="1.0" />
<line x1="62.800000000000004" y1="268.4" x2="65.4" y2="268.4" stroke="#231f20" stroke-width="1.0" />
<line x1="62.800000000000004" y1="254.15" x2="65.4" y2="254.15" stroke="#231f20" stroke-width="1.0" />
<line x1="62.800000000000004" y1="239.9" x2="65.4" y2="239.9" stroke="#231f20" stroke-width="1.0" />
<line x1="64.9" y1="296.9" x2="102.3" y2="296.9" stroke="#231f20" stroke-width="1.2" />
<text x="81.5" y="235.3" font-size="7" text-anchor="middle" fill="#2a2a2a" textLength="15.2" lengthAdjust="spacingAndGlyphs"  stroke="#2a2a2a" stroke-width="0.06">Day 6</text>
<line x1="76.5" y1="257.0" x2="92.6" y2="272.96" stroke="#262626" stroke-width="0.85" />
<line x1="76.5" y1="271.82" x2="92.6" y2="274.66999999999996" stroke="#262626" stroke-width="0.85" />
<line x1="76.5" y1="276.95" x2="92.6" y2="287.78" stroke="#262626" stroke-width="0.85" />
<line x1="76.5" y1="283.78999999999996" x2="92.6" y2="288.91999999999996" stroke="#262626" stroke-width="0.85" />
<line x1="76.5" y1="285.5" x2="92.6" y2="289.775" stroke="#262626" stroke-width="0.85" />
<line x1="76.5" y1="288.91999999999996" x2="92.6" y2="291.2" stroke="#262626" stroke-width="0.85" />
<circle cx="76.5" cy="257.00" r="1.5" fill="#F39200"/>
<circle cx="76.5" cy="271.82" r="1.5" fill="#F39200"/>
<circle cx="76.5" cy="276.95" r="1.5" fill="#F39200"/>
<circle cx="76.5" cy="283.79" r="1.5" fill="#F39200"/>
<circle cx="76.5" cy="285.50" r="1.5" fill="#F39200"/>
<circle cx="76.5" cy="288.92" r="1.5" fill="#F39200"/>
<rect x="91.1" y="271.46" width="3" height="3" fill="#116A4C"/>
<rect x="91.1" y="273.17" width="3" height="3" fill="#116A4C"/>
<rect x="91.1" y="286.28" width="3" height="3" fill="#116A4C"/>
<rect x="91.1" y="287.42" width="3" height="3" fill="#116A4C"/>
<rect x="91.1" y="288.27" width="3" height="3" fill="#116A4C"/>
<rect x="91.1" y="289.70" width="3" height="3" fill="#116A4C"/>
<line x1="123.8" y1="239.5" x2="123.8" y2="297.29999999999995" stroke="#231f20" stroke-width="1.0" />
<line x1="121.2" y1="296.9" x2="123.8" y2="296.9" stroke="#231f20" stroke-width="1.0" />
<text x="119.0" y="299.31199999999995" font-size="6.7" text-anchor="end" fill="#262626"  stroke="#262626" stroke-width="0.06">0</text>
<line x1="121.2" y1="282.65" x2="123.8" y2="282.65" stroke="#231f20" stroke-width="1.0" />
<text x="119.0" y="285.06199999999995" font-size="6.7" text-anchor="end" fill="#262626"  stroke="#262626" stroke-width="0.06">5</text>
<line x1="121.2" y1="268.4" x2="123.8" y2="268.4" stroke="#231f20" stroke-width="1.0" />
<text x="119.0" y="270.81199999999995" font-size="6.7" text-anchor="end" fill="#262626"  stroke="#262626" stroke-width="0.06">10</text>
<line x1="121.2" y1="254.15" x2="123.8" y2="254.15" stroke="#231f20" stroke-width="1.0" />
<text x="119.0" y="256.562" font-size="6.7" text-anchor="end" fill="#262626"  stroke="#262626" stroke-width="0.06">15</text>
<line x1="121.2" y1="239.9" x2="123.8" y2="239.9" stroke="#231f20" stroke-width="1.0" />
<text x="119.0" y="242.312" font-size="6.7" text-anchor="end" fill="#262626"  stroke="#262626" stroke-width="0.06">20</text>
<line x1="123.3" y1="296.9" x2="160" y2="296.9" stroke="#231f20" stroke-width="1.2" />
<text x="141.3" y="235.3" font-size="7" text-anchor="middle" fill="#2a2a2a" textLength="15.2" lengthAdjust="spacingAndGlyphs"  stroke="#2a2a2a" stroke-width="0.06">Day 2</text>
<line x1="134.2" y1="256.145" x2="150.2" y2="264.695" stroke="#262626" stroke-width="0.85" />
<line x1="134.2" y1="258.995" x2="150.2" y2="284.645" stroke="#262626" stroke-width="0.85" />
<line x1="134.2" y1="261.275" x2="150.2" y2="278.375" stroke="#262626" stroke-width="0.85" />
<line x1="134.2" y1="264.98" x2="150.2" y2="286.35499999999996" stroke="#262626" stroke-width="0.85" />
<line x1="134.2" y1="274.955" x2="150.2" y2="288.34999999999997" stroke="#262626" stroke-width="0.85" />
<line x1="134.2" y1="279.22999999999996" x2="150.2" y2="290.06" stroke="#262626" stroke-width="0.85" />
<circle cx="134.2" cy="256.14" r="1.5" fill="#F39200"/>
<circle cx="134.2" cy="259.00" r="1.5" fill="#F39200"/>
<circle cx="134.2" cy="261.27" r="1.5" fill="#F39200"/>
<circle cx="134.2" cy="264.98" r="1.5" fill="#F39200"/>
<circle cx="134.2" cy="274.95" r="1.5" fill="#F39200"/>
<circle cx="134.2" cy="279.23" r="1.5" fill="#F39200"/>
<rect x="148.7" y="263.19" width="3" height="3" fill="#116A4C"/>
<rect x="148.7" y="283.14" width="3" height="3" fill="#116A4C"/>
<rect x="148.7" y="276.88" width="3" height="3" fill="#116A4C"/>
<rect x="148.7" y="284.85" width="3" height="3" fill="#116A4C"/>
<rect x="148.7" y="286.85" width="3" height="3" fill="#116A4C"/>
<rect x="148.7" y="288.56" width="3" height="3" fill="#116A4C"/>
<line x1="134.8" y1="249.8" x2="151.3" y2="249.8" stroke="#484848" stroke-width="1.4" />
<text x="143.05" y="248.3" font-size="5.6" text-anchor="middle" fill="#231f20"  stroke="#231f20" stroke-width="0.06">*</text>
<line x1="166.2" y1="239.5" x2="166.2" y2="297.29999999999995" stroke="#231f20" stroke-width="1.0" />
<line x1="163.6" y1="296.9" x2="166.2" y2="296.9" stroke="#231f20" stroke-width="1.0" />
<line x1="163.6" y1="282.65" x2="166.2" y2="282.65" stroke="#231f20" stroke-width="1.0" />
<line x1="163.6" y1="268.4" x2="166.2" y2="268.4" stroke="#231f20" stroke-width="1.0" />
<line x1="163.6" y1="254.15" x2="166.2" y2="254.15" stroke="#231f20" stroke-width="1.0" />
<line x1="163.6" y1="239.9" x2="166.2" y2="239.9" stroke="#231f20" stroke-width="1.0" />
<line x1="165.7" y1="296.9" x2="202.3" y2="296.9" stroke="#231f20" stroke-width="1.2" />
<text x="182.3" y="235.3" font-size="7" text-anchor="middle" fill="#2a2a2a" textLength="15.2" lengthAdjust="spacingAndGlyphs"  stroke="#2a2a2a" stroke-width="0.06">Day 6</text>
<line x1="176.8" y1="262.41499999999996" x2="192.1" y2="292.90999999999997" stroke="#262626" stroke-width="0.85" />
<line x1="176.8" y1="269.53999999999996" x2="192.1" y2="293.195" stroke="#262626" stroke-width="0.85" />
<line x1="176.8" y1="284.93" x2="192.1" y2="293.47999999999996" stroke="#262626" stroke-width="0.85" />
<line x1="176.8" y1="287.21" x2="192.1" y2="293.765" stroke="#262626" stroke-width="0.85" />
<line x1="176.8" y1="288.34999999999997" x2="192.1" y2="294.04999999999995" stroke="#262626" stroke-width="0.85" />
<line x1="176.8" y1="288.91999999999996" x2="192.1" y2="294.04999999999995" stroke="#262626" stroke-width="0.85" />
<circle cx="176.8" cy="262.41" r="1.5" fill="#F39200"/>
<circle cx="176.8" cy="269.54" r="1.5" fill="#F39200"/>
<circle cx="176.8" cy="284.93" r="1.5" fill="#F39200"/>
<circle cx="176.8" cy="287.21" r="1.5" fill="#F39200"/>
<circle cx="176.8" cy="288.35" r="1.5" fill="#F39200"/>
<circle cx="176.8" cy="288.92" r="1.5" fill="#F39200"/>
<rect x="190.6" y="291.41" width="3" height="3" fill="#116A4C"/>
<rect x="190.6" y="291.69" width="3" height="3" fill="#116A4C"/>
<rect x="190.6" y="291.98" width="3" height="3" fill="#116A4C"/>
<rect x="190.6" y="292.26" width="3" height="3" fill="#116A4C"/>
<rect x="190.6" y="292.55" width="3" height="3" fill="#116A4C"/>
<rect x="190.6" y="292.55" width="3" height="3" fill="#116A4C"/>
<line x1="176.4" y1="249.8" x2="194" y2="249.8" stroke="#484848" stroke-width="1.4" />
<text x="185.2" y="248.3" font-size="5.6" text-anchor="middle" fill="#231f20"  stroke="#231f20" stroke-width="0.06">*</text>
<line x1="224.3" y1="239.5" x2="224.3" y2="297.29999999999995" stroke="#231f20" stroke-width="1.0" />
<line x1="221.70000000000002" y1="296.9" x2="224.3" y2="296.9" stroke="#231f20" stroke-width="1.0" />
<text x="219.5" y="299.31199999999995" font-size="6.7" text-anchor="end" fill="#262626"  stroke="#262626" stroke-width="0.06">0</text>
<line x1="221.70000000000002" y1="282.65" x2="224.3" y2="282.65" stroke="#231f20" stroke-width="1.0" />
<text x="219.5" y="285.06199999999995" font-size="6.7" text-anchor="end" fill="#262626"  stroke="#262626" stroke-width="0.06">10</text>
<line x1="221.70000000000002" y1="268.4" x2="224.3" y2="268.4" stroke="#231f20" stroke-width="1.0" />
<text x="219.5" y="270.81199999999995" font-size="6.7" text-anchor="end" fill="#262626"  stroke="#262626" stroke-width="0.06">20</text>
<line x1="221.70000000000002" y1="254.15" x2="224.3" y2="254.15" stroke="#231f20" stroke-width="1.0" />
<text x="219.5" y="256.562" font-size="6.7" text-anchor="end" fill="#262626"  stroke="#262626" stroke-width="0.06">30</text>
<line x1="221.70000000000002" y1="239.9" x2="224.3" y2="239.9" stroke="#231f20" stroke-width="1.0" />
<text x="219.5" y="242.312" font-size="6.7" text-anchor="end" fill="#262626"  stroke="#262626" stroke-width="0.06">40</text>
<line x1="223.8" y1="296.9" x2="262" y2="296.9" stroke="#231f20" stroke-width="1.2" />
<text x="241.9" y="235.3" font-size="7" text-anchor="middle" fill="#2a2a2a" textLength="15.2" lengthAdjust="spacingAndGlyphs"  stroke="#2a2a2a" stroke-width="0.06">Day 2</text>
<line x1="235.2" y1="247.025" x2="250.8" y2="289.775" stroke="#262626" stroke-width="0.85" />
<line x1="235.2" y1="265.55" x2="250.8" y2="282.65" stroke="#262626" stroke-width="0.85" />
<line x1="235.2" y1="269.825" x2="250.8" y2="291.2" stroke="#262626" stroke-width="0.85" />
<line x1="235.2" y1="272.675" x2="250.8" y2="284.075" stroke="#262626" stroke-width="0.85" />
<line x1="235.2" y1="275.525" x2="250.8" y2="286.92499999999995" stroke="#262626" stroke-width="0.85" />
<line x1="235.2" y1="277.66249999999997" x2="250.8" y2="281.22499999999997" stroke="#262626" stroke-width="0.85" />
<circle cx="235.2" cy="247.03" r="1.5" fill="#F39200"/>
<circle cx="235.2" cy="265.55" r="1.5" fill="#F39200"/>
<circle cx="235.2" cy="269.82" r="1.5" fill="#F39200"/>
<circle cx="235.2" cy="272.68" r="1.5" fill="#F39200"/>
<circle cx="235.2" cy="275.52" r="1.5" fill="#F39200"/>
<circle cx="235.2" cy="277.66" r="1.5" fill="#F39200"/>
<rect x="249.3" y="288.27" width="3" height="3" fill="#116A4C"/>
<rect x="249.3" y="281.15" width="3" height="3" fill="#116A4C"/>
<rect x="249.3" y="289.70" width="3" height="3" fill="#116A4C"/>
<rect x="249.3" y="282.57" width="3" height="3" fill="#116A4C"/>
<rect x="249.3" y="285.42" width="3" height="3" fill="#116A4C"/>
<rect x="249.3" y="279.72" width="3" height="3" fill="#116A4C"/>
<line x1="234.9" y1="244.4" x2="252.1" y2="244.4" stroke="#484848" stroke-width="1.4" />
<text x="243.5" y="242.9" font-size="5.6" text-anchor="middle" fill="#231f20"  stroke="#231f20" stroke-width="0.06">**</text>
<line x1="267" y1="239.5" x2="267" y2="297.29999999999995" stroke="#231f20" stroke-width="1.0" />
<line x1="264.4" y1="296.9" x2="267" y2="296.9" stroke="#231f20" stroke-width="1.0" />
<line x1="264.4" y1="282.65" x2="267" y2="282.65" stroke="#231f20" stroke-width="1.0" />
<line x1="264.4" y1="268.4" x2="267" y2="268.4" stroke="#231f20" stroke-width="1.0" />
<line x1="264.4" y1="254.15" x2="267" y2="254.15" stroke="#231f20" stroke-width="1.0" />
<line x1="264.4" y1="239.9" x2="267" y2="239.9" stroke="#231f20" stroke-width="1.0" />
<line x1="266.5" y1="296.9" x2="303.8" y2="296.9" stroke="#231f20" stroke-width="1.2" />
<text x="283" y="235.3" font-size="7" text-anchor="middle" fill="#2a2a2a" textLength="15.2" lengthAdjust="spacingAndGlyphs"  stroke="#2a2a2a" stroke-width="0.06">Day 6</text>
<line x1="277" y1="262.7" x2="293.3" y2="294.62" stroke="#262626" stroke-width="0.85" />
<line x1="277" y1="264.125" x2="293.3" y2="294.7625" stroke="#262626" stroke-width="0.85" />
<line x1="277" y1="284.075" x2="293.3" y2="294.905" stroke="#262626" stroke-width="0.85" />
<line x1="277" y1="285.5" x2="293.3" y2="295.04749999999996" stroke="#262626" stroke-width="0.85" />
<line x1="277" y1="287.6375" x2="293.3" y2="295.19" stroke="#262626" stroke-width="0.85" />
<line x1="277" y1="288.34999999999997" x2="293.3" y2="295.3325" stroke="#262626" stroke-width="0.85" />
<circle cx="277" cy="262.70" r="1.5" fill="#F39200"/>
<circle cx="277" cy="264.12" r="1.5" fill="#F39200"/>
<circle cx="277" cy="284.07" r="1.5" fill="#F39200"/>
<circle cx="277" cy="285.50" r="1.5" fill="#F39200"/>
<circle cx="277" cy="287.64" r="1.5" fill="#F39200"/>
<circle cx="277" cy="288.35" r="1.5" fill="#F39200"/>
<rect x="291.8" y="293.12" width="3" height="3" fill="#116A4C"/>
<rect x="291.8" y="293.26" width="3" height="3" fill="#116A4C"/>
<rect x="291.8" y="293.40" width="3" height="3" fill="#116A4C"/>
<rect x="291.8" y="293.55" width="3" height="3" fill="#116A4C"/>
<rect x="291.8" y="293.69" width="3" height="3" fill="#116A4C"/>
<rect x="291.8" y="293.83" width="3" height="3" fill="#116A4C"/>
<line x1="276.4" y1="244.4" x2="294" y2="244.4" stroke="#484848" stroke-width="1.4" />
<text x="285.2" y="242.9" font-size="5.6" text-anchor="middle" fill="#231f20"  stroke="#231f20" stroke-width="0.06">*</text>
<line x1="321.2" y1="239.5" x2="321.2" y2="297.29999999999995" stroke="#231f20" stroke-width="1.0" />
<line x1="318.59999999999997" y1="296.9" x2="321.2" y2="296.9" stroke="#231f20" stroke-width="1.0" />
<text x="316.4" y="299.31199999999995" font-size="6.7" text-anchor="end" fill="#262626"  stroke="#262626" stroke-width="0.06">0</text>
<line x1="318.59999999999997" y1="282.65" x2="321.2" y2="282.65" stroke="#231f20" stroke-width="1.0" />
<text x="316.4" y="285.06199999999995" font-size="6.7" text-anchor="end" fill="#262626"  stroke="#262626" stroke-width="0.06">2</text>
<line x1="318.59999999999997" y1="268.4" x2="321.2" y2="268.4" stroke="#231f20" stroke-width="1.0" />
<text x="316.4" y="270.81199999999995" font-size="6.7" text-anchor="end" fill="#262626"  stroke="#262626" stroke-width="0.06">4</text>
<line x1="318.59999999999997" y1="254.15" x2="321.2" y2="254.15" stroke="#231f20" stroke-width="1.0" />
<text x="316.4" y="256.562" font-size="6.7" text-anchor="end" fill="#262626"  stroke="#262626" stroke-width="0.06">6</text>
<line x1="318.59999999999997" y1="239.9" x2="321.2" y2="239.9" stroke="#231f20" stroke-width="1.0" />
<text x="316.4" y="242.312" font-size="6.7" text-anchor="end" fill="#262626"  stroke="#262626" stroke-width="0.06">8</text>
<line x1="320.7" y1="296.9" x2="357.7" y2="296.9" stroke="#231f20" stroke-width="1.2" />
<text x="338.6" y="235.3" font-size="7" text-anchor="middle" fill="#2a2a2a" textLength="15.2" lengthAdjust="spacingAndGlyphs"  stroke="#2a2a2a" stroke-width="0.06">Day 2</text>
<line x1="331.5" y1="261.275" x2="347.5" y2="284.78749999999997" stroke="#262626" stroke-width="0.85" />
<line x1="331.5" y1="269.1125" x2="347.5" y2="287.6375" stroke="#262626" stroke-width="0.85" />
<line x1="331.5" y1="276.2375" x2="347.5" y2="289.0625" stroke="#262626" stroke-width="0.85" />
<line x1="331.5" y1="286.2125" x2="347.5" y2="291.2" stroke="#262626" stroke-width="0.85" />
<line x1="331.5" y1="287.6375" x2="347.5" y2="292.625" stroke="#262626" stroke-width="0.85" />
<line x1="331.5" y1="292.625" x2="347.5" y2="293.3375" stroke="#262626" stroke-width="0.85" />
<circle cx="331.5" cy="261.27" r="1.5" fill="#F39200"/>
<circle cx="331.5" cy="269.11" r="1.5" fill="#F39200"/>
<circle cx="331.5" cy="276.24" r="1.5" fill="#F39200"/>
<circle cx="331.5" cy="286.21" r="1.5" fill="#F39200"/>
<circle cx="331.5" cy="287.64" r="1.5" fill="#F39200"/>
<circle cx="331.5" cy="292.62" r="1.5" fill="#F39200"/>
<rect x="346.0" y="283.29" width="3" height="3" fill="#116A4C"/>
<rect x="346.0" y="286.14" width="3" height="3" fill="#116A4C"/>
<rect x="346.0" y="287.56" width="3" height="3" fill="#116A4C"/>
<rect x="346.0" y="289.70" width="3" height="3" fill="#116A4C"/>
<rect x="346.0" y="291.12" width="3" height="3" fill="#116A4C"/>
<rect x="346.0" y="291.84" width="3" height="3" fill="#116A4C"/>
<line x1="363.5" y1="239.5" x2="363.5" y2="297.29999999999995" stroke="#231f20" stroke-width="1.0" />
<line x1="360.9" y1="296.9" x2="363.5" y2="296.9" stroke="#231f20" stroke-width="1.0" />
<line x1="360.9" y1="282.65" x2="363.5" y2="282.65" stroke="#231f20" stroke-width="1.0" />
<line x1="360.9" y1="268.4" x2="363.5" y2="268.4" stroke="#231f20" stroke-width="1.0" />
<line x1="360.9" y1="254.15" x2="363.5" y2="254.15" stroke="#231f20" stroke-width="1.0" />
<line x1="360.9" y1="239.9" x2="363.5" y2="239.9" stroke="#231f20" stroke-width="1.0" />
<line x1="363.0" y1="296.9" x2="399.8" y2="296.9" stroke="#231f20" stroke-width="1.2" />
<text x="379.7" y="235.3" font-size="7" text-anchor="middle" fill="#2a2a2a" textLength="15.2" lengthAdjust="spacingAndGlyphs"  stroke="#2a2a2a" stroke-width="0.06">Day 6</text>
<line x1="373.7" y1="245.6" x2="390.2" y2="286.2125" stroke="#262626" stroke-width="0.85" />
<line x1="373.7" y1="269.1125" x2="390.2" y2="273.3875" stroke="#262626" stroke-width="0.85" />
<line x1="373.7" y1="271.25" x2="390.2" y2="280.5125" stroke="#262626" stroke-width="0.85" />
<line x1="373.7" y1="272.675" x2="390.2" y2="282.65" stroke="#262626" stroke-width="0.85" />
<line x1="373.7" y1="274.09999999999997" x2="390.2" y2="288.34999999999997" stroke="#262626" stroke-width="0.85" />
<line x1="373.7" y1="281.22499999999997" x2="390.2" y2="293.3375" stroke="#262626" stroke-width="0.85" />
<circle cx="373.7" cy="245.60" r="1.5" fill="#F39200"/>
<circle cx="373.7" cy="269.11" r="1.5" fill="#F39200"/>
<circle cx="373.7" cy="271.25" r="1.5" fill="#F39200"/>
<circle cx="373.7" cy="272.68" r="1.5" fill="#F39200"/>
<circle cx="373.7" cy="274.10" r="1.5" fill="#F39200"/>
<circle cx="373.7" cy="281.22" r="1.5" fill="#F39200"/>
<rect x="388.7" y="284.71" width="3" height="3" fill="#116A4C"/>
<rect x="388.7" y="271.89" width="3" height="3" fill="#116A4C"/>
<rect x="388.7" y="279.01" width="3" height="3" fill="#116A4C"/>
<rect x="388.7" y="281.15" width="3" height="3" fill="#116A4C"/>
<rect x="388.7" y="286.85" width="3" height="3" fill="#116A4C"/>
<rect x="388.7" y="291.84" width="3" height="3" fill="#116A4C"/>
<line x1="372" y1="242.4" x2="389.7" y2="242.4" stroke="#484848" stroke-width="1.4" />
<text x="380.85" y="240.9" font-size="5.6" text-anchor="middle" fill="#231f20"  stroke="#231f20" stroke-width="0.06">*</text>
<line x1="429" y1="239.5" x2="429" y2="297.29999999999995" stroke="#231f20" stroke-width="1.0" />
<line x1="426.4" y1="296.9" x2="429" y2="296.9" stroke="#231f20" stroke-width="1.0" />
<text x="424.2" y="299.31199999999995" font-size="6.7" text-anchor="end" fill="#262626"  stroke="#262626" stroke-width="0.06">0</text>
<line x1="426.4" y1="285.5" x2="429" y2="285.5" stroke="#231f20" stroke-width="1.0" />
<text x="424.2" y="287.912" font-size="6.7" text-anchor="end" fill="#262626"  stroke="#262626" stroke-width="0.06">500</text>
<line x1="426.4" y1="274.09999999999997" x2="429" y2="274.09999999999997" stroke="#231f20" stroke-width="1.0" />
<text x="424.2" y="276.51199999999994" font-size="6.7" text-anchor="end" fill="#262626"  stroke="#262626" stroke-width="0.06">1000</text>
<line x1="426.4" y1="262.7" x2="429" y2="262.7" stroke="#231f20" stroke-width="1.0" />
<text x="424.2" y="265.11199999999997" font-size="6.7" text-anchor="end" fill="#262626"  stroke="#262626" stroke-width="0.06">1500</text>
<line x1="426.4" y1="251.3" x2="429" y2="251.3" stroke="#231f20" stroke-width="1.0" />
<text x="424.2" y="253.71200000000002" font-size="6.7" text-anchor="end" fill="#262626"  stroke="#262626" stroke-width="0.06">2000</text>
<line x1="426.4" y1="239.9" x2="429" y2="239.9" stroke="#231f20" stroke-width="1.0" />
<text x="424.2" y="242.312" font-size="6.7" text-anchor="end" fill="#262626"  stroke="#262626" stroke-width="0.06">2500</text>
<line x1="428.5" y1="296.9" x2="466" y2="296.9" stroke="#231f20" stroke-width="1.2" />
<text x="446.6" y="235.3" font-size="7" text-anchor="middle" fill="#2a2a2a" textLength="15.2" lengthAdjust="spacingAndGlyphs"  stroke="#2a2a2a" stroke-width="0.06">Day 2</text>
<line x1="439.9" y1="251.3" x2="455.5" y2="295.532" stroke="#262626" stroke-width="0.85" />
<line x1="439.9" y1="258.14" x2="455.5" y2="290.51599999999996" stroke="#262626" stroke-width="0.85" />
<line x1="439.9" y1="280.94" x2="455.5" y2="292.34" stroke="#262626" stroke-width="0.85" />
<line x1="439.9" y1="283.21999999999997" x2="455.5" y2="293.47999999999996" stroke="#262626" stroke-width="0.85" />
<line x1="439.9" y1="286.64" x2="455.5" y2="294.62" stroke="#262626" stroke-width="0.85" />
<line x1="439.9" y1="288.91999999999996" x2="455.5" y2="295.988" stroke="#262626" stroke-width="0.85" />
<circle cx="439.9" cy="251.30" r="1.5" fill="#F39200"/>
<circle cx="439.9" cy="258.14" r="1.5" fill="#F39200"/>
<circle cx="439.9" cy="280.94" r="1.5" fill="#F39200"/>
<circle cx="439.9" cy="283.22" r="1.5" fill="#F39200"/>
<circle cx="439.9" cy="286.64" r="1.5" fill="#F39200"/>
<circle cx="439.9" cy="288.92" r="1.5" fill="#F39200"/>
<rect x="454.0" y="294.03" width="3" height="3" fill="#116A4C"/>
<rect x="454.0" y="289.02" width="3" height="3" fill="#116A4C"/>
<rect x="454.0" y="290.84" width="3" height="3" fill="#116A4C"/>
<rect x="454.0" y="291.98" width="3" height="3" fill="#116A4C"/>
<rect x="454.0" y="293.12" width="3" height="3" fill="#116A4C"/>
<rect x="454.0" y="294.49" width="3" height="3" fill="#116A4C"/>
<line x1="439.9" y1="246.6" x2="457.5" y2="246.6" stroke="#484848" stroke-width="1.4" />
<text x="448.7" y="245.1" font-size="5.6" text-anchor="middle" fill="#231f20"  stroke="#231f20" stroke-width="0.06">*</text>
<line x1="471.3" y1="239.5" x2="471.3" y2="297.29999999999995" stroke="#231f20" stroke-width="1.0" />
<line x1="468.7" y1="296.9" x2="471.3" y2="296.9" stroke="#231f20" stroke-width="1.0" />
<line x1="468.7" y1="285.5" x2="471.3" y2="285.5" stroke="#231f20" stroke-width="1.0" />
<line x1="468.7" y1="274.09999999999997" x2="471.3" y2="274.09999999999997" stroke="#231f20" stroke-width="1.0" />
<line x1="468.7" y1="262.7" x2="471.3" y2="262.7" stroke="#231f20" stroke-width="1.0" />
<line x1="468.7" y1="251.3" x2="471.3" y2="251.3" stroke="#231f20" stroke-width="1.0" />
<line x1="468.7" y1="239.9" x2="471.3" y2="239.9" stroke="#231f20" stroke-width="1.0" />
<line x1="470.8" y1="296.9" x2="508" y2="296.9" stroke="#231f20" stroke-width="1.2" />
<text x="487.7" y="235.3" font-size="7" text-anchor="middle" fill="#2a2a2a" textLength="15.2" lengthAdjust="spacingAndGlyphs"  stroke="#2a2a2a" stroke-width="0.06">Day 6</text>
<line x1="482" y1="257.0" x2="497.7" y2="295.64599999999996" stroke="#262626" stroke-width="0.85" />
<line x1="482" y1="263.84" x2="497.7" y2="295.76" stroke="#262626" stroke-width="0.85" />
<line x1="482" y1="267.26" x2="497.7" y2="295.87399999999997" stroke="#262626" stroke-width="0.85" />
<line x1="482" y1="270.68" x2="497.7" y2="295.988" stroke="#262626" stroke-width="0.85" />
<line x1="482" y1="275.24" x2="497.7" y2="296.102" stroke="#262626" stroke-width="0.85" />
<line x1="482" y1="284.36" x2="497.7" y2="296.21599999999995" stroke="#262626" stroke-width="0.85" />
<circle cx="482" cy="257.00" r="1.5" fill="#F39200"/>
<circle cx="482" cy="263.84" r="1.5" fill="#F39200"/>
<circle cx="482" cy="267.26" r="1.5" fill="#F39200"/>
<circle cx="482" cy="270.68" r="1.5" fill="#F39200"/>
<circle cx="482" cy="275.24" r="1.5" fill="#F39200"/>
<circle cx="482" cy="284.36" r="1.5" fill="#F39200"/>
<rect x="496.2" y="294.15" width="3" height="3" fill="#116A4C"/>
<rect x="496.2" y="294.26" width="3" height="3" fill="#116A4C"/>
<rect x="496.2" y="294.37" width="3" height="3" fill="#116A4C"/>
<rect x="496.2" y="294.49" width="3" height="3" fill="#116A4C"/>
<rect x="496.2" y="294.60" width="3" height="3" fill="#116A4C"/>
<rect x="496.2" y="294.72" width="3" height="3" fill="#116A4C"/>
<line x1="480.7" y1="246.6" x2="498.7" y2="246.6" stroke="#484848" stroke-width="1.4" />
<text x="489.7" y="245.1" font-size="5.6" text-anchor="middle" fill="#231f20"  stroke="#231f20" stroke-width="0.06">***</text>
</svg>
</body></html>
